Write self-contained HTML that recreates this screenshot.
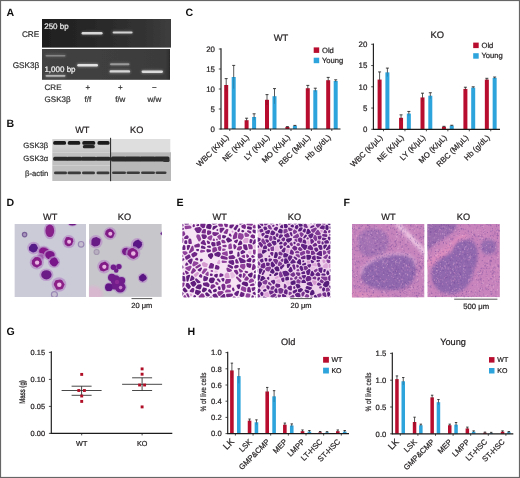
<!DOCTYPE html>
<html><head><meta charset="utf-8"><style>
html,body{margin:0;padding:0;background:#fff;}
svg{display:block;will-change:transform;}
text{font-family:"Liberation Sans",sans-serif;text-rendering:geometricPrecision;}
</style></head><body>
<svg width="520" height="478" viewBox="0 0 520 478">
<defs><filter id="gblur" x="0" y="0" width="100%" height="100%"><feGaussianBlur stdDeviation="0.35"/></filter></defs>
<g filter="url(#gblur)">
<rect width="520" height="478" fill="#fff"/>
<text x="6.5" y="15.6" font-size="10.6" text-anchor="start" font-weight="bold" fill="#111" stroke="#111" stroke-width="0" >A</text>
<text x="6.5" y="127" font-size="10.6" text-anchor="start" font-weight="bold" fill="#111" stroke="#111" stroke-width="0" >B</text>
<text x="185.5" y="16" font-size="10.6" text-anchor="start" font-weight="bold" fill="#111" stroke="#111" stroke-width="0" >C</text>
<text x="6.5" y="206" font-size="10.6" text-anchor="start" font-weight="bold" fill="#111" stroke="#111" stroke-width="0" >D</text>
<text x="176.5" y="205.5" font-size="10.6" text-anchor="start" font-weight="bold" fill="#111" stroke="#111" stroke-width="0" >E</text>
<text x="343.5" y="205.5" font-size="10.6" text-anchor="start" font-weight="bold" fill="#111" stroke="#111" stroke-width="0" >F</text>
<text x="6.5" y="334.8" font-size="10.6" text-anchor="start" font-weight="bold" fill="#111" stroke="#111" stroke-width="0" >G</text>
<text x="187.5" y="334.8" font-size="10.6" text-anchor="start" font-weight="bold" fill="#111" stroke="#111" stroke-width="0" >H</text>
<defs><filter id="b1" x="-20%" y="-100%" width="140%" height="300%"><feGaussianBlur stdDeviation="0.6"/></filter><filter id="b2" x="-20%" y="-100%" width="140%" height="300%"><feGaussianBlur stdDeviation="0.9"/></filter><filter id="b3" x="-50%" y="-50%" width="200%" height="200%"><feGaussianBlur stdDeviation="0.65"/></filter><linearGradient id="gel1" x1="0" y1="0" x2="1" y2="0"><stop offset="0" stop-color="#1e1e1e"/><stop offset="0.4" stop-color="#282828"/><stop offset="0.8" stop-color="#333"/><stop offset="1" stop-color="#3e3e3e"/></linearGradient><linearGradient id="gel2" x1="0" y1="0" x2="1" y2="0"><stop offset="0" stop-color="#424242"/><stop offset="0.6" stop-color="#3e3e3e"/><stop offset="0.97" stop-color="#3a3a3a"/><stop offset="1" stop-color="#2a2a2a"/></linearGradient></defs>
<rect x="42" y="19" width="129" height="28.6" fill="url(#gel1)" />
<rect x="42" y="49.0" width="128" height="30.8" fill="url(#gel2)" />
<rect x="81.1" y="31.2" width="22" height="4.0" rx="1.5" fill="#d8d8d8" opacity="0.25" filter="url(#b2)"/>
<rect x="81.6" y="32.0" width="21" height="2.4" rx="1.2" fill="#d8d8d8" opacity="1" filter="url(#b1)"/>
<rect x="112.1" y="30.599999999999998" width="21" height="3.7" rx="1.5" fill="#d2d2d2" opacity="0.25" filter="url(#b2)"/>
<rect x="112.6" y="31.4" width="20" height="2.1" rx="1.2" fill="#d2d2d2" opacity="1" filter="url(#b1)"/>
<rect x="45.0" y="54.1" width="21" height="3.1" rx="1.5" fill="#858585" opacity="0.35" filter="url(#b2)"/>
<rect x="45.5" y="54.9" width="20" height="1.5" rx="1.2" fill="#858585" opacity="1" filter="url(#b1)"/>
<rect x="76.8" y="63.3" width="21.7" height="4.0" rx="1.5" fill="#e2e2e2" opacity="0.35" filter="url(#b2)"/>
<rect x="77.3" y="64.1" width="20.7" height="2.4" rx="1.2" fill="#e2e2e2" opacity="1" filter="url(#b1)"/>
<rect x="109.5" y="62.5" width="20.5" height="3.5" rx="1.5" fill="#9a9a9a" opacity="0.35" filter="url(#b2)"/>
<rect x="110" y="63.3" width="19.5" height="1.9" rx="1.2" fill="#9a9a9a" opacity="1" filter="url(#b1)"/>
<rect x="109.1" y="69.4" width="21.5" height="4.0" rx="1.5" fill="#d6d6d6" opacity="0.35" filter="url(#b2)"/>
<rect x="109.6" y="70.2" width="20.5" height="2.4" rx="1.2" fill="#d6d6d6" opacity="1" filter="url(#b1)"/>
<rect x="141.1" y="69.8" width="22.4" height="3.9" rx="1.5" fill="#dadada" opacity="0.35" filter="url(#b2)"/>
<rect x="141.6" y="70.6" width="21.4" height="2.3" rx="1.2" fill="#dadada" opacity="1" filter="url(#b1)"/>
<rect x="45.0" y="74.10000000000001" width="21" height="3.4000000000000004" rx="1.5" fill="#b4b4b4" opacity="0.35" filter="url(#b2)"/>
<rect x="45.5" y="74.9" width="20" height="1.8" rx="1.2" fill="#b4b4b4" opacity="1" filter="url(#b1)"/>
<text x="44.2" y="28.9" font-size="8" text-anchor="start" font-weight="normal" fill="#ececec" stroke="#ececec" stroke-width="0.22" >250 bp</text>
<text x="44.4" y="72.3" font-size="8" text-anchor="start" font-weight="normal" fill="#f4f4f4" stroke="#f4f4f4" stroke-width="0.22" >1,000 bp</text>
<text x="39.2" y="37" font-size="8.2" text-anchor="end" font-weight="normal" fill="#333" stroke="#333" stroke-width="0.22" >CRE</text>
<text x="39.2" y="68.4" font-size="8.2" text-anchor="end" font-weight="normal" fill="#333" stroke="#333" stroke-width="0.22" >GSK3β</text>
<text x="44.6" y="90" font-size="8" text-anchor="start" font-weight="normal" fill="#333" stroke="#333" stroke-width="0.22" >CRE</text>
<text x="44.6" y="101.5" font-size="8" text-anchor="start" font-weight="normal" fill="#333" stroke="#333" stroke-width="0.22" >GSK3β</text>
<text x="87.9" y="90" font-size="8" text-anchor="middle" font-weight="normal" fill="#333" stroke="#333" stroke-width="0.22" >+</text>
<text x="87.9" y="101.5" font-size="8" text-anchor="middle" font-weight="normal" fill="#333" stroke="#333" stroke-width="0.22" >f/f</text>
<text x="120.3" y="90" font-size="8" text-anchor="middle" font-weight="normal" fill="#333" stroke="#333" stroke-width="0.22" >+</text>
<text x="120.3" y="101.5" font-size="8" text-anchor="middle" font-weight="normal" fill="#333" stroke="#333" stroke-width="0.22" >f/w</text>
<text x="154.3" y="90" font-size="8" text-anchor="middle" font-weight="normal" fill="#333" stroke="#333" stroke-width="0.22" >−</text>
<text x="154.3" y="101.5" font-size="8" text-anchor="middle" font-weight="normal" fill="#333" stroke="#333" stroke-width="0.22" >w/w</text>
<text x="82.3" y="133.2" font-size="9.2" text-anchor="middle" font-weight="normal" fill="#231f20" stroke="#231f20" stroke-width="0.22" >WT</text>
<text x="136.7" y="133.4" font-size="9.2" text-anchor="middle" font-weight="normal" fill="#231f20" stroke="#231f20" stroke-width="0.22" >KO</text>
<text x="48.3" y="147.5" font-size="7.7" text-anchor="end" font-weight="normal" fill="#333" stroke="#333" stroke-width="0.22" >GSK3β</text>
<text x="48.3" y="161.2" font-size="7.7" text-anchor="end" font-weight="normal" fill="#333" stroke="#333" stroke-width="0.22" >GSK3α</text>
<text x="48.3" y="176" font-size="7.7" text-anchor="end" font-weight="normal" fill="#333" stroke="#333" stroke-width="0.22" >β-actin</text>
<linearGradient id="bl1" x1="0" y1="0" x2="0" y2="1"><stop offset="0" stop-color="#d4d4d4"/><stop offset="0.6" stop-color="#d0d0d0"/><stop offset="1" stop-color="#c4c4c4"/></linearGradient>
<rect x="52.3" y="139" width="58.3" height="13.5" fill="url(#bl1)" />
<rect x="52.3" y="152.5" width="58.3" height="13" fill="#c0c0c0" />
<rect x="52.3" y="165.5" width="58.3" height="15.5" fill="#c0c0c0" />
<rect x="110.6" y="139" width="59.7" height="13.2" fill="#dedede" />
<rect x="110.6" y="152.2" width="60.4" height="28.8" fill="#b8b8b8" />
<rect x="53.2" y="141.1" width="12.799999999999997" height="3.6" rx="1.5" fill="#1c1c1c" opacity="1" filter="url(#b3)"/>
<rect x="67.8" y="141.1" width="12.400000000000006" height="3.6" rx="1.5" fill="#1c1c1c" opacity="1" filter="url(#b3)"/>
<rect x="82.3" y="141.1" width="12.900000000000006" height="3.6" rx="1.5" fill="#1c1c1c" opacity="1" filter="url(#b3)"/>
<rect x="97.5" y="141.1" width="12.0" height="3.6" rx="1.5" fill="#1c1c1c" opacity="1" filter="url(#b3)"/>
<rect x="82.8" y="145.0" width="12" height="3.2" rx="1.5" fill="#262626" opacity="1" filter="url(#b3)"/>
<rect x="53.2" y="156.7" width="14.799999999999997" height="4.0" rx="1.5" fill="#2c2c2c" opacity="1" filter="url(#b3)"/>
<rect x="66.5" y="156.7" width="15.5" height="4.0" rx="1.5" fill="#2c2c2c" opacity="1" filter="url(#b3)"/>
<rect x="81" y="156.7" width="15.5" height="4.0" rx="1.5" fill="#2c2c2c" opacity="1" filter="url(#b3)"/>
<rect x="95.5" y="156.7" width="15.0" height="4.0" rx="1.5" fill="#2c2c2c" opacity="1" filter="url(#b3)"/>
<rect x="111" y="156.6" width="15" height="4.8" rx="1.5" fill="#2c2c2c" opacity="1" filter="url(#b3)"/>
<rect x="124.5" y="156.6" width="16.5" height="4.8" rx="1.5" fill="#2c2c2c" opacity="1" filter="url(#b3)"/>
<rect x="139.5" y="156.6" width="16.0" height="4.8" rx="1.5" fill="#2c2c2c" opacity="1" filter="url(#b3)"/>
<rect x="154" y="156.6" width="15.5" height="4.8" rx="1.5" fill="#2c2c2c" opacity="1" filter="url(#b3)"/>
<rect x="163" y="159.5" width="6.5" height="2.5" rx="1.5" fill="#333" opacity="1" filter="url(#b3)"/>
<rect x="54" y="171.6" width="13" height="2.7" rx="1.5" fill="#3a3a3a" opacity="1" filter="url(#b3)"/>
<rect x="67.5" y="171.6" width="13.5" height="2.7" rx="1.5" fill="#3a3a3a" opacity="1" filter="url(#b3)"/>
<rect x="82" y="171.6" width="13" height="2.7" rx="1.5" fill="#3a3a3a" opacity="1" filter="url(#b3)"/>
<rect x="96.5" y="171.6" width="13.0" height="2.7" rx="1.5" fill="#3a3a3a" opacity="1" filter="url(#b3)"/>
<rect x="112" y="171.4" width="14" height="2.6" rx="1.5" fill="#3a3a3a" opacity="1" filter="url(#b3)"/>
<rect x="126.5" y="171.4" width="13.5" height="2.6" rx="1.5" fill="#3a3a3a" opacity="1" filter="url(#b3)"/>
<rect x="141" y="171.4" width="14" height="2.6" rx="1.5" fill="#3a3a3a" opacity="1" filter="url(#b3)"/>
<rect x="155.5" y="171.4" width="11.0" height="2.6" rx="1.5" fill="#3a3a3a" opacity="1" filter="url(#b3)"/>
<line x1="110.6" y1="137.8" x2="110.6" y2="181.2" stroke="#222" stroke-width="1.0" />
<line x1="221" y1="48.2" x2="221" y2="129.5" stroke="#1a1a1a" stroke-width="1.15" />
<line x1="218.8" y1="129.0" x2="221" y2="129.0" stroke="#222" stroke-width="0.8" />
<text x="215.0" y="131.7" font-size="7.9" text-anchor="end" font-weight="normal" fill="#231f20" stroke="#231f20" stroke-width="0.22" >0</text>
<line x1="218.8" y1="109.0" x2="221" y2="109.0" stroke="#222" stroke-width="0.8" />
<text x="215.0" y="111.7" font-size="7.9" text-anchor="end" font-weight="normal" fill="#231f20" stroke="#231f20" stroke-width="0.22" >5</text>
<line x1="218.8" y1="89.0" x2="221" y2="89.0" stroke="#222" stroke-width="0.8" />
<text x="215.0" y="91.7" font-size="7.9" text-anchor="end" font-weight="normal" fill="#231f20" stroke="#231f20" stroke-width="0.22" >10</text>
<line x1="218.8" y1="69.0" x2="221" y2="69.0" stroke="#222" stroke-width="0.8" />
<text x="215.0" y="71.7" font-size="7.9" text-anchor="end" font-weight="normal" fill="#231f20" stroke="#231f20" stroke-width="0.22" >15</text>
<line x1="218.8" y1="49.0" x2="221" y2="49.0" stroke="#222" stroke-width="0.8" />
<text x="215.0" y="51.7" font-size="7.9" text-anchor="end" font-weight="normal" fill="#231f20" stroke="#231f20" stroke-width="0.22" >20</text>
<rect x="224.20000000000002" y="85.0" width="4" height="44.0" fill="#b8102e" />
<line x1="226.20000000000002" y1="85.0" x2="226.20000000000002" y2="91.4" stroke="#222" stroke-width="0.9" opacity="0.25"/>
<line x1="226.20000000000002" y1="78.6" x2="226.20000000000002" y2="85.3" stroke="#222" stroke-width="0.75" />
<line x1="224.70000000000002" y1="78.6" x2="227.70000000000002" y2="78.6" stroke="#222" stroke-width="0.85" />
<rect x="231.70000000000002" y="77.0" width="4" height="52.0" fill="#2ea4dc" />
<line x1="233.70000000000002" y1="77.0" x2="233.70000000000002" y2="88.6" stroke="#222" stroke-width="0.9" opacity="0.25"/>
<line x1="233.70000000000002" y1="65.4" x2="233.70000000000002" y2="77.3" stroke="#222" stroke-width="0.75" />
<line x1="232.20000000000002" y1="65.4" x2="235.20000000000002" y2="65.4" stroke="#222" stroke-width="0.85" />
<line x1="229.8" y1="129" x2="229.8" y2="131" stroke="#222" stroke-width="0.8" />
<rect x="244.60000000000002" y="120.2" width="4" height="8.8" fill="#b8102e" />
<line x1="246.60000000000002" y1="120.2" x2="246.60000000000002" y2="122.2" stroke="#222" stroke-width="0.9" opacity="0.25"/>
<line x1="246.60000000000002" y1="118.2" x2="246.60000000000002" y2="120.5" stroke="#222" stroke-width="0.75" />
<line x1="245.10000000000002" y1="118.2" x2="248.10000000000002" y2="118.2" stroke="#222" stroke-width="0.85" />
<rect x="252.10000000000002" y="117.0" width="4" height="12.0" fill="#2ea4dc" />
<line x1="254.10000000000002" y1="117.0" x2="254.10000000000002" y2="120.2" stroke="#222" stroke-width="0.9" opacity="0.25"/>
<line x1="254.10000000000002" y1="113.8" x2="254.10000000000002" y2="117.3" stroke="#222" stroke-width="0.75" />
<line x1="252.60000000000002" y1="113.8" x2="255.60000000000002" y2="113.8" stroke="#222" stroke-width="0.85" />
<line x1="250.20000000000002" y1="129" x2="250.20000000000002" y2="131" stroke="#222" stroke-width="0.8" />
<rect x="265.0" y="99.8" width="4" height="29.2" fill="#b8102e" />
<line x1="267.0" y1="99.8" x2="267.0" y2="105.0" stroke="#222" stroke-width="0.9" opacity="0.25"/>
<line x1="267.0" y1="94.6" x2="267.0" y2="100.1" stroke="#222" stroke-width="0.75" />
<line x1="265.5" y1="94.6" x2="268.5" y2="94.6" stroke="#222" stroke-width="0.85" />
<rect x="272.5" y="96.2" width="4" height="32.8" fill="#2ea4dc" />
<line x1="274.5" y1="96.2" x2="274.5" y2="103.80000000000001" stroke="#222" stroke-width="0.9" opacity="0.25"/>
<line x1="274.5" y1="88.6" x2="274.5" y2="96.5" stroke="#222" stroke-width="0.75" />
<line x1="273.0" y1="88.6" x2="276.0" y2="88.6" stroke="#222" stroke-width="0.85" />
<line x1="270.6" y1="129" x2="270.6" y2="131" stroke="#222" stroke-width="0.8" />
<rect x="285.4" y="127.0" width="4" height="2.0" fill="#b8102e" />
<line x1="287.4" y1="127.0" x2="287.4" y2="127.4" stroke="#222" stroke-width="0.9" opacity="0.25"/>
<line x1="287.4" y1="126.6" x2="287.4" y2="127.3" stroke="#222" stroke-width="0.75" />
<line x1="285.9" y1="126.6" x2="288.9" y2="126.6" stroke="#222" stroke-width="0.85" />
<rect x="292.9" y="125.8" width="4" height="3.2" fill="#2ea4dc" />
<line x1="294.9" y1="125.8" x2="294.9" y2="126.2" stroke="#222" stroke-width="0.9" opacity="0.25"/>
<line x1="294.9" y1="125.4" x2="294.9" y2="126.1" stroke="#222" stroke-width="0.75" />
<line x1="293.4" y1="125.4" x2="296.4" y2="125.4" stroke="#222" stroke-width="0.85" />
<line x1="291.0" y1="129" x2="291.0" y2="131" stroke="#222" stroke-width="0.8" />
<rect x="305.79999999999995" y="88.2" width="4" height="40.8" fill="#b8102e" />
<line x1="307.79999999999995" y1="88.2" x2="307.79999999999995" y2="91.0" stroke="#222" stroke-width="0.9" opacity="0.25"/>
<line x1="307.79999999999995" y1="85.4" x2="307.79999999999995" y2="88.5" stroke="#222" stroke-width="0.75" />
<line x1="306.29999999999995" y1="85.4" x2="309.29999999999995" y2="85.4" stroke="#222" stroke-width="0.85" />
<rect x="313.29999999999995" y="90.2" width="4" height="38.8" fill="#2ea4dc" />
<line x1="315.29999999999995" y1="90.2" x2="315.29999999999995" y2="92.2" stroke="#222" stroke-width="0.9" opacity="0.25"/>
<line x1="315.29999999999995" y1="88.2" x2="315.29999999999995" y2="90.5" stroke="#222" stroke-width="0.75" />
<line x1="313.79999999999995" y1="88.2" x2="316.79999999999995" y2="88.2" stroke="#222" stroke-width="0.85" />
<line x1="311.4" y1="129" x2="311.4" y2="131" stroke="#222" stroke-width="0.8" />
<rect x="326.2" y="80.2" width="4" height="48.8" fill="#b8102e" />
<line x1="328.2" y1="80.2" x2="328.2" y2="83.0" stroke="#222" stroke-width="0.9" opacity="0.25"/>
<line x1="328.2" y1="77.4" x2="328.2" y2="80.5" stroke="#222" stroke-width="0.75" />
<line x1="326.7" y1="77.4" x2="329.7" y2="77.4" stroke="#222" stroke-width="0.85" />
<rect x="333.7" y="81.0" width="4" height="48.0" fill="#2ea4dc" />
<line x1="335.7" y1="81.0" x2="335.7" y2="82.2" stroke="#222" stroke-width="0.9" opacity="0.25"/>
<line x1="335.7" y1="79.8" x2="335.7" y2="81.3" stroke="#222" stroke-width="0.75" />
<line x1="334.2" y1="79.8" x2="337.2" y2="79.8" stroke="#222" stroke-width="0.85" />
<line x1="331.8" y1="129" x2="331.8" y2="131" stroke="#222" stroke-width="0.8" />
<line x1="220.5" y1="129" x2="340.5" y2="129" stroke="#1a1a1a" stroke-width="1.15" />
<text x="0" y="0" font-size="7.8" text-anchor="end" fill="#231f20" stroke="#231f20" stroke-width="0.22" transform="translate(229.3,137.8) rotate(-45)">WBC (K/μL)</text>
<text x="0" y="0" font-size="7.8" text-anchor="end" fill="#231f20" stroke="#231f20" stroke-width="0.22" transform="translate(249.70000000000002,137.8) rotate(-45)">NE (K/μL)</text>
<text x="0" y="0" font-size="7.8" text-anchor="end" fill="#231f20" stroke="#231f20" stroke-width="0.22" transform="translate(270.1,137.8) rotate(-45)">LY (K/μL)</text>
<text x="0" y="0" font-size="7.8" text-anchor="end" fill="#231f20" stroke="#231f20" stroke-width="0.22" transform="translate(290.5,137.8) rotate(-45)">MO (K/μL)</text>
<text x="0" y="0" font-size="7.8" text-anchor="end" fill="#231f20" stroke="#231f20" stroke-width="0.22" transform="translate(310.9,137.8) rotate(-45)">RBC (M/μL)</text>
<text x="0" y="0" font-size="7.8" text-anchor="end" fill="#231f20" stroke="#231f20" stroke-width="0.22" transform="translate(331.3,137.8) rotate(-45)">Hb (g/dL)</text>
<text x="281" y="41.2" font-size="9.4" text-anchor="middle" font-weight="normal" fill="#231f20" stroke="#231f20" stroke-width="0.22" >WT</text>
<rect x="313.7" y="47.4" width="5.5" height="5.5" fill="#b8102e" />
<text x="322.0" y="52.5" font-size="7.6" text-anchor="start" font-weight="normal" fill="#231f20" stroke="#231f20" stroke-width="0.22" >Old</text>
<rect x="313.7" y="57.7" width="5.5" height="5.5" fill="#2ea4dc" />
<text x="322.0" y="62.800000000000004" font-size="7.6" text-anchor="start" font-weight="normal" fill="#231f20" stroke="#231f20" stroke-width="0.22" >Young</text>
<line x1="373.4" y1="43.500000000000014" x2="373.4" y2="129.8" stroke="#1a1a1a" stroke-width="1.15" />
<line x1="371.2" y1="129.3" x2="373.4" y2="129.3" stroke="#222" stroke-width="0.8" />
<text x="367.4" y="132.0" font-size="7.9" text-anchor="end" font-weight="normal" fill="#231f20" stroke="#231f20" stroke-width="0.22" >0</text>
<line x1="371.2" y1="108.05000000000001" x2="373.4" y2="108.05000000000001" stroke="#222" stroke-width="0.8" />
<text x="367.4" y="110.75000000000001" font-size="7.9" text-anchor="end" font-weight="normal" fill="#231f20" stroke="#231f20" stroke-width="0.22" >5</text>
<line x1="371.2" y1="86.80000000000001" x2="373.4" y2="86.80000000000001" stroke="#222" stroke-width="0.8" />
<text x="367.4" y="89.50000000000001" font-size="7.9" text-anchor="end" font-weight="normal" fill="#231f20" stroke="#231f20" stroke-width="0.22" >10</text>
<line x1="371.2" y1="65.55000000000001" x2="373.4" y2="65.55000000000001" stroke="#222" stroke-width="0.8" />
<text x="367.4" y="68.25000000000001" font-size="7.9" text-anchor="end" font-weight="normal" fill="#231f20" stroke="#231f20" stroke-width="0.22" >15</text>
<line x1="371.2" y1="44.30000000000001" x2="373.4" y2="44.30000000000001" stroke="#222" stroke-width="0.8" />
<text x="367.4" y="47.000000000000014" font-size="7.9" text-anchor="end" font-weight="normal" fill="#231f20" stroke="#231f20" stroke-width="0.22" >20</text>
<rect x="377.6" y="79.57500000000002" width="4" height="49.724999999999994" fill="#b8102e" />
<line x1="379.6" y1="79.57500000000002" x2="379.6" y2="87.22500000000002" stroke="#222" stroke-width="0.9" opacity="0.25"/>
<line x1="379.6" y1="71.92500000000001" x2="379.6" y2="79.87500000000001" stroke="#222" stroke-width="0.75" />
<line x1="378.1" y1="71.92500000000001" x2="381.1" y2="71.92500000000001" stroke="#222" stroke-width="0.85" />
<rect x="385.4" y="72.35000000000001" width="4" height="56.95" fill="#2ea4dc" />
<line x1="387.4" y1="72.35000000000001" x2="387.4" y2="76.60000000000001" stroke="#222" stroke-width="0.9" opacity="0.25"/>
<line x1="387.4" y1="68.10000000000001" x2="387.4" y2="72.65" stroke="#222" stroke-width="0.75" />
<line x1="385.9" y1="68.10000000000001" x2="388.9" y2="68.10000000000001" stroke="#222" stroke-width="0.85" />
<line x1="383.5" y1="129.3" x2="383.5" y2="131.3" stroke="#222" stroke-width="0.8" />
<rect x="399.05" y="117.82500000000002" width="4" height="11.475000000000001" fill="#b8102e" />
<line x1="401.05" y1="117.82500000000002" x2="401.05" y2="120.80000000000001" stroke="#222" stroke-width="0.9" opacity="0.25"/>
<line x1="401.05" y1="114.85000000000001" x2="401.05" y2="118.12500000000001" stroke="#222" stroke-width="0.75" />
<line x1="399.55" y1="114.85000000000001" x2="402.55" y2="114.85000000000001" stroke="#222" stroke-width="0.85" />
<rect x="406.84999999999997" y="113.57500000000002" width="4" height="15.725000000000001" fill="#2ea4dc" />
<line x1="408.84999999999997" y1="113.57500000000002" x2="408.84999999999997" y2="115.70000000000002" stroke="#222" stroke-width="0.9" opacity="0.25"/>
<line x1="408.84999999999997" y1="111.45000000000002" x2="408.84999999999997" y2="113.87500000000001" stroke="#222" stroke-width="0.75" />
<line x1="407.34999999999997" y1="111.45000000000002" x2="410.34999999999997" y2="111.45000000000002" stroke="#222" stroke-width="0.85" />
<line x1="404.95" y1="129.3" x2="404.95" y2="131.3" stroke="#222" stroke-width="0.8" />
<rect x="420.5" y="97.42500000000001" width="4" height="31.875" fill="#b8102e" />
<line x1="422.5" y1="97.42500000000001" x2="422.5" y2="101.67500000000001" stroke="#222" stroke-width="0.9" opacity="0.25"/>
<line x1="422.5" y1="93.17500000000001" x2="422.5" y2="97.72500000000001" stroke="#222" stroke-width="0.75" />
<line x1="421.0" y1="93.17500000000001" x2="424.0" y2="93.17500000000001" stroke="#222" stroke-width="0.85" />
<rect x="428.29999999999995" y="95.72500000000001" width="4" height="33.575" fill="#2ea4dc" />
<line x1="430.29999999999995" y1="95.72500000000001" x2="430.29999999999995" y2="98.7" stroke="#222" stroke-width="0.9" opacity="0.25"/>
<line x1="430.29999999999995" y1="92.75000000000001" x2="430.29999999999995" y2="96.025" stroke="#222" stroke-width="0.75" />
<line x1="428.79999999999995" y1="92.75000000000001" x2="431.79999999999995" y2="92.75000000000001" stroke="#222" stroke-width="0.85" />
<line x1="426.4" y1="129.3" x2="426.4" y2="131.3" stroke="#222" stroke-width="0.8" />
<rect x="441.95000000000005" y="126.75000000000001" width="4" height="2.55" fill="#b8102e" />
<line x1="443.95000000000005" y1="126.75000000000001" x2="443.95000000000005" y2="127.17500000000001" stroke="#222" stroke-width="0.9" opacity="0.25"/>
<line x1="443.95000000000005" y1="126.32500000000002" x2="443.95000000000005" y2="127.05000000000001" stroke="#222" stroke-width="0.75" />
<line x1="442.45000000000005" y1="126.32500000000002" x2="445.45000000000005" y2="126.32500000000002" stroke="#222" stroke-width="0.85" />
<rect x="449.75" y="125.68750000000001" width="4" height="3.6125" fill="#2ea4dc" />
<line x1="451.75" y1="125.68750000000001" x2="451.75" y2="126.11250000000001" stroke="#222" stroke-width="0.9" opacity="0.25"/>
<line x1="451.75" y1="125.26250000000002" x2="451.75" y2="125.98750000000001" stroke="#222" stroke-width="0.75" />
<line x1="450.25" y1="125.26250000000002" x2="453.25" y2="125.26250000000002" stroke="#222" stroke-width="0.85" />
<line x1="447.85" y1="129.3" x2="447.85" y2="131.3" stroke="#222" stroke-width="0.8" />
<rect x="463.40000000000003" y="88.92500000000001" width="4" height="40.375" fill="#b8102e" />
<line x1="465.40000000000003" y1="88.92500000000001" x2="465.40000000000003" y2="90.62500000000001" stroke="#222" stroke-width="0.9" opacity="0.25"/>
<line x1="465.40000000000003" y1="87.22500000000001" x2="465.40000000000003" y2="89.22500000000001" stroke="#222" stroke-width="0.75" />
<line x1="463.90000000000003" y1="87.22500000000001" x2="466.90000000000003" y2="87.22500000000001" stroke="#222" stroke-width="0.85" />
<rect x="471.2" y="87.65" width="4" height="41.650000000000006" fill="#2ea4dc" />
<line x1="473.2" y1="87.65" x2="473.2" y2="88.5" stroke="#222" stroke-width="0.9" opacity="0.25"/>
<line x1="473.2" y1="86.80000000000001" x2="473.2" y2="87.95" stroke="#222" stroke-width="0.75" />
<line x1="471.7" y1="86.80000000000001" x2="474.7" y2="86.80000000000001" stroke="#222" stroke-width="0.85" />
<line x1="469.3" y1="129.3" x2="469.3" y2="131.3" stroke="#222" stroke-width="0.8" />
<rect x="484.85" y="79.57500000000002" width="4" height="49.724999999999994" fill="#b8102e" />
<line x1="486.85" y1="79.57500000000002" x2="486.85" y2="80.85000000000002" stroke="#222" stroke-width="0.9" opacity="0.25"/>
<line x1="486.85" y1="78.30000000000001" x2="486.85" y2="79.87500000000001" stroke="#222" stroke-width="0.75" />
<line x1="485.35" y1="78.30000000000001" x2="488.35" y2="78.30000000000001" stroke="#222" stroke-width="0.85" />
<rect x="492.65" y="77.87500000000001" width="4" height="51.425" fill="#2ea4dc" />
<line x1="494.65" y1="77.87500000000001" x2="494.65" y2="78.72500000000002" stroke="#222" stroke-width="0.9" opacity="0.25"/>
<line x1="494.65" y1="77.025" x2="494.65" y2="78.17500000000001" stroke="#222" stroke-width="0.75" />
<line x1="493.15" y1="77.025" x2="496.15" y2="77.025" stroke="#222" stroke-width="0.85" />
<line x1="490.75" y1="129.3" x2="490.75" y2="131.3" stroke="#222" stroke-width="0.8" />
<line x1="372.9" y1="129.3" x2="500" y2="129.3" stroke="#1a1a1a" stroke-width="1.15" />
<text x="0" y="0" font-size="7.8" text-anchor="end" fill="#231f20" stroke="#231f20" stroke-width="0.22" transform="translate(383.0,138.10000000000002) rotate(-45)">WBC (K/μL)</text>
<text x="0" y="0" font-size="7.8" text-anchor="end" fill="#231f20" stroke="#231f20" stroke-width="0.22" transform="translate(404.45,138.10000000000002) rotate(-45)">NE (K/μL)</text>
<text x="0" y="0" font-size="7.8" text-anchor="end" fill="#231f20" stroke="#231f20" stroke-width="0.22" transform="translate(425.9,138.10000000000002) rotate(-45)">LY (K/μL)</text>
<text x="0" y="0" font-size="7.8" text-anchor="end" fill="#231f20" stroke="#231f20" stroke-width="0.22" transform="translate(447.35,138.10000000000002) rotate(-45)">MO (K/μL)</text>
<text x="0" y="0" font-size="7.8" text-anchor="end" fill="#231f20" stroke="#231f20" stroke-width="0.22" transform="translate(468.8,138.10000000000002) rotate(-45)">RBC (M/μL)</text>
<text x="0" y="0" font-size="7.8" text-anchor="end" fill="#231f20" stroke="#231f20" stroke-width="0.22" transform="translate(490.25,138.10000000000002) rotate(-45)">Hb (g/dL)</text>
<text x="437.2" y="37.6" font-size="9.4" text-anchor="middle" font-weight="normal" fill="#231f20" stroke="#231f20" stroke-width="0.22" >KO</text>
<rect x="473.2" y="42.6" width="5.5" height="5.5" fill="#b8102e" />
<text x="481.5" y="47.7" font-size="7.6" text-anchor="start" font-weight="normal" fill="#231f20" stroke="#231f20" stroke-width="0.22" >Old</text>
<rect x="473.2" y="53.2" width="5.5" height="5.5" fill="#2ea4dc" />
<text x="481.5" y="58.300000000000004" font-size="7.6" text-anchor="start" font-weight="normal" fill="#231f20" stroke="#231f20" stroke-width="0.22" >Young</text>
<text x="50.2" y="219.5" font-size="9.2" text-anchor="middle" font-weight="normal" fill="#231f20" stroke="#231f20" stroke-width="0.22" >WT</text>
<text x="124.5" y="219.5" font-size="9.2" text-anchor="middle" font-weight="normal" fill="#231f20" stroke="#231f20" stroke-width="0.22" >KO</text>
<text x="219.7" y="219.5" font-size="9.2" text-anchor="middle" font-weight="normal" fill="#231f20" stroke="#231f20" stroke-width="0.22" >WT</text>
<text x="294.4" y="219.5" font-size="9.2" text-anchor="middle" font-weight="normal" fill="#231f20" stroke="#231f20" stroke-width="0.22" >KO</text>
<text x="388.4" y="219.5" font-size="9.2" text-anchor="middle" font-weight="normal" fill="#231f20" stroke="#231f20" stroke-width="0.22" >WT</text>
<text x="463.4" y="219.5" font-size="9.2" text-anchor="middle" font-weight="normal" fill="#231f20" stroke="#231f20" stroke-width="0.22" >KO</text>
<line x1="131.5" y1="298.6" x2="152.2" y2="298.6" stroke="#444" stroke-width="0.9" />
<text x="141.8" y="307.6" font-size="7.5" text-anchor="middle" font-weight="normal" fill="#231f20" stroke="#231f20" stroke-width="0.22" >20 μm</text>
<line x1="290.3" y1="298.6" x2="312" y2="298.6" stroke="#444" stroke-width="0.9" />
<text x="301.1" y="307.6" font-size="7.5" text-anchor="middle" font-weight="normal" fill="#231f20" stroke="#231f20" stroke-width="0.22" >20 μm</text>
<line x1="454.2" y1="299.2" x2="497.4" y2="299.2" stroke="#444" stroke-width="0.9" />
<text x="476.2" y="308.6" font-size="7.7" text-anchor="middle" font-weight="normal" fill="#231f20" stroke="#231f20" stroke-width="0.22" >500 μm</text>
<defs><clipPath id="cdw"><rect x="14.4" y="223.9" width="71.6" height="73.2"/></clipPath><clipPath id="cdk"><rect x="88.9" y="223.9" width="72.9" height="73"/></clipPath><clipPath id="cew"><rect x="182.4" y="223.8" width="73.3" height="73.6"/></clipPath><clipPath id="cek"><rect x="257.7" y="223.8" width="72.7" height="73.6"/></clipPath><clipPath id="cfw"><rect x="351.9" y="223.9" width="72.6" height="73.6"/></clipPath><clipPath id="cfk"><rect x="427.3" y="223.9" width="72.6" height="73.4"/></clipPath><filter id="soft" x="-50%" y="-50%" width="200%" height="200%"><feGaussianBlur stdDeviation="0.55"/></filter><filter id="softE" x="0" y="0" width="100%" height="100%"><feGaussianBlur stdDeviation="0.45"/></filter><filter id="soft2" x="-50%" y="-50%" width="200%" height="200%"><feGaussianBlur stdDeviation="1.6"/></filter><filter id="soft3" x="-50%" y="-50%" width="200%" height="200%"><feGaussianBlur stdDeviation="3"/></filter></defs>
<g clip-path="url(#cdw)">
<rect x="14.4" y="223.9" width="71.6" height="73.2" fill="#cbcbd8"/>
<circle cx="24.6" cy="234.6" r="2.2" fill="#a896bc" stroke="#7a6098" stroke-width="1.2" filter="url(#soft)"/>
<circle cx="81.1" cy="244.3" r="2.8" fill="#c4bccf" stroke="#9a88b4" stroke-width="1.2" filter="url(#soft)"/>
<circle cx="54.4" cy="294.6" r="3.0" fill="#c4bccf" stroke="#9a88b4" stroke-width="1.2" filter="url(#soft)"/>
<ellipse cx="49.8" cy="230.8" rx="5.98" ry="8.57" fill="#b890c8" opacity="0.75" filter="url(#soft)" transform="rotate(0 49.8 230.8)"/>
<ellipse cx="49.8" cy="230.8" rx="4.4" ry="6.3" fill="#86208a" filter="url(#soft)" transform="rotate(0 49.8 230.8)"/>
<ellipse cx="72.4" cy="223.0" rx="5.17" ry="3.40" fill="#b890c8" opacity="0.75" filter="url(#soft)" transform="rotate(0 72.4 223.0)"/>
<ellipse cx="72.4" cy="223.0" rx="3.8" ry="2.5" fill="#6a1a82" filter="url(#soft)" transform="rotate(0 72.4 223.0)"/>
<ellipse cx="68.8" cy="241.6" rx="6.53" ry="6.53" fill="#b890c8" opacity="0.75" filter="url(#soft)" transform="rotate(0 68.8 241.6)"/>
<path d="M73.3 241.2 L72.0 244.7 L69.5 246.2 L67.4 246.2 L64.8 244.2 L64.4 241.0 L66.1 237.3 L68.7 237.0 L72.9 238.6Z" fill="#861c86" filter="url(#soft)" transform="translate(0 0) scale(1 1)" />
<ellipse cx="69.1" cy="241.79999999999998" rx="2.02" ry="2.02" fill="#e6b0e0" filter="url(#soft)"/>
<ellipse cx="33.6" cy="248.1" rx="6.39" ry="6.39" fill="#b890c8" opacity="0.75" filter="url(#soft)" transform="rotate(0 33.6 248.1)"/>
<path d="M38.2 248.3 L36.2 251.6 L33.6 252.6 L32.1 252.3 L29.1 250.2 L28.9 247.2 L31.6 244.0 L34.5 243.8 L36.3 244.5Z" fill="#561a88" filter="url(#soft)" transform="translate(0 0) scale(1 1)" />
<ellipse cx="44.2" cy="251.8" rx="7.34" ry="5.85" fill="#b890c8" opacity="0.75" filter="url(#soft)" transform="rotate(20 44.2 251.8)"/>
<ellipse cx="44.2" cy="251.8" rx="5.4" ry="4.3" fill="#86188a" filter="url(#soft)" transform="rotate(20 44.2 251.8)"/>
<ellipse cx="50.0" cy="255.0" rx="6.39" ry="5.58" fill="#b890c8" opacity="0.75" filter="url(#soft)" transform="rotate(0 50.0 255.0)"/>
<ellipse cx="50.0" cy="255.0" rx="4.7" ry="4.1" fill="#7a1888" filter="url(#soft)" transform="rotate(0 50.0 255.0)"/>
<ellipse cx="40.6" cy="257.2" rx="4.08" ry="4.08" fill="#b890c8" opacity="0.75" filter="url(#soft)" transform="rotate(0 40.6 257.2)"/>
<path d="M43.6 257.5 L43.1 258.9 L41.2 260.0 L38.7 259.6 L37.9 258.6 L37.6 256.1 L39.4 254.5 L41.7 254.6 L42.9 255.1Z" fill="#a060b0" filter="url(#soft)" transform="translate(0 0) scale(1 1)" />
<ellipse cx="36.8" cy="262.4" rx="7.07" ry="7.07" fill="#b890c8" opacity="0.75" filter="url(#soft)" transform="rotate(0 36.8 262.4)"/>
<path d="M41.9 261.5 L41.6 264.8 L37.0 267.7 L33.5 266.2 L31.7 263.7 L32.0 260.4 L34.9 257.2 L37.7 257.1 L40.1 258.1Z" fill="#881c88" filter="url(#soft)" transform="translate(0 0) scale(1 1)" />
<ellipse cx="37.099999999999994" cy="262.59999999999997" rx="2.18" ry="2.18" fill="#e8b4e2" filter="url(#soft)"/>
<ellipse cx="54.0" cy="262.0" rx="6.12" ry="6.12" fill="#b890c8" opacity="0.75" filter="url(#soft)" transform="rotate(0 54.0 262.0)"/>
<path d="M58.8 262.4 L56.8 265.3 L55.1 266.5 L52.7 266.3 L50.3 264.1 L49.3 261.4 L51.2 258.7 L54.6 257.3 L56.7 258.5Z" fill="#78188a" filter="url(#soft)" transform="translate(0 0) scale(1 1)" />
<ellipse cx="46.4" cy="274.8" rx="7.07" ry="6.26" fill="#b890c8" opacity="0.75" filter="url(#soft)" transform="rotate(0 46.4 274.8)"/>
<ellipse cx="46.4" cy="274.8" rx="5.2" ry="4.6" fill="#6c1a86" filter="url(#soft)" transform="rotate(0 46.4 274.8)"/>
<ellipse cx="59.0" cy="284.5" rx="7.34" ry="7.34" fill="#b890c8" opacity="0.75" filter="url(#soft)" transform="rotate(0 59.0 284.5)"/>
<path d="M64.7 284.6 L62.7 288.8 L60.5 289.6 L56.5 289.7 L53.9 285.1 L53.9 283.5 L55.7 280.2 L60.1 279.4 L62.1 280.2Z" fill="#8c2088" filter="url(#soft)" transform="translate(0 0) scale(1 1)" />
<ellipse cx="59.3" cy="284.7" rx="2.27" ry="2.27" fill="#eabce6" filter="url(#soft)"/>
</g>
<g clip-path="url(#cdk)">
<rect x="88.9" y="223.9" width="72.9" height="73" fill="#c7c7cb"/>
<ellipse cx="93" cy="294" rx="10" ry="8" fill="#dcb4d0" opacity="0.8" filter="url(#soft2)"/>
<circle cx="96.6" cy="252" r="2.5" fill="#b8b0c0" stroke="#a498b0" stroke-width="1.2" filter="url(#soft)"/>
<ellipse cx="110" cy="233.5" rx="6.53" ry="6.53" fill="#b890c8" opacity="0.75" filter="url(#soft)" transform="rotate(0 110 233.5)"/>
<path d="M114.8 233.2 L113.0 237.4 L110.8 238.3 L107.4 237.1 L105.0 234.2 L105.7 230.9 L107.4 229.5 L109.9 228.6 L112.7 230.0Z" fill="#801c86" filter="url(#soft)" transform="translate(0 0) scale(1 1)" />
<ellipse cx="110.3" cy="233.7" rx="2.02" ry="2.02" fill="#e6b0e0" filter="url(#soft)"/>
<ellipse cx="95.8" cy="241.8" rx="6.80" ry="6.80" fill="#b890c8" opacity="0.75" filter="url(#soft)" transform="rotate(0 95.8 241.8)"/>
<path d="M100.5 241.1 L99.6 244.5 L97.7 246.1 L94.2 246.4 L91.4 244.7 L91.5 239.9 L92.9 237.9 L96.3 237.1 L100.5 239.1Z" fill="#6a1a86" filter="url(#soft)" transform="translate(0 0) scale(1 1)" />
<ellipse cx="137.3" cy="244.6" rx="6.53" ry="6.53" fill="#b890c8" opacity="0.75" filter="url(#soft)" transform="rotate(0 137.3 244.6)"/>
<path d="M142.1 244.5 L141.3 246.7 L138.5 249.1 L134.4 248.1 L133.0 247.5 L133.1 243.0 L135.2 240.7 L138.3 239.5 L141.6 242.2Z" fill="#5a1684" filter="url(#soft)" transform="translate(0 0) scale(1 1)" />
<ellipse cx="126.6" cy="251.4" rx="6.12" ry="5.03" fill="#b890c8" opacity="0.75" filter="url(#soft)" transform="rotate(0 126.6 251.4)"/>
<ellipse cx="126.6" cy="251.4" rx="4.5" ry="3.7" fill="#761a88" filter="url(#soft)" transform="rotate(0 126.6 251.4)"/>
<ellipse cx="133" cy="253.4" rx="7.34" ry="7.34" fill="#b890c8" opacity="0.75" filter="url(#soft)" transform="rotate(0 133 253.4)"/>
<path d="M138.2 252.8 L137.9 256.3 L133.9 259.0 L130.8 258.1 L127.3 254.5 L128.1 250.6 L131.0 248.2 L133.2 248.0 L136.6 249.9Z" fill="#841c88" filter="url(#soft)" transform="translate(0 0) scale(1 1)" />
<ellipse cx="133.3" cy="253.6" rx="2.27" ry="2.27" fill="#e8b4e2" filter="url(#soft)"/>
<ellipse cx="104" cy="266.6" rx="6.80" ry="6.80" fill="#b890c8" opacity="0.75" filter="url(#soft)" transform="rotate(0 104 266.6)"/>
<path d="M108.7 265.5 L108.3 269.4 L103.7 271.6 L100.4 270.6 L99.1 267.2 L99.3 265.6 L101.0 262.9 L105.2 261.4 L108.3 264.1Z" fill="#841c88" filter="url(#soft)" transform="translate(0 0) scale(1 1)" />
<ellipse cx="104.3" cy="266.8" rx="2.10" ry="2.10" fill="#e8b4e2" filter="url(#soft)"/>
<g filter="url(#soft)">
<circle cx="113.4" cy="267.2" r="3.46" fill="#b49cc8" opacity="0.75"/>
<circle cx="118.9" cy="266.6" r="3.46" fill="#b49cc8" opacity="0.75"/>
<circle cx="116.2" cy="270.5" r="2.82" fill="#b49cc8" opacity="0.75"/>
<circle cx="111.8" cy="277.6" r="4.86" fill="#b49cc8" opacity="0.75"/>
<circle cx="115.6" cy="280.2" r="6.40" fill="#b49cc8" opacity="0.75"/>
<circle cx="121.6" cy="280.5" r="4.61" fill="#b49cc8" opacity="0.75"/>
<circle cx="108.9" cy="287.2" r="4.99" fill="#b49cc8" opacity="0.75"/>
<circle cx="120.2" cy="287.2" r="6.91" fill="#b49cc8" opacity="0.75"/>
<circle cx="114.5" cy="286" r="4.61" fill="#b49cc8" opacity="0.75"/>
<circle cx="113.4" cy="267.2" r="2.7" fill="#701c8a"/>
<circle cx="118.9" cy="266.6" r="2.7" fill="#701c8a"/>
<circle cx="116.2" cy="270.5" r="2.2" fill="#701c8a"/>
<circle cx="111.8" cy="277.6" r="3.8" fill="#701c8a"/>
<circle cx="115.6" cy="280.2" r="5.0" fill="#701c8a"/>
<circle cx="121.6" cy="280.5" r="3.6" fill="#701c8a"/>
<circle cx="108.9" cy="287.2" r="3.9" fill="#701c8a"/>
<circle cx="120.2" cy="287.2" r="5.4" fill="#701c8a"/>
<circle cx="114.5" cy="286" r="3.6" fill="#701c8a"/>
<circle cx="109" cy="287.4" r="3.4" fill="#5e1684"/>
<circle cx="120.6" cy="287.6" r="1.8" fill="#c880cc"/>
<circle cx="117" cy="282" r="2.2" fill="#8a2a96"/>
</g>
<ellipse cx="142.8" cy="277.8" rx="5.17" ry="5.17" fill="#b890c8" opacity="0.75" filter="url(#soft)" transform="rotate(0 142.8 277.8)"/>
<path d="M146.8 278.1 L146.2 279.6 L142.7 281.8 L140.5 280.8 L139.3 279.7 L139.0 276.8 L141.7 274.2 L143.3 273.8 L145.8 275.8Z" fill="#5a1682" filter="url(#soft)" transform="translate(0 0) scale(1 1)" />
<ellipse cx="162.3" cy="233.5" rx="2.18" ry="2.18" fill="#b890c8" opacity="0.75" filter="url(#soft)" transform="rotate(0 162.3 233.5)"/>
<path d="M163.8 233.2 L163.3 234.8 L162.9 235.1 L161.2 234.7 L160.8 234.2 L160.8 233.3 L161.8 231.9 L162.6 231.8 L163.6 232.4Z" fill="#5a1682" filter="url(#soft)" transform="translate(0 0) scale(1 1)" />
</g>
<g clip-path="url(#cew)"><g filter="url(#softE)">
<rect x="182.4" y="223.8" width="73.3" height="73.6" fill="#f6e4f4"/>
<path d="M193.5 227.3 L194.2 227.1 L194.5 226.9 L194.8 226.2 L194.8 224.9 L194.5 224.2 L193.7 224.0 L193.1 224.5 L192.6 225.6 L192.6 226.4 L192.8 226.8ZM200.5 223.1 L200.2 225.7 L200.5 226.5 L202.3 228.1 L203.2 228.3 L204.3 228.0 L204.9 227.3 L205.6 224.3 L205.4 223.5 L205.1 223.1 L204.6 222.8 L200.6 222.8 L200.6 222.8 L200.5 222.9ZM199.1 226.9 L196.1 227.5 L195.7 227.6 L194.7 228.4 L194.4 229.0 L194.5 229.6 L196.5 232.6 L197.2 233.1 L199.3 233.1 L200.1 232.6 L201.7 229.7 L201.8 229.1 L201.5 228.6 L199.8 227.1ZM218.0 229.3 L217.4 229.0 L216.8 229.2 L216.6 229.4 L216.3 230.0 L216.5 230.6 L217.1 231.0 L217.3 231.0 L218.0 230.7 L218.3 230.1 L218.3 229.9ZM220.9 232.9 L221.7 232.5 L224.3 229.2 L224.5 228.6 L224.2 228.0 L223.6 227.8 L220.5 227.8 L219.9 228.1 L219.6 228.7 L219.7 231.6 L219.9 232.1 L220.2 232.5ZM187.8 235.5 L187.0 235.3 L186.1 235.5 L184.4 237.1 L184.1 238.0 L184.2 238.4 L184.5 238.9 L185.1 239.1 L187.2 239.1 L187.9 238.8 L188.6 237.9 L188.7 237.0 L188.3 236.0ZM256.3 235.1 L256.3 238.0 L256.6 238.7 L256.7 238.7 L256.7 234.3 L256.7 234.4ZM205.6 245.2 L206.1 244.8 L206.1 244.1 L204.8 240.7 L204.5 240.2 L204.0 240.1 L203.1 240.1 L202.5 240.4 L200.8 242.4 L200.6 242.9 L200.7 243.4 L200.8 243.6 L201.3 244.0 L205.0 245.3ZM207.4 240.6 L206.8 241.1 L206.8 241.8 L207.4 243.5 L207.8 243.9 L208.4 244.0 L209.3 243.9 L210.0 243.2 L210.1 242.7 L210.1 242.2 L209.7 241.7 L208.1 240.7ZM216.4 242.0 L216.3 242.6 L216.5 245.2 L216.9 245.9 L217.7 246.0 L220.4 244.9 L220.9 244.5 L220.9 244.4 L220.9 243.7 L220.2 241.5 L219.7 241.0 L219.0 240.9 L216.9 241.7ZM234.1 244.1 L233.4 244.4 L233.2 245.1 L233.7 248.5 L234.0 249.1 L234.7 249.3 L234.8 249.2 L235.5 248.8 L236.5 246.8 L236.6 246.3 L236.3 245.8 L236.3 245.8 L236.2 245.7 L234.7 244.3ZM186.3 259.8 L187.0 259.7 L190.3 257.7 L190.7 257.2 L190.6 256.5 L189.7 254.8 L189.1 254.3 L188.4 254.4 L185.3 256.4 L185.0 256.8 L185.0 256.8 L185.0 257.6 L185.7 259.3ZM196.8 255.4 L197.4 254.1 L197.5 253.4 L197.0 252.9 L195.0 252.0 L194.1 252.1 L191.6 253.8 L191.3 254.3 L191.3 254.9 L192.3 256.8 L192.5 257.0 L192.7 257.2 L193.2 257.4 L193.7 257.3 L196.4 255.8ZM235.4 257.6 L235.2 256.9 L233.7 255.2 L232.8 254.9 L229.4 255.7 L228.8 256.3 L228.6 256.7 L228.5 257.2 L228.8 258.5 L229.1 259.1 L229.7 259.3 L233.7 259.0 L234.2 258.8 L235.0 258.2ZM251.1 256.4 L251.4 257.1 L252.0 257.6 L252.8 257.9 L254.0 257.6 L254.6 257.2 L254.7 256.5 L254.3 256.0 L253.1 255.2 L252.5 255.0 L252.0 255.2 L251.4 255.7ZM181.5 261.7 L184.0 260.3 L184.4 259.8 L184.3 259.2 L184.2 258.8 L183.7 258.3 L183.1 258.3 L181.4 258.8 L181.4 261.7ZM195.0 258.9 L195.0 259.6 L195.6 260.1 L197.1 260.6 L197.7 260.6 L198.1 260.2 L198.3 259.6 L198.2 258.9 L198.0 258.4 L197.6 258.0 L197.1 257.7 L196.5 257.8 L195.4 258.4ZM200.4 261.6 L200.9 261.8 L201.5 261.6 L202.5 260.8 L202.8 260.2 L202.8 259.8 L202.6 259.1 L201.9 258.8 L200.7 258.8 L200.1 259.2 L199.9 259.9 L200.1 261.1ZM236.8 258.8 L236.1 259.0 L235.5 259.4 L235.1 260.3 L235.5 262.7 L235.8 263.2 L236.4 263.5 L237.8 263.5 L238.4 263.4 L238.7 262.9 L238.7 262.3 L237.4 259.4ZM252.4 262.5 L253.2 262.8 L253.6 262.7 L254.2 262.4 L255.3 261.1 L255.5 260.4 L255.4 259.6 L255.0 259.0 L254.3 258.9 L253.3 259.1 L252.6 259.8 L252.2 261.7ZM181.8 268.4 L182.3 268.6 L182.9 268.4 L183.1 268.3 L183.3 267.9 L183.5 267.5 L183.5 266.8 L183.4 266.6 L183.3 266.4 L181.4 263.9 L181.4 268.2ZM185.1 265.2 L185.6 265.7 L186.3 265.7 L187.8 265.2 L188.4 264.6 L188.2 263.7 L187.3 262.7 L186.8 262.4 L186.2 262.5 L185.8 263.0 L185.2 264.5ZM208.7 268.0 L209.4 268.4 L212.5 268.6 L213.1 268.4 L213.4 267.9 L214.1 264.9 L214.0 264.3 L213.6 263.9 L211.7 263.0 L210.7 263.1 L210.1 263.6 L209.8 264.0 L208.6 267.2ZM200.5 274.1 L199.9 274.5 L199.0 275.6 L198.8 276.3 L199.3 276.9 L200.8 277.8 L201.7 277.8 L202.2 277.1 L202.3 275.8 L202.0 275.0 L201.2 274.3ZM219.4 276.5 L219.9 276.9 L220.5 276.9 L222.8 276.2 L223.4 275.5 L223.5 275.0 L223.4 274.4 L222.9 274.0 L220.8 273.3 L220.0 273.4 L219.6 274.0 L219.3 275.9ZM189.6 291.0 L189.8 291.6 L190.3 291.9 L192.6 292.6 L193.3 292.5 L193.8 292.0 L194.4 289.4 L194.2 288.7 L194.0 288.4 L193.5 288.0 L192.9 287.9 L192.0 288.1 L189.9 290.4ZM233.5 287.6 L232.8 287.6 L232.3 288.1 L232.0 288.6 L232.0 289.4 L232.6 290.8 L233.0 291.2 L233.5 291.3 L234.1 291.0 L234.4 290.7 L234.6 289.8 L233.9 288.1ZM250.8 292.2 L251.1 291.4 L250.3 287.9 L249.8 287.2 L249.3 287.0 L248.5 287.1 L247.8 287.5 L247.4 288.2 L247.1 291.1 L247.2 291.8 L247.8 292.1 L250.0 292.5ZM252.5 291.1 L253.3 291.0 L254.0 290.6 L254.3 290.4 L255.5 288.5 L255.6 287.8 L255.3 287.3 L254.6 287.1 L252.3 287.4 L251.7 287.8 L251.6 288.5 L252.0 290.4ZM226.2 294.2 L226.0 294.9 L226.4 296.7 L226.8 297.3 L227.5 297.4 L231.8 296.4 L232.2 296.2 L232.7 295.8 L233.0 295.3 L233.0 294.8 L232.8 294.2 L232.4 293.7 L231.9 293.6 L226.9 293.8ZM240.3 298.1 L238.6 297.5 L238.1 297.5 L237.8 297.5 L237.3 297.8 L237.1 298.3 L237.1 298.4 L240.6 298.4Z" fill="#702686"/>
<path d="M247.4 225.3 L251.4 225.8 L252.3 225.5 L252.8 224.8 L253.0 224.3 L252.8 223.7 L252.1 222.8 L247.3 222.8 L246.7 223.4 L246.4 223.9 L246.5 224.5 L246.8 224.9ZM219.7 226.8 L222.1 226.7 L222.8 226.4 L223.0 225.6 L222.2 223.2 L221.9 222.8 L220.0 222.8 L218.8 223.3 L218.3 223.9 L218.2 224.2 L218.2 224.9 L218.9 226.3ZM253.1 227.9 L253.6 228.2 L254.9 228.5 L255.7 228.2 L256.0 227.4 L255.6 225.4 L255.3 224.9 L255.2 224.9 L254.5 224.7 L254.4 224.7 L253.8 225.0 L252.9 226.1 L252.7 226.9 L252.8 227.5ZM226.9 234.0 L227.4 233.5 L228.4 230.1 L228.3 229.3 L227.5 228.9 L226.7 229.0 L226.1 229.3 L223.8 232.2 L223.6 232.7 L223.7 233.3 L224.2 233.6 L226.3 234.1ZM181.9 236.2 L182.7 236.4 L183.5 236.1 L185.1 234.7 L185.3 233.7 L184.5 231.7 L184.1 231.2 L183.4 231.2 L182.3 231.6 L181.7 232.3 L181.4 233.9 L181.4 235.9ZM232.9 238.9 L233.4 239.3 L234.0 239.3 L236.3 238.4 L236.9 237.7 L237.5 233.6 L237.2 232.8 L236.3 232.1 L235.6 231.8 L234.9 232.3 L233.2 235.4 L233.1 235.8 L232.8 238.4ZM214.1 238.5 L213.4 238.6 L212.9 239.1 L212.7 239.9 L212.8 240.6 L213.5 241.0 L214.0 241.1 L214.6 240.9 L214.9 240.4 L214.9 239.8 L214.6 239.0ZM221.6 240.1 L221.5 240.3 L221.3 241.1 L221.9 242.7 L222.2 243.1 L222.7 243.3 L224.8 243.2 L225.4 243.0 L225.7 242.5 L225.6 241.9 L224.7 240.4 L224.0 239.9 L222.3 239.8ZM222.4 245.3 L222.3 246.1 L222.4 246.3 L223.1 246.9 L225.6 247.3 L226.3 247.1 L226.7 246.5 L226.7 245.7 L226.4 245.1 L225.8 244.8 L223.1 244.9ZM237.8 247.1 L236.9 248.8 L236.8 249.5 L237.2 250.0 L237.3 250.0 L237.6 250.2 L239.2 250.5 L239.9 250.4 L241.8 249.1 L242.1 248.2 L241.9 246.8 L241.5 246.2 L240.8 246.1 L238.4 246.6ZM248.5 243.9 L248.1 244.3 L248.0 244.9 L248.9 248.7 L249.3 249.2 L249.8 249.3 L251.8 249.2 L252.4 249.0 L252.5 248.9 L252.8 248.1 L252.5 246.0 L252.3 245.5 L251.6 244.7 L251.2 244.5 L249.1 243.9ZM189.6 253.2 L190.3 253.1 L193.6 250.8 L193.9 250.0 L193.8 248.5 L193.8 248.4 L193.3 246.3 L192.8 245.8 L192.1 245.7 L191.6 246.2 L188.9 251.9 L188.9 252.7 L189.0 252.8ZM216.2 247.2 L215.5 247.1 L213.3 247.6 L212.6 248.1 L212.3 248.9 L212.3 249.3 L212.3 251.4 L212.6 252.2 L213.0 252.5 L214.0 252.5 L216.8 251.1 L217.2 250.7 L217.3 250.1 L216.6 247.7ZM221.3 247.3 L221.0 246.6 L220.6 246.2 L219.9 246.1 L218.2 246.8 L217.7 247.2 L217.7 247.9 L218.4 250.3 L218.9 250.8 L219.6 251.1 L220.4 251.1 L220.9 250.5 L221.4 247.8ZM255.0 254.7 L255.6 254.1 L256.6 250.9 L256.5 250.2 L255.9 249.8 L254.0 249.4 L253.3 249.6 L253.2 249.7 L252.9 250.4 L253.0 253.3 L253.4 254.1 L254.2 254.6ZM241.4 255.9 L241.4 256.6 L241.8 257.1 L243.8 258.1 L244.4 258.2 L244.9 257.8 L245.1 257.2 L245.0 255.5 L244.5 254.8 L243.7 254.7 L241.9 255.4ZM200.2 264.2 L199.4 264.3 L195.7 266.5 L195.3 267.2 L195.6 268.0 L195.9 268.3 L196.5 268.5 L197.0 268.4 L200.6 266.2 L200.9 265.7 L200.9 265.1 L200.7 264.7ZM190.8 272.8 L191.1 273.3 L191.4 273.6 L191.7 273.8 L191.9 273.8 L192.7 273.7 L195.6 271.3 L196.0 270.8 L195.9 270.2 L195.8 270.0 L195.6 269.7 L194.1 268.3 L193.3 268.0 L192.6 268.5 L190.9 272.3ZM227.2 267.6 L226.6 268.1 L226.5 268.3 L226.4 268.9 L226.9 271.1 L227.5 271.7 L228.9 272.1 L229.6 272.1 L231.5 271.2 L231.9 270.8 L231.9 270.1 L231.5 269.6 L227.9 267.7ZM239.3 268.6 L238.7 269.1 L238.7 269.8 L239.6 271.9 L240.0 272.4 L240.6 272.5 L242.2 272.2 L242.8 271.8 L242.9 271.2 L242.6 270.6 L240.0 268.7ZM242.9 277.7 L243.6 278.0 L244.3 277.5 L245.7 275.3 L245.8 274.7 L245.5 274.1 L244.4 273.3 L243.8 273.1 L243.2 273.3 L243.0 273.9 L242.6 277.0ZM226.0 279.3 L225.7 279.8 L224.9 282.6 L225.2 283.5 L225.5 283.8 L226.4 284.0 L229.7 283.1 L230.3 282.4 L231.0 280.0 L230.7 279.1 L230.7 279.1 L230.0 278.9 L226.5 279.1ZM236.9 276.4 L236.2 276.8 L236.1 277.0 L235.9 277.6 L236.1 278.1 L239.5 282.0 L240.3 282.3 L241.0 281.9 L241.4 281.2 L241.5 280.7 L241.2 280.1 L237.6 276.7ZM246.6 276.2 L245.9 276.6 L244.3 279.1 L244.2 279.7 L244.5 280.2 L245.0 280.5 L247.0 280.7 L247.9 280.3 L248.8 279.0 L249.0 278.5 L248.7 277.9 L247.3 276.4ZM181.6 288.2 L184.0 285.9 L184.2 285.5 L184.7 283.8 L184.6 283.1 L184.0 282.6 L183.1 282.5 L182.4 282.7 L181.5 283.3 L181.4 283.5 L181.4 288.2ZM216.9 285.0 L217.5 285.0 L218.1 284.7 L218.5 284.4 L218.6 283.8 L218.4 283.3 L217.0 281.9 L216.2 281.7 L215.5 282.2 L215.3 282.7 L215.2 283.3 L215.5 283.7 L216.5 284.8ZM198.8 297.7 L199.4 298.0 L202.1 298.4 L203.2 298.4 L203.7 298.2 L204.6 297.2 L204.9 296.6 L204.7 296.1 L203.6 294.1 L203.2 293.7 L202.4 293.4 L201.9 293.3 L201.4 293.6 L198.9 296.1 L198.6 296.7 L198.6 297.1ZM218.1 291.6 L217.4 292.5 L217.2 293.0 L217.3 293.5 L218.6 295.7 L219.2 296.1 L219.9 295.9 L223.4 293.0 L223.7 292.5 L223.6 291.9 L223.1 291.5 L222.1 291.1 L221.8 291.1 L218.7 291.3ZM231.2 298.3 L230.8 297.9 L230.2 297.8 L227.6 298.4 L231.3 298.4ZM235.9 297.9 L235.8 297.4 L235.4 297.0 L234.4 296.4 L233.9 296.3 L233.4 296.5 L233.0 296.9 L232.7 297.4 L232.4 298.4 L235.8 298.4Z" fill="#843692"/>
<path d="M184.3 223.5 L184.5 224.0 L184.9 224.5 L185.4 224.7 L188.2 224.5 L188.9 224.2 L189.0 223.4 L188.9 222.8 L184.4 222.8ZM235.6 230.3 L236.2 229.9 L238.3 226.2 L238.4 225.5 L237.8 224.9 L237.2 224.8 L236.3 225.1 L233.8 228.3 L233.6 229.0 L234.0 229.6 L235.0 230.2ZM252.5 230.9 L252.7 232.1 L253.3 232.8 L255.3 233.5 L256.1 233.3 L256.7 232.9 L256.7 230.2 L256.3 230.0 L253.7 229.5 L253.1 229.6 L252.7 230.1 L252.5 230.4ZM186.3 244.1 L186.6 244.0 L187.1 243.6 L187.3 243.1 L187.2 241.2 L186.9 240.6 L186.3 240.3 L185.4 240.3 L184.8 240.5 L184.4 241.0 L184.2 242.7 L184.3 243.3 L184.8 243.7 L185.8 244.0ZM201.1 248.3 L201.7 248.6 L204.4 249.1 L205.0 249.0 L205.4 248.6 L205.5 248.3 L205.5 247.9 L205.5 247.2 L204.8 246.5 L202.2 245.6 L201.4 245.7 L201.0 246.4 L200.9 247.7ZM196.1 249.4 L196.0 250.1 L196.5 250.7 L197.6 251.2 L198.3 251.3 L198.8 250.8 L199.0 250.2 L199.1 249.5 L198.7 249.1 L198.1 248.9 L196.8 249.0ZM245.1 252.7 L245.2 252.4 L245.3 251.8 L245.0 251.3 L243.5 250.2 L242.9 250.0 L242.4 250.1 L240.8 251.3 L240.5 252.1 L240.7 253.5 L241.1 254.1 L241.9 254.2 L244.6 253.1ZM219.1 257.0 L219.6 256.6 L220.7 254.7 L220.8 254.2 L220.7 253.2 L220.2 252.5 L218.5 251.7 L217.7 251.8 L214.7 253.3 L214.2 253.7 L214.2 254.3 L214.5 255.3 L215.1 255.9 L218.5 257.0ZM237.3 256.5 L237.8 256.8 L238.4 256.8 L239.1 256.4 L239.5 256.0 L239.6 255.5 L239.7 255.0 L239.3 252.5 L239.0 251.9 L238.4 251.7 L237.8 251.9 L237.5 252.5 L237.1 255.9ZM228.9 260.6 L228.6 261.2 L228.5 262.3 L228.6 262.8 L229.0 263.2 L232.5 265.0 L233.0 265.1 L233.5 264.8 L234.1 264.3 L234.3 263.5 L233.9 260.9 L233.5 260.3 L232.9 260.1 L229.5 260.4ZM245.1 259.9 L240.2 257.4 L239.4 257.4 L238.9 257.7 L238.4 258.2 L238.5 258.8 L240.2 262.8 L240.6 263.2 L241.2 263.3 L244.9 262.7 L245.5 262.4 L245.5 262.3 L245.7 261.7 L245.6 260.6ZM256.6 257.7 L256.5 258.3 L256.7 259.8 L256.7 257.6ZM212.7 274.2 L212.2 273.8 L211.1 273.4 L210.5 273.4 L210.1 273.7 L209.9 274.3 L210.0 275.2 L210.3 275.9 L210.9 276.1 L211.9 276.0 L212.4 275.8 L212.7 275.2 L212.8 274.8ZM241.6 273.9 L240.8 273.7 L240.0 273.8 L239.5 274.1 L238.7 274.9 L238.5 275.5 L238.8 276.2 L240.1 277.5 L240.7 277.7 L241.3 277.5 L241.6 276.9 L241.9 274.7ZM254.2 274.5 L253.8 275.0 L253.3 277.2 L253.5 278.0 L253.9 278.4 L254.4 278.7 L255.1 278.5 L256.7 277.3 L256.7 274.7 L256.5 274.5 L254.8 274.3ZM182.6 281.1 L183.1 281.4 L184.4 281.6 L185.2 281.4 L185.5 280.7 L185.1 277.1 L184.9 276.6 L184.5 276.3 L182.2 275.7 L181.5 275.8 L181.4 275.9 L181.4 279.9ZM189.9 280.7 L190.5 281.1 L191.1 281.1 L193.8 279.7 L194.2 279.2 L194.5 278.4 L194.3 277.5 L192.6 275.7 L192.1 275.4 L191.5 275.5 L191.1 276.0 L189.9 280.0ZM195.9 278.3 L195.3 278.9 L195.1 279.4 L195.2 280.2 L197.1 282.9 L198.0 283.3 L199.8 283.0 L200.4 282.7 L200.6 282.0 L200.2 281.5 L196.7 278.5ZM203.6 281.0 L204.3 281.2 L206.7 280.8 L207.4 280.2 L208.1 278.2 L208.1 277.6 L207.6 277.1 L204.7 276.0 L203.9 276.0 L203.5 276.7 L203.2 279.2 L203.2 279.4 L203.2 280.3ZM216.9 279.1 L216.8 279.7 L217.1 280.2 L219.2 282.1 L219.8 282.4 L220.4 282.2 L220.7 281.6 L220.5 281.0 L219.2 278.9 L218.6 278.5 L218.5 278.4 L217.9 278.5 L217.4 278.7ZM221.2 278.8 L221.3 279.6 L222.4 281.3 L222.9 281.7 L223.6 281.6 L224.0 281.1 L224.5 279.3 L224.3 278.6 L224.1 278.2 L223.6 277.9 L223.1 277.9 L221.8 278.3ZM186.5 283.1 L186.2 283.6 L185.6 285.5 L185.8 286.3 L188.0 288.8 L188.6 289.1 L189.3 288.9 L190.7 287.3 L191.0 286.8 L190.8 286.2 L188.9 283.4 L188.2 283.0 L187.1 282.9ZM217.8 286.9 L217.8 287.6 L218.4 289.4 L218.8 289.8 L219.3 290.0 L219.9 289.9 L220.6 289.6 L220.7 288.8 L220.3 286.8 L219.8 286.2 L219.1 286.2 L218.3 286.5ZM193.3 296.9 L193.7 297.4 L194.4 297.5 L195.4 297.3 L196.0 296.9 L196.1 296.2 L195.7 295.6 L195.0 295.2 L194.3 295.0 L193.7 295.5 L193.4 296.2ZM237.9 295.4 L239.1 291.9 L238.9 291.1 L238.1 290.7 L238.0 290.7 L237.9 290.8 L236.5 291.2 L236.1 291.4 L234.4 293.1 L234.2 294.1 L234.4 294.6 L234.8 295.1 L236.4 296.0 L237.0 296.1 L237.2 296.0ZM191.9 298.1 L191.2 297.9 L190.8 297.9 L190.3 298.1 L189.9 298.4 L192.2 298.4Z" fill="#662282"/>
<path d="M190.7 224.2 L191.4 224.3 L191.9 223.8 L192.4 222.8 L190.0 222.8 L190.2 223.6ZM253.9 245.4 L253.5 246.3 L253.8 247.8 L254.0 248.3 L254.5 248.5 L256.7 248.9 L256.7 243.6ZM247.7 251.9 L248.1 252.7 L249.8 254.2 L250.4 254.4 L250.9 254.2 L251.2 254.0 L251.6 253.2 L251.5 251.6 L251.2 251.0 L250.6 250.7 L249.1 250.8 L248.7 250.9 L248.2 251.2ZM214.7 272.6 L215.4 272.8 L217.0 272.5 L217.6 272.2 L217.8 271.6 L217.5 271.1 L217.0 270.7 L215.5 270.5 L214.8 270.7 L214.4 271.3 L214.4 271.9ZM230.1 273.2 L230.1 273.8 L231.0 277.8 L231.3 278.3 L231.4 278.4 L231.9 278.6 L232.4 278.4 L234.3 277.3 L234.5 277.0 L235.2 276.2 L235.3 275.7 L235.2 275.2 L233.2 272.4 L232.7 272.1 L232.1 272.1 L230.6 272.8Z" fill="#e6bce2"/>
<path d="M197.7 222.9 L197.7 222.8 L195.9 222.8 L196.2 223.3 L196.9 223.4 L197.2 223.3ZM239.3 224.3 L239.8 224.7 L240.4 224.7 L243.1 223.5 L243.6 223.0 L243.6 222.8 L239.4 222.8 L239.2 223.7ZM254.0 223.2 L254.6 223.2 L255.0 222.8 L255.0 222.8 L253.4 222.8 L253.5 222.9ZM206.7 224.9 L206.1 227.3 L206.1 227.8 L206.5 228.3 L206.7 228.4 L207.0 228.5 L209.9 229.2 L210.6 229.1 L211.0 228.5 L211.7 226.1 L211.6 225.3 L210.5 224.0 L209.7 223.7 L207.4 224.2ZM212.4 229.5 L213.0 230.0 L213.7 229.8 L217.2 227.0 L217.5 226.5 L217.5 225.9 L217.4 225.9 L217.0 225.4 L216.5 225.4 L213.7 225.9 L213.0 226.5 L212.3 228.8ZM247.4 226.5 L247.1 227.1 L247.0 228.1 L247.1 228.7 L247.7 229.1 L250.6 229.8 L251.2 229.7 L251.7 229.2 L251.9 228.7 L251.9 228.2 L251.8 227.4 L251.5 226.9 L251.0 226.7 L248.1 226.3ZM237.3 231.1 L237.6 231.6 L237.8 231.8 L238.7 232.0 L238.8 232.0 L239.5 231.4 L240.1 229.4 L240.1 228.8 L239.7 228.3 L239.0 228.3 L238.5 228.7 L237.4 230.5ZM244.3 230.9 L243.7 230.3 L242.7 229.9 L242.0 229.9 L241.5 230.5 L241.3 231.0 L241.4 231.7 L242.0 232.1 L242.8 232.4 L243.7 232.1 L244.1 231.7ZM222.4 235.2 L222.1 235.9 L222.2 237.5 L222.4 238.1 L223.0 238.3 L224.2 238.4 L225.0 238.1 L226.0 237.0 L226.2 236.5 L226.0 235.9 L225.5 235.6 L223.2 235.0ZM228.0 242.7 L228.6 242.6 L231.5 241.3 L232.0 240.7 L232.0 240.7 L231.9 239.9 L231.8 239.8 L231.6 239.5 L228.7 237.4 L228.1 237.2 L227.5 237.5 L226.3 238.8 L226.0 239.3 L226.1 239.9 L227.5 242.3ZM237.9 244.7 L238.3 245.2 L238.9 245.3 L241.5 244.7 L242.1 244.2 L242.3 243.8 L242.3 243.1 L241.7 241.3 L241.1 240.7 L240.6 240.5 L240.0 240.5 L239.5 241.0 L237.9 244.0ZM207.0 246.7 L207.2 247.3 L207.8 247.6 L210.0 247.9 L210.7 247.7 L211.0 247.2 L210.9 246.5 L210.5 245.9 L209.6 245.5 L207.8 245.8 L207.3 246.0 L207.3 246.1ZM211.0 259.1 L211.7 258.7 L213.2 256.3 L213.3 255.6 L212.9 254.1 L212.5 253.6 L212.0 253.3 L211.2 253.1 L208.6 254.1 L208.0 254.7 L207.9 255.4 L208.0 256.2 L210.2 258.7ZM246.8 261.6 L247.3 261.8 L250.0 262.2 L250.6 262.1 L251.0 261.5 L251.5 259.3 L251.2 258.4 L250.6 257.9 L250.0 257.7 L249.5 257.8 L246.9 259.8 L246.5 260.6 L246.5 261.0ZM253.9 271.8 L253.9 272.4 L254.0 272.4 L254.7 273.0 L256.4 273.2 L256.7 273.1 L256.7 269.7 L256.6 269.7 L256.0 269.9 L254.2 271.2ZM186.5 276.0 L186.4 276.1 L186.1 276.8 L186.5 280.8 L186.8 281.4 L187.4 281.7 L187.5 281.7 L188.1 281.5 L188.4 281.0 L190.1 275.8 L190.0 275.1 L189.5 274.7 L188.8 274.7 L186.7 275.8ZM214.5 274.5 L214.2 274.9 L214.1 275.8 L214.5 276.7 L215.7 277.6 L216.6 277.7 L217.1 277.5 L217.6 276.8 L217.9 274.8 L217.7 274.1 L216.9 273.8 L215.0 274.2ZM247.8 274.7 L248.0 275.5 L249.7 277.2 L250.6 277.5 L251.5 277.3 L252.2 276.6 L252.8 274.0 L252.7 273.4 L252.5 272.9 L252.0 272.5 L251.3 272.5 L248.3 274.1ZM209.6 278.3 L208.8 280.6 L209.0 281.5 L210.5 283.1 L211.4 283.3 L213.1 282.9 L213.7 282.4 L214.9 279.7 L215.0 279.1 L214.7 278.6 L213.3 277.6 L212.7 277.4 L210.4 277.7ZM190.3 282.9 L190.4 283.6 L192.2 286.2 L192.7 286.6 L193.6 286.8 L194.5 286.5 L196.2 284.4 L196.4 283.9 L196.3 283.3 L194.8 281.1 L194.2 280.7 L193.6 280.8 L190.8 282.3ZM195.5 287.5 L195.7 288.0 L196.2 288.4 L199.8 289.4 L200.4 289.3 L200.9 288.8 L201.7 286.5 L201.8 286.0 L201.5 284.9 L201.1 284.3 L200.5 284.2 L197.9 284.6 L197.4 284.9 L195.7 286.9ZM240.1 284.4 L239.5 284.3 L237.7 284.6 L237.4 284.7 L236.9 285.1 L236.5 285.6 L236.6 286.2 L237.9 288.7 L238.7 289.2 L239.0 289.1 L239.5 288.9 L239.7 288.5 L240.6 285.6 L240.5 285.1 L240.5 284.9ZM242.6 282.0 L241.8 283.3 L241.7 284.1 L241.8 284.3 L242.3 284.8 L246.4 286.4 L247.3 286.3 L247.7 286.0 L248.1 285.3 L248.2 284.3 L248.1 283.8 L247.5 282.4 L246.7 281.9 L243.5 281.6ZM255.4 281.5 L255.3 282.3 L256.4 285.8 L256.7 286.2 L256.7 286.3 L256.7 281.0 L256.1 281.1ZM182.4 289.6 L182.6 290.3 L184.5 292.3 L184.9 292.6 L185.5 292.6 L187.1 291.8 L187.6 291.2 L187.4 290.4 L185.3 287.9 L184.6 287.6 L184.0 287.8 L182.7 289.0ZM201.0 291.7 L200.9 291.4 L200.3 290.8 L196.5 289.7 L195.8 289.8 L195.4 290.4 L194.9 292.7 L194.9 293.3 L195.2 293.7 L197.3 295.1 L197.9 295.2 L198.4 295.0 L200.8 292.6ZM207.0 288.8 L206.4 288.3 L203.9 287.5 L203.2 287.5 L202.8 288.0 L201.9 290.2 L201.9 290.9 L202.1 291.4 L202.6 291.9 L203.3 292.2 L204.2 292.2 L206.2 290.7 L206.4 290.4 L206.9 289.6ZM209.3 289.1 L208.6 289.5 L208.1 290.3 L208.0 290.9 L208.3 291.4 L210.5 293.3 L211.3 293.5 L211.9 293.1 L211.9 292.3 L211.1 290.4 L210.9 290.1 L210.0 289.3ZM216.9 290.2 L216.6 289.2 L216.0 288.7 L215.3 288.7 L213.4 289.8 L213.0 290.3 L213.0 291.0 L213.3 291.8 L213.7 292.2 L214.3 292.3 L215.6 292.1 L216.2 291.8 L216.8 291.1ZM210.0 295.2 L209.6 294.4 L207.4 292.4 L206.9 292.2 L206.3 292.4 L205.5 293.0 L205.1 293.6 L205.2 294.2 L206.1 295.8 L206.7 296.2 L207.8 296.5 L208.4 296.4 L209.5 295.8ZM207.9 298.3 L207.2 297.6 L206.6 297.4 L205.7 297.7 L205.1 298.4 L207.9 298.4ZM242.6 298.4 L245.1 298.4 L244.7 298.1 L243.9 297.9 L242.9 298.2Z" fill="#5e1e7a"/>
<path d="M217.2 223.6 L217.2 222.8 L211.4 222.8 L211.4 223.1 L212.6 224.5 L213.4 224.8 L216.6 224.1ZM237.0 223.3 L237.8 223.2 L238.1 222.8 L236.6 222.8ZM183.4 229.8 L183.8 229.4 L183.9 228.8 L183.9 228.4 L183.5 227.9 L182.9 227.7 L181.4 227.8 L181.4 230.6ZM199.1 224.4 L198.7 224.1 L198.1 224.0 L196.9 224.4 L196.4 224.7 L196.2 225.2 L196.2 225.3 L196.6 226.0 L197.3 226.2 L198.5 226.0 L199.0 225.7 L199.2 225.2 L199.2 225.0ZM230.2 228.3 L231.4 228.4 L232.2 228.0 L233.8 225.9 L234.0 225.2 L233.7 224.6 L233.0 224.4 L230.3 224.7 L229.8 225.0 L229.5 225.5 L229.3 227.2 L229.6 228.0 L229.7 228.0ZM201.7 234.4 L201.4 234.9 L201.4 235.5 L202.5 238.4 L202.9 238.8 L203.4 239.0 L204.8 238.9 L205.1 238.8 L205.8 238.5 L206.2 238.1 L206.9 236.8 L206.8 235.8 L206.1 234.9 L205.5 234.6 L202.3 234.3ZM234.2 240.8 L234.0 241.4 L234.3 241.9 L235.6 243.1 L236.4 243.3 L237.0 242.8 L238.0 240.8 L238.1 240.1 L237.6 239.6 L237.5 239.6 L236.9 239.6 L234.6 240.4ZM251.3 243.2 L251.8 242.7 L252.6 240.6 L252.6 239.9 L252.1 239.4 L250.8 239.0 L250.1 239.1 L249.6 239.7 L249.4 242.1 L249.5 242.7 L250.0 243.1 L250.7 243.3ZM252.5 244.1 L253.0 244.6 L253.8 244.4 L256.7 242.6 L256.7 239.9 L256.2 239.4 L255.3 239.3 L254.3 239.6 L253.8 240.1 L252.5 243.3ZM183.6 245.1 L183.1 245.5 L181.5 248.2 L181.5 249.1 L181.7 249.4 L182.5 249.9 L184.6 249.9 L185.3 249.6 L185.5 248.9 L185.3 246.0 L184.7 245.3 L184.2 245.1ZM187.4 249.9 L188.2 250.0 L188.8 249.5 L190.2 246.3 L190.2 245.5 L189.5 245.1 L188.2 245.0 L187.9 245.0 L187.5 245.2 L187.0 245.5 L186.8 246.1 L187.1 249.2ZM211.8 242.1 L211.4 242.7 L211.1 244.0 L211.3 244.7 L212.3 246.2 L212.7 246.5 L213.2 246.6 L214.9 246.2 L215.4 245.9 L215.6 245.3 L215.4 243.0 L215.1 242.5 L214.6 242.2 L212.4 242.0ZM243.5 244.4 L243.1 244.8 L243.1 244.9 L243.0 245.4 L243.5 248.3 L243.8 248.9 L245.7 250.3 L246.6 250.3 L247.3 249.9 L247.7 249.5 L247.8 248.9 L246.8 245.1 L246.5 244.6 L246.0 244.4 L244.0 244.2ZM206.5 249.4 L206.3 250.2 L206.6 251.5 L206.9 252.0 L207.3 252.4 L208.2 252.6 L210.4 251.8 L210.8 251.5 L211.0 251.0 L211.0 250.4 L210.8 249.8 L210.2 249.5 L207.3 249.1ZM232.6 253.4 L232.8 252.9 L233.0 251.5 L232.7 250.8 L232.0 250.6 L229.8 250.8 L229.2 251.1 L229.0 251.8 L229.1 253.4 L229.5 254.0 L230.3 254.2 L232.2 253.7ZM190.5 264.3 L191.1 264.2 L191.5 263.7 L192.6 260.4 L192.7 260.0 L192.6 259.3 L192.3 258.8 L192.1 258.6 L191.6 258.4 L191.0 258.5 L188.2 260.3 L187.7 260.9 L187.9 261.6 L190.0 264.0ZM214.9 268.9 L215.5 269.3 L217.9 269.7 L218.5 269.6 L218.9 269.2 L219.5 268.0 L219.5 267.3 L219.2 266.3 L218.6 265.8 L216.6 265.0 L215.8 265.1 L215.4 265.6 L214.8 268.2ZM228.3 264.4 L227.7 264.9 L227.6 265.7 L227.6 266.2 L228.0 266.7 L231.8 268.7 L232.4 268.7 L233.0 268.3 L233.1 267.7 L232.9 266.7 L232.4 266.1 L229.0 264.4ZM238.5 265.4 L237.9 265.1 L235.8 265.0 L235.1 265.2 L234.4 265.9 L234.1 266.7 L234.3 267.7 L234.7 268.2 L235.3 268.4 L236.9 268.3 L237.4 268.0 L238.4 267.2 L238.7 266.6 L238.7 266.1ZM246.6 263.2 L246.3 264.0 L246.6 266.1 L247.1 266.9 L249.7 267.9 L250.5 267.8 L250.9 267.2 L251.4 264.6 L251.3 263.9 L250.7 263.5 L247.3 263.0ZM197.7 269.6 L197.7 270.2 L198.1 270.7 L199.4 271.5 L200.0 271.6 L200.6 271.2 L202.0 268.7 L202.1 268.0 L201.6 267.4 L200.8 267.5 L198.1 269.2ZM203.0 283.1 L202.9 283.8 L203.2 285.2 L203.8 285.8 L207.9 287.1 L208.6 287.1 L209.1 286.6 L209.6 285.0 L209.3 284.1 L207.8 282.5 L207.0 282.2 L203.6 282.8ZM255.7 290.9 L255.9 291.4 L256.7 292.4 L256.7 289.0 L255.8 290.3ZM181.7 296.5 L182.2 296.1 L183.5 294.1 L183.7 293.6 L183.4 293.0 L182.4 291.9 L181.7 291.6 L181.4 291.7 L181.4 296.5ZM212.4 295.5 L212.6 296.1 L214.4 298.4 L217.8 298.4 L218.0 298.3 L218.3 297.7 L218.2 297.1 L216.4 294.1 L215.6 293.6 L213.8 293.9 L213.2 294.2 L212.6 295.0ZM220.1 297.2 L220.4 297.9 L221.0 298.2 L224.5 298.4 L225.3 298.0 L225.5 297.3 L225.0 294.6 L224.7 294.1 L224.1 293.9 L223.5 294.1 L220.5 296.6ZM242.0 297.0 L243.5 296.6 L244.1 296.0 L244.6 294.1 L244.6 293.4 L244.2 293.0 L241.8 291.9 L241.0 291.8 L240.5 292.4 L239.6 295.4 L239.6 296.1 L240.1 296.5 L241.4 297.0ZM252.2 295.3 L251.6 295.9 L251.2 297.6 L251.2 298.2 L251.4 298.4 L253.4 298.4 L253.4 298.4 L253.9 296.7 L253.9 296.2 L253.5 295.7 L253.0 295.4ZM252.7 292.8 L252.6 293.4 L253.0 293.9 L254.7 295.1 L255.4 295.2 L255.8 295.1 L256.3 294.8 L256.5 294.2 L256.3 293.6 L255.0 292.1 L254.4 291.8 L253.8 291.9 L253.0 292.4ZM181.5 297.7 L181.4 297.7 L181.4 298.4 L182.8 298.4 L182.4 298.0ZM255.9 296.1 L255.3 296.7 L254.8 298.4 L256.7 298.4 L256.7 295.9Z" fill="#6a2282"/>
<path d="M230.5 222.9 L231.1 223.1 L233.7 222.8 L230.4 222.8ZM185.2 229.1 L185.9 229.2 L190.9 228.4 L191.5 227.9 L191.5 227.1 L191.2 226.5 L190.9 226.2 L190.3 225.7 L189.7 225.6 L185.5 225.8 L184.9 226.0 L184.6 226.6 L184.6 227.0 L184.6 227.2 L184.8 228.5ZM197.0 234.6 L196.6 235.0 L196.3 236.2 L196.3 236.9 L198.4 241.0 L198.8 241.4 L199.4 241.5 L199.9 241.2 L201.1 239.7 L201.2 238.8 L199.7 235.0 L198.9 234.4 L197.5 234.4ZM211.0 240.6 L211.5 240.0 L212.5 236.6 L212.4 235.8 L212.1 235.5 L211.6 235.2 L211.0 235.2 L208.3 236.5 L207.9 236.9 L207.4 237.8 L207.4 238.5 L207.8 239.0 L210.2 240.5ZM219.8 239.9 L220.5 239.6 L220.9 239.1 L221.0 238.5 L220.9 235.2 L220.6 234.6 L220.1 234.4 L219.5 234.5 L217.5 235.9 L217.1 236.5 L217.3 237.2 L219.1 239.6ZM237.9 238.1 L238.3 238.5 L239.8 239.2 L239.8 239.2 L241.2 239.7 L241.7 239.8 L242.2 239.5 L243.7 237.6 L243.8 236.9 L243.4 234.4 L242.7 233.7 L240.1 233.0 L239.7 233.0 L238.9 233.2 L238.5 233.5 L238.3 233.9 L237.8 237.6ZM245.6 232.4 L245.1 232.7 L244.5 233.3 L244.3 234.1 L244.7 236.1 L245.0 236.6 L245.6 236.9 L248.1 236.8 L248.9 236.3 L249.3 235.4 L249.3 234.8 L248.9 234.3 L246.2 232.5ZM181.9 243.0 L182.6 243.0 L183.1 242.3 L183.5 239.7 L183.5 239.4 L183.2 238.3 L182.5 237.6 L181.4 237.4 L181.4 242.8ZM217.0 238.6 L216.4 238.7 L216.0 239.2 L216.0 239.8 L216.1 240.1 L216.6 240.6 L217.3 240.7 L217.4 240.6 L217.9 240.0 L217.8 239.2 L217.6 238.9ZM228.7 249.0 L229.3 249.2 L231.3 249.0 L231.9 248.6 L232.1 247.9 L231.6 244.3 L231.2 243.6 L230.4 243.6 L228.9 244.3 L228.4 245.0 L228.3 248.2 L228.4 248.5 L228.4 248.5ZM182.4 251.6 L182.1 252.2 L182.4 252.9 L184.3 254.9 L184.9 255.2 L185.5 255.0 L187.3 253.8 L187.7 253.2 L187.5 252.4 L186.5 251.5 L185.9 251.3 L183.0 251.3ZM200.0 252.1 L200.4 252.6 L201.0 252.7 L204.4 252.0 L205.1 251.5 L205.1 250.7 L204.4 250.2 L201.5 249.7 L200.9 249.8 L200.5 250.2 L200.0 251.5ZM222.2 250.6 L222.7 251.0 L223.3 251.0 L225.1 250.4 L225.7 249.9 L225.6 249.1 L225.0 248.7 L223.4 248.4 L222.7 248.5 L222.3 249.1 L222.1 250.0ZM181.4 253.7 L181.4 257.4 L182.8 257.0 L183.2 256.6 L183.4 256.0 L183.2 255.5 L181.6 253.8ZM227.2 251.3 L226.4 251.2 L222.4 252.6 L222.0 253.0 L221.8 253.5 L221.8 253.6 L222.4 254.4 L226.7 255.9 L227.3 255.9 L227.8 255.5 L227.9 254.9 L227.6 252.0ZM222.0 262.7 L222.7 263.0 L226.1 262.7 L226.7 262.5 L227.0 261.9 L226.8 261.3 L226.2 260.9 L222.7 260.4 L222.0 260.6 L221.7 261.3 L221.7 262.1ZM193.8 261.2 L193.3 261.7 L192.3 264.7 L192.4 265.5 L192.7 265.9 L193.2 266.3 L193.5 266.4 L194.3 266.3 L198.1 264.0 L198.5 263.4 L198.4 262.8 L197.9 262.3 L194.5 261.2ZM240.4 264.5 L240.2 265.0 L239.9 266.6 L240.3 267.5 L243.1 269.5 L243.8 269.6 L244.4 269.2 L245.4 267.3 L245.5 266.7 L245.2 264.5 L244.9 263.9 L244.2 263.7 L240.9 264.3ZM185.3 267.7 L185.3 268.3 L185.6 268.9 L188.7 270.9 L189.4 271.0 L190.0 270.5 L191.6 267.2 L191.5 266.3 L191.5 266.2 L190.8 265.8 L190.4 265.7 L190.0 265.8 L185.8 267.3ZM203.3 274.1 L203.9 273.8 L207.1 270.1 L207.3 269.4 L207.0 268.8 L206.4 268.6 L204.4 268.5 L203.6 269.0 L201.8 272.2 L201.6 272.8 L202.0 273.3 L202.7 273.9ZM210.8 270.2 L210.5 270.8 L210.6 271.4 L211.1 271.8 L211.9 272.1 L212.7 272.0 L213.1 271.3 L213.2 271.1 L212.9 270.4 L212.3 270.1 L211.4 270.1ZM208.3 271.8 L207.6 271.6 L207.0 271.9 L205.4 273.8 L205.2 274.6 L205.8 275.2 L207.5 275.9 L208.1 275.9 L208.6 275.6 L208.7 275.0 L208.6 272.5ZM250.0 279.2 L248.7 280.8 L248.6 281.8 L249.0 282.4 L249.4 282.9 L250.1 282.9 L253.6 281.7 L254.1 281.2 L254.1 280.4 L253.9 280.1 L253.8 279.9 L252.8 278.8 L251.9 278.5 L250.5 278.8ZM230.3 287.9 L230.7 287.5 L231.3 286.3 L231.2 285.4 L230.6 284.7 L230.2 284.4 L229.7 284.4 L227.3 285.0 L226.8 285.4 L226.7 285.9 L226.7 287.0 L227.0 287.6 L227.5 287.8 L229.8 288.1ZM225.5 292.4 L226.0 292.5 L230.1 292.3 L230.8 291.9 L230.9 291.1 L230.6 290.2 L229.8 289.7 L226.9 289.4 L226.1 289.8 L225.2 291.1 L225.1 291.9 L225.1 291.9ZM240.8 289.8 L241.2 290.2 L244.7 291.9 L245.6 291.9 L246.0 291.2 L246.3 288.5 L246.2 287.9 L245.8 287.6 L242.6 286.3 L241.9 286.4 L241.4 286.9 L240.8 289.2ZM245.7 297.2 L247.0 298.2 L247.7 298.4 L249.0 298.1 L249.7 297.5 L250.4 294.8 L250.3 294.1 L249.7 293.7 L247.2 293.2 L246.5 293.4 L246.1 293.9 L245.5 296.2ZM185.1 295.1 L184.5 295.1 L184.0 295.4 L183.5 296.3 L183.3 296.8 L183.5 297.3 L184.4 298.4 L187.1 298.4 L185.6 295.5Z" fill="#90429c"/>
<path d="M256.1 223.9 L256.7 224.4 L256.7 222.8 L256.3 222.8 L256.2 223.1ZM232.1 230.6 L231.6 231.1 L231.7 231.9 L231.9 232.3 L232.4 232.7 L233.0 232.7 L233.4 232.3 L233.5 232.1 L233.6 231.4 L233.2 230.9 L232.9 230.7ZM201.8 263.6 L201.8 264.1 L202.4 265.4 L202.5 265.7 L203.5 266.8 L204.2 267.1 L206.3 267.1 L206.9 267.0 L207.2 266.5 L207.9 264.5 L207.9 263.9 L207.4 263.4 L204.1 262.0 L203.2 262.2 L202.1 263.1ZM195.6 277.0 L196.2 276.8 L196.9 276.2 L197.1 276.1 L198.8 273.9 L199.0 273.2 L198.6 272.6 L197.8 272.1 L197.2 272.0 L196.7 272.2 L194.1 274.3 L193.8 275.0 L194.0 275.6 L195.0 276.7ZM224.9 274.3 L224.6 276.2 L224.7 276.9 L225.5 277.9 L226.3 278.3 L228.9 278.1 L229.6 277.7 L229.7 277.0 L229.0 273.6 L228.4 273.0 L227.2 272.6 L226.3 272.8 L225.2 273.7Z" fill="#d49ad0"/>
<path d="M182.7 226.5 L183.3 226.3 L183.6 225.7 L183.6 225.6 L183.5 225.3 L183.2 224.3 L182.9 223.8 L182.4 223.7 L181.4 223.6 L181.4 226.6ZM225.1 222.8 L224.4 222.8 L223.9 223.2 L223.9 223.9 L224.6 226.3 L225.1 226.8 L225.8 227.2 L226.3 227.3 L226.9 227.2 L227.5 227.0 L227.7 226.4 L227.9 224.8 L227.8 224.2 L227.4 223.9 L225.1 222.8ZM245.3 228.8 L245.7 228.2 L246.0 226.1 L245.8 225.5 L245.3 224.7 L244.9 224.3 L244.8 224.3 L244.2 224.3 L241.8 225.3 L241.3 225.8 L241.3 226.5 L241.7 227.5 L242.2 228.1 L244.5 228.9ZM204.7 228.9 L203.3 229.3 L202.7 229.7 L201.5 232.0 L201.5 232.8 L202.2 233.3 L204.8 233.6 L205.5 233.4 L205.8 232.7 L206.0 229.9 L205.6 229.1 L205.4 229.0ZM211.2 231.4 L211.0 231.1 L210.4 230.7 L208.2 230.3 L207.5 230.4 L207.1 231.1 L206.9 233.6 L207.1 234.2 L207.5 234.8 L208.0 235.1 L208.6 235.0 L210.7 234.1 L211.2 233.3 L211.3 232.0ZM247.5 230.4 L247.0 230.8 L247.0 231.5 L247.4 232.0 L249.7 233.5 L250.7 233.5 L251.1 233.3 L251.4 232.4 L251.3 231.7 L250.6 230.9 L248.1 230.3ZM212.8 232.1 L212.4 232.7 L212.3 233.8 L212.5 234.5 L213.3 235.4 L213.7 235.7 L214.1 235.9 L214.4 235.9 L215.7 235.9 L216.2 235.7 L218.6 234.0 L219.0 233.4 L218.8 232.7 L218.2 232.4 L213.4 231.9ZM228.8 235.3 L229.1 235.8 L230.3 236.6 L230.9 236.8 L231.4 236.5 L231.7 236.0 L231.7 235.9 L231.6 235.4 L230.7 233.8 L230.2 233.4 L229.5 233.5 L229.1 234.0 L228.8 234.8ZM250.4 237.1 L250.9 237.6 L253.3 238.4 L253.9 238.4 L254.4 238.2 L254.9 237.9 L255.0 237.4 L255.0 235.7 L254.8 235.2 L254.4 234.9 L252.7 234.3 L252.0 234.4 L251.2 235.0 L250.8 235.4 L250.4 236.4ZM191.7 243.7 L191.9 242.9 L191.3 239.6 L190.9 239.0 L190.3 238.6 L189.7 238.5 L189.1 238.8 L188.5 239.5 L188.3 240.2 L188.4 243.1 L188.6 243.6 L189.2 243.9 L191.0 244.0ZM194.9 247.4 L195.5 247.6 L199.0 247.3 L199.5 247.0 L199.8 246.5 L199.9 244.9 L199.8 244.4 L199.5 243.9 L198.8 243.4 L198.6 243.4 L198.2 243.5 L194.8 244.7 L194.3 245.1 L194.2 245.7 L194.6 246.9ZM227.5 259.5 L227.7 258.7 L227.6 257.8 L227.0 257.1 L222.3 255.5 L221.7 255.5 L221.2 255.9 L220.5 257.1 L220.4 257.6 L220.6 258.1 L221.0 258.6 L221.5 258.9 L226.7 259.7ZM246.6 257.6 L247.2 257.9 L247.8 257.7 L248.9 256.8 L249.2 256.2 L248.9 255.4 L247.7 254.4 L247.0 254.1 L246.4 254.5 L246.2 255.1 L246.3 257.1ZM252.7 270.3 L253.5 270.1 L256.0 268.2 L256.3 267.7 L256.4 267.4 L256.2 266.6 L254.4 264.3 L253.6 264.0 L253.4 264.0 L252.9 264.2 L252.6 264.7 L251.8 268.8 L251.9 269.4 L252.1 269.8ZM185.5 270.6 L185.0 271.1 L185.0 271.9 L186.0 273.9 L186.6 274.4 L187.3 274.3 L188.4 273.7 L188.8 273.3 L188.8 272.7 L188.5 272.2 L186.3 270.7ZM233.9 270.5 L233.9 270.5 L234.0 271.4 L236.1 274.3 L236.8 274.7 L237.5 274.4 L238.2 273.7 L238.5 273.2 L238.4 272.7 L237.4 270.3 L237.0 269.9 L236.5 269.8 L234.7 269.9ZM244.8 270.9 L244.5 271.6 L244.8 272.3 L245.9 273.2 L246.9 273.3 L247.7 272.9 L248.2 272.3 L248.1 271.6 L247.5 271.2 L245.6 270.7ZM183.6 272.3 L182.8 272.5 L182.5 273.1 L182.4 273.9 L182.6 274.5 L183.1 274.8 L183.6 275.0 L184.3 274.9 L184.7 274.4 L184.6 273.7 L184.2 272.8ZM215.6 286.5 L215.3 285.7 L214.2 284.5 L213.3 284.3 L211.6 284.6 L210.9 285.3 L210.3 287.2 L210.6 288.1 L211.2 288.7 L211.7 288.9 L212.2 288.8 L215.1 287.1ZM221.4 284.9 L221.3 285.4 L222.3 289.8 L222.9 290.4 L223.3 290.6 L223.8 290.6 L224.3 290.2 L225.3 288.6 L225.5 288.1 L225.3 285.2 L225.0 284.6 L224.3 284.0 L223.8 283.8 L223.0 283.8 L222.5 283.9 L221.7 284.4ZM250.0 284.8 L249.9 285.5 L250.4 286.0 L250.6 286.1 L251.1 286.1 L253.9 285.7 L254.5 285.3 L254.6 284.6 L254.4 283.9 L253.9 283.4 L253.2 283.3 L250.5 284.3ZM186.3 293.8 L186.3 294.5 L187.9 297.6 L188.5 298.1 L189.3 297.8 L189.3 297.8 L189.6 297.3 L189.6 296.8 L188.2 293.6 L187.7 293.2 L187.0 293.2 L186.7 293.3ZM211.3 296.6 L210.7 296.6 L209.4 297.3 L209.0 297.7 L208.9 298.2 L209.0 298.4 L212.9 298.4 L211.8 296.9Z" fill="#782a8a"/>
<path d="M244.4 238.4 L243.0 240.2 L242.8 241.1 L243.3 242.3 L244.1 242.9 L246.9 243.1 L247.2 243.0 L247.6 242.9 L248.2 242.2 L248.6 239.1 L248.3 238.3 L247.7 238.0 L245.1 238.1ZM216.9 263.2 L217.4 263.8 L218.7 264.3 L219.3 264.3 L219.7 264.0 L220.0 263.8 L220.2 263.1 L220.1 260.7 L219.8 260.0 L219.1 259.8 L218.5 260.2 L217.0 262.4ZM256.2 262.1 L255.7 262.8 L255.5 263.4 L255.7 263.9 L256.7 265.2 L256.7 262.0ZM190.3 293.6 L189.8 294.1 L189.8 294.8 L190.3 295.8 L190.7 296.3 L191.4 296.3 L191.9 295.8 L192.3 295.1 L192.3 294.3 L191.7 293.8 L190.9 293.6Z" fill="#dca6d8"/>
</g></g>
<g clip-path="url(#cek)"><g filter="url(#softE)">
<rect x="257.7" y="223.8" width="72.7" height="73.6" fill="#eed2ec"/>
<path d="M257.1 222.8 L257.3 222.8 L256.9 222.8ZM302.4 223.5 L303.0 223.6 L303.5 223.5 L304.3 222.8 L301.3 222.8ZM327.6 223.9 L328.0 224.5 L328.7 225.0 L329.1 225.1 L331.4 225.3 L331.4 222.8 L328.0 222.8 L327.7 223.2ZM257.9 224.3 L257.3 224.6 L257.1 225.2 L257.2 227.6 L257.7 228.4 L258.4 228.7 L259.1 228.6 L260.7 228.0 L261.2 227.6 L261.3 227.0 L261.0 226.4 L258.5 224.5ZM290.5 225.8 L290.6 226.5 L291.1 227.0 L292.6 227.5 L293.3 227.4 L293.8 226.8 L294.0 226.1 L293.7 225.3 L293.3 224.8 L292.8 224.5 L292.2 224.6 L290.9 225.3ZM302.3 224.2 L300.1 222.8 L298.6 222.8 L298.5 222.9 L298.2 223.3 L298.2 224.1 L299.2 226.3 L299.6 226.7 L300.1 226.8 L302.0 226.5 L302.5 226.2 L302.7 225.6 L302.7 224.9ZM328.1 225.4 L327.1 224.8 L326.6 224.7 L326.1 224.9 L325.8 225.1 L325.5 225.7 L325.3 228.6 L325.7 229.4 L326.6 230.0 L327.1 230.2 L327.7 230.0 L328.3 229.5 L328.6 228.8 L328.5 226.2ZM277.9 231.9 L278.3 232.4 L279.5 233.1 L279.8 233.2 L281.5 233.5 L282.2 233.3 L282.5 232.6 L282.7 230.4 L282.5 229.8 L282.1 229.5 L280.3 228.8 L279.7 228.7 L279.2 229.2 L278.0 231.2ZM288.3 242.8 L288.9 242.6 L291.5 240.6 L291.8 240.1 L292.0 239.2 L292.0 239.1 L292.0 238.9 L291.8 238.4 L291.4 238.1 L291.0 238.0 L290.6 237.9 L286.9 238.6 L286.5 238.8 L286.2 239.3 L286.0 240.2 L286.2 241.1 L287.7 242.5ZM278.9 243.5 L279.2 244.2 L279.9 244.4 L281.6 244.3 L282.1 244.2 L282.4 243.7 L282.6 243.3 L282.6 242.7 L282.3 242.3 L281.6 241.7 L281.0 241.5 L280.4 241.8 L279.2 242.9ZM323.8 248.8 L324.5 248.9 L325.1 248.6 L326.9 246.0 L327.1 245.4 L326.8 244.8 L326.2 244.6 L324.9 244.6 L324.4 244.8 L323.6 245.3 L323.2 246.2 L323.5 248.2ZM262.6 249.8 L262.2 250.4 L261.9 252.5 L262.1 253.2 L262.4 253.5 L262.9 253.8 L263.6 253.7 L266.4 251.8 L266.8 251.2 L266.6 250.5 L266.1 250.2 L263.3 249.6ZM274.0 257.7 L274.7 258.1 L276.0 258.2 L276.8 257.7 L277.8 255.6 L277.9 255.1 L277.5 253.0 L277.3 252.6 L276.8 252.3 L275.8 252.1 L275.1 252.3 L274.8 252.8 L273.8 257.0ZM306.9 259.4 L307.5 259.7 L309.2 259.7 L309.9 259.5 L310.5 259.0 L310.7 258.6 L311.4 256.6 L311.4 255.9 L311.0 255.5 L310.5 255.2 L310.2 255.1 L307.4 254.7 L306.6 254.9 L306.3 255.7 L306.6 258.8ZM299.4 258.9 L298.7 259.3 L297.0 261.7 L296.8 262.0 L296.8 262.2 L296.8 262.8 L297.2 263.2 L299.7 264.8 L300.4 264.9 L300.4 264.9 L301.1 264.3 L301.2 263.7 L301.2 263.4 L301.0 260.4 L300.8 259.8 L300.1 259.2ZM290.5 264.4 L290.2 263.9 L289.9 263.7 L289.0 263.5 L287.3 264.1 L286.9 264.5 L286.7 265.1 L287.0 267.3 L287.4 267.9 L288.1 268.1 L288.7 267.7 L290.3 265.1ZM259.3 273.7 L259.6 273.9 L260.4 274.0 L260.9 273.6 L262.7 270.0 L262.7 269.2 L262.1 268.7 L260.4 268.2 L259.6 268.4 L259.3 268.6 L258.9 269.3 L258.9 273.0ZM270.0 272.3 L270.5 272.8 L272.6 273.7 L273.1 273.8 L273.6 273.5 L274.5 272.4 L274.7 271.9 L274.6 271.4 L273.2 269.1 L272.8 268.7 L272.2 268.7 L271.7 269.0 L270.1 271.5ZM276.7 266.2 L276.2 266.4 L274.6 267.6 L274.3 268.1 L274.4 268.7 L275.6 270.8 L276.4 271.3 L278.5 271.2 L278.9 271.1 L279.1 270.9 L279.5 270.5 L279.5 269.9 L278.9 267.6 L278.5 267.1 L277.2 266.3ZM330.3 269.1 L329.8 269.6 L329.7 270.3 L330.2 271.6 L330.6 272.1 L331.3 272.1 L331.4 272.1 L331.4 268.8ZM271.4 275.5 L271.4 274.8 L270.9 274.3 L270.6 274.1 L269.9 274.1 L269.4 274.6 L269.4 274.8 L269.3 275.4 L269.7 275.9 L269.8 275.9 L270.5 276.1 L270.8 276.0ZM274.4 275.9 L275.2 275.9 L277.7 274.8 L278.2 274.0 L278.3 273.4 L278.0 272.7 L277.3 272.4 L276.1 272.4 L275.4 272.8 L274.1 274.4 L273.9 275.1 L273.9 275.2ZM328.1 270.6 L327.4 270.6 L326.9 271.0 L326.2 272.7 L326.2 273.5 L327.0 274.8 L327.7 275.3 L328.4 275.0 L329.1 274.3 L329.3 273.8 L329.3 273.6 L329.3 273.1 L328.6 271.1ZM265.5 278.4 L265.2 277.7 L263.7 276.2 L263.0 276.0 L262.2 276.0 L261.6 276.2 L261.3 276.6 L260.2 279.8 L260.3 280.4 L260.7 280.9 L261.0 281.0 L261.8 281.0 L265.0 279.1ZM285.7 280.4 L286.4 280.6 L288.2 280.3 L288.8 280.0 L289.0 279.3 L288.9 277.4 L288.5 276.7 L287.7 276.6 L285.9 277.1 L285.4 277.4 L285.3 278.0 L285.3 279.7ZM290.6 281.8 L290.5 282.4 L290.6 283.9 L290.8 284.4 L291.3 284.7 L292.4 285.0 L292.8 285.0 L294.4 284.6 L294.9 284.4 L295.5 283.7 L295.7 283.0 L295.5 281.3 L295.1 280.6 L294.7 280.4 L293.9 280.3 L291.1 281.4ZM323.1 284.4 L323.0 284.9 L323.1 285.5 L323.3 285.7 L323.5 286.0 L325.2 287.2 L326.1 287.3 L327.8 286.6 L328.3 286.2 L329.1 284.3 L329.2 284.1 L329.3 283.4 L329.3 283.2 L329.2 281.9 L328.8 281.2 L328.3 280.9 L327.5 280.7 L325.2 281.4 L324.7 281.8 L323.2 284.1ZM295.5 285.0 L295.6 285.5 L296.8 288.1 L297.3 288.5 L298.0 288.5 L300.0 287.6 L300.5 287.1 L300.5 286.5 L299.8 284.8 L299.1 284.3 L296.8 283.9 L296.0 284.2 L295.7 284.5ZM263.0 290.1 L263.0 290.7 L263.3 291.2 L263.7 291.5 L264.5 291.7 L266.0 291.3 L266.4 290.9 L266.6 290.3 L266.4 289.8 L265.9 289.3 L265.4 289.0 L264.9 289.1 L263.5 289.7ZM300.8 292.2 L302.8 290.3 L303.0 289.6 L302.6 288.9 L301.6 288.2 L300.7 288.1 L298.3 289.2 L297.9 289.5 L297.8 290.0 L297.8 291.1 L298.0 291.6 L298.4 291.9 L299.9 292.4ZM305.0 289.6 L304.5 290.2 L304.7 290.9 L305.9 292.5 L306.4 292.8 L308.0 293.2 L308.7 293.1 L309.1 292.6 L309.4 291.7 L309.3 291.0 L308.8 290.6 L305.7 289.5ZM312.7 289.7 L312.0 289.9 L311.0 290.8 L310.7 291.2 L309.9 293.6 L309.9 294.2 L310.2 294.8 L310.5 295.2 L311.1 295.4 L312.5 295.2 L312.9 295.1 L314.3 294.0 L314.6 293.6 L314.6 293.1 L314.2 291.2 L314.0 290.9 L313.3 290.0ZM315.6 294.8 L314.9 294.9 L314.1 295.5 L313.8 296.1 L313.9 296.7 L314.8 298.4 L314.8 298.4 L317.4 298.4 L317.6 298.1 L317.5 297.5 L316.2 295.2ZM277.1 297.4 L276.8 296.8 L276.2 296.6 L275.6 296.8 L274.2 298.1 L274.1 298.4 L277.2 298.4ZM296.3 298.2 L296.2 298.4 L298.4 298.4 L298.0 298.2 L297.0 298.0ZM302.6 298.0 L302.1 297.6 L301.7 297.4 L300.9 297.5 L300.0 298.0 L299.7 298.4 L302.6 298.4Z" fill="#541c7a"/>
<path d="M263.8 223.0 L264.2 224.7 L264.5 225.2 L265.1 225.4 L266.1 225.3 L266.6 225.1 L268.3 223.8 L268.6 223.2 L268.6 222.8 L263.8 222.8ZM269.7 223.0 L269.7 223.2 L270.1 224.0 L270.5 224.3 L271.4 224.4 L273.7 223.4 L274.2 222.8 L274.2 222.8 L269.8 222.8ZM262.2 222.8 L262.1 222.8 L259.4 222.8 L259.1 223.3 L259.4 224.1 L261.8 226.0 L262.5 226.2 L263.1 225.8 L263.3 225.1 L262.9 223.5ZM272.9 227.0 L273.7 226.8 L274.2 226.3 L274.5 225.8 L274.4 225.2 L273.8 224.8 L273.2 224.8 L272.6 225.1 L272.2 225.6 L272.2 226.3 L272.3 226.5ZM262.2 228.7 L261.6 228.7 L260.0 229.4 L259.5 229.8 L259.4 230.3 L259.6 231.5 L259.9 232.1 L260.1 232.3 L260.9 232.4 L262.9 231.8 L263.5 231.3 L263.4 230.5 L262.7 229.2ZM323.5 233.0 L324.2 233.3 L326.1 233.4 L326.8 233.1 L327.1 232.4 L326.9 231.4 L326.5 230.9 L325.4 230.0 L324.5 229.9 L324.4 229.9 L324.0 230.5 L323.4 232.2ZM276.9 237.1 L277.5 237.0 L278.0 236.5 L278.6 234.7 L278.5 234.1 L278.2 233.6 L277.6 233.3 L276.9 233.2 L276.3 233.6 L275.7 234.8 L275.7 235.7 L276.3 236.7ZM283.9 235.1 L284.2 235.9 L285.8 237.5 L286.6 237.7 L289.0 237.3 L289.7 236.8 L289.7 236.0 L288.5 233.6 L288.0 233.1 L287.4 233.1 L284.5 234.4ZM322.1 234.7 L322.1 235.3 L322.3 236.0 L323.0 236.6 L326.1 237.1 L326.7 237.0 L327.1 236.5 L327.3 235.9 L327.3 235.6 L327.3 235.1 L327.1 234.5 L326.5 234.2 L323.0 234.1 L322.5 234.2 L322.5 234.2ZM281.7 240.4 L282.8 241.3 L283.3 241.5 L283.9 241.3 L284.6 240.7 L284.9 240.2 L285.2 239.0 L284.9 238.1 L284.2 237.4 L283.6 237.2 L283.0 237.4 L281.6 238.7 L281.3 239.7 L281.5 240.0ZM301.1 242.9 L301.6 242.3 L302.4 239.6 L302.3 238.8 L302.0 238.4 L301.6 238.0 L300.4 237.5 L299.5 237.5 L298.1 238.6 L297.7 239.1 L297.7 239.6 L298.4 241.5 L298.8 242.0 L300.4 242.8ZM306.4 238.7 L306.7 239.3 L307.4 239.5 L308.1 239.4 L308.6 239.1 L308.9 238.6 L308.7 238.0 L308.5 237.6 L307.8 237.3 L307.1 237.5 L306.6 238.0ZM310.3 239.6 L310.2 240.2 L310.6 243.2 L310.9 243.7 L311.4 243.9 L312.0 243.8 L313.9 242.3 L314.2 241.7 L314.1 241.0 L312.8 239.2 L312.3 238.9 L311.7 238.9 L310.8 239.2ZM317.7 236.2 L317.6 236.9 L318.1 238.7 L318.4 239.2 L318.9 239.4 L320.1 239.4 L320.6 239.3 L321.0 238.8 L321.6 237.2 L321.6 236.6 L321.4 236.0 L321.0 235.5 L320.4 235.4 L318.3 235.8ZM258.3 243.1 L258.5 243.9 L260.7 247.1 L261.2 247.4 L261.8 247.4 L262.2 247.0 L263.0 245.6 L263.1 245.1 L262.9 244.6 L261.0 242.3 L260.5 242.0 L259.9 242.1 L258.8 242.5ZM267.0 244.5 L267.1 245.2 L267.9 246.4 L268.5 246.8 L269.3 246.9 L269.9 246.9 L271.5 246.1 L272.0 245.5 L271.9 244.7 L270.5 242.8 L269.9 242.5 L269.2 242.6 L267.4 243.9ZM283.4 245.0 L284.0 245.9 L284.7 246.3 L285.5 246.0 L287.0 244.2 L287.2 243.5 L286.9 243.0 L286.0 242.0 L285.4 241.8 L284.8 242.0 L283.9 242.7 L283.6 243.1 L283.3 244.2ZM315.4 242.7 L314.7 242.9 L312.9 244.4 L312.5 245.0 L312.7 245.6 L313.3 246.4 L314.2 246.7 L316.6 246.0 L317.2 245.4 L317.3 245.4 L317.1 244.6 L316.0 243.1ZM267.6 250.2 L267.9 250.7 L268.3 251.1 L268.5 251.3 L269.2 251.3 L269.7 250.9 L269.8 250.2 L269.5 249.1 L269.0 248.6 L268.3 248.6 L267.8 249.1 L267.6 249.6ZM292.1 248.0 L292.3 248.6 L294.2 250.5 L294.7 250.8 L295.3 250.6 L296.6 249.9 L297.0 249.3 L297.4 248.0 L297.3 247.4 L296.9 246.9 L295.0 245.8 L294.5 245.7 L294.2 245.7 L293.6 246.0 L292.3 247.4ZM310.8 250.2 L312.5 249.9 L313.0 249.6 L313.2 249.0 L313.1 247.9 L312.9 247.4 L311.4 245.4 L310.8 245.1 L310.6 245.1 L310.2 245.1 L308.7 245.7 L308.2 246.2 L307.5 248.1 L307.5 248.8 L308.0 249.3 L310.4 250.1ZM270.0 252.9 L270.1 253.7 L271.4 255.6 L272.0 256.0 L272.6 255.9 L273.0 255.3 L273.5 253.1 L273.3 252.4 L272.6 252.0 L271.2 252.1 L270.8 252.2 L270.4 252.4ZM289.8 253.9 L290.3 254.3 L292.5 254.8 L293.1 254.7 L293.5 254.2 L293.8 253.7 L293.8 253.4 L293.9 252.2 L293.6 251.5 L292.0 249.8 L291.4 249.6 L290.8 249.7 L290.4 250.2 L289.7 253.2ZM305.0 255.5 L304.1 255.5 L301.2 257.0 L300.8 257.4 L300.8 257.5 L300.7 258.1 L301.0 258.6 L301.4 259.0 L302.1 259.2 L304.8 259.0 L305.4 258.7 L305.6 258.0 L305.5 256.2ZM260.6 267.3 L261.1 267.7 L263.6 268.4 L264.6 268.1 L265.3 267.2 L265.5 266.5 L265.0 263.5 L264.5 262.8 L263.7 262.8 L261.6 264.0 L261.1 264.5 L260.5 266.6ZM292.3 265.0 L292.2 265.7 L293.5 269.2 L293.9 269.7 L294.5 269.8 L295.0 269.5 L295.2 269.3 L295.5 268.5 L294.9 265.0 L294.6 264.4 L293.9 264.3 L292.9 264.5ZM306.9 276.3 L305.6 278.7 L305.6 279.6 L306.4 280.9 L306.8 281.3 L307.4 281.4 L310.5 280.5 L311.1 280.0 L311.2 279.5 L311.3 279.3 L311.3 277.8 L310.9 277.0 L309.6 276.1 L309.2 276.0 L307.8 275.9ZM329.9 280.9 L331.2 280.5 L331.4 280.4 L331.4 275.3 L330.5 275.0 L330.0 274.9 L329.5 275.2 L328.3 276.6 L328.1 277.3 L328.3 279.7 L328.6 280.3 L329.2 280.7ZM256.8 282.0 L256.7 281.9 L256.7 282.3ZM276.2 283.5 L275.7 283.9 L275.2 285.0 L275.2 285.8 L275.6 286.7 L276.1 287.2 L277.2 287.7 L277.9 287.7 L279.7 287.1 L280.1 286.7 L280.3 286.1 L280.1 284.8 L279.9 284.3 L279.4 284.1 L276.7 283.4ZM268.9 291.3 L268.9 291.8 L269.6 294.1 L270.1 294.6 L270.9 294.6 L273.4 293.1 L273.7 292.6 L273.8 292.0 L273.5 291.3 L273.2 290.8 L272.7 290.7 L270.0 290.5 L269.3 290.7 L269.2 290.9Z" fill="#6c2888"/>
<path d="M310.8 224.0 L311.5 224.0 L311.9 223.5 L311.9 222.8 L311.9 222.8 L309.9 222.8 L310.0 223.0 L310.3 223.6ZM313.5 223.7 L314.0 224.2 L314.3 224.3 L314.9 224.3 L315.4 223.9 L316.0 222.8 L313.1 222.8ZM310.2 227.3 L310.3 227.9 L310.8 228.2 L311.5 228.1 L314.0 226.9 L314.4 226.4 L314.4 225.7 L313.8 225.3 L313.7 225.2 L313.0 225.2 L311.1 226.0 L310.8 226.2 L310.4 226.7ZM319.6 227.8 L319.8 228.4 L320.3 228.8 L323.4 229.5 L324.0 229.4 L324.2 229.3 L324.7 228.5 L324.8 226.3 L324.6 225.7 L323.9 225.4 L322.4 225.3 L321.7 225.6 L319.9 227.2ZM273.6 229.1 L274.0 229.7 L275.7 230.8 L276.4 231.0 L276.9 230.5 L278.0 228.6 L278.1 227.8 L277.6 227.3 L276.4 226.8 L275.5 227.0 L273.9 228.3ZM262.1 236.3 L262.8 236.4 L263.3 236.0 L264.6 234.4 L264.7 233.4 L264.6 233.2 L264.1 232.8 L263.5 232.8 L261.9 233.2 L261.4 233.7 L261.3 234.4 L261.7 235.8ZM260.7 238.6 L260.2 238.2 L257.0 237.1 L256.7 237.1 L256.7 241.7 L257.1 241.9 L257.9 242.0 L259.8 241.1 L260.3 240.6 L260.8 239.3ZM265.7 239.3 L265.3 239.9 L265.4 240.5 L266.5 242.4 L267.0 242.8 L267.8 242.7 L268.7 242.0 L269.0 241.5 L269.0 240.9 L268.5 239.9 L267.8 239.4 L266.3 239.2ZM321.9 239.7 L322.5 240.1 L323.3 240.4 L323.9 240.3 L325.9 239.6 L326.5 239.1 L326.4 238.3 L325.8 237.9 L323.2 237.5 L322.6 237.6 L322.2 238.0 L321.9 238.9ZM302.5 242.7 L303.0 243.1 L305.2 243.8 L305.8 243.8 L306.3 243.4 L306.4 242.8 L306.0 240.7 L305.6 240.2 L305.0 239.7 L304.5 239.6 L303.8 239.5 L303.3 239.7 L302.9 240.2 L302.4 242.0ZM323.1 241.4 L322.5 241.2 L321.9 241.5 L321.6 242.0 L321.5 243.6 L321.9 244.4 L322.0 244.4 L322.5 244.6 L323.0 244.5 L323.4 244.2 L323.7 243.8 L323.8 243.3 L323.4 241.9ZM256.7 246.7 L256.7 247.2 L257.0 247.7 L257.6 247.8 L258.4 247.8 L259.0 247.5 L259.3 247.0 L259.1 246.4 L258.6 245.6 L258.0 245.3 L257.4 245.3 L257.0 245.8 L256.7 246.6ZM314.4 250.1 L315.5 251.5 L316.1 251.9 L316.8 251.7 L318.1 250.7 L318.4 250.2 L318.3 249.6 L317.5 247.9 L317.1 247.4 L316.5 247.4 L314.9 247.8 L314.4 248.1 L314.2 248.7 L314.2 249.6ZM325.9 249.7 L326.4 250.3 L327.1 250.3 L331.3 248.6 L331.4 248.5 L331.4 246.5 L330.9 245.5 L330.6 245.2 L330.1 244.8 L329.4 244.7 L328.8 245.0 L326.0 248.9ZM284.4 247.4 L283.8 247.7 L281.6 250.2 L281.4 250.9 L281.7 251.5 L282.9 252.5 L283.8 252.6 L284.4 252.4 L285.0 251.8 L285.7 248.9 L285.5 248.0 L285.1 247.7ZM287.7 258.5 L288.9 260.5 L289.3 260.9 L289.9 260.9 L290.4 260.5 L292.1 257.9 L292.3 257.5 L292.4 256.7 L292.3 256.1 L291.7 255.7 L289.8 255.3 L289.3 255.3 L288.9 255.7 L287.7 257.5ZM315.2 255.5 L314.4 255.4 L312.9 255.9 L312.3 256.5 L311.8 258.1 L311.8 258.7 L312.2 259.2 L314.5 260.3 L315.3 260.3 L315.8 259.7 L315.8 259.5 L315.8 259.2 L315.6 256.2ZM304.3 261.6 L304.4 261.0 L304.0 260.5 L303.4 260.3 L303.0 260.3 L302.4 260.7 L302.2 261.3 L302.2 261.5 L302.6 262.2 L303.5 262.2 L303.8 262.0ZM316.4 261.5 L316.9 261.9 L317.5 262.0 L319.4 261.5 L319.9 261.2 L320.1 260.6 L319.8 260.0 L319.2 259.8 L317.4 259.8 L316.8 260.0 L316.5 260.5 L316.4 260.9ZM269.6 263.1 L269.1 262.8 L268.0 262.5 L267.6 262.5 L266.6 262.6 L266.1 263.0 L265.9 263.6 L266.2 265.4 L266.5 266.0 L267.2 266.2 L269.0 265.8 L269.5 265.5 L269.7 264.9 L269.8 263.6ZM296.9 264.6 L296.4 265.0 L296.2 265.6 L296.4 267.1 L296.9 267.7 L297.7 267.7 L298.2 267.5 L298.6 267.1 L298.9 266.5 L298.9 265.9 L298.5 265.3 L297.6 264.7ZM307.4 264.7 L307.2 265.3 L307.4 265.9 L308.7 267.5 L309.5 267.8 L310.2 267.4 L311.0 266.0 L311.2 265.6 L311.2 264.9 L310.9 264.2 L310.1 264.0 L307.9 264.4ZM261.7 274.4 L262.0 274.9 L262.6 275.1 L262.7 275.1 L263.5 274.6 L265.1 271.6 L265.0 270.7 L264.9 270.5 L264.4 270.1 L263.8 270.1 L263.3 270.6 L261.8 273.8ZM317.5 276.2 L319.4 276.0 L319.9 275.8 L320.2 275.2 L320.3 274.6 L320.1 273.8 L318.7 272.4 L318.1 272.1 L317.4 272.3 L315.8 273.7 L315.4 274.3 L315.4 274.6 L315.5 275.2 L315.9 275.6 L317.0 276.1ZM266.8 278.3 L267.1 278.9 L267.8 279.6 L268.4 279.9 L269.1 279.6 L269.3 279.0 L269.3 277.7 L269.0 277.0 L268.9 277.0 L268.4 276.8 L267.8 277.0 L267.1 277.6ZM284.1 277.7 L283.6 277.4 L283.0 277.5 L281.5 278.2 L281.0 278.7 L281.0 279.3 L281.8 281.3 L282.1 281.8 L282.7 281.9 L283.3 281.9 L283.5 281.9 L283.7 281.8 L284.2 281.5 L284.4 280.9 L284.3 278.3ZM317.5 280.5 L318.2 280.8 L318.9 280.4 L320.0 278.7 L320.2 277.9 L320.1 277.8 L319.8 277.3 L319.2 277.2 L318.4 277.2 L317.8 277.5 L317.5 278.0 L317.2 279.7ZM312.3 286.2 L312.7 285.7 L312.7 285.0 L311.3 282.1 L310.8 281.7 L310.2 281.7 L307.4 282.4 L306.8 283.0 L306.7 283.3 L306.7 283.7 L306.8 284.3 L307.4 285.0 L311.6 286.3ZM267.2 285.2 L266.6 285.5 L266.4 286.1 L266.4 287.3 L266.6 288.0 L267.7 289.2 L268.2 289.5 L268.8 289.4 L269.2 288.9 L269.7 287.3 L269.7 286.7 L269.3 286.3 L267.8 285.3ZM287.9 286.9 L287.4 287.7 L287.3 288.2 L287.6 288.8 L288.5 289.5 L288.7 289.7 L290.6 290.5 L291.2 290.6 L291.7 290.3 L291.9 289.7 L291.9 286.7 L291.8 286.1 L291.3 285.8 L290.7 285.6 L290.1 285.7 L288.3 286.5ZM294.3 286.1 L293.6 286.3 L293.2 287.0 L293.2 288.0 L293.4 288.6 L293.9 288.9 L294.6 288.9 L295.0 288.6 L295.4 288.1 L295.4 287.4 L295.0 286.6ZM257.1 292.9 L258.6 292.9 L259.4 292.6 L260.6 290.9 L260.8 290.3 L260.6 289.8 L259.8 288.8 L259.1 288.4 L258.4 288.8 L256.7 291.1 L256.7 292.7ZM287.4 290.1 L286.6 289.4 L285.6 289.3 L285.0 289.5 L284.5 290.1 L283.8 292.3 L283.8 292.9 L284.2 293.4 L286.2 294.4 L286.7 294.5 L287.2 294.2 L287.5 293.7 L287.7 290.8ZM282.4 297.1 L283.0 297.3 L285.6 297.0 L286.3 296.7 L286.4 295.9 L285.9 295.3 L283.4 294.1 L282.5 294.1 L282.3 294.3 L281.9 295.1 L282.1 296.5ZM300.5 296.5 L300.6 295.9 L300.2 294.0 L299.6 293.3 L297.9 292.7 L297.1 292.7 L295.4 293.7 L295.0 294.3 L295.0 295.0 L296.0 296.7 L296.7 297.1 L298.7 297.4 L299.3 297.3 L300.1 296.9Z" fill="#642284"/>
<path d="M278.8 223.3 L279.1 223.9 L279.8 224.4 L280.6 224.1 L281.3 223.3 L281.4 222.8 L278.7 222.8ZM288.7 225.0 L289.4 224.9 L291.7 223.6 L292.2 223.0 L292.1 222.8 L288.2 222.8 L287.9 223.4 L287.9 224.1 L288.1 224.5ZM277.2 223.5 L276.6 223.5 L276.1 223.9 L276.0 224.5 L276.1 225.0 L276.7 225.6 L276.9 225.7 L277.6 225.7 L278.0 225.1 L278.0 224.4 L277.7 223.9ZM307.1 228.0 L307.2 228.0 L307.8 227.5 L307.8 226.7 L306.3 223.7 L305.7 223.2 L305.0 223.3 L303.9 224.2 L303.5 224.9 L303.6 226.3 L303.7 226.7 L303.9 227.0 L304.4 227.4 L306.6 228.0ZM317.9 227.7 L318.5 227.5 L320.8 225.3 L321.1 224.8 L321.0 224.3 L320.3 222.8 L317.1 222.8 L316.0 224.6 L315.9 225.5 L316.3 226.3 L316.4 226.4 L317.2 227.4ZM288.6 227.5 L288.2 227.8 L288.1 227.9 L288.0 228.7 L288.6 230.6 L289.0 231.1 L289.6 231.2 L291.6 230.8 L292.1 230.4 L292.5 229.8 L292.6 229.0 L292.0 228.4 L289.2 227.5ZM328.4 232.8 L329.2 232.9 L330.2 232.6 L330.6 232.4 L331.2 231.8 L331.4 231.2 L331.4 231.2 L331.2 230.6 L330.6 230.3 L329.5 230.1 L328.8 230.3 L328.3 230.8 L327.9 231.7 L328.0 232.2ZM329.2 234.5 L329.2 235.2 L329.8 235.7 L330.1 235.8 L330.8 235.6 L331.2 235.0 L331.0 234.4 L330.9 234.2 L330.5 233.9 L330.0 233.9 L329.8 234.0ZM291.6 242.2 L290.8 242.4 L289.9 243.1 L289.5 243.7 L289.7 244.3 L290.9 245.9 L291.5 246.3 L292.2 246.0 L292.7 245.6 L292.9 244.7 L292.2 242.8ZM302.5 249.9 L302.3 249.1 L300.6 247.2 L300.2 246.9 L299.6 246.9 L298.9 247.3 L298.4 247.9 L298.0 249.1 L298.0 249.6 L298.4 250.1 L299.8 251.0 L300.6 251.1 L302.0 250.6ZM279.7 251.6 L278.9 252.0 L278.5 252.4 L278.4 253.0 L278.7 254.4 L279.0 254.9 L279.5 255.1 L281.5 255.5 L282.2 255.3 L282.6 254.7 L282.7 253.9 L282.4 253.1 L280.7 251.7ZM311.1 251.1 L310.9 251.7 L310.9 254.0 L311.4 254.9 L311.8 255.1 L312.5 255.1 L314.9 254.3 L315.4 253.7 L315.3 252.9 L313.8 250.9 L312.9 250.6 L311.7 250.8ZM331.4 253.3 L331.4 253.3 L331.4 253.1ZM259.6 258.6 L262.3 257.3 L262.7 256.9 L262.9 256.4 L262.8 256.0 L262.8 255.8 L262.6 255.0 L262.4 254.6 L261.6 253.7 L260.9 253.3 L257.7 253.5 L257.1 253.8 L256.9 254.4 L256.9 256.6 L257.2 257.3 L258.6 258.5ZM268.4 256.9 L269.2 257.3 L269.4 257.3 L270.0 257.1 L270.3 256.5 L270.1 255.9 L270.0 255.7 L269.5 255.3 L268.9 255.4 L268.4 255.8 L268.4 256.0ZM276.2 264.4 L276.8 264.3 L277.2 263.8 L278.1 261.0 L278.1 260.4 L277.8 260.0 L276.9 259.3 L276.4 259.1 L274.1 259.0 L273.6 259.1 L273.2 259.6 L273.1 260.0 L273.2 260.8 L275.6 264.0ZM280.5 260.2 L280.8 261.0 L281.8 261.7 L282.4 261.9 L283.0 261.6 L283.3 261.1 L283.4 259.5 L283.2 258.9 L282.6 258.6 L282.0 258.7 L280.9 259.5ZM257.6 268.1 L258.3 267.9 L258.6 267.3 L258.4 266.6 L256.7 264.3 L256.7 268.0ZM317.4 263.2 L317.2 263.9 L317.8 266.3 L318.2 266.8 L318.9 267.0 L320.0 266.8 L320.7 266.3 L320.7 265.6 L319.8 263.2 L319.4 262.7 L318.8 262.6 L317.9 262.8ZM256.9 272.5 L257.7 272.3 L258.0 271.6 L258.0 270.0 L257.8 269.4 L257.2 269.1 L256.7 269.0 L256.7 272.5ZM305.8 270.2 L307.6 268.9 L308.0 268.3 L307.9 267.6 L306.6 266.1 L305.7 265.8 L304.2 266.2 L303.7 266.6 L303.6 267.3 L304.3 269.7 L304.8 270.2 L304.9 270.2ZM290.3 275.1 L290.6 275.6 L292.5 276.8 L293.1 276.9 L293.6 276.7 L295.1 275.5 L295.4 275.0 L295.3 274.4 L294.3 272.6 L293.8 272.2 L293.1 272.3 L290.7 273.7 L290.4 274.2 L290.3 274.6ZM296.8 275.1 L297.8 275.9 L298.8 276.0 L299.8 275.5 L300.3 274.7 L300.3 273.3 L300.0 272.7 L299.4 272.4 L296.7 272.2 L296.1 272.4 L295.8 272.9 L295.9 273.5 L296.6 274.8ZM294.9 279.4 L295.1 279.6 L295.7 279.7 L296.3 279.4 L297.2 278.3 L297.4 277.9 L297.5 277.4 L297.2 276.5 L297.0 276.3 L296.4 276.1 L295.9 276.3 L294.5 277.4 L294.1 278.0 L294.3 278.6 L294.6 279.2ZM315.8 279.4 L316.1 278.8 L316.3 277.8 L316.2 277.2 L315.8 276.8 L315.1 276.5 L314.3 276.5 L312.9 277.2 L312.4 278.0 L312.4 278.2 L312.6 278.8 L313.1 279.1 L315.1 279.5ZM269.2 281.9 L268.6 282.0 L268.3 282.5 L268.0 283.3 L268.1 283.9 L268.4 284.3 L270.4 285.5 L271.0 285.6 L271.5 285.3 L271.7 284.7 L271.5 284.2 L269.8 282.2ZM284.9 283.8 L284.2 284.0 L283.9 284.7 L283.8 287.6 L284.0 288.1 L284.5 288.5 L285.1 288.4 L285.6 288.1 L286.1 287.8 L286.7 286.7 L286.6 285.7 L285.5 284.2ZM319.5 281.6 L320.0 282.2 L321.9 283.3 L322.6 283.3 L323.1 283.0 L323.7 282.0 L323.9 281.4 L323.5 280.8 L321.8 279.5 L321.1 279.3 L320.5 279.7 L319.7 280.9ZM271.0 287.1 L270.5 288.6 L270.6 289.4 L271.3 289.8 L272.8 289.8 L273.6 289.4 L274.6 287.8 L274.6 286.9 L274.3 286.4 L273.9 285.9 L273.2 285.9 L271.5 286.6ZM322.0 286.8 L321.6 286.3 L320.9 286.2 L319.8 286.4 L319.3 286.8 L319.2 287.5 L319.3 287.9 L319.6 288.4 L320.1 288.6 L320.7 288.6 L321.5 288.2 L321.9 287.5ZM280.5 287.9 L278.8 288.5 L278.3 288.9 L278.2 289.4 L278.7 292.8 L278.9 293.2 L279.4 293.5 L281.0 293.8 L281.6 293.6 L282.3 293.2 L282.6 292.7 L283.5 290.1 L283.5 289.6 L283.1 289.1 L283.0 289.0 L283.0 289.0 L281.2 287.9ZM270.4 296.1 L270.5 296.8 L270.9 297.2 L272.5 297.9 L273.5 297.7 L276.1 295.4 L276.4 294.8 L276.2 294.2 L275.8 293.9 L274.9 293.5 L274.1 293.6 L270.8 295.6ZM278.2 294.5 L277.8 294.9 L277.8 294.9 L277.7 295.4 L277.9 297.0 L278.2 297.6 L278.7 297.8 L279.3 297.7 L280.7 296.8 L281.1 296.0 L281.0 295.5 L280.8 295.0 L280.3 294.7 L278.8 294.4ZM289.6 298.4 L292.3 298.4 L294.1 297.7 L294.5 297.1 L294.5 296.4 L293.8 295.2 L293.2 294.7 L292.5 294.9 L289.9 296.8 L289.5 297.6 L289.5 298.2ZM302.9 296.6 L303.4 296.2 L304.8 293.6 L304.9 293.1 L304.7 292.6 L304.1 291.8 L303.4 291.4 L302.7 291.7 L301.5 292.9 L301.3 293.7 L301.7 295.9 L302.2 296.6 L302.2 296.6ZM322.3 293.9 L322.5 295.1 L322.9 295.7 L325.1 296.9 L325.8 297.0 L326.3 296.6 L326.5 295.9 L325.9 292.9 L325.5 292.4 L325.5 292.4 L324.7 292.2 L323.0 292.8 L322.7 293.0 L322.6 293.1ZM329.6 297.5 L329.8 298.0 L330.3 298.3 L330.6 298.4 L331.4 298.4 L331.4 294.8 L331.3 294.9 L329.8 296.9ZM312.9 297.1 L312.0 296.6 L310.9 296.8 L310.2 297.2 L309.5 298.4 L313.5 298.4Z" fill="#74308c"/>
<path d="M286.2 222.9 L286.8 222.8 L286.8 222.8 L284.1 222.8ZM308.9 240.7 L308.2 240.5 L307.9 240.6 L307.3 240.9 L307.2 241.6 L307.6 243.9 L308.1 244.5 L308.8 244.6 L309.0 244.5 L309.4 244.2 L309.5 243.6 L309.2 241.3ZM257.0 252.9 L260.5 252.7 L261.0 252.4 L261.3 251.9 L261.7 249.6 L261.4 248.8 L260.7 248.5 L256.7 248.8 L256.7 252.8ZM286.7 248.9 L286.3 249.4 L285.7 251.6 L285.8 252.2 L286.3 252.6 L287.5 253.2 L288.3 253.2 L288.8 252.6 L289.4 250.1 L289.3 249.3 L288.7 248.9 L287.3 248.8ZM315.8 262.9 L315.1 262.9 L312.4 264.0 L311.8 264.8 L311.8 264.9 L312.0 265.5 L312.5 265.8 L315.7 266.5 L316.3 266.5 L316.7 266.0 L316.8 265.4 L316.3 263.5ZM323.4 265.3 L322.9 266.3 L322.8 266.9 L323.1 267.4 L323.2 267.5 L323.6 267.7 L326.7 268.4 L327.4 268.3 L327.8 267.6 L327.8 264.4 L327.5 263.8 L326.9 263.3 L326.3 263.0 L325.7 263.2 L323.6 264.9ZM275.3 279.0 L276.0 279.0 L278.2 278.2 L278.6 277.8 L278.7 277.1 L278.5 276.6 L278.0 276.0 L277.3 276.0 L275.3 276.9 L274.8 277.4 L274.7 277.9 L274.8 278.4ZM276.5 282.0 L277.0 282.3 L279.6 282.9 L280.2 282.8 L280.6 282.3 L280.6 281.7 L279.9 279.8 L279.5 279.3 L278.8 279.3 L276.8 280.0 L276.3 280.4 L276.2 281.0 L276.3 281.5ZM261.0 288.2 L261.5 288.8 L262.3 288.8 L264.5 287.8 L265.0 287.0 L265.1 286.3 L264.9 285.8 L264.4 285.4 L263.6 285.2 L263.1 285.2 L262.7 285.5 L261.2 287.4ZM264.5 293.0 L264.3 293.5 L264.3 295.1 L264.4 295.6 L264.8 295.9 L268.0 297.2 L268.7 297.1 L269.2 296.5 L269.3 296.0 L269.2 295.6 L268.3 292.6 L267.9 292.1 L267.2 292.0 L265.0 292.7Z" fill="#dca6d8"/>
<path d="M293.4 223.0 L293.6 223.4 L294.3 224.3 L294.9 224.6 L295.5 224.4 L297.1 223.4 L297.4 223.1 L297.6 222.8 L293.3 222.8ZM287.8 226.0 L287.2 224.6 L286.5 224.1 L284.8 224.0 L284.0 224.2 L283.8 225.0 L284.1 227.4 L284.5 228.1 L285.2 228.2 L286.8 227.9 L287.3 227.5 L287.8 226.9ZM329.8 226.6 L329.5 227.3 L329.5 228.1 L329.8 228.6 L330.3 228.9 L331.4 229.1 L331.4 229.1 L331.4 226.5 L330.5 226.4ZM298.7 231.6 L299.3 231.6 L300.9 231.2 L301.4 230.8 L302.6 228.7 L302.7 228.0 L302.4 227.5 L301.7 227.3 L300.0 227.6 L299.3 228.0 L298.1 229.9 L298.1 230.9 L298.3 231.2ZM307.0 229.4 L306.2 232.8 L306.2 233.4 L306.6 233.9 L307.4 234.3 L308.3 234.3 L310.5 233.1 L310.9 232.5 L310.8 231.8 L309.7 229.9 L309.5 229.7 L308.8 228.9 L307.9 228.7 L307.7 228.8ZM303.2 237.8 L303.4 238.3 L304.0 238.6 L304.2 238.6 L304.9 238.3 L306.8 236.3 L307.0 235.5 L306.5 234.9 L306.1 234.7 L305.5 234.6 L304.9 234.9 L303.3 237.2ZM277.3 239.6 L277.0 240.2 L276.9 240.9 L277.1 241.9 L277.4 242.4 L278.0 242.5 L278.6 242.3 L280.1 240.9 L280.4 240.5 L280.3 239.9 L280.3 239.9 L279.5 239.3 L278.1 239.2ZM294.1 241.7 L293.5 242.1 L293.4 242.8 L293.7 243.7 L294.1 244.2 L294.7 244.3 L295.2 244.0 L295.5 243.6 L295.7 242.9 L295.4 242.3 L294.8 241.8ZM329.9 242.2 L330.0 243.0 L330.3 243.7 L330.6 243.9 L331.1 244.1 L331.4 244.0 L331.4 240.7 L330.3 241.4ZM283.2 256.3 L283.3 256.7 L283.7 257.2 L283.9 257.4 L284.4 257.5 L286.2 257.6 L287.0 257.2 L288.3 255.3 L288.4 254.6 L287.9 254.0 L285.5 253.0 L284.8 253.0 L284.0 253.3 L283.4 254.0 L283.2 255.9ZM256.9 261.1 L257.9 260.3 L258.2 259.7 L257.9 258.9 L256.9 258.1 L256.7 258.0 L256.7 261.2ZM264.6 258.2 L264.4 259.1 L265.0 261.0 L265.4 261.5 L266.0 261.6 L266.5 261.5 L267.0 261.2 L267.3 260.6 L267.3 258.9 L267.0 258.3 L266.4 258.0 L265.3 257.9ZM288.9 262.6 L288.8 261.8 L287.0 258.7 L286.3 258.3 L285.2 258.2 L284.6 258.4 L284.2 259.0 L284.0 262.8 L284.1 263.3 L284.5 263.7 L284.9 263.8 L285.3 263.9 L286.1 263.8 L286.3 263.8 L288.3 263.1ZM275.2 265.4 L275.1 264.7 L273.0 262.0 L272.4 261.6 L271.7 261.8 L271.0 262.5 L270.7 263.1 L270.7 265.5 L270.9 266.2 L271.9 267.1 L272.5 267.4 L272.6 267.4 L273.3 267.2 L274.9 266.0ZM302.1 264.2 L302.1 264.9 L302.5 265.4 L302.6 265.4 L303.3 265.5 L305.5 264.9 L306.0 264.5 L306.2 263.9 L306.1 263.5 L305.7 262.8 L304.9 262.8 L302.6 263.8ZM288.2 270.5 L288.4 271.1 L289.6 272.3 L290.1 272.5 L290.7 272.4 L292.3 271.4 L292.7 270.9 L292.7 270.3 L291.6 267.4 L291.2 266.9 L290.6 266.8 L290.0 267.2 L288.3 270.0ZM325.8 269.6 L325.2 269.1 L324.7 269.0 L324.0 269.1 L323.6 269.6 L323.2 271.3 L323.4 272.0 L324.1 272.4 L324.2 272.4 L325.1 271.9 L325.8 270.4ZM310.2 275.3 L310.5 275.8 L311.4 276.3 L312.3 276.4 L313.9 275.6 L314.4 274.9 L314.5 274.1 L314.4 273.4 L312.8 271.2 L312.2 270.8 L311.6 270.9 L311.2 271.4 L310.2 274.8ZM321.3 274.5 L321.2 274.6 L321.4 275.3 L322.1 275.6 L324.7 275.8 L325.3 275.6 L325.7 275.1 L325.6 274.5 L325.3 273.9 L324.5 273.5 L322.6 273.4 L322.0 273.6 L321.6 273.9ZM260.6 275.7 L260.2 275.2 L259.2 274.6 L258.6 274.4 L258.1 274.6 L257.4 275.2 L257.1 275.8 L256.7 277.8 L256.7 280.3 L256.7 280.4 L257.1 280.6 L257.8 280.8 L258.7 280.6 L259.3 280.0 L260.6 276.3ZM259.7 287.5 L260.1 287.2 L262.0 284.6 L262.1 283.7 L261.3 282.2 L260.9 281.8 L259.7 281.3 L259.1 281.2 L258.2 281.4 L257.5 282.1 L256.9 285.0 L257.2 285.8 L258.6 287.2 L259.0 287.5 L259.2 287.5ZM301.4 282.8 L302.1 283.1 L305.1 283.1 L305.7 282.9 L306.0 282.5 L306.0 282.5 L305.9 281.8 L304.9 279.9 L304.2 279.5 L303.8 279.4 L303.3 279.6 L301.9 280.6 L301.5 281.1 L301.3 282.0ZM312.0 288.2 L311.8 287.6 L311.3 287.2 L307.2 286.0 L306.6 286.0 L306.2 286.4 L305.6 287.5 L305.5 288.2 L306.1 288.8 L309.6 289.9 L310.5 289.8 L311.6 288.8ZM323.3 287.2 L322.8 287.6 L322.1 288.7 L322.0 289.5 L322.5 290.9 L322.9 291.4 L323.6 291.4 L324.3 291.2 L324.9 290.4 L325.1 288.6 L324.7 287.8 L324.1 287.4ZM329.2 287.1 L330.6 288.9 L331.3 289.2 L331.4 289.2 L331.4 286.6 L330.5 285.8 L329.7 285.6 L329.1 286.1 L329.1 286.2ZM275.2 292.7 L276.4 293.1 L277.0 293.1 L277.5 292.7 L277.6 292.1 L277.2 289.2 L276.7 288.5 L276.3 288.3 L275.7 288.3 L275.2 288.7 L274.3 290.0 L274.2 290.8 L274.6 292.1ZM293.5 293.5 L294.3 293.4 L296.6 292.1 L297.1 291.3 L297.0 290.1 L296.8 289.6 L296.3 289.3 L295.7 289.4 L293.1 290.7 L292.7 291.3 L292.6 291.6 L292.6 292.2 L293.0 293.0ZM331.4 293.1 L331.4 290.4 L330.8 290.7 L330.6 291.0 L330.6 292.0 L331.2 292.9ZM261.6 291.8 L261.0 292.1 L260.3 293.1 L260.2 294.0 L261.0 295.6 L261.5 296.0 L262.1 296.0 L262.7 295.8 L263.1 295.5 L263.3 295.0 L263.4 293.3 L263.0 292.5 L262.3 291.9ZM327.9 296.5 L328.5 296.7 L329.1 296.4 L330.4 294.7 L330.5 294.2 L330.4 293.6 L329.6 292.5 L329.2 292.1 L328.6 292.1 L327.7 292.3 L327.1 292.7 L327.0 293.4 L327.5 296.0Z" fill="#5a1e7e"/>
<path d="M321.9 224.0 L322.7 224.5 L324.7 224.7 L325.3 224.5 L325.6 223.9 L325.5 223.2 L325.2 222.8 L321.3 222.8ZM271.9 228.9 L271.9 228.2 L270.5 225.8 L270.3 225.5 L269.7 225.0 L269.2 224.9 L268.6 225.0 L267.9 225.6 L267.6 226.1 L267.7 226.8 L268.8 228.7 L269.2 229.0 L270.4 229.6 L271.2 229.6 L271.5 229.5ZM258.2 232.3 L258.4 231.6 L258.3 230.3 L257.7 229.5 L257.0 229.3 L256.7 229.3 L256.7 233.9ZM283.6 233.1 L284.1 233.4 L284.7 233.4 L287.3 232.2 L287.8 231.8 L287.8 231.2 L287.3 229.4 L286.9 228.9 L286.3 228.8 L284.3 229.2 L283.8 229.5 L283.6 230.0 L283.5 232.5ZM294.2 229.5 L293.6 229.9 L293.0 230.9 L292.9 231.6 L293.3 233.5 L293.9 234.1 L294.7 234.0 L296.9 232.6 L297.3 232.1 L297.2 231.4 L296.9 231.0 L296.6 230.7 L294.9 229.6ZM316.9 228.6 L316.7 228.1 L316.3 227.7 L315.8 227.4 L315.3 227.4 L311.4 229.3 L310.9 229.9 L311.0 230.6 L311.9 232.1 L312.4 232.5 L313.3 232.8 L313.9 232.8 L314.3 232.5 L316.7 229.2ZM293.0 237.4 L293.3 237.9 L293.8 238.1 L296.7 238.4 L297.3 238.2 L298.8 237.1 L299.2 236.6 L299.2 236.1 L298.5 234.2 L298.0 233.6 L297.2 233.7 L293.8 235.9 L293.5 236.2 L293.1 236.8ZM301.0 232.2 L300.1 232.5 L299.5 233.0 L299.5 233.6 L300.3 236.1 L300.7 236.6 L301.2 236.9 L301.8 236.9 L302.3 236.6 L303.7 234.7 L303.8 234.0 L303.4 233.4 L301.8 232.3ZM314.8 233.6 L315.2 234.1 L316.6 235.0 L317.2 235.2 L320.1 234.7 L320.6 234.4 L320.9 233.9 L320.7 233.3 L318.5 230.0 L317.8 229.7 L317.1 230.0 L315.0 232.9ZM270.2 241.1 L270.9 241.0 L272.1 240.2 L272.5 239.4 L272.4 236.9 L272.2 236.4 L271.8 236.1 L270.7 235.8 L270.0 235.8 L269.6 236.4 L269.0 238.7 L269.0 239.3 L269.6 240.6ZM294.6 239.3 L294.3 240.0 L294.6 240.6 L296.1 241.8 L296.8 242.0 L297.4 241.6 L297.5 240.9 L297.1 239.7 L296.3 239.1 L295.2 239.0ZM314.6 235.0 L314.0 235.5 L313.1 237.7 L313.2 238.5 L314.9 240.8 L315.5 241.2 L316.2 240.9 L317.1 240.0 L317.3 239.1 L316.6 236.2 L316.2 235.7 L315.3 235.1ZM262.4 238.4 L261.9 238.9 L261.2 240.8 L261.4 241.7 L263.5 244.3 L264.4 244.6 L265.4 244.4 L266.1 243.9 L266.0 243.1 L263.8 239.0 L263.4 238.6 L263.1 238.4ZM300.0 244.0 L299.6 243.6 L298.6 243.1 L297.8 243.1 L297.4 243.3 L297.1 243.5 L296.5 244.3 L296.4 245.0 L296.8 245.6 L297.7 246.1 L298.5 246.1 L299.4 245.7 L299.9 245.2 L300.0 244.7ZM316.9 241.9 L317.1 242.5 L318.0 243.7 L318.9 244.1 L319.8 243.9 L320.3 243.6 L320.5 243.1 L320.6 241.4 L320.4 240.7 L319.8 240.4 L318.5 240.4 L317.8 240.6 L317.1 241.3ZM273.8 246.6 L273.3 246.3 L272.7 246.4 L270.7 247.3 L270.3 247.8 L270.3 248.4 L270.9 250.4 L271.2 250.9 L271.7 251.1 L273.2 251.0 L273.9 250.7 L274.1 250.1 L274.0 247.2ZM295.0 252.2 L295.0 252.4 L295.2 253.0 L295.9 253.3 L298.5 253.3 L299.0 253.2 L299.4 252.7 L299.4 252.6 L299.4 252.1 L299.0 251.6 L297.7 250.7 L296.8 250.7 L295.4 251.5ZM304.5 250.9 L303.8 250.8 L300.8 251.9 L300.2 252.5 L299.9 253.5 L299.9 254.0 L300.4 255.3 L300.9 255.8 L301.6 255.8 L304.8 254.1 L305.2 253.7 L305.3 253.2 L304.9 251.5ZM306.4 253.5 L306.9 253.7 L308.9 254.0 L309.6 253.8 L310.0 253.2 L310.0 251.6 L309.8 251.1 L309.4 250.7 L307.4 250.0 L306.4 250.2 L306.1 250.5 L305.8 251.3 L306.1 253.0ZM323.2 250.6 L322.9 251.3 L323.0 254.1 L323.3 254.7 L323.8 255.0 L324.4 254.8 L326.2 253.6 L326.5 253.1 L326.5 252.5 L326.1 251.6 L325.8 251.2 L324.8 250.6 L324.4 250.4 L323.9 250.3ZM327.8 253.3 L328.6 254.0 L329.4 254.2 L330.1 253.7 L331.1 251.1 L331.2 250.4 L330.7 249.9 L330.0 249.9 L327.6 250.8 L327.1 251.3 L327.2 252.0 L327.6 253.0ZM278.9 259.3 L279.4 259.2 L281.1 258.0 L281.5 257.4 L281.3 256.7 L280.8 256.4 L279.4 256.1 L278.9 256.2 L278.5 256.6 L277.9 257.9 L277.8 258.5 L278.1 259.0 L278.4 259.1ZM295.7 254.5 L295.5 255.2 L295.8 255.8 L298.4 257.6 L299.1 257.8 L299.7 257.3 L299.9 257.0 L299.9 256.3 L299.4 254.8 L299.0 254.4 L298.5 254.2 L296.4 254.2ZM323.2 257.2 L323.3 257.8 L323.8 258.2 L325.4 258.9 L326.2 258.8 L326.5 258.6 L326.9 258.2 L328.0 255.6 L328.0 254.9 L327.4 254.4 L326.7 254.5 L323.6 256.7ZM327.0 262.3 L327.8 263.0 L328.7 263.2 L330.4 262.6 L330.9 262.2 L331.0 261.6 L330.9 261.0 L330.3 260.3 L327.6 259.4 L326.9 259.5 L326.9 259.5 L326.5 259.9 L326.4 260.4 L326.7 261.8ZM256.8 262.6 L257.0 263.2 L258.6 265.4 L259.2 265.7 L259.8 265.6 L260.2 265.1 L260.5 264.3 L260.4 263.6 L259.2 261.7 L258.6 261.2 L257.9 261.4 L257.2 262.0ZM277.8 265.2 L278.2 265.7 L278.8 266.1 L279.3 266.2 L279.8 266.0 L282.0 264.4 L282.3 263.7 L282.0 263.0 L280.0 261.5 L279.2 261.3 L278.6 261.9 L277.8 264.6ZM265.1 268.8 L265.2 269.4 L265.9 270.5 L266.4 270.9 L268.2 271.5 L268.8 271.5 L269.3 271.2 L271.1 268.5 L271.2 267.9 L270.9 267.3 L270.4 266.8 L269.6 266.6 L266.4 267.2 L265.9 267.6 L265.3 268.3ZM296.4 270.1 L296.6 270.9 L297.2 271.2 L298.4 271.3 L299.0 271.2 L299.4 270.6 L299.3 270.0 L299.0 269.5 L298.5 269.0 L297.8 269.1 L296.9 269.5ZM317.4 269.0 L316.8 268.7 L316.2 268.8 L314.2 270.0 L313.8 270.6 L313.9 271.3 L314.5 272.1 L315.1 272.5 L315.8 272.3 L317.3 271.1 L317.6 270.4 L317.6 269.5ZM280.1 277.5 L280.9 277.5 L282.5 276.7 L282.9 276.2 L282.9 275.6 L281.4 272.0 L280.9 271.5 L280.1 271.6 L279.7 271.9 L279.2 272.6 L279.0 274.6 L279.0 275.0 L279.6 277.0ZM290.8 277.4 L290.2 277.7 L290.0 278.3 L290.1 279.4 L290.5 280.2 L291.3 280.2 L292.4 279.8 L292.9 279.3 L292.8 278.5 L292.8 278.4 L292.5 278.2 L291.4 277.5ZM302.2 278.9 L302.0 278.2 L300.7 276.8 L300.2 276.5 L299.6 276.6 L299.1 276.8 L298.6 277.4 L298.6 277.5 L298.6 278.0 L299.0 278.5 L300.8 279.6 L301.8 279.6 L301.8 279.6ZM321.4 276.5 L321.1 277.0 L321.1 277.6 L321.2 277.9 L321.5 278.3 L324.4 280.5 L325.2 280.7 L326.9 280.2 L327.4 279.8 L327.5 279.2 L327.4 277.6 L327.1 277.0 L326.5 276.7 L322.0 276.4ZM267.3 280.7 L266.6 279.9 L266.0 279.7 L265.5 279.8 L262.7 281.4 L262.3 281.9 L262.4 282.6 L262.9 283.5 L263.4 284.0 L265.3 284.6 L266.1 284.5 L266.6 284.1 L266.9 283.6 L267.5 281.5ZM299.9 283.5 L300.3 283.0 L300.7 281.4 L300.7 280.8 L300.3 280.4 L298.6 279.2 L297.9 279.1 L297.4 279.4 L296.5 280.4 L296.3 281.1 L296.4 282.5 L296.7 283.1 L297.2 283.3 L299.3 283.6ZM257.5 288.4 L257.7 287.8 L257.4 287.2 L257.0 286.8 L256.7 286.7 L256.7 289.4ZM288.8 295.0 L289.4 295.3 L290.0 295.1 L291.6 293.9 L291.9 293.4 L291.9 292.8 L291.8 292.7 L291.4 292.3 L290.0 291.7 L289.1 291.7 L288.7 292.4 L288.6 294.3ZM329.4 290.9 L329.8 290.2 L330.0 289.7 L329.8 289.2 L328.7 287.7 L328.2 287.4 L327.6 287.4 L326.4 287.9 L325.9 288.7 L325.7 290.7 L326.1 291.5 L326.1 291.6 L326.9 291.8 L328.9 291.3ZM256.8 294.2 L256.7 294.4 L256.7 296.5 L256.8 297.5 L257.3 298.2 L257.7 298.4 L258.6 298.4 L258.8 298.2 L259.9 297.1 L260.1 296.6 L260.1 296.1 L259.3 294.5 L258.5 294.0 L257.5 293.9ZM284.9 298.3 L284.8 298.4 L288.2 298.4 L288.0 298.0 L287.4 297.8 L285.5 298.0ZM308.0 298.1 L308.4 297.7 L309.1 296.5 L309.1 295.7 L308.8 294.9 L308.2 294.4 L306.8 294.0 L306.2 294.0 L305.8 294.4 L304.7 296.2 L304.7 297.0 L305.3 297.6 L307.4 298.1ZM318.9 297.8 L319.6 297.6 L321.3 296.1 L321.6 295.3 L321.3 294.0 L320.9 293.4 L320.2 293.3 L317.7 294.0 L317.1 294.6 L317.1 295.3 L318.2 297.4ZM261.2 297.5 L260.5 297.8 L259.9 298.4 L262.1 298.4 L261.9 298.0ZM270.0 297.8 L269.1 297.9 L269.1 297.9 L268.8 298.3 L268.8 298.4 L271.6 298.4Z" fill="#803a96"/>
<path d="M321.5 232.6 L322.2 232.5 L322.6 231.9 L322.8 231.2 L322.8 230.5 L322.2 230.0 L321.3 229.8 L320.6 230.0 L320.2 230.5 L320.4 231.2 L321.0 232.2ZM307.3 263.5 L308.0 263.7 L309.5 263.4 L310.1 263.0 L310.1 262.2 L309.7 261.0 L308.9 260.5 L307.8 260.4 L307.2 260.6 L306.9 261.1 L306.8 261.5 L306.8 261.8 L306.9 262.9ZM323.0 259.5 L322.5 260.0 L322.4 260.2 L322.4 261.0 L323.0 262.6 L323.6 263.2 L324.4 263.0 L325.1 262.4 L325.5 261.6 L325.3 260.6 L324.7 259.9 L323.7 259.5ZM329.1 267.7 L329.9 267.9 L331.4 267.5 L331.4 263.5 L331.0 263.5 L329.3 264.1 L328.9 264.4 L328.7 265.0 L328.7 267.0ZM312.5 280.3 L312.1 280.8 L312.1 281.5 L313.6 284.6 L314.1 285.0 L314.7 285.0 L315.1 284.9 L315.6 284.5 L316.7 282.6 L316.7 281.7 L316.4 281.2 L315.8 280.8 L313.1 280.2ZM330.5 282.0 L330.5 282.7 L330.9 283.2 L331.4 283.5 L331.4 281.5 L331.1 281.6Z" fill="#d49ad0"/>
<path d="M279.9 227.1 L280.5 227.7 L282.0 228.3 L282.6 228.3 L283.1 228.0 L283.2 227.4 L282.9 225.4 L282.6 224.8 L282.0 224.6 L281.4 224.9 L280.1 226.3ZM298.5 226.8 L297.9 225.3 L297.3 224.8 L296.6 224.9 L295.5 225.6 L295.1 226.2 L294.8 227.6 L294.8 228.2 L295.2 228.6 L296.3 229.3 L297.0 229.4 L297.5 229.0 L298.4 227.6ZM263.3 227.7 L263.4 228.2 L264.3 229.9 L264.8 230.4 L265.5 230.3 L267.0 229.5 L267.4 229.0 L267.3 228.3 L266.6 226.9 L265.7 226.5 L264.5 226.5 L263.9 226.8 L263.5 227.2ZM265.1 231.8 L265.1 232.4 L265.5 233.3 L266.2 233.8 L268.4 234.1 L268.9 233.9 L269.3 233.5 L270.1 231.4 L270.1 230.7 L269.7 230.2 L268.9 229.9 L268.1 229.9 L265.5 231.3ZM304.9 232.7 L305.5 232.0 L306.0 229.8 L305.9 229.1 L305.4 228.7 L304.7 228.5 L304.1 228.6 L303.7 228.9 L302.7 230.6 L302.5 231.2 L302.9 231.8 L304.1 232.6ZM264.2 237.1 L264.4 237.7 L265.0 238.0 L267.3 238.3 L267.9 238.1 L268.3 237.6 L268.7 236.0 L268.5 235.3 L267.9 234.9 L266.3 234.7 L265.5 235.1 L264.4 236.6ZM270.3 234.3 L270.8 234.8 L272.4 235.3 L272.9 235.3 L274.0 234.9 L274.5 234.5 L275.2 233.2 L275.3 232.5 L275.0 231.9 L272.9 230.6 L272.0 230.6 L271.6 230.7 L271.2 231.2 L270.3 233.6ZM278.7 238.1 L279.4 238.5 L279.9 238.5 L280.5 238.3 L282.8 236.2 L283.0 235.3 L283.0 235.2 L282.2 234.5 L280.4 234.3 L279.8 234.4 L279.4 234.9 L278.6 237.3ZM289.7 232.7 L289.7 233.4 L290.8 235.8 L291.2 236.3 L291.9 236.3 L292.4 235.9 L292.4 235.8 L292.5 235.2 L292.0 232.7 L291.5 232.2 L290.9 232.0 L290.3 232.2ZM308.2 235.4 L308.3 236.1 L309.7 238.1 L310.2 238.5 L310.8 238.5 L311.9 238.1 L312.4 237.5 L313.6 234.7 L313.5 234.0 L313.0 233.5 L312.2 233.2 L311.5 233.3 L308.6 234.8ZM276.4 238.5 L275.0 236.3 L274.5 236.0 L273.9 236.0 L273.7 236.1 L273.3 236.4 L273.1 237.0 L273.3 238.9 L273.5 239.5 L274.0 239.8 L275.5 240.0 L276.4 239.5 L276.5 239.5ZM328.2 239.4 L328.7 240.1 L329.3 240.4 L329.9 240.2 L331.4 239.2 L331.4 237.2 L328.9 236.6 L328.3 236.7 L327.8 237.2 L327.8 237.5 L327.7 238.0 L328.0 239.0ZM276.5 244.1 L276.5 243.6 L276.0 241.6 L275.8 241.1 L275.3 240.9 L273.4 240.7 L272.8 240.8 L271.9 241.4 L271.5 242.0 L271.6 242.7 L273.4 245.1 L273.8 245.4 L273.9 245.5 L274.7 245.4 L276.1 244.6ZM324.8 243.5 L325.4 243.7 L328.1 243.6 L328.7 243.3 L328.9 242.7 L328.9 241.8 L328.7 241.3 L327.8 240.3 L327.4 240.0 L326.9 240.1 L324.8 240.8 L324.3 241.2 L324.2 241.9 L324.5 243.0ZM262.8 248.3 L263.5 248.9 L265.8 249.3 L266.4 249.2 L266.8 248.7 L267.2 247.6 L267.1 246.8 L266.3 245.6 L265.9 245.3 L265.4 245.2 L264.4 245.4 L263.8 245.8 L262.9 247.5ZM280.4 248.9 L281.0 249.0 L281.5 248.7 L282.8 247.3 L283.0 246.8 L282.8 246.2 L282.6 245.8 L281.8 245.5 L280.3 245.5 L279.6 245.9 L279.5 246.7 L280.0 248.4ZM286.4 246.9 L286.7 247.5 L287.2 247.8 L289.0 248.0 L289.6 247.8 L290.0 247.2 L289.8 246.6 L288.9 245.3 L288.2 244.9 L287.5 245.3 L286.6 246.3ZM301.7 243.7 L301.2 244.3 L300.9 245.5 L301.0 246.3 L304.1 249.8 L304.5 250.1 L304.5 250.1 L305.4 249.9 L306.3 249.1 L306.5 248.8 L307.4 246.3 L307.5 245.8 L307.2 245.3 L307.1 245.2 L306.8 245.0 L302.4 243.7ZM322.3 249.5 L322.5 248.8 L322.1 246.0 L321.8 245.4 L321.2 245.0 L320.5 244.9 L318.9 245.1 L318.2 245.8 L318.2 246.0 L318.2 246.7 L319.5 249.4 L319.8 249.8 L320.3 249.9 L321.7 249.8ZM316.3 253.7 L316.4 254.3 L316.9 254.7 L320.9 256.3 L321.5 256.3 L321.9 255.9 L322.1 255.4 L321.9 251.7 L321.6 251.0 L321.0 250.8 L319.9 250.9 L319.4 251.1 L316.7 253.2ZM294.3 256.5 L293.7 256.8 L293.5 257.4 L293.8 258.0 L295.6 259.8 L296.3 260.1 L297.0 259.7 L297.2 259.4 L297.4 258.7 L297.0 258.1 L294.9 256.6ZM316.9 258.8 L317.5 259.0 L320.8 259.0 L321.4 258.8 L321.7 258.2 L321.6 257.6 L321.2 257.2 L317.7 255.9 L317.1 255.9 L316.6 256.2 L316.5 256.8 L316.6 258.2ZM328.3 258.3 L328.9 258.8 L330.4 259.3 L331.1 259.3 L331.4 258.9 L331.4 257.8 L330.5 256.2 L330.0 255.8 L329.3 255.8 L328.9 256.3 L328.3 257.6ZM259.8 260.0 L259.8 260.7 L260.8 262.3 L261.3 262.7 L262.0 262.6 L263.2 262.0 L263.6 261.5 L263.6 260.9 L263.1 259.2 L262.6 258.6 L261.9 258.7 L260.2 259.5ZM268.8 258.7 L268.5 259.4 L268.5 260.7 L268.7 261.2 L269.1 261.6 L269.6 261.7 L270.5 261.5 L271.7 260.3 L272.0 259.9 L272.0 259.7 L271.9 258.9 L271.2 258.6 L269.4 258.5ZM290.2 262.7 L290.5 263.3 L290.9 263.6 L291.7 263.8 L295.0 263.1 L295.2 263.0 L295.3 263.0 L295.8 262.4 L295.8 262.3 L295.6 261.4 L293.5 259.3 L292.8 259.0 L292.1 259.4 L290.4 262.1ZM311.1 259.9 L310.6 260.4 L310.6 261.1 L311.2 262.7 L311.7 263.2 L312.4 263.2 L313.8 262.6 L314.2 262.1 L314.3 261.5 L313.8 261.0 L311.8 260.0ZM280.7 269.3 L281.3 269.4 L281.8 269.1 L284.2 266.2 L284.3 265.8 L284.4 265.4 L284.3 264.7 L283.7 264.3 L283.0 264.5 L280.2 266.6 L279.9 267.0 L279.9 267.6 L280.3 268.8ZM302.2 266.2 L301.6 265.8 L300.9 265.7 L300.6 265.7 L300.0 266.2 L299.4 267.4 L299.5 268.2 L300.7 270.5 L301.2 270.9 L301.8 270.9 L302.9 270.5 L303.4 270.0 L303.5 269.4 L302.6 266.7ZM320.9 273.1 L321.5 272.9 L321.9 272.4 L322.7 268.6 L322.5 267.7 L322.4 267.6 L321.6 267.4 L319.2 267.8 L318.6 268.1 L318.4 268.7 L318.5 270.6 L318.7 271.2 L320.4 272.8ZM289.2 274.9 L289.5 274.1 L289.3 273.3 L287.3 271.2 L286.7 270.9 L285.6 270.8 L285.3 270.8 L283.0 271.3 L282.4 271.8 L282.4 272.6 L283.9 276.0 L284.4 276.4 L284.5 276.5 L285.1 276.5 L288.6 275.5ZM301.4 272.3 L301.3 272.9 L301.3 273.4 L301.6 274.0 L302.2 274.2 L304.4 274.1 L305.1 273.7 L305.2 273.0 L304.9 271.8 L304.5 271.3 L303.7 271.2 L301.8 272.0ZM306.8 274.6 L306.9 274.7 L307.5 275.0 L308.5 275.1 L309.1 274.9 L309.5 274.4 L310.6 270.6 L310.4 269.7 L310.0 269.3 L309.5 269.0 L308.8 269.1 L306.4 270.8 L306.1 271.2 L306.0 271.7 L306.7 274.2ZM301.8 275.5 L301.6 276.1 L301.8 276.7 L303.3 278.5 L303.9 278.8 L304.1 278.8 L304.9 278.3 L306.0 276.4 L306.1 275.7 L305.8 275.2 L305.2 275.0 L302.4 275.2ZM271.0 280.8 L270.8 281.3 L271.1 281.9 L273.0 284.1 L273.8 284.4 L274.5 284.0 L275.1 282.8 L275.2 282.3 L274.9 280.5 L274.5 279.9 L273.8 279.8 L271.5 280.4ZM318.2 282.4 L318.1 282.5 L317.6 282.9 L316.9 284.1 L316.8 284.8 L317.3 285.3 L318.3 285.8 L318.8 285.8 L320.7 285.3 L321.3 284.9 L321.4 284.2 L321.0 283.7 L318.9 282.5ZM263.5 296.6 L263.3 296.7 L262.8 297.2 L262.8 297.9 L263.0 298.4 L267.5 298.4 L267.4 298.1 L267.0 297.7 L264.1 296.6ZM281.3 297.8 L280.5 297.9 L279.8 298.4 L281.8 298.4Z" fill="#602282"/>
<path d="M259.7 233.4 L259.1 233.3 L258.5 233.6 L257.4 234.7 L257.2 235.2 L257.3 235.8 L257.8 236.2 L259.4 236.8 L260.1 236.7 L260.5 236.3 L260.6 235.6 L260.0 233.9ZM275.2 250.8 L275.7 251.1 L277.4 251.4 L278.0 251.4 L278.7 251.0 L279.2 250.5 L279.2 249.9 L278.0 246.0 L277.5 245.4 L276.7 245.5 L275.3 246.3 L274.9 247.1 L275.0 250.3ZM311.7 269.8 L312.2 269.9 L312.9 269.8 L314.9 268.6 L315.3 268.1 L315.2 267.4 L314.6 267.0 L312.3 266.4 L311.7 266.5 L311.3 266.8 L310.6 267.9 L310.5 268.5 L310.7 269.0 L311.2 269.5ZM286.0 281.9 L285.8 282.5 L286.0 283.0 L287.3 284.8 L287.8 285.1 L288.4 285.1 L289.1 284.8 L289.5 284.4 L289.6 283.9 L289.5 282.1 L289.1 281.5 L288.4 281.3 L286.6 281.6ZM324.8 298.2 L324.4 297.7 L322.6 296.7 L322.1 296.6 L321.6 296.9 L319.9 298.4 L324.8 298.4Z" fill="#e6bce2"/>
</g></g>
<g clip-path="url(#cfw)">
<rect x="351.9" y="223.9" width="72.6" height="73.6" fill="#c684bc"/>
<g filter="url(#soft2)">
<path d="M359 236 C 361 229, 372 227, 381 230 C 389 233, 390 243, 387 250 C 383 256, 372 258, 364 256 C 358 252, 357 243, 359 236 Z" fill="#966cb0" opacity="0.7"/>
<path d="M361 274 C 362 264, 375 257, 392 254 C 405 252, 415 255, 416 266 C 417 281, 410 290, 392 290 C 375 290, 360 286, 361 274 Z" fill="#9068ae"/>
<path d="M361 274 C 362 264, 375 257, 392 254 C 405 252, 415 255, 416 266" fill="none" stroke="#dca8d4" stroke-width="2"/>
<path d="M393 223 L 400 223 L 426 250 L 426 257 Z" fill="#ecc4e2"/>
<path d="M351 290 L 390 297 L 351 299 Z" fill="#d88cbc"/>
</g>
<path d="M396.6 278.5a0.5 0.5 0 1 0 1.1 0a0.5 0.5 0 1 0 -1.1 0M372.4 294.7a0.5 0.5 0 1 0 0.9 0a0.5 0.5 0 1 0 -0.9 0M373.5 268.3a0.3 0.3 0 1 0 0.6 0a0.3 0.3 0 1 0 -0.6 0M386.4 247.1a0.4 0.4 0 1 0 0.9 0a0.4 0.4 0 1 0 -0.9 0M364.1 242.8a0.6 0.6 0 1 0 1.2 0a0.6 0.6 0 1 0 -1.2 0M373.6 282.7a0.5 0.5 0 1 0 1.0 0a0.5 0.5 0 1 0 -1.0 0M398.6 234.6a0.6 0.6 0 1 0 1.2 0a0.6 0.6 0 1 0 -1.2 0M422.3 257.3a0.4 0.4 0 1 0 0.9 0a0.4 0.4 0 1 0 -0.9 0M377.6 281.8a0.5 0.5 0 1 0 1.1 0a0.5 0.5 0 1 0 -1.1 0M402.6 244.6a0.4 0.4 0 1 0 0.9 0a0.4 0.4 0 1 0 -0.9 0M398.5 282.6a0.4 0.4 0 1 0 0.8 0a0.4 0.4 0 1 0 -0.8 0M419.4 259.0a0.5 0.5 0 1 0 1.0 0a0.5 0.5 0 1 0 -1.0 0M392.6 269.2a0.3 0.3 0 1 0 0.7 0a0.3 0.3 0 1 0 -0.7 0M352.7 233.2a0.4 0.4 0 1 0 0.8 0a0.4 0.4 0 1 0 -0.8 0M394.5 274.6a0.6 0.6 0 1 0 1.2 0a0.6 0.6 0 1 0 -1.2 0M411.6 228.8a0.6 0.6 0 1 0 1.1 0a0.6 0.6 0 1 0 -1.1 0M366.9 264.8a0.5 0.5 0 1 0 1.0 0a0.5 0.5 0 1 0 -1.0 0M356.7 228.1a0.5 0.5 0 1 0 0.9 0a0.5 0.5 0 1 0 -0.9 0M374.3 268.1a0.4 0.4 0 1 0 0.9 0a0.4 0.4 0 1 0 -0.9 0M401.0 240.3a0.3 0.3 0 1 0 0.7 0a0.3 0.3 0 1 0 -0.7 0M402.7 282.5a0.4 0.4 0 1 0 0.8 0a0.4 0.4 0 1 0 -0.8 0M418.4 251.1a0.6 0.6 0 1 0 1.2 0a0.6 0.6 0 1 0 -1.2 0M360.1 273.1a0.4 0.4 0 1 0 0.8 0a0.4 0.4 0 1 0 -0.8 0M369.0 297.0a0.3 0.3 0 1 0 0.6 0a0.3 0.3 0 1 0 -0.6 0M385.4 244.7a0.5 0.5 0 1 0 1.0 0a0.5 0.5 0 1 0 -1.0 0M354.9 285.2a0.4 0.4 0 1 0 0.9 0a0.4 0.4 0 1 0 -0.9 0M423.1 235.8a0.3 0.3 0 1 0 0.6 0a0.3 0.3 0 1 0 -0.6 0M401.9 282.7a0.6 0.6 0 1 0 1.2 0a0.6 0.6 0 1 0 -1.2 0M393.1 256.4a0.5 0.5 0 1 0 1.1 0a0.5 0.5 0 1 0 -1.1 0M400.7 244.9a0.3 0.3 0 1 0 0.6 0a0.3 0.3 0 1 0 -0.6 0M384.9 255.9a0.4 0.4 0 1 0 0.9 0a0.4 0.4 0 1 0 -0.9 0M351.5 233.2a0.6 0.6 0 1 0 1.1 0a0.6 0.6 0 1 0 -1.1 0M422.6 283.9a0.6 0.6 0 1 0 1.2 0a0.6 0.6 0 1 0 -1.2 0M373.8 292.3a0.4 0.4 0 1 0 0.8 0a0.4 0.4 0 1 0 -0.8 0M416.5 274.5a0.6 0.6 0 1 0 1.1 0a0.6 0.6 0 1 0 -1.1 0M364.3 272.0a0.6 0.6 0 1 0 1.1 0a0.6 0.6 0 1 0 -1.1 0M396.1 252.4a0.3 0.3 0 1 0 0.7 0a0.3 0.3 0 1 0 -0.7 0M364.8 237.9a0.5 0.5 0 1 0 1.0 0a0.5 0.5 0 1 0 -1.0 0M404.8 284.0a0.5 0.5 0 1 0 1.1 0a0.5 0.5 0 1 0 -1.1 0M378.6 257.7a0.5 0.5 0 1 0 1.0 0a0.5 0.5 0 1 0 -1.0 0M420.0 229.2a0.5 0.5 0 1 0 1.1 0a0.5 0.5 0 1 0 -1.1 0M382.9 267.6a0.6 0.6 0 1 0 1.1 0a0.6 0.6 0 1 0 -1.1 0M364.9 255.5a0.4 0.4 0 1 0 0.8 0a0.4 0.4 0 1 0 -0.8 0M404.6 233.7a0.4 0.4 0 1 0 0.9 0a0.4 0.4 0 1 0 -0.9 0M423.3 246.1a0.3 0.3 0 1 0 0.7 0a0.3 0.3 0 1 0 -0.7 0M373.2 288.6a0.4 0.4 0 1 0 0.8 0a0.4 0.4 0 1 0 -0.8 0M401.6 232.0a0.3 0.3 0 1 0 0.7 0a0.3 0.3 0 1 0 -0.7 0M383.8 241.1a0.4 0.4 0 1 0 0.7 0a0.4 0.4 0 1 0 -0.7 0M357.9 256.8a0.5 0.5 0 1 0 1.0 0a0.5 0.5 0 1 0 -1.0 0M399.4 254.9a0.6 0.6 0 1 0 1.1 0a0.6 0.6 0 1 0 -1.1 0M394.8 279.7a0.4 0.4 0 1 0 0.9 0a0.4 0.4 0 1 0 -0.9 0M386.2 262.3a0.3 0.3 0 1 0 0.6 0a0.3 0.3 0 1 0 -0.6 0M407.1 274.9a0.6 0.6 0 1 0 1.1 0a0.6 0.6 0 1 0 -1.1 0M409.0 254.5a0.5 0.5 0 1 0 1.0 0a0.5 0.5 0 1 0 -1.0 0M392.1 284.7a0.5 0.5 0 1 0 1.0 0a0.5 0.5 0 1 0 -1.0 0M365.4 248.0a0.4 0.4 0 1 0 0.8 0a0.4 0.4 0 1 0 -0.8 0M377.0 280.5a0.3 0.3 0 1 0 0.6 0a0.3 0.3 0 1 0 -0.6 0M357.9 249.1a0.4 0.4 0 1 0 0.7 0a0.4 0.4 0 1 0 -0.7 0M371.7 236.7a0.4 0.4 0 1 0 0.8 0a0.4 0.4 0 1 0 -0.8 0M402.3 279.8a0.3 0.3 0 1 0 0.7 0a0.3 0.3 0 1 0 -0.7 0M420.8 259.7a0.6 0.6 0 1 0 1.1 0a0.6 0.6 0 1 0 -1.1 0M360.0 267.5a0.5 0.5 0 1 0 1.0 0a0.5 0.5 0 1 0 -1.0 0M409.5 271.7a0.5 0.5 0 1 0 1.0 0a0.5 0.5 0 1 0 -1.0 0M373.4 265.1a0.5 0.5 0 1 0 1.0 0a0.5 0.5 0 1 0 -1.0 0M395.9 227.2a0.5 0.5 0 1 0 0.9 0a0.5 0.5 0 1 0 -0.9 0M360.4 256.7a0.4 0.4 0 1 0 0.9 0a0.4 0.4 0 1 0 -0.9 0M375.7 280.6a0.5 0.5 0 1 0 0.9 0a0.5 0.5 0 1 0 -0.9 0M421.9 260.2a0.4 0.4 0 1 0 0.9 0a0.4 0.4 0 1 0 -0.9 0M374.6 293.5a0.3 0.3 0 1 0 0.6 0a0.3 0.3 0 1 0 -0.6 0M374.4 265.1a0.3 0.3 0 1 0 0.7 0a0.3 0.3 0 1 0 -0.7 0M396.5 262.4a0.5 0.5 0 1 0 1.0 0a0.5 0.5 0 1 0 -1.0 0M385.9 262.2a0.4 0.4 0 1 0 0.7 0a0.4 0.4 0 1 0 -0.7 0M391.3 296.6a0.4 0.4 0 1 0 0.9 0a0.4 0.4 0 1 0 -0.9 0M382.5 240.3a0.6 0.6 0 1 0 1.2 0a0.6 0.6 0 1 0 -1.2 0M376.2 227.2a0.5 0.5 0 1 0 1.1 0a0.5 0.5 0 1 0 -1.1 0M382.4 262.6a0.6 0.6 0 1 0 1.1 0a0.6 0.6 0 1 0 -1.1 0M358.0 234.8a0.4 0.4 0 1 0 0.8 0a0.4 0.4 0 1 0 -0.8 0M399.2 258.6a0.5 0.5 0 1 0 0.9 0a0.5 0.5 0 1 0 -0.9 0M354.2 268.2a0.4 0.4 0 1 0 0.8 0a0.4 0.4 0 1 0 -0.8 0M376.7 233.4a0.5 0.5 0 1 0 1.1 0a0.5 0.5 0 1 0 -1.1 0M406.5 239.8a0.5 0.5 0 1 0 1.0 0a0.5 0.5 0 1 0 -1.0 0M363.7 250.3a0.5 0.5 0 1 0 1.0 0a0.5 0.5 0 1 0 -1.0 0M416.0 225.8a0.5 0.5 0 1 0 0.9 0a0.5 0.5 0 1 0 -0.9 0M383.9 234.1a0.4 0.4 0 1 0 0.8 0a0.4 0.4 0 1 0 -0.8 0M378.3 296.2a0.4 0.4 0 1 0 0.7 0a0.4 0.4 0 1 0 -0.7 0M415.6 274.0a0.4 0.4 0 1 0 0.8 0a0.4 0.4 0 1 0 -0.8 0M377.6 285.4a0.6 0.6 0 1 0 1.2 0a0.6 0.6 0 1 0 -1.2 0M369.7 248.6a0.3 0.3 0 1 0 0.7 0a0.3 0.3 0 1 0 -0.7 0M385.2 263.7a0.4 0.4 0 1 0 0.8 0a0.4 0.4 0 1 0 -0.8 0M396.4 233.5a0.6 0.6 0 1 0 1.1 0a0.6 0.6 0 1 0 -1.1 0M401.9 229.7a0.4 0.4 0 1 0 0.8 0a0.4 0.4 0 1 0 -0.8 0M415.6 245.6a0.3 0.3 0 1 0 0.6 0a0.3 0.3 0 1 0 -0.6 0M398.1 248.1a0.4 0.4 0 1 0 0.7 0a0.4 0.4 0 1 0 -0.7 0M402.5 237.0a0.4 0.4 0 1 0 0.9 0a0.4 0.4 0 1 0 -0.9 0M396.3 280.9a0.3 0.3 0 1 0 0.6 0a0.3 0.3 0 1 0 -0.6 0M355.9 275.5a0.6 0.6 0 1 0 1.2 0a0.6 0.6 0 1 0 -1.2 0M368.3 280.1a0.5 0.5 0 1 0 1.1 0a0.5 0.5 0 1 0 -1.1 0M421.7 275.2a0.4 0.4 0 1 0 0.8 0a0.4 0.4 0 1 0 -0.8 0M399.0 273.6a0.5 0.5 0 1 0 1.1 0a0.5 0.5 0 1 0 -1.1 0M366.2 281.5a0.5 0.5 0 1 0 0.9 0a0.5 0.5 0 1 0 -0.9 0M396.9 260.1a0.4 0.4 0 1 0 0.9 0a0.4 0.4 0 1 0 -0.9 0M371.0 243.7a0.4 0.4 0 1 0 0.8 0a0.4 0.4 0 1 0 -0.8 0M415.8 281.5a0.5 0.5 0 1 0 1.0 0a0.5 0.5 0 1 0 -1.0 0M360.3 235.9a0.5 0.5 0 1 0 1.0 0a0.5 0.5 0 1 0 -1.0 0M394.9 235.9a0.5 0.5 0 1 0 1.0 0a0.5 0.5 0 1 0 -1.0 0M371.9 246.3a0.5 0.5 0 1 0 1.0 0a0.5 0.5 0 1 0 -1.0 0M388.5 251.0a0.4 0.4 0 1 0 0.9 0a0.4 0.4 0 1 0 -0.9 0M418.2 295.9a0.5 0.5 0 1 0 1.1 0a0.5 0.5 0 1 0 -1.1 0M371.5 274.1a0.4 0.4 0 1 0 0.9 0a0.4 0.4 0 1 0 -0.9 0M372.8 289.3a0.6 0.6 0 1 0 1.1 0a0.6 0.6 0 1 0 -1.1 0M359.6 281.5a0.4 0.4 0 1 0 0.9 0a0.4 0.4 0 1 0 -0.9 0M366.6 241.2a0.5 0.5 0 1 0 1.0 0a0.5 0.5 0 1 0 -1.0 0M410.6 264.6a0.3 0.3 0 1 0 0.6 0a0.3 0.3 0 1 0 -0.6 0M405.6 285.2a0.5 0.5 0 1 0 1.0 0a0.5 0.5 0 1 0 -1.0 0M380.8 233.1a0.5 0.5 0 1 0 0.9 0a0.5 0.5 0 1 0 -0.9 0M421.6 271.8a0.6 0.6 0 1 0 1.1 0a0.6 0.6 0 1 0 -1.1 0M382.5 261.1a0.6 0.6 0 1 0 1.1 0a0.6 0.6 0 1 0 -1.1 0M372.8 243.4a0.4 0.4 0 1 0 0.8 0a0.4 0.4 0 1 0 -0.8 0M405.4 273.7a0.5 0.5 0 1 0 0.9 0a0.5 0.5 0 1 0 -0.9 0M407.4 289.3a0.6 0.6 0 1 0 1.2 0a0.6 0.6 0 1 0 -1.2 0M373.3 289.6a0.4 0.4 0 1 0 0.8 0a0.4 0.4 0 1 0 -0.8 0M363.5 226.8a0.6 0.6 0 1 0 1.1 0a0.6 0.6 0 1 0 -1.1 0M420.3 254.0a0.6 0.6 0 1 0 1.1 0a0.6 0.6 0 1 0 -1.1 0M387.9 275.5a0.5 0.5 0 1 0 1.0 0a0.5 0.5 0 1 0 -1.0 0M370.7 227.6a0.3 0.3 0 1 0 0.6 0a0.3 0.3 0 1 0 -0.6 0M408.1 254.2a0.3 0.3 0 1 0 0.7 0a0.3 0.3 0 1 0 -0.7 0M384.7 242.3a0.3 0.3 0 1 0 0.6 0a0.3 0.3 0 1 0 -0.6 0M375.8 269.5a0.6 0.6 0 1 0 1.1 0a0.6 0.6 0 1 0 -1.1 0M391.9 227.0a0.6 0.6 0 1 0 1.2 0a0.6 0.6 0 1 0 -1.2 0M393.3 258.8a0.4 0.4 0 1 0 0.8 0a0.4 0.4 0 1 0 -0.8 0M398.5 224.7a0.5 0.5 0 1 0 1.1 0a0.5 0.5 0 1 0 -1.1 0M371.5 282.0a0.6 0.6 0 1 0 1.2 0a0.6 0.6 0 1 0 -1.2 0M403.7 263.2a0.5 0.5 0 1 0 1.1 0a0.5 0.5 0 1 0 -1.1 0M359.2 291.4a0.4 0.4 0 1 0 0.9 0a0.4 0.4 0 1 0 -0.9 0M383.3 274.6a0.4 0.4 0 1 0 0.7 0a0.4 0.4 0 1 0 -0.7 0M358.5 228.5a0.6 0.6 0 1 0 1.1 0a0.6 0.6 0 1 0 -1.1 0M404.4 290.3a0.5 0.5 0 1 0 0.9 0a0.5 0.5 0 1 0 -0.9 0M412.8 247.1a0.3 0.3 0 1 0 0.7 0a0.3 0.3 0 1 0 -0.7 0M352.6 283.1a0.5 0.5 0 1 0 1.0 0a0.5 0.5 0 1 0 -1.0 0M360.1 287.6a0.4 0.4 0 1 0 0.9 0a0.4 0.4 0 1 0 -0.9 0M368.4 296.4a0.4 0.4 0 1 0 0.8 0a0.4 0.4 0 1 0 -0.8 0M398.7 295.7a0.4 0.4 0 1 0 0.8 0a0.4 0.4 0 1 0 -0.8 0M370.6 253.3a0.3 0.3 0 1 0 0.6 0a0.3 0.3 0 1 0 -0.6 0M381.6 252.1a0.3 0.3 0 1 0 0.6 0a0.3 0.3 0 1 0 -0.6 0M423.6 277.0a0.4 0.4 0 1 0 0.7 0a0.4 0.4 0 1 0 -0.7 0M405.7 254.4a0.4 0.4 0 1 0 0.7 0a0.4 0.4 0 1 0 -0.7 0M400.4 260.7a0.5 0.5 0 1 0 0.9 0a0.5 0.5 0 1 0 -0.9 0M418.4 268.2a0.6 0.6 0 1 0 1.1 0a0.6 0.6 0 1 0 -1.1 0M352.9 273.3a0.4 0.4 0 1 0 0.7 0a0.4 0.4 0 1 0 -0.7 0M375.6 248.8a0.5 0.5 0 1 0 1.0 0a0.5 0.5 0 1 0 -1.0 0M393.8 290.8a0.5 0.5 0 1 0 1.0 0a0.5 0.5 0 1 0 -1.0 0M419.1 286.7a0.4 0.4 0 1 0 0.8 0a0.4 0.4 0 1 0 -0.8 0M410.7 257.5a0.3 0.3 0 1 0 0.6 0a0.3 0.3 0 1 0 -0.6 0M410.0 224.4a0.3 0.3 0 1 0 0.7 0a0.3 0.3 0 1 0 -0.7 0M402.1 282.1a0.5 0.5 0 1 0 1.1 0a0.5 0.5 0 1 0 -1.1 0M398.3 246.2a0.4 0.4 0 1 0 0.8 0a0.4 0.4 0 1 0 -0.8 0M407.5 296.5a0.6 0.6 0 1 0 1.1 0a0.6 0.6 0 1 0 -1.1 0M388.8 269.4a0.3 0.3 0 1 0 0.6 0a0.3 0.3 0 1 0 -0.6 0M423.1 259.4a0.4 0.4 0 1 0 0.9 0a0.4 0.4 0 1 0 -0.9 0M363.0 230.0a0.4 0.4 0 1 0 0.9 0a0.4 0.4 0 1 0 -0.9 0M358.2 281.0a0.4 0.4 0 1 0 0.8 0a0.4 0.4 0 1 0 -0.8 0M405.5 242.3a0.5 0.5 0 1 0 1.1 0a0.5 0.5 0 1 0 -1.1 0M374.3 237.5a0.5 0.5 0 1 0 1.0 0a0.5 0.5 0 1 0 -1.0 0M384.5 292.8a0.5 0.5 0 1 0 0.9 0a0.5 0.5 0 1 0 -0.9 0M391.8 274.5a0.5 0.5 0 1 0 1.1 0a0.5 0.5 0 1 0 -1.1 0M403.9 236.2a0.4 0.4 0 1 0 0.8 0a0.4 0.4 0 1 0 -0.8 0M380.8 257.1a0.6 0.6 0 1 0 1.1 0a0.6 0.6 0 1 0 -1.1 0M411.8 241.5a0.6 0.6 0 1 0 1.1 0a0.6 0.6 0 1 0 -1.1 0M388.8 261.7a0.4 0.4 0 1 0 0.8 0a0.4 0.4 0 1 0 -0.8 0M416.9 279.8a0.6 0.6 0 1 0 1.1 0a0.6 0.6 0 1 0 -1.1 0M375.2 228.2a0.6 0.6 0 1 0 1.2 0a0.6 0.6 0 1 0 -1.2 0M401.9 248.4a0.5 0.5 0 1 0 0.9 0a0.5 0.5 0 1 0 -0.9 0M423.7 297.0a0.5 0.5 0 1 0 1.1 0a0.5 0.5 0 1 0 -1.1 0M422.6 284.2a0.6 0.6 0 1 0 1.2 0a0.6 0.6 0 1 0 -1.2 0M402.6 281.7a0.3 0.3 0 1 0 0.6 0a0.3 0.3 0 1 0 -0.6 0M378.4 278.8a0.4 0.4 0 1 0 0.9 0a0.4 0.4 0 1 0 -0.9 0M381.9 232.1a0.5 0.5 0 1 0 1.0 0a0.5 0.5 0 1 0 -1.0 0M375.3 241.4a0.3 0.3 0 1 0 0.6 0a0.3 0.3 0 1 0 -0.6 0M417.7 278.7a0.3 0.3 0 1 0 0.7 0a0.3 0.3 0 1 0 -0.7 0M421.7 239.9a0.6 0.6 0 1 0 1.1 0a0.6 0.6 0 1 0 -1.1 0M367.5 275.4a0.6 0.6 0 1 0 1.1 0a0.6 0.6 0 1 0 -1.1 0M358.7 241.3a0.3 0.3 0 1 0 0.7 0a0.3 0.3 0 1 0 -0.7 0M360.8 266.8a0.4 0.4 0 1 0 0.7 0a0.4 0.4 0 1 0 -0.7 0M389.1 242.6a0.6 0.6 0 1 0 1.2 0a0.6 0.6 0 1 0 -1.2 0M405.3 241.1a0.6 0.6 0 1 0 1.2 0a0.6 0.6 0 1 0 -1.2 0M377.0 279.1a0.4 0.4 0 1 0 0.8 0a0.4 0.4 0 1 0 -0.8 0M385.5 224.8a0.5 0.5 0 1 0 0.9 0a0.5 0.5 0 1 0 -0.9 0M351.5 238.1a0.5 0.5 0 1 0 1.0 0a0.5 0.5 0 1 0 -1.0 0M362.6 280.7a0.4 0.4 0 1 0 0.8 0a0.4 0.4 0 1 0 -0.8 0M389.6 271.2a0.5 0.5 0 1 0 1.0 0a0.5 0.5 0 1 0 -1.0 0M404.0 256.8a0.5 0.5 0 1 0 1.0 0a0.5 0.5 0 1 0 -1.0 0M409.5 289.2a0.5 0.5 0 1 0 0.9 0a0.5 0.5 0 1 0 -0.9 0M384.8 267.4a0.3 0.3 0 1 0 0.7 0a0.3 0.3 0 1 0 -0.7 0M394.5 287.9a0.5 0.5 0 1 0 1.1 0a0.5 0.5 0 1 0 -1.1 0M361.1 281.8a0.6 0.6 0 1 0 1.1 0a0.6 0.6 0 1 0 -1.1 0M381.8 264.7a0.4 0.4 0 1 0 0.7 0a0.4 0.4 0 1 0 -0.7 0M395.6 226.5a0.6 0.6 0 1 0 1.2 0a0.6 0.6 0 1 0 -1.2 0M362.3 297.3a0.6 0.6 0 1 0 1.1 0a0.6 0.6 0 1 0 -1.1 0M380.6 296.2a0.4 0.4 0 1 0 0.8 0a0.4 0.4 0 1 0 -0.8 0M377.6 251.7a0.4 0.4 0 1 0 0.8 0a0.4 0.4 0 1 0 -0.8 0M380.2 246.1a0.3 0.3 0 1 0 0.6 0a0.3 0.3 0 1 0 -0.6 0M376.9 250.6a0.3 0.3 0 1 0 0.7 0a0.3 0.3 0 1 0 -0.7 0M354.4 238.3a0.5 0.5 0 1 0 1.0 0a0.5 0.5 0 1 0 -1.0 0M368.4 272.5a0.4 0.4 0 1 0 0.8 0a0.4 0.4 0 1 0 -0.8 0M419.3 250.7a0.5 0.5 0 1 0 1.0 0a0.5 0.5 0 1 0 -1.0 0M411.4 247.8a0.4 0.4 0 1 0 0.8 0a0.4 0.4 0 1 0 -0.8 0M382.2 252.0a0.6 0.6 0 1 0 1.1 0a0.6 0.6 0 1 0 -1.1 0M398.8 227.4a0.4 0.4 0 1 0 0.8 0a0.4 0.4 0 1 0 -0.8 0M360.9 246.7a0.5 0.5 0 1 0 0.9 0a0.5 0.5 0 1 0 -0.9 0M397.7 230.9a0.5 0.5 0 1 0 0.9 0a0.5 0.5 0 1 0 -0.9 0M395.3 239.4a0.4 0.4 0 1 0 0.7 0a0.4 0.4 0 1 0 -0.7 0M380.9 227.5a0.5 0.5 0 1 0 1.0 0a0.5 0.5 0 1 0 -1.0 0M420.0 287.5a0.3 0.3 0 1 0 0.6 0a0.3 0.3 0 1 0 -0.6 0M376.8 239.6a0.4 0.4 0 1 0 0.8 0a0.4 0.4 0 1 0 -0.8 0M423.9 250.9a0.3 0.3 0 1 0 0.7 0a0.3 0.3 0 1 0 -0.7 0M413.0 281.4a0.3 0.3 0 1 0 0.6 0a0.3 0.3 0 1 0 -0.6 0M390.2 294.5a0.3 0.3 0 1 0 0.7 0a0.3 0.3 0 1 0 -0.7 0M391.2 272.1a0.5 0.5 0 1 0 1.1 0a0.5 0.5 0 1 0 -1.1 0M354.4 261.4a0.5 0.5 0 1 0 0.9 0a0.5 0.5 0 1 0 -0.9 0M385.5 231.9a0.6 0.6 0 1 0 1.2 0a0.6 0.6 0 1 0 -1.2 0M414.3 231.6a0.5 0.5 0 1 0 1.0 0a0.5 0.5 0 1 0 -1.0 0M385.3 244.5a0.5 0.5 0 1 0 1.0 0a0.5 0.5 0 1 0 -1.0 0M406.3 225.2a0.5 0.5 0 1 0 1.0 0a0.5 0.5 0 1 0 -1.0 0M397.0 248.8a0.5 0.5 0 1 0 1.1 0a0.5 0.5 0 1 0 -1.1 0M414.9 288.7a0.4 0.4 0 1 0 0.8 0a0.4 0.4 0 1 0 -0.8 0M375.3 240.4a0.4 0.4 0 1 0 0.7 0a0.4 0.4 0 1 0 -0.7 0M388.7 257.5a0.4 0.4 0 1 0 0.7 0a0.4 0.4 0 1 0 -0.7 0M400.5 275.7a0.4 0.4 0 1 0 0.8 0a0.4 0.4 0 1 0 -0.8 0M385.9 263.3a0.3 0.3 0 1 0 0.7 0a0.3 0.3 0 1 0 -0.7 0M397.3 240.1a0.5 0.5 0 1 0 1.0 0a0.5 0.5 0 1 0 -1.0 0M385.1 287.5a0.4 0.4 0 1 0 0.8 0a0.4 0.4 0 1 0 -0.8 0M421.6 270.7a0.6 0.6 0 1 0 1.2 0a0.6 0.6 0 1 0 -1.2 0M366.5 285.1a0.5 0.5 0 1 0 1.0 0a0.5 0.5 0 1 0 -1.0 0M388.2 228.0a0.4 0.4 0 1 0 0.8 0a0.4 0.4 0 1 0 -0.8 0M383.4 291.5a0.6 0.6 0 1 0 1.1 0a0.6 0.6 0 1 0 -1.1 0M371.1 233.0a0.5 0.5 0 1 0 0.9 0a0.5 0.5 0 1 0 -0.9 0M421.1 274.6a0.5 0.5 0 1 0 0.9 0a0.5 0.5 0 1 0 -0.9 0M381.7 235.4a0.6 0.6 0 1 0 1.2 0a0.6 0.6 0 1 0 -1.2 0M355.4 272.5a0.5 0.5 0 1 0 1.0 0a0.5 0.5 0 1 0 -1.0 0M352.5 276.1a0.5 0.5 0 1 0 0.9 0a0.5 0.5 0 1 0 -0.9 0M378.8 285.8a0.3 0.3 0 1 0 0.7 0a0.3 0.3 0 1 0 -0.7 0M354.0 266.9a0.5 0.5 0 1 0 0.9 0a0.5 0.5 0 1 0 -0.9 0M379.1 283.7a0.4 0.4 0 1 0 0.7 0a0.4 0.4 0 1 0 -0.7 0M360.7 237.1a0.5 0.5 0 1 0 0.9 0a0.5 0.5 0 1 0 -0.9 0M401.8 247.8a0.3 0.3 0 1 0 0.7 0a0.3 0.3 0 1 0 -0.7 0M424.1 246.8a0.3 0.3 0 1 0 0.7 0a0.3 0.3 0 1 0 -0.7 0M387.1 264.7a0.5 0.5 0 1 0 0.9 0a0.5 0.5 0 1 0 -0.9 0M378.6 246.9a0.3 0.3 0 1 0 0.6 0a0.3 0.3 0 1 0 -0.6 0M355.2 240.7a0.4 0.4 0 1 0 0.8 0a0.4 0.4 0 1 0 -0.8 0M410.9 286.3a0.5 0.5 0 1 0 0.9 0a0.5 0.5 0 1 0 -0.9 0M366.6 227.2a0.4 0.4 0 1 0 0.8 0a0.4 0.4 0 1 0 -0.8 0M359.9 277.0a0.5 0.5 0 1 0 1.1 0a0.5 0.5 0 1 0 -1.1 0M416.0 290.6a0.4 0.4 0 1 0 0.8 0a0.4 0.4 0 1 0 -0.8 0M377.3 252.6a0.3 0.3 0 1 0 0.7 0a0.3 0.3 0 1 0 -0.7 0M391.8 260.1a0.5 0.5 0 1 0 0.9 0a0.5 0.5 0 1 0 -0.9 0M360.6 282.3a0.6 0.6 0 1 0 1.1 0a0.6 0.6 0 1 0 -1.1 0M364.6 253.8a0.5 0.5 0 1 0 1.0 0a0.5 0.5 0 1 0 -1.0 0M412.5 266.1a0.4 0.4 0 1 0 0.9 0a0.4 0.4 0 1 0 -0.9 0M372.5 249.6a0.6 0.6 0 1 0 1.1 0a0.6 0.6 0 1 0 -1.1 0M388.9 228.2a0.5 0.5 0 1 0 1.0 0a0.5 0.5 0 1 0 -1.0 0M419.2 279.0a0.3 0.3 0 1 0 0.6 0a0.3 0.3 0 1 0 -0.6 0M374.3 269.2a0.3 0.3 0 1 0 0.7 0a0.3 0.3 0 1 0 -0.7 0M404.5 249.5a0.3 0.3 0 1 0 0.7 0a0.3 0.3 0 1 0 -0.7 0M411.5 288.0a0.6 0.6 0 1 0 1.1 0a0.6 0.6 0 1 0 -1.1 0M402.0 236.1a0.5 0.5 0 1 0 1.1 0a0.5 0.5 0 1 0 -1.1 0M369.5 294.6a0.3 0.3 0 1 0 0.6 0a0.3 0.3 0 1 0 -0.6 0M376.7 261.4a0.6 0.6 0 1 0 1.2 0a0.6 0.6 0 1 0 -1.2 0M396.2 236.7a0.6 0.6 0 1 0 1.1 0a0.6 0.6 0 1 0 -1.1 0M385.6 256.8a0.5 0.5 0 1 0 1.0 0a0.5 0.5 0 1 0 -1.0 0M414.6 224.7a0.6 0.6 0 1 0 1.2 0a0.6 0.6 0 1 0 -1.2 0M414.6 230.5a0.5 0.5 0 1 0 0.9 0a0.5 0.5 0 1 0 -0.9 0M406.7 225.6a0.4 0.4 0 1 0 0.8 0a0.4 0.4 0 1 0 -0.8 0M363.8 297.0a0.5 0.5 0 1 0 1.1 0a0.5 0.5 0 1 0 -1.1 0M384.4 262.3a0.4 0.4 0 1 0 0.8 0a0.4 0.4 0 1 0 -0.8 0M382.6 247.8a0.4 0.4 0 1 0 0.9 0a0.4 0.4 0 1 0 -0.9 0M408.5 259.9a0.5 0.5 0 1 0 1.0 0a0.5 0.5 0 1 0 -1.0 0M414.5 286.9a0.5 0.5 0 1 0 1.0 0a0.5 0.5 0 1 0 -1.0 0M359.4 285.6a0.4 0.4 0 1 0 0.8 0a0.4 0.4 0 1 0 -0.8 0M422.1 294.6a0.5 0.5 0 1 0 1.0 0a0.5 0.5 0 1 0 -1.0 0M391.0 264.9a0.5 0.5 0 1 0 1.0 0a0.5 0.5 0 1 0 -1.0 0M369.9 235.0a0.5 0.5 0 1 0 1.1 0a0.5 0.5 0 1 0 -1.1 0M377.7 272.9a0.3 0.3 0 1 0 0.7 0a0.3 0.3 0 1 0 -0.7 0M368.2 234.4a0.4 0.4 0 1 0 0.9 0a0.4 0.4 0 1 0 -0.9 0M354.7 242.4a0.4 0.4 0 1 0 0.8 0a0.4 0.4 0 1 0 -0.8 0M368.1 234.2a0.4 0.4 0 1 0 0.8 0a0.4 0.4 0 1 0 -0.8 0M410.4 234.9a0.6 0.6 0 1 0 1.1 0a0.6 0.6 0 1 0 -1.1 0M363.9 261.5a0.3 0.3 0 1 0 0.7 0a0.3 0.3 0 1 0 -0.7 0M372.9 263.4a0.3 0.3 0 1 0 0.6 0a0.3 0.3 0 1 0 -0.6 0M401.8 237.0a0.6 0.6 0 1 0 1.2 0a0.6 0.6 0 1 0 -1.2 0M355.1 264.1a0.5 0.5 0 1 0 1.0 0a0.5 0.5 0 1 0 -1.0 0M385.7 246.9a0.6 0.6 0 1 0 1.2 0a0.6 0.6 0 1 0 -1.2 0M382.4 235.5a0.3 0.3 0 1 0 0.6 0a0.3 0.3 0 1 0 -0.6 0M400.9 270.9a0.5 0.5 0 1 0 1.0 0a0.5 0.5 0 1 0 -1.0 0M370.6 277.8a0.3 0.3 0 1 0 0.6 0a0.3 0.3 0 1 0 -0.6 0M416.1 260.0a0.5 0.5 0 1 0 1.0 0a0.5 0.5 0 1 0 -1.0 0M372.3 276.7a0.3 0.3 0 1 0 0.6 0a0.3 0.3 0 1 0 -0.6 0M356.1 235.9a0.6 0.6 0 1 0 1.1 0a0.6 0.6 0 1 0 -1.1 0M413.8 234.5a0.6 0.6 0 1 0 1.2 0a0.6 0.6 0 1 0 -1.2 0M364.8 289.9a0.6 0.6 0 1 0 1.2 0a0.6 0.6 0 1 0 -1.2 0M387.0 273.6a0.4 0.4 0 1 0 0.8 0a0.4 0.4 0 1 0 -0.8 0M359.7 266.7a0.5 0.5 0 1 0 1.1 0a0.5 0.5 0 1 0 -1.1 0M405.8 265.4a0.6 0.6 0 1 0 1.1 0a0.6 0.6 0 1 0 -1.1 0M402.4 246.4a0.4 0.4 0 1 0 0.8 0a0.4 0.4 0 1 0 -0.8 0M423.2 294.4a0.6 0.6 0 1 0 1.2 0a0.6 0.6 0 1 0 -1.2 0M405.5 258.9a0.4 0.4 0 1 0 0.8 0a0.4 0.4 0 1 0 -0.8 0M354.1 263.2a0.3 0.3 0 1 0 0.7 0a0.3 0.3 0 1 0 -0.7 0M413.3 265.2a0.4 0.4 0 1 0 0.9 0a0.4 0.4 0 1 0 -0.9 0M422.2 277.9a0.6 0.6 0 1 0 1.1 0a0.6 0.6 0 1 0 -1.1 0M353.9 276.3a0.4 0.4 0 1 0 0.8 0a0.4 0.4 0 1 0 -0.8 0M399.0 273.7a0.5 0.5 0 1 0 0.9 0a0.5 0.5 0 1 0 -0.9 0M360.4 267.9a0.3 0.3 0 1 0 0.6 0a0.3 0.3 0 1 0 -0.6 0M376.6 228.1a0.4 0.4 0 1 0 0.9 0a0.4 0.4 0 1 0 -0.9 0M381.6 259.6a0.3 0.3 0 1 0 0.7 0a0.3 0.3 0 1 0 -0.7 0M406.8 227.8a0.4 0.4 0 1 0 0.7 0a0.4 0.4 0 1 0 -0.7 0M415.5 233.6a0.3 0.3 0 1 0 0.7 0a0.3 0.3 0 1 0 -0.7 0M395.1 261.8a0.6 0.6 0 1 0 1.1 0a0.6 0.6 0 1 0 -1.1 0M393.6 225.3a0.5 0.5 0 1 0 1.0 0a0.5 0.5 0 1 0 -1.0 0M387.3 257.8a0.4 0.4 0 1 0 0.9 0a0.4 0.4 0 1 0 -0.9 0M361.5 296.8a0.6 0.6 0 1 0 1.1 0a0.6 0.6 0 1 0 -1.1 0M404.3 266.1a0.4 0.4 0 1 0 0.8 0a0.4 0.4 0 1 0 -0.8 0M391.7 268.5a0.4 0.4 0 1 0 0.9 0a0.4 0.4 0 1 0 -0.9 0M423.1 269.9a0.5 0.5 0 1 0 1.1 0a0.5 0.5 0 1 0 -1.1 0" fill="#ecc0e0" opacity="0.5"/>
<path d="M398.7 262.9a0.6 0.6 0 1 0 1.1 0a0.6 0.6 0 1 0 -1.1 0M414.6 251.9a0.3 0.3 0 1 0 0.7 0a0.3 0.3 0 1 0 -0.7 0M366.5 239.8a0.6 0.6 0 1 0 1.2 0a0.6 0.6 0 1 0 -1.2 0M396.7 237.3a0.6 0.6 0 1 0 1.2 0a0.6 0.6 0 1 0 -1.2 0M353.7 260.2a0.6 0.6 0 1 0 1.1 0a0.6 0.6 0 1 0 -1.1 0M372.7 257.3a0.6 0.6 0 1 0 1.2 0a0.6 0.6 0 1 0 -1.2 0M374.5 244.1a0.4 0.4 0 1 0 0.9 0a0.4 0.4 0 1 0 -0.9 0M359.6 284.4a0.5 0.5 0 1 0 0.9 0a0.5 0.5 0 1 0 -0.9 0M403.5 294.3a0.4 0.4 0 1 0 0.8 0a0.4 0.4 0 1 0 -0.8 0M376.6 292.9a0.4 0.4 0 1 0 0.8 0a0.4 0.4 0 1 0 -0.8 0M365.6 267.1a0.5 0.5 0 1 0 1.0 0a0.5 0.5 0 1 0 -1.0 0M423.2 296.0a0.3 0.3 0 1 0 0.7 0a0.3 0.3 0 1 0 -0.7 0M376.0 266.7a0.6 0.6 0 1 0 1.2 0a0.6 0.6 0 1 0 -1.2 0M415.1 265.4a0.4 0.4 0 1 0 0.9 0a0.4 0.4 0 1 0 -0.9 0M408.3 242.0a0.4 0.4 0 1 0 0.8 0a0.4 0.4 0 1 0 -0.8 0M376.7 274.1a0.5 0.5 0 1 0 1.1 0a0.5 0.5 0 1 0 -1.1 0M394.1 283.7a0.3 0.3 0 1 0 0.6 0a0.3 0.3 0 1 0 -0.6 0M402.3 227.5a0.6 0.6 0 1 0 1.1 0a0.6 0.6 0 1 0 -1.1 0M396.2 284.6a0.3 0.3 0 1 0 0.7 0a0.3 0.3 0 1 0 -0.7 0M423.6 275.8a0.4 0.4 0 1 0 0.9 0a0.4 0.4 0 1 0 -0.9 0M378.6 228.0a0.5 0.5 0 1 0 1.0 0a0.5 0.5 0 1 0 -1.0 0M391.5 240.1a0.3 0.3 0 1 0 0.6 0a0.3 0.3 0 1 0 -0.6 0M369.9 279.1a0.5 0.5 0 1 0 0.9 0a0.5 0.5 0 1 0 -0.9 0M378.5 252.3a0.6 0.6 0 1 0 1.1 0a0.6 0.6 0 1 0 -1.1 0M352.9 257.5a0.6 0.6 0 1 0 1.1 0a0.6 0.6 0 1 0 -1.1 0M417.6 275.9a0.5 0.5 0 1 0 1.0 0a0.5 0.5 0 1 0 -1.0 0M385.5 281.0a0.4 0.4 0 1 0 0.7 0a0.4 0.4 0 1 0 -0.7 0M392.4 293.0a0.5 0.5 0 1 0 1.0 0a0.5 0.5 0 1 0 -1.0 0M355.0 226.7a0.6 0.6 0 1 0 1.2 0a0.6 0.6 0 1 0 -1.2 0M402.1 271.0a0.4 0.4 0 1 0 0.7 0a0.4 0.4 0 1 0 -0.7 0M382.2 280.4a0.5 0.5 0 1 0 0.9 0a0.5 0.5 0 1 0 -0.9 0M416.2 297.5a0.5 0.5 0 1 0 0.9 0a0.5 0.5 0 1 0 -0.9 0M374.3 233.5a0.3 0.3 0 1 0 0.6 0a0.3 0.3 0 1 0 -0.6 0M351.3 244.9a0.6 0.6 0 1 0 1.2 0a0.6 0.6 0 1 0 -1.2 0M370.9 283.7a0.4 0.4 0 1 0 0.8 0a0.4 0.4 0 1 0 -0.8 0M392.0 225.9a0.3 0.3 0 1 0 0.6 0a0.3 0.3 0 1 0 -0.6 0M352.8 262.7a0.3 0.3 0 1 0 0.7 0a0.3 0.3 0 1 0 -0.7 0M375.4 224.8a0.5 0.5 0 1 0 1.0 0a0.5 0.5 0 1 0 -1.0 0M404.2 230.9a0.5 0.5 0 1 0 0.9 0a0.5 0.5 0 1 0 -0.9 0M409.2 232.6a0.4 0.4 0 1 0 0.8 0a0.4 0.4 0 1 0 -0.8 0M396.4 253.4a0.3 0.3 0 1 0 0.7 0a0.3 0.3 0 1 0 -0.7 0M415.9 274.6a0.6 0.6 0 1 0 1.2 0a0.6 0.6 0 1 0 -1.2 0M361.6 262.1a0.3 0.3 0 1 0 0.6 0a0.3 0.3 0 1 0 -0.6 0M413.1 271.4a0.6 0.6 0 1 0 1.2 0a0.6 0.6 0 1 0 -1.2 0M406.0 238.3a0.4 0.4 0 1 0 0.8 0a0.4 0.4 0 1 0 -0.8 0M389.2 227.6a0.4 0.4 0 1 0 0.9 0a0.4 0.4 0 1 0 -0.9 0M413.6 241.9a0.4 0.4 0 1 0 0.9 0a0.4 0.4 0 1 0 -0.9 0M414.3 229.7a0.6 0.6 0 1 0 1.2 0a0.6 0.6 0 1 0 -1.2 0M417.8 251.8a0.6 0.6 0 1 0 1.2 0a0.6 0.6 0 1 0 -1.2 0M421.3 268.0a0.3 0.3 0 1 0 0.7 0a0.3 0.3 0 1 0 -0.7 0M417.3 264.2a0.4 0.4 0 1 0 0.9 0a0.4 0.4 0 1 0 -0.9 0M355.6 225.0a0.4 0.4 0 1 0 0.7 0a0.4 0.4 0 1 0 -0.7 0M354.6 278.5a0.3 0.3 0 1 0 0.7 0a0.3 0.3 0 1 0 -0.7 0M396.8 252.5a0.5 0.5 0 1 0 1.0 0a0.5 0.5 0 1 0 -1.0 0M402.3 267.5a0.6 0.6 0 1 0 1.1 0a0.6 0.6 0 1 0 -1.1 0M417.0 258.2a0.3 0.3 0 1 0 0.7 0a0.3 0.3 0 1 0 -0.7 0M383.3 262.0a0.4 0.4 0 1 0 0.8 0a0.4 0.4 0 1 0 -0.8 0M370.9 260.2a0.5 0.5 0 1 0 0.9 0a0.5 0.5 0 1 0 -0.9 0M354.1 288.8a0.6 0.6 0 1 0 1.2 0a0.6 0.6 0 1 0 -1.2 0M361.1 254.8a0.4 0.4 0 1 0 0.8 0a0.4 0.4 0 1 0 -0.8 0M403.0 269.1a0.5 0.5 0 1 0 1.1 0a0.5 0.5 0 1 0 -1.1 0M351.5 295.4a0.5 0.5 0 1 0 1.0 0a0.5 0.5 0 1 0 -1.0 0M398.7 252.2a0.5 0.5 0 1 0 1.0 0a0.5 0.5 0 1 0 -1.0 0M398.4 291.6a0.4 0.4 0 1 0 0.7 0a0.4 0.4 0 1 0 -0.7 0M362.3 228.1a0.3 0.3 0 1 0 0.6 0a0.3 0.3 0 1 0 -0.6 0M395.2 290.8a0.6 0.6 0 1 0 1.1 0a0.6 0.6 0 1 0 -1.1 0M352.8 289.0a0.6 0.6 0 1 0 1.2 0a0.6 0.6 0 1 0 -1.2 0M414.3 227.3a0.5 0.5 0 1 0 1.1 0a0.5 0.5 0 1 0 -1.1 0M379.6 287.0a0.6 0.6 0 1 0 1.2 0a0.6 0.6 0 1 0 -1.2 0M354.0 284.1a0.5 0.5 0 1 0 1.0 0a0.5 0.5 0 1 0 -1.0 0M412.3 280.4a0.4 0.4 0 1 0 0.9 0a0.4 0.4 0 1 0 -0.9 0M405.3 291.9a0.4 0.4 0 1 0 0.8 0a0.4 0.4 0 1 0 -0.8 0M367.4 285.8a0.3 0.3 0 1 0 0.7 0a0.3 0.3 0 1 0 -0.7 0M417.7 237.2a0.5 0.5 0 1 0 0.9 0a0.5 0.5 0 1 0 -0.9 0M402.8 276.1a0.5 0.5 0 1 0 1.0 0a0.5 0.5 0 1 0 -1.0 0M419.6 256.5a0.5 0.5 0 1 0 0.9 0a0.5 0.5 0 1 0 -0.9 0M389.2 279.5a0.4 0.4 0 1 0 0.8 0a0.4 0.4 0 1 0 -0.8 0M374.7 260.7a0.3 0.3 0 1 0 0.6 0a0.3 0.3 0 1 0 -0.6 0M391.1 242.5a0.6 0.6 0 1 0 1.2 0a0.6 0.6 0 1 0 -1.2 0M409.0 241.4a0.4 0.4 0 1 0 0.8 0a0.4 0.4 0 1 0 -0.8 0M358.9 246.0a0.3 0.3 0 1 0 0.7 0a0.3 0.3 0 1 0 -0.7 0M368.2 262.0a0.6 0.6 0 1 0 1.1 0a0.6 0.6 0 1 0 -1.1 0M387.3 281.6a0.3 0.3 0 1 0 0.7 0a0.3 0.3 0 1 0 -0.7 0M378.5 243.6a0.4 0.4 0 1 0 0.8 0a0.4 0.4 0 1 0 -0.8 0M404.0 255.4a0.4 0.4 0 1 0 0.7 0a0.4 0.4 0 1 0 -0.7 0M412.4 246.8a0.4 0.4 0 1 0 0.8 0a0.4 0.4 0 1 0 -0.8 0M422.8 247.4a0.5 0.5 0 1 0 1.0 0a0.5 0.5 0 1 0 -1.0 0M408.7 267.2a0.6 0.6 0 1 0 1.2 0a0.6 0.6 0 1 0 -1.2 0M421.8 265.5a0.5 0.5 0 1 0 1.0 0a0.5 0.5 0 1 0 -1.0 0M423.2 295.9a0.4 0.4 0 1 0 0.7 0a0.4 0.4 0 1 0 -0.7 0M401.1 244.0a0.5 0.5 0 1 0 1.0 0a0.5 0.5 0 1 0 -1.0 0M352.5 225.3a0.5 0.5 0 1 0 1.0 0a0.5 0.5 0 1 0 -1.0 0M390.5 274.7a0.4 0.4 0 1 0 0.8 0a0.4 0.4 0 1 0 -0.8 0M420.1 264.3a0.6 0.6 0 1 0 1.2 0a0.6 0.6 0 1 0 -1.2 0M355.4 256.2a0.6 0.6 0 1 0 1.1 0a0.6 0.6 0 1 0 -1.1 0M399.2 287.7a0.5 0.5 0 1 0 1.1 0a0.5 0.5 0 1 0 -1.1 0M420.1 227.2a0.4 0.4 0 1 0 0.8 0a0.4 0.4 0 1 0 -0.8 0M382.4 251.1a0.6 0.6 0 1 0 1.2 0a0.6 0.6 0 1 0 -1.2 0M358.9 242.3a0.3 0.3 0 1 0 0.7 0a0.3 0.3 0 1 0 -0.7 0M360.9 295.5a0.4 0.4 0 1 0 0.8 0a0.4 0.4 0 1 0 -0.8 0M369.0 242.1a0.6 0.6 0 1 0 1.2 0a0.6 0.6 0 1 0 -1.2 0M394.4 224.0a0.4 0.4 0 1 0 0.8 0a0.4 0.4 0 1 0 -0.8 0M403.6 257.4a0.4 0.4 0 1 0 0.8 0a0.4 0.4 0 1 0 -0.8 0M357.3 243.1a0.6 0.6 0 1 0 1.1 0a0.6 0.6 0 1 0 -1.1 0M373.9 242.0a0.3 0.3 0 1 0 0.6 0a0.3 0.3 0 1 0 -0.6 0M415.3 224.8a0.4 0.4 0 1 0 0.8 0a0.4 0.4 0 1 0 -0.8 0M415.0 297.2a0.4 0.4 0 1 0 0.8 0a0.4 0.4 0 1 0 -0.8 0M373.7 260.5a0.3 0.3 0 1 0 0.7 0a0.3 0.3 0 1 0 -0.7 0M402.5 279.3a0.4 0.4 0 1 0 0.8 0a0.4 0.4 0 1 0 -0.8 0M388.9 252.7a0.6 0.6 0 1 0 1.1 0a0.6 0.6 0 1 0 -1.1 0M410.2 244.4a0.6 0.6 0 1 0 1.1 0a0.6 0.6 0 1 0 -1.1 0M419.8 289.2a0.6 0.6 0 1 0 1.2 0a0.6 0.6 0 1 0 -1.2 0M392.9 277.5a0.5 0.5 0 1 0 1.0 0a0.5 0.5 0 1 0 -1.0 0M408.7 261.0a0.5 0.5 0 1 0 1.0 0a0.5 0.5 0 1 0 -1.0 0M367.8 286.9a0.5 0.5 0 1 0 1.0 0a0.5 0.5 0 1 0 -1.0 0M368.3 237.8a0.6 0.6 0 1 0 1.1 0a0.6 0.6 0 1 0 -1.1 0M412.1 253.7a0.3 0.3 0 1 0 0.6 0a0.3 0.3 0 1 0 -0.6 0M361.7 268.0a0.5 0.5 0 1 0 1.0 0a0.5 0.5 0 1 0 -1.0 0M373.0 276.2a0.6 0.6 0 1 0 1.1 0a0.6 0.6 0 1 0 -1.1 0M362.9 255.4a0.4 0.4 0 1 0 0.7 0a0.4 0.4 0 1 0 -0.7 0M409.0 293.3a0.5 0.5 0 1 0 1.1 0a0.5 0.5 0 1 0 -1.1 0M386.8 260.1a0.3 0.3 0 1 0 0.6 0a0.3 0.3 0 1 0 -0.6 0M412.6 283.2a0.6 0.6 0 1 0 1.2 0a0.6 0.6 0 1 0 -1.2 0M405.6 285.6a0.5 0.5 0 1 0 1.1 0a0.5 0.5 0 1 0 -1.1 0M358.6 263.9a0.3 0.3 0 1 0 0.7 0a0.3 0.3 0 1 0 -0.7 0M407.6 266.7a0.6 0.6 0 1 0 1.2 0a0.6 0.6 0 1 0 -1.2 0M421.6 257.7a0.5 0.5 0 1 0 1.1 0a0.5 0.5 0 1 0 -1.1 0M390.1 296.4a0.3 0.3 0 1 0 0.7 0a0.3 0.3 0 1 0 -0.7 0M361.0 229.9a0.6 0.6 0 1 0 1.2 0a0.6 0.6 0 1 0 -1.2 0M417.1 288.3a0.5 0.5 0 1 0 0.9 0a0.5 0.5 0 1 0 -0.9 0M421.2 287.1a0.5 0.5 0 1 0 1.0 0a0.5 0.5 0 1 0 -1.0 0M402.2 248.9a0.5 0.5 0 1 0 1.0 0a0.5 0.5 0 1 0 -1.0 0M390.5 254.9a0.4 0.4 0 1 0 0.7 0a0.4 0.4 0 1 0 -0.7 0M364.9 275.7a0.4 0.4 0 1 0 0.8 0a0.4 0.4 0 1 0 -0.8 0M361.7 260.2a0.3 0.3 0 1 0 0.7 0a0.3 0.3 0 1 0 -0.7 0M400.1 229.9a0.4 0.4 0 1 0 0.9 0a0.4 0.4 0 1 0 -0.9 0M411.5 288.9a0.5 0.5 0 1 0 0.9 0a0.5 0.5 0 1 0 -0.9 0M388.0 233.6a0.5 0.5 0 1 0 1.0 0a0.5 0.5 0 1 0 -1.0 0M354.3 285.2a0.5 0.5 0 1 0 0.9 0a0.5 0.5 0 1 0 -0.9 0M400.0 274.1a0.5 0.5 0 1 0 1.0 0a0.5 0.5 0 1 0 -1.0 0M353.0 243.3a0.5 0.5 0 1 0 0.9 0a0.5 0.5 0 1 0 -0.9 0M366.0 290.2a0.5 0.5 0 1 0 1.0 0a0.5 0.5 0 1 0 -1.0 0M410.2 276.3a0.4 0.4 0 1 0 0.8 0a0.4 0.4 0 1 0 -0.8 0M396.0 271.2a0.6 0.6 0 1 0 1.2 0a0.6 0.6 0 1 0 -1.2 0M408.2 266.7a0.5 0.5 0 1 0 1.0 0a0.5 0.5 0 1 0 -1.0 0M354.1 255.6a0.3 0.3 0 1 0 0.7 0a0.3 0.3 0 1 0 -0.7 0M372.1 248.4a0.4 0.4 0 1 0 0.9 0a0.4 0.4 0 1 0 -0.9 0M379.0 237.1a0.4 0.4 0 1 0 0.8 0a0.4 0.4 0 1 0 -0.8 0M414.1 261.7a0.5 0.5 0 1 0 1.0 0a0.5 0.5 0 1 0 -1.0 0M378.7 270.9a0.4 0.4 0 1 0 0.7 0a0.4 0.4 0 1 0 -0.7 0M416.2 273.4a0.5 0.5 0 1 0 1.0 0a0.5 0.5 0 1 0 -1.0 0M359.5 255.8a0.5 0.5 0 1 0 1.1 0a0.5 0.5 0 1 0 -1.1 0M378.2 262.4a0.3 0.3 0 1 0 0.6 0a0.3 0.3 0 1 0 -0.6 0M370.1 270.9a0.5 0.5 0 1 0 1.1 0a0.5 0.5 0 1 0 -1.1 0M390.4 294.0a0.5 0.5 0 1 0 1.0 0a0.5 0.5 0 1 0 -1.0 0M390.6 243.3a0.5 0.5 0 1 0 1.1 0a0.5 0.5 0 1 0 -1.1 0M409.2 281.8a0.5 0.5 0 1 0 0.9 0a0.5 0.5 0 1 0 -0.9 0M379.7 224.8a0.5 0.5 0 1 0 0.9 0a0.5 0.5 0 1 0 -0.9 0M386.6 228.1a0.4 0.4 0 1 0 0.8 0a0.4 0.4 0 1 0 -0.8 0M421.0 293.5a0.3 0.3 0 1 0 0.6 0a0.3 0.3 0 1 0 -0.6 0M353.4 295.3a0.4 0.4 0 1 0 0.9 0a0.4 0.4 0 1 0 -0.9 0M364.1 231.7a0.5 0.5 0 1 0 1.1 0a0.5 0.5 0 1 0 -1.1 0M395.9 260.2a0.5 0.5 0 1 0 0.9 0a0.5 0.5 0 1 0 -0.9 0M406.9 283.4a0.4 0.4 0 1 0 0.8 0a0.4 0.4 0 1 0 -0.8 0M405.6 264.7a0.5 0.5 0 1 0 1.1 0a0.5 0.5 0 1 0 -1.1 0M397.9 238.1a0.5 0.5 0 1 0 1.0 0a0.5 0.5 0 1 0 -1.0 0M409.3 239.2a0.5 0.5 0 1 0 1.0 0a0.5 0.5 0 1 0 -1.0 0M412.3 280.4a0.5 0.5 0 1 0 1.0 0a0.5 0.5 0 1 0 -1.0 0M423.5 233.3a0.6 0.6 0 1 0 1.1 0a0.6 0.6 0 1 0 -1.1 0M388.7 236.8a0.5 0.5 0 1 0 1.0 0a0.5 0.5 0 1 0 -1.0 0M413.3 269.8a0.4 0.4 0 1 0 0.8 0a0.4 0.4 0 1 0 -0.8 0M400.9 284.3a0.5 0.5 0 1 0 0.9 0a0.5 0.5 0 1 0 -0.9 0M386.4 243.0a0.5 0.5 0 1 0 1.1 0a0.5 0.5 0 1 0 -1.1 0M351.8 246.5a0.4 0.4 0 1 0 0.8 0a0.4 0.4 0 1 0 -0.8 0M368.7 233.5a0.4 0.4 0 1 0 0.8 0a0.4 0.4 0 1 0 -0.8 0M361.8 227.8a0.5 0.5 0 1 0 0.9 0a0.5 0.5 0 1 0 -0.9 0M409.6 281.8a0.5 0.5 0 1 0 1.1 0a0.5 0.5 0 1 0 -1.1 0M394.5 279.3a0.5 0.5 0 1 0 1.0 0a0.5 0.5 0 1 0 -1.0 0M357.8 287.8a0.5 0.5 0 1 0 1.0 0a0.5 0.5 0 1 0 -1.0 0M357.8 285.0a0.4 0.4 0 1 0 0.7 0a0.4 0.4 0 1 0 -0.7 0M421.5 286.5a0.4 0.4 0 1 0 0.9 0a0.4 0.4 0 1 0 -0.9 0M363.5 292.5a0.3 0.3 0 1 0 0.6 0a0.3 0.3 0 1 0 -0.6 0M382.4 232.0a0.4 0.4 0 1 0 0.8 0a0.4 0.4 0 1 0 -0.8 0M387.2 238.3a0.5 0.5 0 1 0 0.9 0a0.5 0.5 0 1 0 -0.9 0M381.7 269.6a0.3 0.3 0 1 0 0.6 0a0.3 0.3 0 1 0 -0.6 0M394.3 224.9a0.5 0.5 0 1 0 0.9 0a0.5 0.5 0 1 0 -0.9 0M361.2 237.2a0.4 0.4 0 1 0 0.8 0a0.4 0.4 0 1 0 -0.8 0M357.7 290.1a0.5 0.5 0 1 0 1.1 0a0.5 0.5 0 1 0 -1.1 0M402.3 279.0a0.4 0.4 0 1 0 0.9 0a0.4 0.4 0 1 0 -0.9 0M386.9 238.9a0.6 0.6 0 1 0 1.1 0a0.6 0.6 0 1 0 -1.1 0M408.6 257.0a0.6 0.6 0 1 0 1.1 0a0.6 0.6 0 1 0 -1.1 0M363.4 273.7a0.5 0.5 0 1 0 1.0 0a0.5 0.5 0 1 0 -1.0 0M386.1 286.5a0.4 0.4 0 1 0 0.7 0a0.4 0.4 0 1 0 -0.7 0M388.4 268.5a0.4 0.4 0 1 0 0.8 0a0.4 0.4 0 1 0 -0.8 0M372.2 290.8a0.4 0.4 0 1 0 0.7 0a0.4 0.4 0 1 0 -0.7 0M357.4 285.1a0.5 0.5 0 1 0 1.0 0a0.5 0.5 0 1 0 -1.0 0M400.9 246.7a0.5 0.5 0 1 0 1.0 0a0.5 0.5 0 1 0 -1.0 0M411.2 241.9a0.5 0.5 0 1 0 1.0 0a0.5 0.5 0 1 0 -1.0 0M360.0 271.8a0.5 0.5 0 1 0 0.9 0a0.5 0.5 0 1 0 -0.9 0M376.0 273.2a0.4 0.4 0 1 0 0.7 0a0.4 0.4 0 1 0 -0.7 0M391.5 251.2a0.6 0.6 0 1 0 1.2 0a0.6 0.6 0 1 0 -1.2 0M383.7 237.0a0.4 0.4 0 1 0 0.8 0a0.4 0.4 0 1 0 -0.8 0M421.8 263.4a0.5 0.5 0 1 0 1.0 0a0.5 0.5 0 1 0 -1.0 0M399.9 234.2a0.5 0.5 0 1 0 0.9 0a0.5 0.5 0 1 0 -0.9 0M397.5 278.1a0.5 0.5 0 1 0 1.0 0a0.5 0.5 0 1 0 -1.0 0M388.5 258.0a0.3 0.3 0 1 0 0.6 0a0.3 0.3 0 1 0 -0.6 0M358.9 234.0a0.3 0.3 0 1 0 0.7 0a0.3 0.3 0 1 0 -0.7 0M367.7 267.8a0.5 0.5 0 1 0 1.1 0a0.5 0.5 0 1 0 -1.1 0M422.0 251.4a0.5 0.5 0 1 0 0.9 0a0.5 0.5 0 1 0 -0.9 0M360.7 255.7a0.5 0.5 0 1 0 1.0 0a0.5 0.5 0 1 0 -1.0 0M408.8 291.4a0.5 0.5 0 1 0 1.0 0a0.5 0.5 0 1 0 -1.0 0M369.3 274.1a0.5 0.5 0 1 0 1.0 0a0.5 0.5 0 1 0 -1.0 0M396.0 254.4a0.5 0.5 0 1 0 1.0 0a0.5 0.5 0 1 0 -1.0 0M363.8 276.1a0.4 0.4 0 1 0 0.7 0a0.4 0.4 0 1 0 -0.7 0M416.9 273.2a0.4 0.4 0 1 0 0.9 0a0.4 0.4 0 1 0 -0.9 0M376.3 249.3a0.5 0.5 0 1 0 1.0 0a0.5 0.5 0 1 0 -1.0 0M354.9 260.6a0.6 0.6 0 1 0 1.1 0a0.6 0.6 0 1 0 -1.1 0M392.3 246.2a0.5 0.5 0 1 0 1.0 0a0.5 0.5 0 1 0 -1.0 0M416.0 254.8a0.6 0.6 0 1 0 1.2 0a0.6 0.6 0 1 0 -1.2 0M391.4 276.5a0.4 0.4 0 1 0 0.7 0a0.4 0.4 0 1 0 -0.7 0M399.2 281.9a0.4 0.4 0 1 0 0.8 0a0.4 0.4 0 1 0 -0.8 0M385.1 241.0a0.4 0.4 0 1 0 0.8 0a0.4 0.4 0 1 0 -0.8 0M408.2 264.4a0.6 0.6 0 1 0 1.2 0a0.6 0.6 0 1 0 -1.2 0M395.2 263.6a0.6 0.6 0 1 0 1.1 0a0.6 0.6 0 1 0 -1.1 0M380.4 245.5a0.5 0.5 0 1 0 1.1 0a0.5 0.5 0 1 0 -1.1 0M376.4 232.3a0.4 0.4 0 1 0 0.8 0a0.4 0.4 0 1 0 -0.8 0M373.7 255.5a0.4 0.4 0 1 0 0.7 0a0.4 0.4 0 1 0 -0.7 0M356.4 291.3a0.6 0.6 0 1 0 1.1 0a0.6 0.6 0 1 0 -1.1 0M412.9 235.1a0.5 0.5 0 1 0 0.9 0a0.5 0.5 0 1 0 -0.9 0M392.9 251.5a0.5 0.5 0 1 0 1.1 0a0.5 0.5 0 1 0 -1.1 0M360.0 262.6a0.6 0.6 0 1 0 1.2 0a0.6 0.6 0 1 0 -1.2 0M386.5 287.9a0.4 0.4 0 1 0 0.7 0a0.4 0.4 0 1 0 -0.7 0M374.4 286.3a0.5 0.5 0 1 0 1.0 0a0.5 0.5 0 1 0 -1.0 0M356.7 265.4a0.5 0.5 0 1 0 1.0 0a0.5 0.5 0 1 0 -1.0 0M370.3 257.2a0.4 0.4 0 1 0 0.8 0a0.4 0.4 0 1 0 -0.8 0M397.6 232.5a0.6 0.6 0 1 0 1.2 0a0.6 0.6 0 1 0 -1.2 0M353.6 249.0a0.3 0.3 0 1 0 0.7 0a0.3 0.3 0 1 0 -0.7 0M391.7 268.4a0.4 0.4 0 1 0 0.7 0a0.4 0.4 0 1 0 -0.7 0M380.4 250.0a0.4 0.4 0 1 0 0.8 0a0.4 0.4 0 1 0 -0.8 0M413.0 228.9a0.4 0.4 0 1 0 0.7 0a0.4 0.4 0 1 0 -0.7 0M352.9 228.4a0.6 0.6 0 1 0 1.1 0a0.6 0.6 0 1 0 -1.1 0M380.7 281.0a0.5 0.5 0 1 0 1.0 0a0.5 0.5 0 1 0 -1.0 0M369.8 294.7a0.4 0.4 0 1 0 0.7 0a0.4 0.4 0 1 0 -0.7 0M359.2 244.5a0.5 0.5 0 1 0 1.0 0a0.5 0.5 0 1 0 -1.0 0M422.5 230.2a0.3 0.3 0 1 0 0.6 0a0.3 0.3 0 1 0 -0.6 0M365.4 296.3a0.5 0.5 0 1 0 0.9 0a0.5 0.5 0 1 0 -0.9 0M392.6 262.3a0.4 0.4 0 1 0 0.8 0a0.4 0.4 0 1 0 -0.8 0M377.2 242.9a0.4 0.4 0 1 0 0.7 0a0.4 0.4 0 1 0 -0.7 0M368.8 234.1a0.5 0.5 0 1 0 0.9 0a0.5 0.5 0 1 0 -0.9 0M388.6 261.1a0.3 0.3 0 1 0 0.7 0a0.3 0.3 0 1 0 -0.7 0M363.8 287.1a0.3 0.3 0 1 0 0.6 0a0.3 0.3 0 1 0 -0.6 0M385.6 294.7a0.4 0.4 0 1 0 0.7 0a0.4 0.4 0 1 0 -0.7 0M367.9 292.3a0.4 0.4 0 1 0 0.7 0a0.4 0.4 0 1 0 -0.7 0M361.4 297.4a0.6 0.6 0 1 0 1.2 0a0.6 0.6 0 1 0 -1.2 0M409.9 292.5a0.3 0.3 0 1 0 0.7 0a0.3 0.3 0 1 0 -0.7 0M388.5 297.5a0.5 0.5 0 1 0 0.9 0a0.5 0.5 0 1 0 -0.9 0M363.9 286.1a0.5 0.5 0 1 0 1.1 0a0.5 0.5 0 1 0 -1.1 0M381.4 266.4a0.4 0.4 0 1 0 0.7 0a0.4 0.4 0 1 0 -0.7 0M406.3 236.6a0.4 0.4 0 1 0 0.8 0a0.4 0.4 0 1 0 -0.8 0M392.5 275.4a0.5 0.5 0 1 0 1.0 0a0.5 0.5 0 1 0 -1.0 0M420.6 238.6a0.3 0.3 0 1 0 0.7 0a0.3 0.3 0 1 0 -0.7 0M399.4 269.1a0.4 0.4 0 1 0 0.8 0a0.4 0.4 0 1 0 -0.8 0M365.2 294.2a0.6 0.6 0 1 0 1.2 0a0.6 0.6 0 1 0 -1.2 0M369.8 235.9a0.3 0.3 0 1 0 0.7 0a0.3 0.3 0 1 0 -0.7 0M392.0 273.4a0.4 0.4 0 1 0 0.7 0a0.4 0.4 0 1 0 -0.7 0M399.1 261.1a0.4 0.4 0 1 0 0.9 0a0.4 0.4 0 1 0 -0.9 0M359.7 249.6a0.3 0.3 0 1 0 0.6 0a0.3 0.3 0 1 0 -0.6 0M398.1 265.3a0.4 0.4 0 1 0 0.8 0a0.4 0.4 0 1 0 -0.8 0M410.3 275.7a0.4 0.4 0 1 0 0.7 0a0.4 0.4 0 1 0 -0.7 0M398.9 291.2a0.4 0.4 0 1 0 0.8 0a0.4 0.4 0 1 0 -0.8 0M416.7 297.2a0.3 0.3 0 1 0 0.7 0a0.3 0.3 0 1 0 -0.7 0M400.5 285.9a0.4 0.4 0 1 0 0.7 0a0.4 0.4 0 1 0 -0.7 0M408.5 243.2a0.4 0.4 0 1 0 0.7 0a0.4 0.4 0 1 0 -0.7 0M365.9 262.0a0.4 0.4 0 1 0 0.8 0a0.4 0.4 0 1 0 -0.8 0M373.0 230.2a0.6 0.6 0 1 0 1.2 0a0.6 0.6 0 1 0 -1.2 0M367.1 264.7a0.5 0.5 0 1 0 1.0 0a0.5 0.5 0 1 0 -1.0 0M395.3 245.8a0.6 0.6 0 1 0 1.1 0a0.6 0.6 0 1 0 -1.1 0M353.6 227.4a0.6 0.6 0 1 0 1.2 0a0.6 0.6 0 1 0 -1.2 0M398.7 280.4a0.6 0.6 0 1 0 1.1 0a0.6 0.6 0 1 0 -1.1 0M360.1 289.7a0.3 0.3 0 1 0 0.7 0a0.3 0.3 0 1 0 -0.7 0M386.1 266.0a0.4 0.4 0 1 0 0.7 0a0.4 0.4 0 1 0 -0.7 0M420.5 248.9a0.5 0.5 0 1 0 1.0 0a0.5 0.5 0 1 0 -1.0 0M422.3 279.9a0.4 0.4 0 1 0 0.8 0a0.4 0.4 0 1 0 -0.8 0M419.8 293.0a0.4 0.4 0 1 0 0.8 0a0.4 0.4 0 1 0 -0.8 0M377.7 254.1a0.6 0.6 0 1 0 1.1 0a0.6 0.6 0 1 0 -1.1 0M397.2 251.4a0.4 0.4 0 1 0 0.9 0a0.4 0.4 0 1 0 -0.9 0M378.8 260.1a0.4 0.4 0 1 0 0.8 0a0.4 0.4 0 1 0 -0.8 0M413.3 276.3a0.6 0.6 0 1 0 1.1 0a0.6 0.6 0 1 0 -1.1 0M363.5 259.5a0.6 0.6 0 1 0 1.2 0a0.6 0.6 0 1 0 -1.2 0M396.2 227.2a0.3 0.3 0 1 0 0.7 0a0.3 0.3 0 1 0 -0.7 0M369.1 241.4a0.3 0.3 0 1 0 0.7 0a0.3 0.3 0 1 0 -0.7 0M419.9 260.8a0.4 0.4 0 1 0 0.8 0a0.4 0.4 0 1 0 -0.8 0M372.3 249.8a0.4 0.4 0 1 0 0.8 0a0.4 0.4 0 1 0 -0.8 0M390.0 289.9a0.6 0.6 0 1 0 1.2 0a0.6 0.6 0 1 0 -1.2 0M370.2 287.5a0.6 0.6 0 1 0 1.1 0a0.6 0.6 0 1 0 -1.1 0M405.6 258.7a0.4 0.4 0 1 0 0.9 0a0.4 0.4 0 1 0 -0.9 0M363.2 228.1a0.4 0.4 0 1 0 0.8 0a0.4 0.4 0 1 0 -0.8 0M387.0 297.0a0.6 0.6 0 1 0 1.1 0a0.6 0.6 0 1 0 -1.1 0M353.8 273.1a0.4 0.4 0 1 0 0.7 0a0.4 0.4 0 1 0 -0.7 0M351.9 280.8a0.5 0.5 0 1 0 0.9 0a0.5 0.5 0 1 0 -0.9 0M365.6 238.4a0.5 0.5 0 1 0 1.0 0a0.5 0.5 0 1 0 -1.0 0M401.1 279.5a0.4 0.4 0 1 0 0.9 0a0.4 0.4 0 1 0 -0.9 0M356.9 296.6a0.4 0.4 0 1 0 0.8 0a0.4 0.4 0 1 0 -0.8 0M389.4 285.9a0.6 0.6 0 1 0 1.1 0a0.6 0.6 0 1 0 -1.1 0M375.8 291.4a0.4 0.4 0 1 0 0.7 0a0.4 0.4 0 1 0 -0.7 0M403.6 293.6a0.4 0.4 0 1 0 0.9 0a0.4 0.4 0 1 0 -0.9 0M361.7 229.4a0.4 0.4 0 1 0 0.9 0a0.4 0.4 0 1 0 -0.9 0M380.4 273.1a0.4 0.4 0 1 0 0.8 0a0.4 0.4 0 1 0 -0.8 0M373.3 261.4a0.4 0.4 0 1 0 0.7 0a0.4 0.4 0 1 0 -0.7 0M369.9 226.0a0.5 0.5 0 1 0 1.0 0a0.5 0.5 0 1 0 -1.0 0M383.4 281.5a0.6 0.6 0 1 0 1.1 0a0.6 0.6 0 1 0 -1.1 0M356.2 229.2a0.6 0.6 0 1 0 1.2 0a0.6 0.6 0 1 0 -1.2 0M378.6 282.6a0.4 0.4 0 1 0 0.8 0a0.4 0.4 0 1 0 -0.8 0M352.1 278.2a0.4 0.4 0 1 0 0.7 0a0.4 0.4 0 1 0 -0.7 0M358.0 281.7a0.3 0.3 0 1 0 0.7 0a0.3 0.3 0 1 0 -0.7 0M405.0 240.4a0.4 0.4 0 1 0 0.8 0a0.4 0.4 0 1 0 -0.8 0M359.6 229.2a0.4 0.4 0 1 0 0.8 0a0.4 0.4 0 1 0 -0.8 0M406.6 224.9a0.4 0.4 0 1 0 0.9 0a0.4 0.4 0 1 0 -0.9 0M366.2 232.8a0.4 0.4 0 1 0 0.8 0a0.4 0.4 0 1 0 -0.8 0M417.2 230.1a0.6 0.6 0 1 0 1.1 0a0.6 0.6 0 1 0 -1.1 0M363.8 264.1a0.4 0.4 0 1 0 0.8 0a0.4 0.4 0 1 0 -0.8 0M398.7 246.0a0.5 0.5 0 1 0 1.1 0a0.5 0.5 0 1 0 -1.1 0M388.1 246.3a0.3 0.3 0 1 0 0.7 0a0.3 0.3 0 1 0 -0.7 0M363.1 287.7a0.6 0.6 0 1 0 1.1 0a0.6 0.6 0 1 0 -1.1 0M420.9 269.7a0.5 0.5 0 1 0 1.0 0a0.5 0.5 0 1 0 -1.0 0M370.2 270.9a0.5 0.5 0 1 0 1.1 0a0.5 0.5 0 1 0 -1.1 0M392.4 277.5a0.5 0.5 0 1 0 1.0 0a0.5 0.5 0 1 0 -1.0 0M355.3 228.0a0.6 0.6 0 1 0 1.1 0a0.6 0.6 0 1 0 -1.1 0M358.6 230.7a0.3 0.3 0 1 0 0.7 0a0.3 0.3 0 1 0 -0.7 0M362.6 254.1a0.5 0.5 0 1 0 0.9 0a0.5 0.5 0 1 0 -0.9 0M374.4 278.6a0.4 0.4 0 1 0 0.8 0a0.4 0.4 0 1 0 -0.8 0M361.6 258.8a0.6 0.6 0 1 0 1.1 0a0.6 0.6 0 1 0 -1.1 0M382.4 241.0a0.3 0.3 0 1 0 0.6 0a0.3 0.3 0 1 0 -0.6 0M354.3 295.3a0.4 0.4 0 1 0 0.7 0a0.4 0.4 0 1 0 -0.7 0M358.1 240.6a0.6 0.6 0 1 0 1.2 0a0.6 0.6 0 1 0 -1.2 0M385.9 225.8a0.4 0.4 0 1 0 0.8 0a0.4 0.4 0 1 0 -0.8 0M385.8 291.3a0.3 0.3 0 1 0 0.6 0a0.3 0.3 0 1 0 -0.6 0M406.4 239.3a0.4 0.4 0 1 0 0.9 0a0.4 0.4 0 1 0 -0.9 0M400.6 278.1a0.4 0.4 0 1 0 0.7 0a0.4 0.4 0 1 0 -0.7 0M382.8 248.9a0.5 0.5 0 1 0 0.9 0a0.5 0.5 0 1 0 -0.9 0M353.2 282.9a0.5 0.5 0 1 0 1.1 0a0.5 0.5 0 1 0 -1.1 0M376.5 244.2a0.5 0.5 0 1 0 1.0 0a0.5 0.5 0 1 0 -1.0 0M391.3 281.8a0.3 0.3 0 1 0 0.7 0a0.3 0.3 0 1 0 -0.7 0M406.3 282.6a0.3 0.3 0 1 0 0.7 0a0.3 0.3 0 1 0 -0.7 0M371.0 290.2a0.4 0.4 0 1 0 0.7 0a0.4 0.4 0 1 0 -0.7 0" fill="#e0a0d0" opacity="0.5"/>
<path d="M398.7 290.2a0.3 0.3 0 1 0 0.7 0a0.3 0.3 0 1 0 -0.7 0M352.5 239.9a0.4 0.4 0 1 0 0.8 0a0.4 0.4 0 1 0 -0.8 0M377.4 253.7a0.5 0.5 0 1 0 0.9 0a0.5 0.5 0 1 0 -0.9 0M388.7 289.6a0.4 0.4 0 1 0 0.8 0a0.4 0.4 0 1 0 -0.8 0M368.6 267.6a0.5 0.5 0 1 0 1.1 0a0.5 0.5 0 1 0 -1.1 0M422.8 265.4a0.3 0.3 0 1 0 0.7 0a0.3 0.3 0 1 0 -0.7 0M359.3 255.9a0.3 0.3 0 1 0 0.7 0a0.3 0.3 0 1 0 -0.7 0M351.6 253.7a0.4 0.4 0 1 0 0.8 0a0.4 0.4 0 1 0 -0.8 0M385.4 235.4a0.4 0.4 0 1 0 0.8 0a0.4 0.4 0 1 0 -0.8 0M387.2 259.2a0.5 0.5 0 1 0 1.0 0a0.5 0.5 0 1 0 -1.0 0M361.8 225.6a0.5 0.5 0 1 0 1.0 0a0.5 0.5 0 1 0 -1.0 0M369.4 226.8a0.3 0.3 0 1 0 0.7 0a0.3 0.3 0 1 0 -0.7 0M352.5 263.1a0.4 0.4 0 1 0 0.8 0a0.4 0.4 0 1 0 -0.8 0M403.8 244.9a0.4 0.4 0 1 0 0.9 0a0.4 0.4 0 1 0 -0.9 0M375.8 245.7a0.5 0.5 0 1 0 0.9 0a0.5 0.5 0 1 0 -0.9 0M416.1 264.1a0.3 0.3 0 1 0 0.6 0a0.3 0.3 0 1 0 -0.6 0M386.5 291.0a0.4 0.4 0 1 0 0.8 0a0.4 0.4 0 1 0 -0.8 0M400.9 276.9a0.6 0.6 0 1 0 1.1 0a0.6 0.6 0 1 0 -1.1 0M408.0 266.7a0.5 0.5 0 1 0 1.0 0a0.5 0.5 0 1 0 -1.0 0M416.0 295.5a0.5 0.5 0 1 0 0.9 0a0.5 0.5 0 1 0 -0.9 0M375.8 255.5a0.3 0.3 0 1 0 0.6 0a0.3 0.3 0 1 0 -0.6 0M410.1 287.5a0.4 0.4 0 1 0 0.9 0a0.4 0.4 0 1 0 -0.9 0M394.5 241.5a0.6 0.6 0 1 0 1.1 0a0.6 0.6 0 1 0 -1.1 0M404.2 227.8a0.3 0.3 0 1 0 0.7 0a0.3 0.3 0 1 0 -0.7 0M387.1 239.5a0.5 0.5 0 1 0 1.0 0a0.5 0.5 0 1 0 -1.0 0M411.7 271.6a0.5 0.5 0 1 0 1.1 0a0.5 0.5 0 1 0 -1.1 0M354.0 238.8a0.3 0.3 0 1 0 0.6 0a0.3 0.3 0 1 0 -0.6 0M416.1 269.5a0.4 0.4 0 1 0 0.9 0a0.4 0.4 0 1 0 -0.9 0M353.4 240.9a0.3 0.3 0 1 0 0.6 0a0.3 0.3 0 1 0 -0.6 0M351.8 228.4a0.5 0.5 0 1 0 1.1 0a0.5 0.5 0 1 0 -1.1 0M367.0 225.2a0.5 0.5 0 1 0 0.9 0a0.5 0.5 0 1 0 -0.9 0M404.2 291.1a0.4 0.4 0 1 0 0.8 0a0.4 0.4 0 1 0 -0.8 0M374.0 230.3a0.5 0.5 0 1 0 1.1 0a0.5 0.5 0 1 0 -1.1 0M408.3 225.3a0.3 0.3 0 1 0 0.6 0a0.3 0.3 0 1 0 -0.6 0M374.9 246.5a0.3 0.3 0 1 0 0.7 0a0.3 0.3 0 1 0 -0.7 0M397.1 234.5a0.5 0.5 0 1 0 1.1 0a0.5 0.5 0 1 0 -1.1 0M368.6 275.8a0.4 0.4 0 1 0 0.8 0a0.4 0.4 0 1 0 -0.8 0M374.5 225.9a0.4 0.4 0 1 0 0.8 0a0.4 0.4 0 1 0 -0.8 0M387.8 264.1a0.5 0.5 0 1 0 1.0 0a0.5 0.5 0 1 0 -1.0 0M392.0 228.4a0.3 0.3 0 1 0 0.7 0a0.3 0.3 0 1 0 -0.7 0M395.7 287.4a0.6 0.6 0 1 0 1.2 0a0.6 0.6 0 1 0 -1.2 0M382.2 295.2a0.5 0.5 0 1 0 1.0 0a0.5 0.5 0 1 0 -1.0 0M408.7 248.2a0.3 0.3 0 1 0 0.6 0a0.3 0.3 0 1 0 -0.6 0M362.6 269.2a0.3 0.3 0 1 0 0.7 0a0.3 0.3 0 1 0 -0.7 0M406.9 242.0a0.6 0.6 0 1 0 1.2 0a0.6 0.6 0 1 0 -1.2 0M391.7 255.7a0.4 0.4 0 1 0 0.7 0a0.4 0.4 0 1 0 -0.7 0M410.3 225.5a0.5 0.5 0 1 0 0.9 0a0.5 0.5 0 1 0 -0.9 0M420.8 267.9a0.6 0.6 0 1 0 1.1 0a0.6 0.6 0 1 0 -1.1 0M396.4 267.1a0.4 0.4 0 1 0 0.7 0a0.4 0.4 0 1 0 -0.7 0M407.2 254.3a0.6 0.6 0 1 0 1.1 0a0.6 0.6 0 1 0 -1.1 0M416.1 234.8a0.5 0.5 0 1 0 1.1 0a0.5 0.5 0 1 0 -1.1 0M412.1 229.5a0.4 0.4 0 1 0 0.8 0a0.4 0.4 0 1 0 -0.8 0M351.5 270.5a0.5 0.5 0 1 0 1.1 0a0.5 0.5 0 1 0 -1.1 0M357.2 274.5a0.3 0.3 0 1 0 0.6 0a0.3 0.3 0 1 0 -0.6 0M415.9 238.4a0.3 0.3 0 1 0 0.6 0a0.3 0.3 0 1 0 -0.6 0M371.4 266.8a0.5 0.5 0 1 0 1.0 0a0.5 0.5 0 1 0 -1.0 0M387.4 265.6a0.4 0.4 0 1 0 0.7 0a0.4 0.4 0 1 0 -0.7 0M378.5 249.0a0.5 0.5 0 1 0 1.1 0a0.5 0.5 0 1 0 -1.1 0M381.3 254.3a0.5 0.5 0 1 0 0.9 0a0.5 0.5 0 1 0 -0.9 0M419.9 247.1a0.5 0.5 0 1 0 1.0 0a0.5 0.5 0 1 0 -1.0 0M358.0 249.9a0.3 0.3 0 1 0 0.6 0a0.3 0.3 0 1 0 -0.6 0M361.5 260.1a0.5 0.5 0 1 0 1.0 0a0.5 0.5 0 1 0 -1.0 0M419.5 249.2a0.3 0.3 0 1 0 0.6 0a0.3 0.3 0 1 0 -0.6 0M382.3 286.2a0.5 0.5 0 1 0 0.9 0a0.5 0.5 0 1 0 -0.9 0M356.2 276.7a0.4 0.4 0 1 0 0.8 0a0.4 0.4 0 1 0 -0.8 0M357.5 296.6a0.5 0.5 0 1 0 0.9 0a0.5 0.5 0 1 0 -0.9 0M359.8 246.5a0.4 0.4 0 1 0 0.9 0a0.4 0.4 0 1 0 -0.9 0M355.4 293.0a0.4 0.4 0 1 0 0.9 0a0.4 0.4 0 1 0 -0.9 0M372.2 278.7a0.4 0.4 0 1 0 0.8 0a0.4 0.4 0 1 0 -0.8 0M351.6 293.4a0.4 0.4 0 1 0 0.8 0a0.4 0.4 0 1 0 -0.8 0M393.3 271.9a0.5 0.5 0 1 0 0.9 0a0.5 0.5 0 1 0 -0.9 0M422.3 286.7a0.4 0.4 0 1 0 0.7 0a0.4 0.4 0 1 0 -0.7 0M393.7 278.6a0.5 0.5 0 1 0 0.9 0a0.5 0.5 0 1 0 -0.9 0M359.2 257.6a0.4 0.4 0 1 0 0.9 0a0.4 0.4 0 1 0 -0.9 0M354.0 228.2a0.4 0.4 0 1 0 0.7 0a0.4 0.4 0 1 0 -0.7 0M380.0 280.7a0.3 0.3 0 1 0 0.7 0a0.3 0.3 0 1 0 -0.7 0M401.5 239.9a0.4 0.4 0 1 0 0.8 0a0.4 0.4 0 1 0 -0.8 0M370.9 230.7a0.4 0.4 0 1 0 0.7 0a0.4 0.4 0 1 0 -0.7 0M351.9 228.2a0.5 0.5 0 1 0 1.0 0a0.5 0.5 0 1 0 -1.0 0M395.7 263.4a0.4 0.4 0 1 0 0.7 0a0.4 0.4 0 1 0 -0.7 0M392.2 295.9a0.3 0.3 0 1 0 0.6 0a0.3 0.3 0 1 0 -0.6 0M354.4 261.7a0.4 0.4 0 1 0 0.9 0a0.4 0.4 0 1 0 -0.9 0M411.9 267.3a0.3 0.3 0 1 0 0.6 0a0.3 0.3 0 1 0 -0.6 0M372.7 231.0a0.4 0.4 0 1 0 0.8 0a0.4 0.4 0 1 0 -0.8 0M358.9 247.8a0.5 0.5 0 1 0 1.1 0a0.5 0.5 0 1 0 -1.1 0M394.7 289.4a0.4 0.4 0 1 0 0.8 0a0.4 0.4 0 1 0 -0.8 0M358.1 261.5a0.6 0.6 0 1 0 1.1 0a0.6 0.6 0 1 0 -1.1 0M399.2 269.2a0.4 0.4 0 1 0 0.8 0a0.4 0.4 0 1 0 -0.8 0M392.4 253.0a0.4 0.4 0 1 0 0.9 0a0.4 0.4 0 1 0 -0.9 0M380.6 242.7a0.5 0.5 0 1 0 1.0 0a0.5 0.5 0 1 0 -1.0 0M417.7 261.9a0.3 0.3 0 1 0 0.7 0a0.3 0.3 0 1 0 -0.7 0M373.8 252.7a0.4 0.4 0 1 0 0.7 0a0.4 0.4 0 1 0 -0.7 0M367.4 272.9a0.3 0.3 0 1 0 0.7 0a0.3 0.3 0 1 0 -0.7 0M401.7 229.7a0.4 0.4 0 1 0 0.7 0a0.4 0.4 0 1 0 -0.7 0M369.0 268.3a0.6 0.6 0 1 0 1.2 0a0.6 0.6 0 1 0 -1.2 0M383.6 242.9a0.4 0.4 0 1 0 0.9 0a0.4 0.4 0 1 0 -0.9 0M422.4 253.8a0.6 0.6 0 1 0 1.1 0a0.6 0.6 0 1 0 -1.1 0M419.5 228.4a0.6 0.6 0 1 0 1.2 0a0.6 0.6 0 1 0 -1.2 0M370.3 260.9a0.4 0.4 0 1 0 0.7 0a0.4 0.4 0 1 0 -0.7 0M396.2 269.1a0.5 0.5 0 1 0 1.0 0a0.5 0.5 0 1 0 -1.0 0M413.1 236.9a0.5 0.5 0 1 0 1.1 0a0.5 0.5 0 1 0 -1.1 0M408.9 287.2a0.3 0.3 0 1 0 0.7 0a0.3 0.3 0 1 0 -0.7 0M409.9 284.9a0.3 0.3 0 1 0 0.6 0a0.3 0.3 0 1 0 -0.6 0M387.6 291.7a0.4 0.4 0 1 0 0.7 0a0.4 0.4 0 1 0 -0.7 0M351.9 259.2a0.5 0.5 0 1 0 1.0 0a0.5 0.5 0 1 0 -1.0 0M358.8 262.2a0.3 0.3 0 1 0 0.6 0a0.3 0.3 0 1 0 -0.6 0M417.3 242.9a0.4 0.4 0 1 0 0.7 0a0.4 0.4 0 1 0 -0.7 0M408.5 286.5a0.4 0.4 0 1 0 0.8 0a0.4 0.4 0 1 0 -0.8 0M415.8 292.3a0.3 0.3 0 1 0 0.6 0a0.3 0.3 0 1 0 -0.6 0M386.9 274.0a0.4 0.4 0 1 0 0.9 0a0.4 0.4 0 1 0 -0.9 0M413.0 287.6a0.5 0.5 0 1 0 0.9 0a0.5 0.5 0 1 0 -0.9 0M395.8 276.2a0.3 0.3 0 1 0 0.7 0a0.3 0.3 0 1 0 -0.7 0M359.3 250.4a0.3 0.3 0 1 0 0.7 0a0.3 0.3 0 1 0 -0.7 0M368.6 227.7a0.3 0.3 0 1 0 0.7 0a0.3 0.3 0 1 0 -0.7 0M393.7 289.6a0.5 0.5 0 1 0 0.9 0a0.5 0.5 0 1 0 -0.9 0M361.1 226.3a0.5 0.5 0 1 0 1.1 0a0.5 0.5 0 1 0 -1.1 0M361.9 237.9a0.6 0.6 0 1 0 1.2 0a0.6 0.6 0 1 0 -1.2 0M400.6 281.7a0.4 0.4 0 1 0 0.9 0a0.4 0.4 0 1 0 -0.9 0M378.4 280.1a0.5 0.5 0 1 0 1.0 0a0.5 0.5 0 1 0 -1.0 0M378.1 288.9a0.5 0.5 0 1 0 1.0 0a0.5 0.5 0 1 0 -1.0 0M378.5 266.8a0.3 0.3 0 1 0 0.6 0a0.3 0.3 0 1 0 -0.6 0M401.1 268.3a0.6 0.6 0 1 0 1.2 0a0.6 0.6 0 1 0 -1.2 0M394.8 246.5a0.5 0.5 0 1 0 1.0 0a0.5 0.5 0 1 0 -1.0 0M397.5 232.6a0.4 0.4 0 1 0 0.8 0a0.4 0.4 0 1 0 -0.8 0M386.0 284.0a0.3 0.3 0 1 0 0.6 0a0.3 0.3 0 1 0 -0.6 0M419.7 229.1a0.5 0.5 0 1 0 1.0 0a0.5 0.5 0 1 0 -1.0 0M397.3 289.3a0.4 0.4 0 1 0 0.7 0a0.4 0.4 0 1 0 -0.7 0M418.5 265.9a0.6 0.6 0 1 0 1.1 0a0.6 0.6 0 1 0 -1.1 0M390.1 240.0a0.4 0.4 0 1 0 0.8 0a0.4 0.4 0 1 0 -0.8 0M401.5 287.8a0.5 0.5 0 1 0 1.0 0a0.5 0.5 0 1 0 -1.0 0M366.6 255.9a0.5 0.5 0 1 0 1.1 0a0.5 0.5 0 1 0 -1.1 0M371.6 270.7a0.6 0.6 0 1 0 1.2 0a0.6 0.6 0 1 0 -1.2 0M365.3 247.2a0.3 0.3 0 1 0 0.7 0a0.3 0.3 0 1 0 -0.7 0M391.6 261.8a0.5 0.5 0 1 0 1.1 0a0.5 0.5 0 1 0 -1.1 0M414.1 248.3a0.3 0.3 0 1 0 0.6 0a0.3 0.3 0 1 0 -0.6 0M412.6 262.1a0.5 0.5 0 1 0 1.0 0a0.5 0.5 0 1 0 -1.0 0M368.6 297.2a0.5 0.5 0 1 0 0.9 0a0.5 0.5 0 1 0 -0.9 0M359.6 225.9a0.5 0.5 0 1 0 1.0 0a0.5 0.5 0 1 0 -1.0 0M391.5 244.8a0.5 0.5 0 1 0 1.1 0a0.5 0.5 0 1 0 -1.1 0M385.2 236.2a0.5 0.5 0 1 0 1.0 0a0.5 0.5 0 1 0 -1.0 0M367.9 231.3a0.5 0.5 0 1 0 1.0 0a0.5 0.5 0 1 0 -1.0 0M366.6 274.9a0.4 0.4 0 1 0 0.7 0a0.4 0.4 0 1 0 -0.7 0M370.4 282.6a0.4 0.4 0 1 0 0.8 0a0.4 0.4 0 1 0 -0.8 0M364.6 268.0a0.5 0.5 0 1 0 0.9 0a0.5 0.5 0 1 0 -0.9 0M416.4 246.7a0.4 0.4 0 1 0 0.7 0a0.4 0.4 0 1 0 -0.7 0M420.9 288.4a0.3 0.3 0 1 0 0.6 0a0.3 0.3 0 1 0 -0.6 0M382.0 290.0a0.3 0.3 0 1 0 0.6 0a0.3 0.3 0 1 0 -0.6 0M414.2 265.0a0.5 0.5 0 1 0 1.1 0a0.5 0.5 0 1 0 -1.1 0M368.1 258.2a0.5 0.5 0 1 0 1.1 0a0.5 0.5 0 1 0 -1.1 0M408.2 287.3a0.6 0.6 0 1 0 1.2 0a0.6 0.6 0 1 0 -1.2 0M357.6 287.8a0.5 0.5 0 1 0 1.1 0a0.5 0.5 0 1 0 -1.1 0M374.8 249.6a0.5 0.5 0 1 0 1.1 0a0.5 0.5 0 1 0 -1.1 0M403.9 262.3a0.5 0.5 0 1 0 1.0 0a0.5 0.5 0 1 0 -1.0 0M360.4 288.1a0.5 0.5 0 1 0 0.9 0a0.5 0.5 0 1 0 -0.9 0M376.8 279.9a0.5 0.5 0 1 0 1.0 0a0.5 0.5 0 1 0 -1.0 0M388.3 272.3a0.5 0.5 0 1 0 1.0 0a0.5 0.5 0 1 0 -1.0 0M353.7 277.3a0.6 0.6 0 1 0 1.2 0a0.6 0.6 0 1 0 -1.2 0M367.6 231.3a0.5 0.5 0 1 0 0.9 0a0.5 0.5 0 1 0 -0.9 0M418.4 285.3a0.4 0.4 0 1 0 0.8 0a0.4 0.4 0 1 0 -0.8 0M352.5 268.9a0.4 0.4 0 1 0 0.9 0a0.4 0.4 0 1 0 -0.9 0M394.7 295.9a0.4 0.4 0 1 0 0.9 0a0.4 0.4 0 1 0 -0.9 0M364.5 283.9a0.4 0.4 0 1 0 0.8 0a0.4 0.4 0 1 0 -0.8 0M353.6 285.6a0.5 0.5 0 1 0 1.0 0a0.5 0.5 0 1 0 -1.0 0M422.8 289.4a0.3 0.3 0 1 0 0.6 0a0.3 0.3 0 1 0 -0.6 0M381.5 257.1a0.6 0.6 0 1 0 1.1 0a0.6 0.6 0 1 0 -1.1 0M365.3 227.9a0.6 0.6 0 1 0 1.2 0a0.6 0.6 0 1 0 -1.2 0M371.1 255.6a0.3 0.3 0 1 0 0.7 0a0.3 0.3 0 1 0 -0.7 0M413.7 271.3a0.3 0.3 0 1 0 0.6 0a0.3 0.3 0 1 0 -0.6 0M373.4 274.7a0.3 0.3 0 1 0 0.6 0a0.3 0.3 0 1 0 -0.6 0M366.7 294.5a0.5 0.5 0 1 0 1.1 0a0.5 0.5 0 1 0 -1.1 0M360.2 245.7a0.5 0.5 0 1 0 1.0 0a0.5 0.5 0 1 0 -1.0 0M380.2 242.6a0.5 0.5 0 1 0 1.0 0a0.5 0.5 0 1 0 -1.0 0M366.4 261.4a0.6 0.6 0 1 0 1.1 0a0.6 0.6 0 1 0 -1.1 0M359.3 291.6a0.5 0.5 0 1 0 1.0 0a0.5 0.5 0 1 0 -1.0 0M392.6 239.2a0.3 0.3 0 1 0 0.7 0a0.3 0.3 0 1 0 -0.7 0M368.6 287.6a0.6 0.6 0 1 0 1.1 0a0.6 0.6 0 1 0 -1.1 0M366.0 229.8a0.3 0.3 0 1 0 0.7 0a0.3 0.3 0 1 0 -0.7 0M390.4 287.1a0.6 0.6 0 1 0 1.2 0a0.6 0.6 0 1 0 -1.2 0M356.4 261.1a0.4 0.4 0 1 0 0.7 0a0.4 0.4 0 1 0 -0.7 0M397.4 296.4a0.5 0.5 0 1 0 1.0 0a0.5 0.5 0 1 0 -1.0 0M415.2 282.0a0.4 0.4 0 1 0 0.8 0a0.4 0.4 0 1 0 -0.8 0M365.8 253.7a0.5 0.5 0 1 0 1.0 0a0.5 0.5 0 1 0 -1.0 0M358.5 292.9a0.4 0.4 0 1 0 0.9 0a0.4 0.4 0 1 0 -0.9 0M412.1 289.8a0.4 0.4 0 1 0 0.8 0a0.4 0.4 0 1 0 -0.8 0M417.1 226.9a0.6 0.6 0 1 0 1.1 0a0.6 0.6 0 1 0 -1.1 0M362.2 256.2a0.4 0.4 0 1 0 0.7 0a0.4 0.4 0 1 0 -0.7 0M359.4 245.4a0.4 0.4 0 1 0 0.9 0a0.4 0.4 0 1 0 -0.9 0M390.9 224.4a0.6 0.6 0 1 0 1.1 0a0.6 0.6 0 1 0 -1.1 0M383.3 271.8a0.4 0.4 0 1 0 0.8 0a0.4 0.4 0 1 0 -0.8 0M397.6 260.2a0.4 0.4 0 1 0 0.8 0a0.4 0.4 0 1 0 -0.8 0M397.6 296.3a0.5 0.5 0 1 0 1.0 0a0.5 0.5 0 1 0 -1.0 0M419.7 233.0a0.5 0.5 0 1 0 1.0 0a0.5 0.5 0 1 0 -1.0 0M363.8 288.0a0.6 0.6 0 1 0 1.2 0a0.6 0.6 0 1 0 -1.2 0M392.5 250.9a0.5 0.5 0 1 0 0.9 0a0.5 0.5 0 1 0 -0.9 0M420.9 239.4a0.4 0.4 0 1 0 0.9 0a0.4 0.4 0 1 0 -0.9 0M357.4 262.0a0.4 0.4 0 1 0 0.7 0a0.4 0.4 0 1 0 -0.7 0M373.6 238.0a0.5 0.5 0 1 0 1.0 0a0.5 0.5 0 1 0 -1.0 0M379.6 249.6a0.6 0.6 0 1 0 1.1 0a0.6 0.6 0 1 0 -1.1 0M392.9 253.3a0.4 0.4 0 1 0 0.8 0a0.4 0.4 0 1 0 -0.8 0M402.8 262.3a0.3 0.3 0 1 0 0.6 0a0.3 0.3 0 1 0 -0.6 0M394.4 293.8a0.4 0.4 0 1 0 0.9 0a0.4 0.4 0 1 0 -0.9 0M423.6 228.6a0.4 0.4 0 1 0 0.9 0a0.4 0.4 0 1 0 -0.9 0M421.7 263.7a0.6 0.6 0 1 0 1.1 0a0.6 0.6 0 1 0 -1.1 0M395.8 278.3a0.4 0.4 0 1 0 0.9 0a0.4 0.4 0 1 0 -0.9 0M387.8 289.7a0.4 0.4 0 1 0 0.8 0a0.4 0.4 0 1 0 -0.8 0M405.1 244.4a0.5 0.5 0 1 0 1.0 0a0.5 0.5 0 1 0 -1.0 0M420.2 266.6a0.6 0.6 0 1 0 1.1 0a0.6 0.6 0 1 0 -1.1 0M353.4 229.4a0.5 0.5 0 1 0 1.0 0a0.5 0.5 0 1 0 -1.0 0M410.9 224.9a0.3 0.3 0 1 0 0.7 0a0.3 0.3 0 1 0 -0.7 0M404.6 282.5a0.6 0.6 0 1 0 1.1 0a0.6 0.6 0 1 0 -1.1 0M423.9 261.7a0.3 0.3 0 1 0 0.6 0a0.3 0.3 0 1 0 -0.6 0M359.1 266.8a0.4 0.4 0 1 0 0.9 0a0.4 0.4 0 1 0 -0.9 0M352.4 270.3a0.4 0.4 0 1 0 0.8 0a0.4 0.4 0 1 0 -0.8 0M388.1 236.2a0.5 0.5 0 1 0 1.1 0a0.5 0.5 0 1 0 -1.1 0M363.7 226.3a0.3 0.3 0 1 0 0.6 0a0.3 0.3 0 1 0 -0.6 0M417.3 286.7a0.5 0.5 0 1 0 0.9 0a0.5 0.5 0 1 0 -0.9 0M417.5 295.4a0.5 0.5 0 1 0 1.0 0a0.5 0.5 0 1 0 -1.0 0M420.1 236.3a0.4 0.4 0 1 0 0.9 0a0.4 0.4 0 1 0 -0.9 0M379.4 243.9a0.4 0.4 0 1 0 0.8 0a0.4 0.4 0 1 0 -0.8 0M423.7 236.7a0.4 0.4 0 1 0 0.7 0a0.4 0.4 0 1 0 -0.7 0M383.4 273.1a0.5 0.5 0 1 0 0.9 0a0.5 0.5 0 1 0 -0.9 0M366.2 289.5a0.6 0.6 0 1 0 1.2 0a0.6 0.6 0 1 0 -1.2 0M361.4 245.3a0.5 0.5 0 1 0 1.0 0a0.5 0.5 0 1 0 -1.0 0M367.3 228.1a0.6 0.6 0 1 0 1.2 0a0.6 0.6 0 1 0 -1.2 0M359.6 232.3a0.4 0.4 0 1 0 0.9 0a0.4 0.4 0 1 0 -0.9 0M419.6 266.0a0.4 0.4 0 1 0 0.7 0a0.4 0.4 0 1 0 -0.7 0M402.3 287.6a0.5 0.5 0 1 0 1.0 0a0.5 0.5 0 1 0 -1.0 0M361.8 257.8a0.3 0.3 0 1 0 0.7 0a0.3 0.3 0 1 0 -0.7 0M362.1 261.4a0.4 0.4 0 1 0 0.9 0a0.4 0.4 0 1 0 -0.9 0M368.5 260.9a0.4 0.4 0 1 0 0.9 0a0.4 0.4 0 1 0 -0.9 0M392.5 273.1a0.4 0.4 0 1 0 0.8 0a0.4 0.4 0 1 0 -0.8 0M386.9 271.0a0.5 0.5 0 1 0 1.0 0a0.5 0.5 0 1 0 -1.0 0M355.4 250.4a0.5 0.5 0 1 0 1.0 0a0.5 0.5 0 1 0 -1.0 0M420.6 226.4a0.6 0.6 0 1 0 1.2 0a0.6 0.6 0 1 0 -1.2 0M354.0 286.7a0.4 0.4 0 1 0 0.7 0a0.4 0.4 0 1 0 -0.7 0M357.0 272.0a0.4 0.4 0 1 0 0.9 0a0.4 0.4 0 1 0 -0.9 0M378.4 239.2a0.4 0.4 0 1 0 0.9 0a0.4 0.4 0 1 0 -0.9 0M405.4 253.6a0.6 0.6 0 1 0 1.1 0a0.6 0.6 0 1 0 -1.1 0M403.4 250.6a0.5 0.5 0 1 0 1.0 0a0.5 0.5 0 1 0 -1.0 0M406.6 263.9a0.3 0.3 0 1 0 0.7 0a0.3 0.3 0 1 0 -0.7 0M377.7 278.2a0.5 0.5 0 1 0 0.9 0a0.5 0.5 0 1 0 -0.9 0M382.3 279.8a0.6 0.6 0 1 0 1.1 0a0.6 0.6 0 1 0 -1.1 0M397.8 269.2a0.5 0.5 0 1 0 1.0 0a0.5 0.5 0 1 0 -1.0 0M379.4 248.1a0.6 0.6 0 1 0 1.1 0a0.6 0.6 0 1 0 -1.1 0M377.7 296.8a0.5 0.5 0 1 0 0.9 0a0.5 0.5 0 1 0 -0.9 0M396.1 243.8a0.3 0.3 0 1 0 0.7 0a0.3 0.3 0 1 0 -0.7 0M392.3 286.5a0.5 0.5 0 1 0 1.1 0a0.5 0.5 0 1 0 -1.1 0M402.0 284.0a0.5 0.5 0 1 0 0.9 0a0.5 0.5 0 1 0 -0.9 0M377.5 258.8a0.6 0.6 0 1 0 1.2 0a0.6 0.6 0 1 0 -1.2 0M410.0 229.5a0.3 0.3 0 1 0 0.6 0a0.3 0.3 0 1 0 -0.6 0M363.2 230.1a0.4 0.4 0 1 0 0.8 0a0.4 0.4 0 1 0 -0.8 0M357.3 246.3a0.3 0.3 0 1 0 0.7 0a0.3 0.3 0 1 0 -0.7 0M415.0 241.7a0.4 0.4 0 1 0 0.8 0a0.4 0.4 0 1 0 -0.8 0M380.9 266.8a0.5 0.5 0 1 0 0.9 0a0.5 0.5 0 1 0 -0.9 0M375.3 243.3a0.4 0.4 0 1 0 0.8 0a0.4 0.4 0 1 0 -0.8 0M409.3 264.4a0.5 0.5 0 1 0 1.0 0a0.5 0.5 0 1 0 -1.0 0M394.9 243.9a0.4 0.4 0 1 0 0.8 0a0.4 0.4 0 1 0 -0.8 0M367.2 273.0a0.3 0.3 0 1 0 0.6 0a0.3 0.3 0 1 0 -0.6 0M366.5 283.5a0.4 0.4 0 1 0 0.9 0a0.4 0.4 0 1 0 -0.9 0M417.7 295.1a0.5 0.5 0 1 0 1.1 0a0.5 0.5 0 1 0 -1.1 0M376.0 231.3a0.4 0.4 0 1 0 0.7 0a0.4 0.4 0 1 0 -0.7 0M362.9 256.2a0.6 0.6 0 1 0 1.2 0a0.6 0.6 0 1 0 -1.2 0M376.1 226.7a0.5 0.5 0 1 0 1.0 0a0.5 0.5 0 1 0 -1.0 0M395.7 248.3a0.3 0.3 0 1 0 0.7 0a0.3 0.3 0 1 0 -0.7 0M357.2 281.7a0.5 0.5 0 1 0 0.9 0a0.5 0.5 0 1 0 -0.9 0M400.2 297.5a0.3 0.3 0 1 0 0.6 0a0.3 0.3 0 1 0 -0.6 0M381.6 238.6a0.4 0.4 0 1 0 0.9 0a0.4 0.4 0 1 0 -0.9 0M419.3 233.0a0.3 0.3 0 1 0 0.7 0a0.3 0.3 0 1 0 -0.7 0M362.4 297.5a0.5 0.5 0 1 0 1.0 0a0.5 0.5 0 1 0 -1.0 0M373.0 292.6a0.6 0.6 0 1 0 1.1 0a0.6 0.6 0 1 0 -1.1 0M401.8 240.5a0.5 0.5 0 1 0 1.0 0a0.5 0.5 0 1 0 -1.0 0M376.4 276.4a0.6 0.6 0 1 0 1.1 0a0.6 0.6 0 1 0 -1.1 0M381.2 291.3a0.4 0.4 0 1 0 0.8 0a0.4 0.4 0 1 0 -0.8 0M370.0 234.4a0.5 0.5 0 1 0 1.0 0a0.5 0.5 0 1 0 -1.0 0M389.3 260.8a0.5 0.5 0 1 0 1.0 0a0.5 0.5 0 1 0 -1.0 0M354.4 247.6a0.5 0.5 0 1 0 1.0 0a0.5 0.5 0 1 0 -1.0 0M394.0 296.6a0.4 0.4 0 1 0 0.8 0a0.4 0.4 0 1 0 -0.8 0M402.2 290.3a0.6 0.6 0 1 0 1.2 0a0.6 0.6 0 1 0 -1.2 0M396.3 231.6a0.5 0.5 0 1 0 0.9 0a0.5 0.5 0 1 0 -0.9 0M353.9 254.3a0.3 0.3 0 1 0 0.7 0a0.3 0.3 0 1 0 -0.7 0M381.8 253.8a0.5 0.5 0 1 0 0.9 0a0.5 0.5 0 1 0 -0.9 0M388.7 264.3a0.3 0.3 0 1 0 0.6 0a0.3 0.3 0 1 0 -0.6 0M392.3 274.9a0.6 0.6 0 1 0 1.1 0a0.6 0.6 0 1 0 -1.1 0M366.1 290.6a0.4 0.4 0 1 0 0.8 0a0.4 0.4 0 1 0 -0.8 0M378.2 231.7a0.4 0.4 0 1 0 0.9 0a0.4 0.4 0 1 0 -0.9 0M402.7 243.0a0.3 0.3 0 1 0 0.6 0a0.3 0.3 0 1 0 -0.6 0M396.5 272.8a0.5 0.5 0 1 0 1.1 0a0.5 0.5 0 1 0 -1.1 0M373.0 290.8a0.5 0.5 0 1 0 1.1 0a0.5 0.5 0 1 0 -1.1 0M362.8 259.4a0.4 0.4 0 1 0 0.9 0a0.4 0.4 0 1 0 -0.9 0M366.9 235.0a0.4 0.4 0 1 0 0.7 0a0.4 0.4 0 1 0 -0.7 0M423.3 258.4a0.4 0.4 0 1 0 0.8 0a0.4 0.4 0 1 0 -0.8 0M420.8 242.5a0.5 0.5 0 1 0 0.9 0a0.5 0.5 0 1 0 -0.9 0M399.8 242.1a0.6 0.6 0 1 0 1.1 0a0.6 0.6 0 1 0 -1.1 0M414.5 240.4a0.4 0.4 0 1 0 0.8 0a0.4 0.4 0 1 0 -0.8 0M410.4 283.4a0.6 0.6 0 1 0 1.2 0a0.6 0.6 0 1 0 -1.2 0M409.7 272.3a0.4 0.4 0 1 0 0.8 0a0.4 0.4 0 1 0 -0.8 0M362.7 276.1a0.5 0.5 0 1 0 1.0 0a0.5 0.5 0 1 0 -1.0 0M422.7 236.9a0.6 0.6 0 1 0 1.2 0a0.6 0.6 0 1 0 -1.2 0M418.8 271.2a0.6 0.6 0 1 0 1.1 0a0.6 0.6 0 1 0 -1.1 0M354.4 295.1a0.6 0.6 0 1 0 1.2 0a0.6 0.6 0 1 0 -1.2 0M401.2 232.8a0.3 0.3 0 1 0 0.6 0a0.3 0.3 0 1 0 -0.6 0M393.1 256.6a0.5 0.5 0 1 0 1.1 0a0.5 0.5 0 1 0 -1.1 0M417.1 261.3a0.4 0.4 0 1 0 0.8 0a0.4 0.4 0 1 0 -0.8 0M369.4 226.3a0.4 0.4 0 1 0 0.9 0a0.4 0.4 0 1 0 -0.9 0M379.1 287.7a0.4 0.4 0 1 0 0.7 0a0.4 0.4 0 1 0 -0.7 0M398.6 242.0a0.4 0.4 0 1 0 0.7 0a0.4 0.4 0 1 0 -0.7 0M371.3 252.6a0.6 0.6 0 1 0 1.2 0a0.6 0.6 0 1 0 -1.2 0M359.7 249.2a0.6 0.6 0 1 0 1.2 0a0.6 0.6 0 1 0 -1.2 0M404.9 257.2a0.5 0.5 0 1 0 1.0 0a0.5 0.5 0 1 0 -1.0 0M378.9 257.1a0.5 0.5 0 1 0 0.9 0a0.5 0.5 0 1 0 -0.9 0M401.6 275.0a0.4 0.4 0 1 0 0.8 0a0.4 0.4 0 1 0 -0.8 0M353.8 274.5a0.4 0.4 0 1 0 0.8 0a0.4 0.4 0 1 0 -0.8 0M386.9 242.0a0.4 0.4 0 1 0 0.9 0a0.4 0.4 0 1 0 -0.9 0M388.6 258.8a0.6 0.6 0 1 0 1.2 0a0.6 0.6 0 1 0 -1.2 0M416.9 262.9a0.5 0.5 0 1 0 1.1 0a0.5 0.5 0 1 0 -1.1 0M411.9 273.3a0.6 0.6 0 1 0 1.2 0a0.6 0.6 0 1 0 -1.2 0M358.9 228.1a0.6 0.6 0 1 0 1.1 0a0.6 0.6 0 1 0 -1.1 0M417.3 276.5a0.5 0.5 0 1 0 1.1 0a0.5 0.5 0 1 0 -1.1 0M387.1 234.8a0.3 0.3 0 1 0 0.7 0a0.3 0.3 0 1 0 -0.7 0M419.8 261.5a0.5 0.5 0 1 0 1.0 0a0.5 0.5 0 1 0 -1.0 0M408.1 282.6a0.4 0.4 0 1 0 0.8 0a0.4 0.4 0 1 0 -0.8 0M395.9 244.7a0.5 0.5 0 1 0 1.1 0a0.5 0.5 0 1 0 -1.1 0M365.1 263.6a0.4 0.4 0 1 0 0.9 0a0.4 0.4 0 1 0 -0.9 0M353.8 280.4a0.4 0.4 0 1 0 0.8 0a0.4 0.4 0 1 0 -0.8 0M376.6 295.9a0.5 0.5 0 1 0 1.0 0a0.5 0.5 0 1 0 -1.0 0M395.8 229.3a0.4 0.4 0 1 0 0.8 0a0.4 0.4 0 1 0 -0.8 0M412.5 272.9a0.5 0.5 0 1 0 1.1 0a0.5 0.5 0 1 0 -1.1 0M423.2 228.1a0.6 0.6 0 1 0 1.2 0a0.6 0.6 0 1 0 -1.2 0M351.8 249.2a0.5 0.5 0 1 0 1.1 0a0.5 0.5 0 1 0 -1.1 0M379.4 233.9a0.4 0.4 0 1 0 0.9 0a0.4 0.4 0 1 0 -0.9 0M406.0 283.3a0.5 0.5 0 1 0 1.0 0a0.5 0.5 0 1 0 -1.0 0M366.2 275.1a0.3 0.3 0 1 0 0.6 0a0.3 0.3 0 1 0 -0.6 0M365.4 266.3a0.3 0.3 0 1 0 0.7 0a0.3 0.3 0 1 0 -0.7 0M401.4 247.0a0.6 0.6 0 1 0 1.1 0a0.6 0.6 0 1 0 -1.1 0M399.8 292.3a0.5 0.5 0 1 0 1.0 0a0.5 0.5 0 1 0 -1.0 0M385.4 243.3a0.6 0.6 0 1 0 1.1 0a0.6 0.6 0 1 0 -1.1 0M393.8 229.4a0.5 0.5 0 1 0 1.0 0a0.5 0.5 0 1 0 -1.0 0M403.0 292.9a0.4 0.4 0 1 0 0.8 0a0.4 0.4 0 1 0 -0.8 0M414.5 234.3a0.4 0.4 0 1 0 0.9 0a0.4 0.4 0 1 0 -0.9 0M409.2 265.5a0.4 0.4 0 1 0 0.9 0a0.4 0.4 0 1 0 -0.9 0M353.6 264.7a0.4 0.4 0 1 0 0.8 0a0.4 0.4 0 1 0 -0.8 0M374.1 260.1a0.5 0.5 0 1 0 1.0 0a0.5 0.5 0 1 0 -1.0 0M355.7 268.1a0.4 0.4 0 1 0 0.9 0a0.4 0.4 0 1 0 -0.9 0M368.3 295.8a0.4 0.4 0 1 0 0.9 0a0.4 0.4 0 1 0 -0.9 0M375.7 273.6a0.5 0.5 0 1 0 1.0 0a0.5 0.5 0 1 0 -1.0 0M363.5 234.6a0.6 0.6 0 1 0 1.1 0a0.6 0.6 0 1 0 -1.1 0M371.4 283.3a0.4 0.4 0 1 0 0.9 0a0.4 0.4 0 1 0 -0.9 0M395.7 275.6a0.6 0.6 0 1 0 1.2 0a0.6 0.6 0 1 0 -1.2 0M359.3 237.2a0.4 0.4 0 1 0 0.8 0a0.4 0.4 0 1 0 -0.8 0M373.2 252.5a0.3 0.3 0 1 0 0.6 0a0.3 0.3 0 1 0 -0.6 0M371.0 266.7a0.4 0.4 0 1 0 0.8 0a0.4 0.4 0 1 0 -0.8 0M417.9 280.9a0.5 0.5 0 1 0 1.0 0a0.5 0.5 0 1 0 -1.0 0M371.8 283.1a0.6 0.6 0 1 0 1.2 0a0.6 0.6 0 1 0 -1.2 0M414.5 269.9a0.6 0.6 0 1 0 1.1 0a0.6 0.6 0 1 0 -1.1 0M414.7 263.2a0.4 0.4 0 1 0 0.8 0a0.4 0.4 0 1 0 -0.8 0M392.2 277.3a0.4 0.4 0 1 0 0.8 0a0.4 0.4 0 1 0 -0.8 0M406.4 294.7a0.5 0.5 0 1 0 1.0 0a0.5 0.5 0 1 0 -1.0 0M381.4 264.7a0.4 0.4 0 1 0 0.8 0a0.4 0.4 0 1 0 -0.8 0M393.3 234.2a0.5 0.5 0 1 0 1.0 0a0.5 0.5 0 1 0 -1.0 0M402.6 270.7a0.5 0.5 0 1 0 1.0 0a0.5 0.5 0 1 0 -1.0 0M395.1 271.5a0.5 0.5 0 1 0 0.9 0a0.5 0.5 0 1 0 -0.9 0M389.9 224.1a0.5 0.5 0 1 0 1.0 0a0.5 0.5 0 1 0 -1.0 0M400.9 231.1a0.5 0.5 0 1 0 0.9 0a0.5 0.5 0 1 0 -0.9 0M407.9 248.9a0.5 0.5 0 1 0 0.9 0a0.5 0.5 0 1 0 -0.9 0M399.9 295.6a0.5 0.5 0 1 0 1.0 0a0.5 0.5 0 1 0 -1.0 0M396.7 228.0a0.5 0.5 0 1 0 1.1 0a0.5 0.5 0 1 0 -1.1 0M369.2 283.5a0.3 0.3 0 1 0 0.7 0a0.3 0.3 0 1 0 -0.7 0" fill="#6e4498" opacity="0.5"/>
<path d="M363.1 282.6a0.3 0.3 0 1 0 0.7 0a0.3 0.3 0 1 0 -0.7 0M387.1 261.8a0.5 0.5 0 1 0 0.9 0a0.5 0.5 0 1 0 -0.9 0M394.2 226.4a0.4 0.4 0 1 0 0.8 0a0.4 0.4 0 1 0 -0.8 0M375.2 244.0a0.4 0.4 0 1 0 0.8 0a0.4 0.4 0 1 0 -0.8 0M400.1 254.6a0.5 0.5 0 1 0 1.0 0a0.5 0.5 0 1 0 -1.0 0M389.0 292.8a0.4 0.4 0 1 0 0.8 0a0.4 0.4 0 1 0 -0.8 0M359.5 295.1a0.4 0.4 0 1 0 0.9 0a0.4 0.4 0 1 0 -0.9 0M354.1 258.1a0.4 0.4 0 1 0 0.8 0a0.4 0.4 0 1 0 -0.8 0M391.4 246.1a0.4 0.4 0 1 0 0.8 0a0.4 0.4 0 1 0 -0.8 0M417.6 234.4a0.4 0.4 0 1 0 0.9 0a0.4 0.4 0 1 0 -0.9 0M395.9 254.4a0.3 0.3 0 1 0 0.7 0a0.3 0.3 0 1 0 -0.7 0M392.8 273.8a0.4 0.4 0 1 0 0.8 0a0.4 0.4 0 1 0 -0.8 0M393.0 226.5a0.6 0.6 0 1 0 1.1 0a0.6 0.6 0 1 0 -1.1 0M421.4 231.8a0.5 0.5 0 1 0 0.9 0a0.5 0.5 0 1 0 -0.9 0M377.2 241.2a0.4 0.4 0 1 0 0.8 0a0.4 0.4 0 1 0 -0.8 0M421.4 250.6a0.3 0.3 0 1 0 0.6 0a0.3 0.3 0 1 0 -0.6 0M363.7 226.3a0.6 0.6 0 1 0 1.1 0a0.6 0.6 0 1 0 -1.1 0M357.7 247.0a0.3 0.3 0 1 0 0.7 0a0.3 0.3 0 1 0 -0.7 0M356.7 280.5a0.4 0.4 0 1 0 0.8 0a0.4 0.4 0 1 0 -0.8 0M411.5 256.0a0.4 0.4 0 1 0 0.8 0a0.4 0.4 0 1 0 -0.8 0M419.3 263.1a0.6 0.6 0 1 0 1.2 0a0.6 0.6 0 1 0 -1.2 0M355.4 295.9a0.3 0.3 0 1 0 0.6 0a0.3 0.3 0 1 0 -0.6 0M367.2 244.3a0.4 0.4 0 1 0 0.7 0a0.4 0.4 0 1 0 -0.7 0M409.7 251.6a0.3 0.3 0 1 0 0.6 0a0.3 0.3 0 1 0 -0.6 0M377.7 267.6a0.5 0.5 0 1 0 1.0 0a0.5 0.5 0 1 0 -1.0 0M416.4 241.5a0.6 0.6 0 1 0 1.2 0a0.6 0.6 0 1 0 -1.2 0M392.8 270.0a0.5 0.5 0 1 0 1.0 0a0.5 0.5 0 1 0 -1.0 0M404.3 254.6a0.4 0.4 0 1 0 0.9 0a0.4 0.4 0 1 0 -0.9 0M362.3 245.7a0.5 0.5 0 1 0 0.9 0a0.5 0.5 0 1 0 -0.9 0M388.3 227.8a0.4 0.4 0 1 0 0.8 0a0.4 0.4 0 1 0 -0.8 0M378.6 281.0a0.3 0.3 0 1 0 0.7 0a0.3 0.3 0 1 0 -0.7 0M399.0 292.0a0.4 0.4 0 1 0 0.8 0a0.4 0.4 0 1 0 -0.8 0M357.0 256.9a0.5 0.5 0 1 0 1.0 0a0.5 0.5 0 1 0 -1.0 0M396.4 231.1a0.5 0.5 0 1 0 0.9 0a0.5 0.5 0 1 0 -0.9 0M392.3 224.6a0.3 0.3 0 1 0 0.6 0a0.3 0.3 0 1 0 -0.6 0M387.5 288.0a0.3 0.3 0 1 0 0.6 0a0.3 0.3 0 1 0 -0.6 0M356.3 257.8a0.5 0.5 0 1 0 1.0 0a0.5 0.5 0 1 0 -1.0 0M372.2 279.5a0.4 0.4 0 1 0 0.7 0a0.4 0.4 0 1 0 -0.7 0M385.0 229.2a0.4 0.4 0 1 0 0.9 0a0.4 0.4 0 1 0 -0.9 0M380.9 276.2a0.3 0.3 0 1 0 0.7 0a0.3 0.3 0 1 0 -0.7 0M363.4 275.3a0.3 0.3 0 1 0 0.7 0a0.3 0.3 0 1 0 -0.7 0M415.6 270.1a0.5 0.5 0 1 0 1.0 0a0.5 0.5 0 1 0 -1.0 0M393.3 259.3a0.6 0.6 0 1 0 1.1 0a0.6 0.6 0 1 0 -1.1 0M407.6 285.5a0.3 0.3 0 1 0 0.6 0a0.3 0.3 0 1 0 -0.6 0M393.8 240.3a0.3 0.3 0 1 0 0.7 0a0.3 0.3 0 1 0 -0.7 0M407.1 269.8a0.6 0.6 0 1 0 1.1 0a0.6 0.6 0 1 0 -1.1 0M421.8 275.2a0.4 0.4 0 1 0 0.7 0a0.4 0.4 0 1 0 -0.7 0M362.2 294.6a0.4 0.4 0 1 0 0.8 0a0.4 0.4 0 1 0 -0.8 0M410.7 270.1a0.4 0.4 0 1 0 0.7 0a0.4 0.4 0 1 0 -0.7 0M373.0 284.0a0.3 0.3 0 1 0 0.6 0a0.3 0.3 0 1 0 -0.6 0M373.5 255.1a0.5 0.5 0 1 0 1.0 0a0.5 0.5 0 1 0 -1.0 0M411.2 260.9a0.4 0.4 0 1 0 0.8 0a0.4 0.4 0 1 0 -0.8 0M373.6 250.8a0.5 0.5 0 1 0 1.0 0a0.5 0.5 0 1 0 -1.0 0M363.1 248.3a0.5 0.5 0 1 0 1.0 0a0.5 0.5 0 1 0 -1.0 0M354.8 260.7a0.4 0.4 0 1 0 0.8 0a0.4 0.4 0 1 0 -0.8 0M413.2 277.6a0.5 0.5 0 1 0 1.0 0a0.5 0.5 0 1 0 -1.0 0M374.4 270.6a0.6 0.6 0 1 0 1.1 0a0.6 0.6 0 1 0 -1.1 0M373.0 234.9a0.3 0.3 0 1 0 0.6 0a0.3 0.3 0 1 0 -0.6 0M368.0 239.0a0.5 0.5 0 1 0 1.0 0a0.5 0.5 0 1 0 -1.0 0M408.5 251.8a0.6 0.6 0 1 0 1.1 0a0.6 0.6 0 1 0 -1.1 0M395.5 248.7a0.4 0.4 0 1 0 0.7 0a0.4 0.4 0 1 0 -0.7 0M357.2 249.8a0.5 0.5 0 1 0 1.0 0a0.5 0.5 0 1 0 -1.0 0M406.2 240.6a0.4 0.4 0 1 0 0.9 0a0.4 0.4 0 1 0 -0.9 0M416.2 247.7a0.5 0.5 0 1 0 1.1 0a0.5 0.5 0 1 0 -1.1 0M410.3 241.7a0.5 0.5 0 1 0 1.0 0a0.5 0.5 0 1 0 -1.0 0M359.1 265.0a0.4 0.4 0 1 0 0.8 0a0.4 0.4 0 1 0 -0.8 0M382.3 224.1a0.4 0.4 0 1 0 0.8 0a0.4 0.4 0 1 0 -0.8 0M417.2 234.9a0.6 0.6 0 1 0 1.2 0a0.6 0.6 0 1 0 -1.2 0M414.3 244.4a0.4 0.4 0 1 0 0.9 0a0.4 0.4 0 1 0 -0.9 0M359.4 266.8a0.5 0.5 0 1 0 1.0 0a0.5 0.5 0 1 0 -1.0 0M386.6 229.0a0.3 0.3 0 1 0 0.7 0a0.3 0.3 0 1 0 -0.7 0M366.8 241.2a0.3 0.3 0 1 0 0.6 0a0.3 0.3 0 1 0 -0.6 0M383.2 282.2a0.6 0.6 0 1 0 1.2 0a0.6 0.6 0 1 0 -1.2 0M416.9 225.8a0.5 0.5 0 1 0 1.1 0a0.5 0.5 0 1 0 -1.1 0M401.4 289.4a0.3 0.3 0 1 0 0.7 0a0.3 0.3 0 1 0 -0.7 0M367.5 296.7a0.4 0.4 0 1 0 0.7 0a0.4 0.4 0 1 0 -0.7 0M393.6 268.0a0.6 0.6 0 1 0 1.2 0a0.6 0.6 0 1 0 -1.2 0M393.1 232.9a0.6 0.6 0 1 0 1.2 0a0.6 0.6 0 1 0 -1.2 0M408.8 270.2a0.4 0.4 0 1 0 0.7 0a0.4 0.4 0 1 0 -0.7 0M357.1 278.9a0.3 0.3 0 1 0 0.7 0a0.3 0.3 0 1 0 -0.7 0M373.4 240.9a0.5 0.5 0 1 0 0.9 0a0.5 0.5 0 1 0 -0.9 0M415.2 238.1a0.5 0.5 0 1 0 1.1 0a0.5 0.5 0 1 0 -1.1 0M360.6 274.2a0.3 0.3 0 1 0 0.6 0a0.3 0.3 0 1 0 -0.6 0M383.2 285.4a0.4 0.4 0 1 0 0.8 0a0.4 0.4 0 1 0 -0.8 0M381.5 283.4a0.4 0.4 0 1 0 0.8 0a0.4 0.4 0 1 0 -0.8 0M364.2 283.3a0.3 0.3 0 1 0 0.6 0a0.3 0.3 0 1 0 -0.6 0M404.8 266.4a0.4 0.4 0 1 0 0.8 0a0.4 0.4 0 1 0 -0.8 0M379.9 228.7a0.5 0.5 0 1 0 1.0 0a0.5 0.5 0 1 0 -1.0 0M416.7 267.9a0.4 0.4 0 1 0 0.8 0a0.4 0.4 0 1 0 -0.8 0M384.3 241.5a0.4 0.4 0 1 0 0.7 0a0.4 0.4 0 1 0 -0.7 0M413.1 295.0a0.5 0.5 0 1 0 1.0 0a0.5 0.5 0 1 0 -1.0 0M353.6 286.1a0.4 0.4 0 1 0 0.8 0a0.4 0.4 0 1 0 -0.8 0M367.7 230.1a0.5 0.5 0 1 0 0.9 0a0.5 0.5 0 1 0 -0.9 0M379.8 237.3a0.5 0.5 0 1 0 1.1 0a0.5 0.5 0 1 0 -1.1 0M413.6 291.6a0.4 0.4 0 1 0 0.7 0a0.4 0.4 0 1 0 -0.7 0M400.4 296.4a0.4 0.4 0 1 0 0.8 0a0.4 0.4 0 1 0 -0.8 0M376.0 253.0a0.4 0.4 0 1 0 0.7 0a0.4 0.4 0 1 0 -0.7 0M366.0 234.1a0.5 0.5 0 1 0 1.0 0a0.5 0.5 0 1 0 -1.0 0M389.6 226.3a0.5 0.5 0 1 0 1.0 0a0.5 0.5 0 1 0 -1.0 0M392.2 267.0a0.3 0.3 0 1 0 0.6 0a0.3 0.3 0 1 0 -0.6 0M367.2 227.2a0.4 0.4 0 1 0 0.7 0a0.4 0.4 0 1 0 -0.7 0M381.9 232.8a0.4 0.4 0 1 0 0.9 0a0.4 0.4 0 1 0 -0.9 0M388.6 242.8a0.4 0.4 0 1 0 0.9 0a0.4 0.4 0 1 0 -0.9 0M396.0 295.7a0.5 0.5 0 1 0 1.0 0a0.5 0.5 0 1 0 -1.0 0M386.7 226.3a0.4 0.4 0 1 0 0.8 0a0.4 0.4 0 1 0 -0.8 0M379.2 229.9a0.4 0.4 0 1 0 0.9 0a0.4 0.4 0 1 0 -0.9 0M386.7 289.0a0.3 0.3 0 1 0 0.7 0a0.3 0.3 0 1 0 -0.7 0M391.1 267.7a0.3 0.3 0 1 0 0.7 0a0.3 0.3 0 1 0 -0.7 0M373.5 289.8a0.6 0.6 0 1 0 1.2 0a0.6 0.6 0 1 0 -1.2 0M377.1 250.4a0.5 0.5 0 1 0 1.1 0a0.5 0.5 0 1 0 -1.1 0M381.1 233.5a0.4 0.4 0 1 0 0.8 0a0.4 0.4 0 1 0 -0.8 0M404.2 264.7a0.5 0.5 0 1 0 1.0 0a0.5 0.5 0 1 0 -1.0 0M388.5 236.9a0.6 0.6 0 1 0 1.2 0a0.6 0.6 0 1 0 -1.2 0M371.7 297.0a0.4 0.4 0 1 0 0.9 0a0.4 0.4 0 1 0 -0.9 0M377.3 258.4a0.5 0.5 0 1 0 1.0 0a0.5 0.5 0 1 0 -1.0 0M366.1 233.1a0.3 0.3 0 1 0 0.7 0a0.3 0.3 0 1 0 -0.7 0M400.9 283.6a0.4 0.4 0 1 0 0.9 0a0.4 0.4 0 1 0 -0.9 0M415.0 240.7a0.5 0.5 0 1 0 0.9 0a0.5 0.5 0 1 0 -0.9 0M370.6 297.3a0.4 0.4 0 1 0 0.7 0a0.4 0.4 0 1 0 -0.7 0M385.6 278.7a0.3 0.3 0 1 0 0.7 0a0.3 0.3 0 1 0 -0.7 0M365.1 277.6a0.6 0.6 0 1 0 1.2 0a0.6 0.6 0 1 0 -1.2 0M423.5 293.3a0.5 0.5 0 1 0 1.1 0a0.5 0.5 0 1 0 -1.1 0M416.4 278.1a0.3 0.3 0 1 0 0.6 0a0.3 0.3 0 1 0 -0.6 0M408.1 265.6a0.6 0.6 0 1 0 1.1 0a0.6 0.6 0 1 0 -1.1 0M385.4 243.0a0.4 0.4 0 1 0 0.9 0a0.4 0.4 0 1 0 -0.9 0M359.8 249.3a0.3 0.3 0 1 0 0.6 0a0.3 0.3 0 1 0 -0.6 0M394.3 245.5a0.4 0.4 0 1 0 0.8 0a0.4 0.4 0 1 0 -0.8 0M417.4 286.5a0.3 0.3 0 1 0 0.7 0a0.3 0.3 0 1 0 -0.7 0M404.6 270.1a0.5 0.5 0 1 0 0.9 0a0.5 0.5 0 1 0 -0.9 0M368.5 268.6a0.4 0.4 0 1 0 0.9 0a0.4 0.4 0 1 0 -0.9 0M408.4 281.5a0.4 0.4 0 1 0 0.8 0a0.4 0.4 0 1 0 -0.8 0M403.4 232.0a0.5 0.5 0 1 0 0.9 0a0.5 0.5 0 1 0 -0.9 0M392.7 274.0a0.4 0.4 0 1 0 0.7 0a0.4 0.4 0 1 0 -0.7 0M354.2 295.7a0.4 0.4 0 1 0 0.8 0a0.4 0.4 0 1 0 -0.8 0M358.5 296.5a0.5 0.5 0 1 0 1.0 0a0.5 0.5 0 1 0 -1.0 0M392.6 270.2a0.5 0.5 0 1 0 1.1 0a0.5 0.5 0 1 0 -1.1 0M422.8 294.0a0.3 0.3 0 1 0 0.7 0a0.3 0.3 0 1 0 -0.7 0M423.8 244.2a0.6 0.6 0 1 0 1.1 0a0.6 0.6 0 1 0 -1.1 0M370.1 295.7a0.4 0.4 0 1 0 0.9 0a0.4 0.4 0 1 0 -0.9 0M377.6 250.7a0.3 0.3 0 1 0 0.7 0a0.3 0.3 0 1 0 -0.7 0M405.1 288.4a0.4 0.4 0 1 0 0.8 0a0.4 0.4 0 1 0 -0.8 0M368.5 248.9a0.5 0.5 0 1 0 1.0 0a0.5 0.5 0 1 0 -1.0 0M358.4 256.6a0.6 0.6 0 1 0 1.1 0a0.6 0.6 0 1 0 -1.1 0M422.8 284.6a0.5 0.5 0 1 0 0.9 0a0.5 0.5 0 1 0 -0.9 0M361.1 263.0a0.4 0.4 0 1 0 0.8 0a0.4 0.4 0 1 0 -0.8 0M406.3 232.9a0.4 0.4 0 1 0 0.7 0a0.4 0.4 0 1 0 -0.7 0M361.4 247.4a0.4 0.4 0 1 0 0.8 0a0.4 0.4 0 1 0 -0.8 0M387.8 269.0a0.5 0.5 0 1 0 0.9 0a0.5 0.5 0 1 0 -0.9 0M375.1 236.7a0.4 0.4 0 1 0 0.7 0a0.4 0.4 0 1 0 -0.7 0M362.1 241.6a0.4 0.4 0 1 0 0.9 0a0.4 0.4 0 1 0 -0.9 0M389.4 224.7a0.6 0.6 0 1 0 1.2 0a0.6 0.6 0 1 0 -1.2 0M361.2 245.6a0.5 0.5 0 1 0 1.0 0a0.5 0.5 0 1 0 -1.0 0M353.3 230.0a0.5 0.5 0 1 0 1.0 0a0.5 0.5 0 1 0 -1.0 0M379.8 226.0a0.5 0.5 0 1 0 0.9 0a0.5 0.5 0 1 0 -0.9 0M396.6 286.2a0.3 0.3 0 1 0 0.6 0a0.3 0.3 0 1 0 -0.6 0M391.4 290.8a0.5 0.5 0 1 0 0.9 0a0.5 0.5 0 1 0 -0.9 0M415.0 247.9a0.3 0.3 0 1 0 0.7 0a0.3 0.3 0 1 0 -0.7 0M414.3 263.8a0.6 0.6 0 1 0 1.1 0a0.6 0.6 0 1 0 -1.1 0M401.3 276.3a0.4 0.4 0 1 0 0.8 0a0.4 0.4 0 1 0 -0.8 0M419.0 292.9a0.4 0.4 0 1 0 0.8 0a0.4 0.4 0 1 0 -0.8 0M362.0 291.8a0.4 0.4 0 1 0 0.8 0a0.4 0.4 0 1 0 -0.8 0M390.2 243.6a0.5 0.5 0 1 0 1.1 0a0.5 0.5 0 1 0 -1.1 0M389.3 229.6a0.4 0.4 0 1 0 0.9 0a0.4 0.4 0 1 0 -0.9 0M376.4 273.9a0.5 0.5 0 1 0 1.0 0a0.5 0.5 0 1 0 -1.0 0M409.9 283.1a0.5 0.5 0 1 0 1.0 0a0.5 0.5 0 1 0 -1.0 0M369.5 245.2a0.5 0.5 0 1 0 1.1 0a0.5 0.5 0 1 0 -1.1 0M395.4 290.1a0.5 0.5 0 1 0 1.0 0a0.5 0.5 0 1 0 -1.0 0M384.0 260.0a0.5 0.5 0 1 0 1.0 0a0.5 0.5 0 1 0 -1.0 0M405.7 267.9a0.4 0.4 0 1 0 0.8 0a0.4 0.4 0 1 0 -0.8 0M363.5 251.5a0.4 0.4 0 1 0 0.7 0a0.4 0.4 0 1 0 -0.7 0M410.3 292.1a0.5 0.5 0 1 0 1.1 0a0.5 0.5 0 1 0 -1.1 0M377.5 224.6a0.6 0.6 0 1 0 1.2 0a0.6 0.6 0 1 0 -1.2 0M374.0 296.8a0.5 0.5 0 1 0 1.0 0a0.5 0.5 0 1 0 -1.0 0M388.3 229.8a0.6 0.6 0 1 0 1.2 0a0.6 0.6 0 1 0 -1.2 0M415.7 289.7a0.5 0.5 0 1 0 0.9 0a0.5 0.5 0 1 0 -0.9 0M412.5 284.0a0.3 0.3 0 1 0 0.7 0a0.3 0.3 0 1 0 -0.7 0M402.0 254.9a0.4 0.4 0 1 0 0.8 0a0.4 0.4 0 1 0 -0.8 0M380.0 278.4a0.5 0.5 0 1 0 1.1 0a0.5 0.5 0 1 0 -1.1 0M414.2 297.0a0.3 0.3 0 1 0 0.7 0a0.3 0.3 0 1 0 -0.7 0M386.5 279.1a0.3 0.3 0 1 0 0.6 0a0.3 0.3 0 1 0 -0.6 0M409.7 283.4a0.4 0.4 0 1 0 0.9 0a0.4 0.4 0 1 0 -0.9 0M392.5 292.1a0.5 0.5 0 1 0 1.0 0a0.5 0.5 0 1 0 -1.0 0M412.1 253.9a0.4 0.4 0 1 0 0.8 0a0.4 0.4 0 1 0 -0.8 0M389.2 270.5a0.5 0.5 0 1 0 0.9 0a0.5 0.5 0 1 0 -0.9 0M416.4 267.8a0.3 0.3 0 1 0 0.6 0a0.3 0.3 0 1 0 -0.6 0M423.5 225.0a0.5 0.5 0 1 0 1.0 0a0.5 0.5 0 1 0 -1.0 0M384.5 280.5a0.4 0.4 0 1 0 0.8 0a0.4 0.4 0 1 0 -0.8 0M423.8 253.5a0.6 0.6 0 1 0 1.2 0a0.6 0.6 0 1 0 -1.2 0M422.5 290.0a0.6 0.6 0 1 0 1.2 0a0.6 0.6 0 1 0 -1.2 0M395.3 226.1a0.6 0.6 0 1 0 1.2 0a0.6 0.6 0 1 0 -1.2 0M388.3 252.8a0.4 0.4 0 1 0 0.7 0a0.4 0.4 0 1 0 -0.7 0M416.4 244.1a0.4 0.4 0 1 0 0.9 0a0.4 0.4 0 1 0 -0.9 0M358.5 270.6a0.5 0.5 0 1 0 1.0 0a0.5 0.5 0 1 0 -1.0 0M371.6 227.6a0.5 0.5 0 1 0 1.0 0a0.5 0.5 0 1 0 -1.0 0M354.3 265.5a0.4 0.4 0 1 0 0.8 0a0.4 0.4 0 1 0 -0.8 0M404.9 233.7a0.5 0.5 0 1 0 0.9 0a0.5 0.5 0 1 0 -0.9 0M367.9 247.1a0.4 0.4 0 1 0 0.9 0a0.4 0.4 0 1 0 -0.9 0M370.2 263.3a0.5 0.5 0 1 0 1.0 0a0.5 0.5 0 1 0 -1.0 0M415.5 274.4a0.6 0.6 0 1 0 1.2 0a0.6 0.6 0 1 0 -1.2 0M356.5 225.3a0.5 0.5 0 1 0 1.1 0a0.5 0.5 0 1 0 -1.1 0M379.6 233.3a0.3 0.3 0 1 0 0.6 0a0.3 0.3 0 1 0 -0.6 0M383.0 268.6a0.5 0.5 0 1 0 1.0 0a0.5 0.5 0 1 0 -1.0 0M411.5 225.9a0.4 0.4 0 1 0 0.7 0a0.4 0.4 0 1 0 -0.7 0M386.3 259.5a0.3 0.3 0 1 0 0.7 0a0.3 0.3 0 1 0 -0.7 0M403.5 253.7a0.5 0.5 0 1 0 0.9 0a0.5 0.5 0 1 0 -0.9 0M369.2 262.6a0.5 0.5 0 1 0 0.9 0a0.5 0.5 0 1 0 -0.9 0M385.3 272.2a0.3 0.3 0 1 0 0.7 0a0.3 0.3 0 1 0 -0.7 0M387.2 279.3a0.3 0.3 0 1 0 0.6 0a0.3 0.3 0 1 0 -0.6 0M413.6 253.4a0.3 0.3 0 1 0 0.7 0a0.3 0.3 0 1 0 -0.7 0M401.1 244.5a0.4 0.4 0 1 0 0.8 0a0.4 0.4 0 1 0 -0.8 0M355.1 243.1a0.4 0.4 0 1 0 0.8 0a0.4 0.4 0 1 0 -0.8 0M397.5 225.9a0.4 0.4 0 1 0 0.8 0a0.4 0.4 0 1 0 -0.8 0M414.6 249.3a0.6 0.6 0 1 0 1.2 0a0.6 0.6 0 1 0 -1.2 0M404.0 297.0a0.6 0.6 0 1 0 1.1 0a0.6 0.6 0 1 0 -1.1 0M405.6 284.9a0.6 0.6 0 1 0 1.1 0a0.6 0.6 0 1 0 -1.1 0M393.4 285.3a0.6 0.6 0 1 0 1.1 0a0.6 0.6 0 1 0 -1.1 0M366.9 242.3a0.4 0.4 0 1 0 0.9 0a0.4 0.4 0 1 0 -0.9 0M392.9 229.5a0.4 0.4 0 1 0 0.7 0a0.4 0.4 0 1 0 -0.7 0M410.1 240.5a0.4 0.4 0 1 0 0.8 0a0.4 0.4 0 1 0 -0.8 0M360.4 255.9a0.5 0.5 0 1 0 0.9 0a0.5 0.5 0 1 0 -0.9 0M406.0 266.7a0.5 0.5 0 1 0 0.9 0a0.5 0.5 0 1 0 -0.9 0M410.4 250.2a0.6 0.6 0 1 0 1.2 0a0.6 0.6 0 1 0 -1.2 0M406.9 278.4a0.3 0.3 0 1 0 0.6 0a0.3 0.3 0 1 0 -0.6 0M412.3 295.4a0.5 0.5 0 1 0 0.9 0a0.5 0.5 0 1 0 -0.9 0M413.5 224.2a0.5 0.5 0 1 0 0.9 0a0.5 0.5 0 1 0 -0.9 0M421.1 232.4a0.5 0.5 0 1 0 0.9 0a0.5 0.5 0 1 0 -0.9 0M360.9 293.6a0.4 0.4 0 1 0 0.9 0a0.4 0.4 0 1 0 -0.9 0M387.8 246.4a0.6 0.6 0 1 0 1.1 0a0.6 0.6 0 1 0 -1.1 0M386.0 279.5a0.5 0.5 0 1 0 0.9 0a0.5 0.5 0 1 0 -0.9 0M400.7 248.8a0.3 0.3 0 1 0 0.7 0a0.3 0.3 0 1 0 -0.7 0M420.9 261.6a0.5 0.5 0 1 0 1.0 0a0.5 0.5 0 1 0 -1.0 0M406.6 252.4a0.6 0.6 0 1 0 1.2 0a0.6 0.6 0 1 0 -1.2 0M366.6 264.3a0.4 0.4 0 1 0 0.8 0a0.4 0.4 0 1 0 -0.8 0M387.9 249.4a0.5 0.5 0 1 0 0.9 0a0.5 0.5 0 1 0 -0.9 0M418.6 241.8a0.3 0.3 0 1 0 0.6 0a0.3 0.3 0 1 0 -0.6 0M393.7 227.6a0.5 0.5 0 1 0 1.0 0a0.5 0.5 0 1 0 -1.0 0M412.8 259.0a0.5 0.5 0 1 0 0.9 0a0.5 0.5 0 1 0 -0.9 0M384.6 256.3a0.5 0.5 0 1 0 1.1 0a0.5 0.5 0 1 0 -1.1 0M385.3 228.7a0.5 0.5 0 1 0 1.1 0a0.5 0.5 0 1 0 -1.1 0M412.9 234.4a0.4 0.4 0 1 0 0.7 0a0.4 0.4 0 1 0 -0.7 0M410.5 269.2a0.6 0.6 0 1 0 1.2 0a0.6 0.6 0 1 0 -1.2 0M383.8 263.7a0.3 0.3 0 1 0 0.7 0a0.3 0.3 0 1 0 -0.7 0M381.6 271.8a0.5 0.5 0 1 0 1.1 0a0.5 0.5 0 1 0 -1.1 0M418.8 246.7a0.6 0.6 0 1 0 1.1 0a0.6 0.6 0 1 0 -1.1 0M367.2 286.7a0.5 0.5 0 1 0 0.9 0a0.5 0.5 0 1 0 -0.9 0M403.4 263.5a0.4 0.4 0 1 0 0.8 0a0.4 0.4 0 1 0 -0.8 0M358.1 261.7a0.3 0.3 0 1 0 0.6 0a0.3 0.3 0 1 0 -0.6 0M361.5 274.7a0.3 0.3 0 1 0 0.7 0a0.3 0.3 0 1 0 -0.7 0M370.9 237.8a0.3 0.3 0 1 0 0.7 0a0.3 0.3 0 1 0 -0.7 0M384.6 263.9a0.6 0.6 0 1 0 1.1 0a0.6 0.6 0 1 0 -1.1 0M387.3 275.5a0.3 0.3 0 1 0 0.6 0a0.3 0.3 0 1 0 -0.6 0M382.7 242.2a0.6 0.6 0 1 0 1.1 0a0.6 0.6 0 1 0 -1.1 0M367.5 229.3a0.6 0.6 0 1 0 1.1 0a0.6 0.6 0 1 0 -1.1 0M421.0 275.8a0.5 0.5 0 1 0 1.0 0a0.5 0.5 0 1 0 -1.0 0M401.4 271.1a0.4 0.4 0 1 0 0.8 0a0.4 0.4 0 1 0 -0.8 0M367.5 278.1a0.4 0.4 0 1 0 0.9 0a0.4 0.4 0 1 0 -0.9 0M405.5 232.3a0.4 0.4 0 1 0 0.8 0a0.4 0.4 0 1 0 -0.8 0M362.4 236.9a0.5 0.5 0 1 0 1.1 0a0.5 0.5 0 1 0 -1.1 0M387.1 238.7a0.5 0.5 0 1 0 0.9 0a0.5 0.5 0 1 0 -0.9 0M372.3 276.5a0.4 0.4 0 1 0 0.7 0a0.4 0.4 0 1 0 -0.7 0M361.6 233.1a0.6 0.6 0 1 0 1.1 0a0.6 0.6 0 1 0 -1.1 0M353.1 278.9a0.6 0.6 0 1 0 1.1 0a0.6 0.6 0 1 0 -1.1 0M352.6 238.9a0.5 0.5 0 1 0 0.9 0a0.5 0.5 0 1 0 -0.9 0M385.9 294.8a0.6 0.6 0 1 0 1.1 0a0.6 0.6 0 1 0 -1.1 0M417.5 262.8a0.4 0.4 0 1 0 0.9 0a0.4 0.4 0 1 0 -0.9 0M395.5 261.4a0.4 0.4 0 1 0 0.8 0a0.4 0.4 0 1 0 -0.8 0M413.2 276.7a0.4 0.4 0 1 0 0.7 0a0.4 0.4 0 1 0 -0.7 0M375.1 293.6a0.4 0.4 0 1 0 0.7 0a0.4 0.4 0 1 0 -0.7 0M401.4 279.5a0.5 0.5 0 1 0 1.1 0a0.5 0.5 0 1 0 -1.1 0M407.1 274.3a0.5 0.5 0 1 0 0.9 0a0.5 0.5 0 1 0 -0.9 0M372.8 242.7a0.4 0.4 0 1 0 0.7 0a0.4 0.4 0 1 0 -0.7 0M377.1 292.8a0.4 0.4 0 1 0 0.8 0a0.4 0.4 0 1 0 -0.8 0M392.5 291.1a0.5 0.5 0 1 0 1.1 0a0.5 0.5 0 1 0 -1.1 0M403.6 226.6a0.4 0.4 0 1 0 0.7 0a0.4 0.4 0 1 0 -0.7 0M369.9 275.1a0.3 0.3 0 1 0 0.7 0a0.3 0.3 0 1 0 -0.7 0M356.0 225.9a0.5 0.5 0 1 0 1.1 0a0.5 0.5 0 1 0 -1.1 0M386.6 245.4a0.5 0.5 0 1 0 1.0 0a0.5 0.5 0 1 0 -1.0 0M392.7 248.2a0.6 0.6 0 1 0 1.1 0a0.6 0.6 0 1 0 -1.1 0M414.4 285.2a0.3 0.3 0 1 0 0.6 0a0.3 0.3 0 1 0 -0.6 0M410.0 233.3a0.5 0.5 0 1 0 0.9 0a0.5 0.5 0 1 0 -0.9 0M381.4 243.3a0.4 0.4 0 1 0 0.8 0a0.4 0.4 0 1 0 -0.8 0M416.0 265.8a0.5 0.5 0 1 0 0.9 0a0.5 0.5 0 1 0 -0.9 0M356.3 244.4a0.5 0.5 0 1 0 1.0 0a0.5 0.5 0 1 0 -1.0 0M412.2 288.8a0.5 0.5 0 1 0 1.1 0a0.5 0.5 0 1 0 -1.1 0M366.4 237.4a0.5 0.5 0 1 0 1.1 0a0.5 0.5 0 1 0 -1.1 0M397.2 226.0a0.5 0.5 0 1 0 1.0 0a0.5 0.5 0 1 0 -1.0 0M378.1 250.9a0.5 0.5 0 1 0 1.0 0a0.5 0.5 0 1 0 -1.0 0M376.7 232.8a0.6 0.6 0 1 0 1.1 0a0.6 0.6 0 1 0 -1.1 0M375.9 273.1a0.5 0.5 0 1 0 1.0 0a0.5 0.5 0 1 0 -1.0 0M370.4 248.8a0.4 0.4 0 1 0 0.8 0a0.4 0.4 0 1 0 -0.8 0M370.1 224.8a0.3 0.3 0 1 0 0.6 0a0.3 0.3 0 1 0 -0.6 0M368.7 247.1a0.4 0.4 0 1 0 0.8 0a0.4 0.4 0 1 0 -0.8 0M409.3 227.3a0.4 0.4 0 1 0 0.9 0a0.4 0.4 0 1 0 -0.9 0M372.9 278.2a0.6 0.6 0 1 0 1.2 0a0.6 0.6 0 1 0 -1.2 0M408.3 250.7a0.4 0.4 0 1 0 0.8 0a0.4 0.4 0 1 0 -0.8 0M357.1 296.7a0.3 0.3 0 1 0 0.6 0a0.3 0.3 0 1 0 -0.6 0M406.6 277.3a0.4 0.4 0 1 0 0.8 0a0.4 0.4 0 1 0 -0.8 0M402.9 285.2a0.5 0.5 0 1 0 1.0 0a0.5 0.5 0 1 0 -1.0 0M379.9 248.8a0.5 0.5 0 1 0 1.0 0a0.5 0.5 0 1 0 -1.0 0M361.0 255.6a0.4 0.4 0 1 0 0.7 0a0.4 0.4 0 1 0 -0.7 0M362.6 224.8a0.5 0.5 0 1 0 1.0 0a0.5 0.5 0 1 0 -1.0 0M375.0 269.5a0.5 0.5 0 1 0 1.0 0a0.5 0.5 0 1 0 -1.0 0M376.8 280.7a0.5 0.5 0 1 0 0.9 0a0.5 0.5 0 1 0 -0.9 0M363.9 262.0a0.6 0.6 0 1 0 1.2 0a0.6 0.6 0 1 0 -1.2 0M388.4 246.2a0.4 0.4 0 1 0 0.7 0a0.4 0.4 0 1 0 -0.7 0M356.9 227.9a0.5 0.5 0 1 0 0.9 0a0.5 0.5 0 1 0 -0.9 0M384.0 282.0a0.4 0.4 0 1 0 0.9 0a0.4 0.4 0 1 0 -0.9 0M364.4 256.7a0.4 0.4 0 1 0 0.7 0a0.4 0.4 0 1 0 -0.7 0M361.3 237.7a0.6 0.6 0 1 0 1.2 0a0.6 0.6 0 1 0 -1.2 0M385.3 293.8a0.6 0.6 0 1 0 1.2 0a0.6 0.6 0 1 0 -1.2 0M356.6 291.5a0.5 0.5 0 1 0 1.0 0a0.5 0.5 0 1 0 -1.0 0M383.0 287.8a0.3 0.3 0 1 0 0.6 0a0.3 0.3 0 1 0 -0.6 0M377.8 260.4a0.3 0.3 0 1 0 0.7 0a0.3 0.3 0 1 0 -0.7 0M377.4 281.9a0.5 0.5 0 1 0 1.1 0a0.5 0.5 0 1 0 -1.1 0M405.7 234.3a0.4 0.4 0 1 0 0.9 0a0.4 0.4 0 1 0 -0.9 0M418.8 284.9a0.6 0.6 0 1 0 1.1 0a0.6 0.6 0 1 0 -1.1 0M357.1 233.4a0.5 0.5 0 1 0 0.9 0a0.5 0.5 0 1 0 -0.9 0M387.3 260.1a0.5 0.5 0 1 0 0.9 0a0.5 0.5 0 1 0 -0.9 0M405.3 286.8a0.4 0.4 0 1 0 0.9 0a0.4 0.4 0 1 0 -0.9 0" fill="#d08cc4" opacity="0.5"/>
<path d="M383.6 233.6a0.6 0.6 0 1 0 1.2 0a0.6 0.6 0 1 0 -1.2 0M378.2 266.5a0.3 0.3 0 1 0 0.6 0a0.3 0.3 0 1 0 -0.6 0M402.7 269.8a0.6 0.6 0 1 0 1.2 0a0.6 0.6 0 1 0 -1.2 0M401.6 297.3a0.3 0.3 0 1 0 0.7 0a0.3 0.3 0 1 0 -0.7 0M357.2 268.1a0.6 0.6 0 1 0 1.2 0a0.6 0.6 0 1 0 -1.2 0M397.0 260.7a0.4 0.4 0 1 0 0.8 0a0.4 0.4 0 1 0 -0.8 0M407.6 270.8a0.5 0.5 0 1 0 1.0 0a0.5 0.5 0 1 0 -1.0 0M367.3 274.4a0.5 0.5 0 1 0 1.0 0a0.5 0.5 0 1 0 -1.0 0M414.3 274.6a0.5 0.5 0 1 0 0.9 0a0.5 0.5 0 1 0 -0.9 0M405.3 246.0a0.4 0.4 0 1 0 0.8 0a0.4 0.4 0 1 0 -0.8 0M389.0 287.5a0.6 0.6 0 1 0 1.1 0a0.6 0.6 0 1 0 -1.1 0M354.1 242.5a0.4 0.4 0 1 0 0.9 0a0.4 0.4 0 1 0 -0.9 0M371.0 230.2a0.3 0.3 0 1 0 0.6 0a0.3 0.3 0 1 0 -0.6 0M380.5 269.8a0.3 0.3 0 1 0 0.6 0a0.3 0.3 0 1 0 -0.6 0M364.4 276.4a0.5 0.5 0 1 0 1.0 0a0.5 0.5 0 1 0 -1.0 0M367.2 237.2a0.3 0.3 0 1 0 0.6 0a0.3 0.3 0 1 0 -0.6 0M384.9 238.0a0.5 0.5 0 1 0 1.0 0a0.5 0.5 0 1 0 -1.0 0M416.6 260.0a0.6 0.6 0 1 0 1.2 0a0.6 0.6 0 1 0 -1.2 0M401.0 271.3a0.4 0.4 0 1 0 0.9 0a0.4 0.4 0 1 0 -0.9 0M369.2 228.4a0.5 0.5 0 1 0 1.0 0a0.5 0.5 0 1 0 -1.0 0M402.4 282.5a0.6 0.6 0 1 0 1.1 0a0.6 0.6 0 1 0 -1.1 0M376.8 242.2a0.6 0.6 0 1 0 1.2 0a0.6 0.6 0 1 0 -1.2 0M387.1 226.7a0.4 0.4 0 1 0 0.7 0a0.4 0.4 0 1 0 -0.7 0M386.1 258.5a0.5 0.5 0 1 0 0.9 0a0.5 0.5 0 1 0 -0.9 0M395.3 269.6a0.5 0.5 0 1 0 1.1 0a0.5 0.5 0 1 0 -1.1 0M395.4 265.3a0.4 0.4 0 1 0 0.9 0a0.4 0.4 0 1 0 -0.9 0M409.2 229.6a0.6 0.6 0 1 0 1.2 0a0.6 0.6 0 1 0 -1.2 0M397.5 280.3a0.4 0.4 0 1 0 0.7 0a0.4 0.4 0 1 0 -0.7 0M394.8 241.9a0.4 0.4 0 1 0 0.9 0a0.4 0.4 0 1 0 -0.9 0M395.5 295.0a0.4 0.4 0 1 0 0.7 0a0.4 0.4 0 1 0 -0.7 0M416.2 269.2a0.5 0.5 0 1 0 1.1 0a0.5 0.5 0 1 0 -1.1 0M416.3 264.3a0.5 0.5 0 1 0 0.9 0a0.5 0.5 0 1 0 -0.9 0M372.5 260.6a0.5 0.5 0 1 0 1.0 0a0.5 0.5 0 1 0 -1.0 0M393.3 245.7a0.4 0.4 0 1 0 0.8 0a0.4 0.4 0 1 0 -0.8 0M371.2 276.9a0.3 0.3 0 1 0 0.7 0a0.3 0.3 0 1 0 -0.7 0M422.2 256.5a0.4 0.4 0 1 0 0.9 0a0.4 0.4 0 1 0 -0.9 0M357.0 250.8a0.5 0.5 0 1 0 1.0 0a0.5 0.5 0 1 0 -1.0 0M421.7 234.2a0.3 0.3 0 1 0 0.6 0a0.3 0.3 0 1 0 -0.6 0M388.0 268.8a0.5 0.5 0 1 0 1.1 0a0.5 0.5 0 1 0 -1.1 0M407.8 265.0a0.4 0.4 0 1 0 0.9 0a0.4 0.4 0 1 0 -0.9 0M378.6 254.0a0.4 0.4 0 1 0 0.9 0a0.4 0.4 0 1 0 -0.9 0M408.4 278.4a0.4 0.4 0 1 0 0.8 0a0.4 0.4 0 1 0 -0.8 0M395.7 240.2a0.6 0.6 0 1 0 1.2 0a0.6 0.6 0 1 0 -1.2 0M402.7 276.8a0.5 0.5 0 1 0 1.0 0a0.5 0.5 0 1 0 -1.0 0M397.0 271.1a0.6 0.6 0 1 0 1.2 0a0.6 0.6 0 1 0 -1.2 0M356.1 246.1a0.4 0.4 0 1 0 0.7 0a0.4 0.4 0 1 0 -0.7 0M408.8 289.9a0.5 0.5 0 1 0 0.9 0a0.5 0.5 0 1 0 -0.9 0M419.2 293.5a0.4 0.4 0 1 0 0.9 0a0.4 0.4 0 1 0 -0.9 0M363.8 242.0a0.5 0.5 0 1 0 1.0 0a0.5 0.5 0 1 0 -1.0 0M366.1 275.1a0.5 0.5 0 1 0 1.0 0a0.5 0.5 0 1 0 -1.0 0M372.4 238.2a0.6 0.6 0 1 0 1.2 0a0.6 0.6 0 1 0 -1.2 0M404.2 289.5a0.5 0.5 0 1 0 0.9 0a0.5 0.5 0 1 0 -0.9 0M378.3 230.5a0.4 0.4 0 1 0 0.7 0a0.4 0.4 0 1 0 -0.7 0M362.4 255.2a0.3 0.3 0 1 0 0.7 0a0.3 0.3 0 1 0 -0.7 0M400.6 233.0a0.5 0.5 0 1 0 0.9 0a0.5 0.5 0 1 0 -0.9 0M406.9 288.0a0.5 0.5 0 1 0 1.0 0a0.5 0.5 0 1 0 -1.0 0M375.3 274.4a0.4 0.4 0 1 0 0.9 0a0.4 0.4 0 1 0 -0.9 0M360.5 228.6a0.4 0.4 0 1 0 0.8 0a0.4 0.4 0 1 0 -0.8 0M354.4 231.9a0.5 0.5 0 1 0 1.1 0a0.5 0.5 0 1 0 -1.1 0M378.2 281.6a0.6 0.6 0 1 0 1.2 0a0.6 0.6 0 1 0 -1.2 0M401.6 288.3a0.5 0.5 0 1 0 1.0 0a0.5 0.5 0 1 0 -1.0 0M375.8 249.5a0.6 0.6 0 1 0 1.1 0a0.6 0.6 0 1 0 -1.1 0M408.7 240.2a0.4 0.4 0 1 0 0.9 0a0.4 0.4 0 1 0 -0.9 0M374.2 242.1a0.3 0.3 0 1 0 0.6 0a0.3 0.3 0 1 0 -0.6 0M354.1 243.0a0.4 0.4 0 1 0 0.9 0a0.4 0.4 0 1 0 -0.9 0M365.9 290.9a0.5 0.5 0 1 0 0.9 0a0.5 0.5 0 1 0 -0.9 0M376.6 258.9a0.5 0.5 0 1 0 0.9 0a0.5 0.5 0 1 0 -0.9 0M392.2 238.2a0.3 0.3 0 1 0 0.7 0a0.3 0.3 0 1 0 -0.7 0M374.8 276.5a0.6 0.6 0 1 0 1.2 0a0.6 0.6 0 1 0 -1.2 0M402.2 273.9a0.3 0.3 0 1 0 0.7 0a0.3 0.3 0 1 0 -0.7 0M383.6 237.4a0.3 0.3 0 1 0 0.7 0a0.3 0.3 0 1 0 -0.7 0M370.4 250.7a0.3 0.3 0 1 0 0.6 0a0.3 0.3 0 1 0 -0.6 0M389.6 243.7a0.3 0.3 0 1 0 0.7 0a0.3 0.3 0 1 0 -0.7 0M403.4 278.2a0.5 0.5 0 1 0 1.1 0a0.5 0.5 0 1 0 -1.1 0M353.6 232.8a0.4 0.4 0 1 0 0.8 0a0.4 0.4 0 1 0 -0.8 0M415.9 292.8a0.5 0.5 0 1 0 1.0 0a0.5 0.5 0 1 0 -1.0 0M412.2 292.7a0.5 0.5 0 1 0 1.0 0a0.5 0.5 0 1 0 -1.0 0M394.6 279.2a0.6 0.6 0 1 0 1.2 0a0.6 0.6 0 1 0 -1.2 0M365.6 254.6a0.3 0.3 0 1 0 0.7 0a0.3 0.3 0 1 0 -0.7 0M402.7 266.2a0.5 0.5 0 1 0 1.0 0a0.5 0.5 0 1 0 -1.0 0M368.5 281.7a0.5 0.5 0 1 0 1.1 0a0.5 0.5 0 1 0 -1.1 0M402.9 260.4a0.6 0.6 0 1 0 1.1 0a0.6 0.6 0 1 0 -1.1 0M378.0 271.8a0.6 0.6 0 1 0 1.1 0a0.6 0.6 0 1 0 -1.1 0M385.9 293.0a0.6 0.6 0 1 0 1.2 0a0.6 0.6 0 1 0 -1.2 0M381.4 229.8a0.4 0.4 0 1 0 0.8 0a0.4 0.4 0 1 0 -0.8 0M374.7 233.2a0.5 0.5 0 1 0 1.0 0a0.5 0.5 0 1 0 -1.0 0M366.3 270.3a0.3 0.3 0 1 0 0.6 0a0.3 0.3 0 1 0 -0.6 0M356.1 225.5a0.4 0.4 0 1 0 0.8 0a0.4 0.4 0 1 0 -0.8 0M411.1 258.8a0.6 0.6 0 1 0 1.1 0a0.6 0.6 0 1 0 -1.1 0M390.5 241.3a0.4 0.4 0 1 0 0.9 0a0.4 0.4 0 1 0 -0.9 0M402.5 251.6a0.3 0.3 0 1 0 0.7 0a0.3 0.3 0 1 0 -0.7 0M360.5 267.4a0.5 0.5 0 1 0 1.0 0a0.5 0.5 0 1 0 -1.0 0M421.9 290.7a0.6 0.6 0 1 0 1.2 0a0.6 0.6 0 1 0 -1.2 0M402.6 252.5a0.5 0.5 0 1 0 1.1 0a0.5 0.5 0 1 0 -1.1 0M383.1 282.7a0.5 0.5 0 1 0 1.0 0a0.5 0.5 0 1 0 -1.0 0M387.6 238.4a0.4 0.4 0 1 0 0.9 0a0.4 0.4 0 1 0 -0.9 0M383.6 224.6a0.3 0.3 0 1 0 0.7 0a0.3 0.3 0 1 0 -0.7 0M383.6 275.8a0.3 0.3 0 1 0 0.7 0a0.3 0.3 0 1 0 -0.7 0M403.1 292.7a0.3 0.3 0 1 0 0.7 0a0.3 0.3 0 1 0 -0.7 0M422.6 265.6a0.4 0.4 0 1 0 0.7 0a0.4 0.4 0 1 0 -0.7 0M395.2 246.0a0.6 0.6 0 1 0 1.1 0a0.6 0.6 0 1 0 -1.1 0M362.5 282.4a0.4 0.4 0 1 0 0.7 0a0.4 0.4 0 1 0 -0.7 0M372.0 246.7a0.4 0.4 0 1 0 0.9 0a0.4 0.4 0 1 0 -0.9 0M388.7 250.4a0.4 0.4 0 1 0 0.8 0a0.4 0.4 0 1 0 -0.8 0M352.8 239.3a0.5 0.5 0 1 0 0.9 0a0.5 0.5 0 1 0 -0.9 0M408.2 265.3a0.5 0.5 0 1 0 0.9 0a0.5 0.5 0 1 0 -0.9 0M384.7 242.2a0.5 0.5 0 1 0 1.0 0a0.5 0.5 0 1 0 -1.0 0M406.6 245.5a0.5 0.5 0 1 0 1.0 0a0.5 0.5 0 1 0 -1.0 0M364.3 248.3a0.3 0.3 0 1 0 0.7 0a0.3 0.3 0 1 0 -0.7 0M376.3 269.7a0.5 0.5 0 1 0 1.0 0a0.5 0.5 0 1 0 -1.0 0M419.2 238.3a0.6 0.6 0 1 0 1.2 0a0.6 0.6 0 1 0 -1.2 0M389.7 272.6a0.5 0.5 0 1 0 1.0 0a0.5 0.5 0 1 0 -1.0 0M388.1 249.6a0.5 0.5 0 1 0 1.1 0a0.5 0.5 0 1 0 -1.1 0M354.0 226.3a0.4 0.4 0 1 0 0.9 0a0.4 0.4 0 1 0 -0.9 0M373.8 243.3a0.4 0.4 0 1 0 0.8 0a0.4 0.4 0 1 0 -0.8 0M392.6 244.5a0.4 0.4 0 1 0 0.8 0a0.4 0.4 0 1 0 -0.8 0M391.0 290.2a0.4 0.4 0 1 0 0.7 0a0.4 0.4 0 1 0 -0.7 0M357.0 271.2a0.5 0.5 0 1 0 1.0 0a0.5 0.5 0 1 0 -1.0 0M364.0 280.8a0.6 0.6 0 1 0 1.2 0a0.6 0.6 0 1 0 -1.2 0M404.8 256.7a0.5 0.5 0 1 0 1.1 0a0.5 0.5 0 1 0 -1.1 0M353.6 257.9a0.5 0.5 0 1 0 1.1 0a0.5 0.5 0 1 0 -1.1 0M391.1 248.5a0.5 0.5 0 1 0 0.9 0a0.5 0.5 0 1 0 -0.9 0M392.6 227.7a0.5 0.5 0 1 0 0.9 0a0.5 0.5 0 1 0 -0.9 0M386.0 285.7a0.3 0.3 0 1 0 0.6 0a0.3 0.3 0 1 0 -0.6 0M370.0 276.5a0.4 0.4 0 1 0 0.7 0a0.4 0.4 0 1 0 -0.7 0M374.2 278.1a0.3 0.3 0 1 0 0.6 0a0.3 0.3 0 1 0 -0.6 0M379.2 280.5a0.5 0.5 0 1 0 1.1 0a0.5 0.5 0 1 0 -1.1 0M357.1 246.0a0.5 0.5 0 1 0 1.0 0a0.5 0.5 0 1 0 -1.0 0M414.2 224.6a0.3 0.3 0 1 0 0.6 0a0.3 0.3 0 1 0 -0.6 0M384.6 252.6a0.5 0.5 0 1 0 1.0 0a0.5 0.5 0 1 0 -1.0 0M362.4 240.0a0.4 0.4 0 1 0 0.7 0a0.4 0.4 0 1 0 -0.7 0M386.5 246.0a0.5 0.5 0 1 0 1.1 0a0.5 0.5 0 1 0 -1.1 0M418.7 257.7a0.5 0.5 0 1 0 0.9 0a0.5 0.5 0 1 0 -0.9 0M417.9 254.4a0.5 0.5 0 1 0 1.0 0a0.5 0.5 0 1 0 -1.0 0M376.1 285.2a0.6 0.6 0 1 0 1.2 0a0.6 0.6 0 1 0 -1.2 0M420.8 293.6a0.3 0.3 0 1 0 0.7 0a0.3 0.3 0 1 0 -0.7 0M354.0 259.7a0.4 0.4 0 1 0 0.9 0a0.4 0.4 0 1 0 -0.9 0M362.7 287.2a0.4 0.4 0 1 0 0.8 0a0.4 0.4 0 1 0 -0.8 0M358.7 281.5a0.5 0.5 0 1 0 1.1 0a0.5 0.5 0 1 0 -1.1 0M364.0 269.6a0.4 0.4 0 1 0 0.8 0a0.4 0.4 0 1 0 -0.8 0M412.7 285.9a0.5 0.5 0 1 0 0.9 0a0.5 0.5 0 1 0 -0.9 0M388.9 253.6a0.5 0.5 0 1 0 1.0 0a0.5 0.5 0 1 0 -1.0 0M393.0 267.5a0.4 0.4 0 1 0 0.7 0a0.4 0.4 0 1 0 -0.7 0M417.3 270.0a0.5 0.5 0 1 0 0.9 0a0.5 0.5 0 1 0 -0.9 0M377.3 264.1a0.5 0.5 0 1 0 1.0 0a0.5 0.5 0 1 0 -1.0 0M418.2 293.5a0.6 0.6 0 1 0 1.2 0a0.6 0.6 0 1 0 -1.2 0M400.1 278.6a0.4 0.4 0 1 0 0.8 0a0.4 0.4 0 1 0 -0.8 0M358.6 235.8a0.3 0.3 0 1 0 0.6 0a0.3 0.3 0 1 0 -0.6 0M405.0 255.3a0.3 0.3 0 1 0 0.6 0a0.3 0.3 0 1 0 -0.6 0M375.8 257.6a0.6 0.6 0 1 0 1.1 0a0.6 0.6 0 1 0 -1.1 0M421.6 284.6a0.4 0.4 0 1 0 0.9 0a0.4 0.4 0 1 0 -0.9 0M386.7 241.7a0.4 0.4 0 1 0 0.7 0a0.4 0.4 0 1 0 -0.7 0M403.0 237.3a0.4 0.4 0 1 0 0.7 0a0.4 0.4 0 1 0 -0.7 0M396.1 232.4a0.5 0.5 0 1 0 1.0 0a0.5 0.5 0 1 0 -1.0 0M383.4 258.5a0.5 0.5 0 1 0 0.9 0a0.5 0.5 0 1 0 -0.9 0M381.5 275.2a0.3 0.3 0 1 0 0.6 0a0.3 0.3 0 1 0 -0.6 0M376.7 245.0a0.4 0.4 0 1 0 0.7 0a0.4 0.4 0 1 0 -0.7 0M376.9 240.8a0.5 0.5 0 1 0 1.1 0a0.5 0.5 0 1 0 -1.1 0M378.4 276.6a0.6 0.6 0 1 0 1.1 0a0.6 0.6 0 1 0 -1.1 0M356.1 272.6a0.3 0.3 0 1 0 0.7 0a0.3 0.3 0 1 0 -0.7 0M357.2 285.5a0.5 0.5 0 1 0 1.1 0a0.5 0.5 0 1 0 -1.1 0M359.7 283.5a0.3 0.3 0 1 0 0.6 0a0.3 0.3 0 1 0 -0.6 0M386.2 232.8a0.5 0.5 0 1 0 1.0 0a0.5 0.5 0 1 0 -1.0 0M417.8 267.9a0.3 0.3 0 1 0 0.6 0a0.3 0.3 0 1 0 -0.6 0M419.2 234.9a0.4 0.4 0 1 0 0.9 0a0.4 0.4 0 1 0 -0.9 0M397.1 272.0a0.3 0.3 0 1 0 0.7 0a0.3 0.3 0 1 0 -0.7 0M383.3 248.2a0.6 0.6 0 1 0 1.1 0a0.6 0.6 0 1 0 -1.1 0M393.3 246.6a0.5 0.5 0 1 0 1.0 0a0.5 0.5 0 1 0 -1.0 0M355.5 285.9a0.3 0.3 0 1 0 0.6 0a0.3 0.3 0 1 0 -0.6 0M396.3 284.2a0.5 0.5 0 1 0 0.9 0a0.5 0.5 0 1 0 -0.9 0M395.8 283.0a0.5 0.5 0 1 0 1.0 0a0.5 0.5 0 1 0 -1.0 0M366.8 277.1a0.4 0.4 0 1 0 0.8 0a0.4 0.4 0 1 0 -0.8 0M417.1 243.2a0.5 0.5 0 1 0 1.0 0a0.5 0.5 0 1 0 -1.0 0M371.1 234.7a0.5 0.5 0 1 0 0.9 0a0.5 0.5 0 1 0 -0.9 0M418.7 268.7a0.4 0.4 0 1 0 0.7 0a0.4 0.4 0 1 0 -0.7 0M419.9 268.1a0.4 0.4 0 1 0 0.9 0a0.4 0.4 0 1 0 -0.9 0M364.1 285.6a0.5 0.5 0 1 0 1.0 0a0.5 0.5 0 1 0 -1.0 0M386.2 282.7a0.5 0.5 0 1 0 1.0 0a0.5 0.5 0 1 0 -1.0 0M405.5 291.6a0.4 0.4 0 1 0 0.8 0a0.4 0.4 0 1 0 -0.8 0M373.6 225.8a0.3 0.3 0 1 0 0.7 0a0.3 0.3 0 1 0 -0.7 0M389.9 227.5a0.4 0.4 0 1 0 0.8 0a0.4 0.4 0 1 0 -0.8 0M402.6 256.1a0.3 0.3 0 1 0 0.7 0a0.3 0.3 0 1 0 -0.7 0M414.1 292.8a0.5 0.5 0 1 0 1.0 0a0.5 0.5 0 1 0 -1.0 0M382.7 269.1a0.5 0.5 0 1 0 1.1 0a0.5 0.5 0 1 0 -1.1 0M355.0 264.4a0.5 0.5 0 1 0 1.0 0a0.5 0.5 0 1 0 -1.0 0M352.9 292.2a0.5 0.5 0 1 0 1.0 0a0.5 0.5 0 1 0 -1.0 0M402.3 228.6a0.5 0.5 0 1 0 1.0 0a0.5 0.5 0 1 0 -1.0 0M374.6 243.4a0.5 0.5 0 1 0 1.0 0a0.5 0.5 0 1 0 -1.0 0M356.0 251.8a0.3 0.3 0 1 0 0.6 0a0.3 0.3 0 1 0 -0.6 0M355.6 250.7a0.4 0.4 0 1 0 0.8 0a0.4 0.4 0 1 0 -0.8 0M367.6 270.5a0.4 0.4 0 1 0 0.8 0a0.4 0.4 0 1 0 -0.8 0M399.1 275.6a0.4 0.4 0 1 0 0.8 0a0.4 0.4 0 1 0 -0.8 0M377.5 265.1a0.3 0.3 0 1 0 0.6 0a0.3 0.3 0 1 0 -0.6 0M368.3 253.4a0.3 0.3 0 1 0 0.7 0a0.3 0.3 0 1 0 -0.7 0M356.5 295.1a0.6 0.6 0 1 0 1.2 0a0.6 0.6 0 1 0 -1.2 0M399.9 237.0a0.6 0.6 0 1 0 1.2 0a0.6 0.6 0 1 0 -1.2 0M392.0 233.7a0.4 0.4 0 1 0 0.8 0a0.4 0.4 0 1 0 -0.8 0M397.2 275.3a0.5 0.5 0 1 0 1.0 0a0.5 0.5 0 1 0 -1.0 0M378.7 278.4a0.3 0.3 0 1 0 0.7 0a0.3 0.3 0 1 0 -0.7 0M399.1 291.8a0.5 0.5 0 1 0 1.0 0a0.5 0.5 0 1 0 -1.0 0M382.4 295.1a0.4 0.4 0 1 0 0.8 0a0.4 0.4 0 1 0 -0.8 0M400.6 290.4a0.3 0.3 0 1 0 0.6 0a0.3 0.3 0 1 0 -0.6 0M400.6 292.9a0.3 0.3 0 1 0 0.7 0a0.3 0.3 0 1 0 -0.7 0M367.6 269.0a0.3 0.3 0 1 0 0.6 0a0.3 0.3 0 1 0 -0.6 0M420.2 267.8a0.6 0.6 0 1 0 1.2 0a0.6 0.6 0 1 0 -1.2 0M411.9 295.1a0.4 0.4 0 1 0 0.8 0a0.4 0.4 0 1 0 -0.8 0M409.0 264.1a0.4 0.4 0 1 0 0.7 0a0.4 0.4 0 1 0 -0.7 0M412.4 274.3a0.5 0.5 0 1 0 1.0 0a0.5 0.5 0 1 0 -1.0 0M402.5 274.0a0.3 0.3 0 1 0 0.7 0a0.3 0.3 0 1 0 -0.7 0M409.9 238.2a0.6 0.6 0 1 0 1.2 0a0.6 0.6 0 1 0 -1.2 0M396.2 259.1a0.4 0.4 0 1 0 0.8 0a0.4 0.4 0 1 0 -0.8 0M368.6 237.2a0.4 0.4 0 1 0 0.8 0a0.4 0.4 0 1 0 -0.8 0M399.1 278.7a0.5 0.5 0 1 0 0.9 0a0.5 0.5 0 1 0 -0.9 0M400.4 225.2a0.4 0.4 0 1 0 0.7 0a0.4 0.4 0 1 0 -0.7 0M414.0 251.5a0.5 0.5 0 1 0 1.1 0a0.5 0.5 0 1 0 -1.1 0M394.4 252.1a0.6 0.6 0 1 0 1.2 0a0.6 0.6 0 1 0 -1.2 0M401.7 291.3a0.5 0.5 0 1 0 1.0 0a0.5 0.5 0 1 0 -1.0 0M407.5 238.5a0.4 0.4 0 1 0 0.7 0a0.4 0.4 0 1 0 -0.7 0M360.8 290.7a0.4 0.4 0 1 0 0.8 0a0.4 0.4 0 1 0 -0.8 0M365.4 248.9a0.3 0.3 0 1 0 0.6 0a0.3 0.3 0 1 0 -0.6 0M371.4 285.1a0.4 0.4 0 1 0 0.7 0a0.4 0.4 0 1 0 -0.7 0M382.5 246.1a0.6 0.6 0 1 0 1.1 0a0.6 0.6 0 1 0 -1.1 0M360.7 260.9a0.4 0.4 0 1 0 0.9 0a0.4 0.4 0 1 0 -0.9 0M374.2 280.6a0.5 0.5 0 1 0 1.0 0a0.5 0.5 0 1 0 -1.0 0M388.8 261.6a0.3 0.3 0 1 0 0.7 0a0.3 0.3 0 1 0 -0.7 0M420.5 269.2a0.5 0.5 0 1 0 1.0 0a0.5 0.5 0 1 0 -1.0 0M420.8 256.2a0.4 0.4 0 1 0 0.7 0a0.4 0.4 0 1 0 -0.7 0M393.7 287.6a0.5 0.5 0 1 0 0.9 0a0.5 0.5 0 1 0 -0.9 0M356.2 276.6a0.5 0.5 0 1 0 1.1 0a0.5 0.5 0 1 0 -1.1 0M411.0 279.2a0.5 0.5 0 1 0 1.0 0a0.5 0.5 0 1 0 -1.0 0M371.7 252.0a0.6 0.6 0 1 0 1.1 0a0.6 0.6 0 1 0 -1.1 0M361.2 276.3a0.4 0.4 0 1 0 0.8 0a0.4 0.4 0 1 0 -0.8 0M353.5 259.5a0.4 0.4 0 1 0 0.8 0a0.4 0.4 0 1 0 -0.8 0M395.1 257.7a0.4 0.4 0 1 0 0.7 0a0.4 0.4 0 1 0 -0.7 0M400.9 252.2a0.4 0.4 0 1 0 0.7 0a0.4 0.4 0 1 0 -0.7 0M358.0 228.4a0.6 0.6 0 1 0 1.1 0a0.6 0.6 0 1 0 -1.1 0M415.5 230.8a0.4 0.4 0 1 0 0.8 0a0.4 0.4 0 1 0 -0.8 0M377.2 266.7a0.4 0.4 0 1 0 0.8 0a0.4 0.4 0 1 0 -0.8 0M422.0 251.5a0.5 0.5 0 1 0 0.9 0a0.5 0.5 0 1 0 -0.9 0M413.6 268.2a0.6 0.6 0 1 0 1.2 0a0.6 0.6 0 1 0 -1.2 0M389.7 287.3a0.5 0.5 0 1 0 1.1 0a0.5 0.5 0 1 0 -1.1 0M410.4 252.4a0.4 0.4 0 1 0 0.8 0a0.4 0.4 0 1 0 -0.8 0M386.4 227.0a0.5 0.5 0 1 0 1.0 0a0.5 0.5 0 1 0 -1.0 0M397.6 253.4a0.4 0.4 0 1 0 0.8 0a0.4 0.4 0 1 0 -0.8 0M403.9 261.4a0.5 0.5 0 1 0 1.0 0a0.5 0.5 0 1 0 -1.0 0M420.2 287.6a0.4 0.4 0 1 0 0.9 0a0.4 0.4 0 1 0 -0.9 0M381.7 292.6a0.5 0.5 0 1 0 1.0 0a0.5 0.5 0 1 0 -1.0 0M402.5 229.8a0.3 0.3 0 1 0 0.7 0a0.3 0.3 0 1 0 -0.7 0M361.2 278.2a0.6 0.6 0 1 0 1.1 0a0.6 0.6 0 1 0 -1.1 0M355.3 292.0a0.5 0.5 0 1 0 1.0 0a0.5 0.5 0 1 0 -1.0 0M395.0 224.2a0.6 0.6 0 1 0 1.2 0a0.6 0.6 0 1 0 -1.2 0M378.5 263.9a0.4 0.4 0 1 0 0.8 0a0.4 0.4 0 1 0 -0.8 0M405.2 260.3a0.4 0.4 0 1 0 0.9 0a0.4 0.4 0 1 0 -0.9 0M367.5 250.1a0.3 0.3 0 1 0 0.7 0a0.3 0.3 0 1 0 -0.7 0M384.7 270.4a0.3 0.3 0 1 0 0.7 0a0.3 0.3 0 1 0 -0.7 0M418.8 262.5a0.6 0.6 0 1 0 1.1 0a0.6 0.6 0 1 0 -1.1 0M363.6 291.8a0.5 0.5 0 1 0 0.9 0a0.5 0.5 0 1 0 -0.9 0M354.9 263.0a0.5 0.5 0 1 0 1.0 0a0.5 0.5 0 1 0 -1.0 0M403.0 273.6a0.4 0.4 0 1 0 0.9 0a0.4 0.4 0 1 0 -0.9 0M423.8 231.7a0.5 0.5 0 1 0 1.0 0a0.5 0.5 0 1 0 -1.0 0M369.4 226.1a0.4 0.4 0 1 0 0.8 0a0.4 0.4 0 1 0 -0.8 0M392.3 259.0a0.5 0.5 0 1 0 1.1 0a0.5 0.5 0 1 0 -1.1 0M371.6 238.3a0.3 0.3 0 1 0 0.6 0a0.3 0.3 0 1 0 -0.6 0M367.7 225.3a0.6 0.6 0 1 0 1.1 0a0.6 0.6 0 1 0 -1.1 0M383.4 242.0a0.5 0.5 0 1 0 1.0 0a0.5 0.5 0 1 0 -1.0 0M390.0 228.1a0.6 0.6 0 1 0 1.2 0a0.6 0.6 0 1 0 -1.2 0M375.5 236.5a0.6 0.6 0 1 0 1.2 0a0.6 0.6 0 1 0 -1.2 0M353.5 273.0a0.4 0.4 0 1 0 0.8 0a0.4 0.4 0 1 0 -0.8 0M393.2 284.2a0.5 0.5 0 1 0 1.1 0a0.5 0.5 0 1 0 -1.1 0M400.8 234.7a0.6 0.6 0 1 0 1.1 0a0.6 0.6 0 1 0 -1.1 0M370.8 295.3a0.5 0.5 0 1 0 1.0 0a0.5 0.5 0 1 0 -1.0 0M399.2 235.5a0.3 0.3 0 1 0 0.7 0a0.3 0.3 0 1 0 -0.7 0M402.8 265.3a0.6 0.6 0 1 0 1.2 0a0.6 0.6 0 1 0 -1.2 0M391.0 245.5a0.4 0.4 0 1 0 0.7 0a0.4 0.4 0 1 0 -0.7 0M364.9 235.2a0.4 0.4 0 1 0 0.8 0a0.4 0.4 0 1 0 -0.8 0M370.8 295.7a0.6 0.6 0 1 0 1.2 0a0.6 0.6 0 1 0 -1.2 0M404.3 293.6a0.5 0.5 0 1 0 1.0 0a0.5 0.5 0 1 0 -1.0 0M405.3 291.3a0.4 0.4 0 1 0 0.8 0a0.4 0.4 0 1 0 -0.8 0M393.7 263.5a0.5 0.5 0 1 0 0.9 0a0.5 0.5 0 1 0 -0.9 0M404.1 251.7a0.5 0.5 0 1 0 1.0 0a0.5 0.5 0 1 0 -1.0 0M423.9 230.4a0.5 0.5 0 1 0 0.9 0a0.5 0.5 0 1 0 -0.9 0M363.7 263.1a0.5 0.5 0 1 0 0.9 0a0.5 0.5 0 1 0 -0.9 0M359.1 286.7a0.6 0.6 0 1 0 1.2 0a0.6 0.6 0 1 0 -1.2 0M387.0 286.9a0.5 0.5 0 1 0 1.1 0a0.5 0.5 0 1 0 -1.1 0M369.8 296.0a0.5 0.5 0 1 0 1.0 0a0.5 0.5 0 1 0 -1.0 0M416.7 267.4a0.3 0.3 0 1 0 0.7 0a0.3 0.3 0 1 0 -0.7 0M390.9 233.8a0.5 0.5 0 1 0 1.1 0a0.5 0.5 0 1 0 -1.1 0M374.3 275.4a0.4 0.4 0 1 0 0.8 0a0.4 0.4 0 1 0 -0.8 0M400.8 263.5a0.4 0.4 0 1 0 0.8 0a0.4 0.4 0 1 0 -0.8 0M404.4 288.1a0.5 0.5 0 1 0 0.9 0a0.5 0.5 0 1 0 -0.9 0M364.9 248.0a0.5 0.5 0 1 0 0.9 0a0.5 0.5 0 1 0 -0.9 0M411.2 269.6a0.3 0.3 0 1 0 0.6 0a0.3 0.3 0 1 0 -0.6 0M394.3 228.2a0.3 0.3 0 1 0 0.7 0a0.3 0.3 0 1 0 -0.7 0M418.1 273.2a0.5 0.5 0 1 0 1.0 0a0.5 0.5 0 1 0 -1.0 0M352.7 276.2a0.5 0.5 0 1 0 1.0 0a0.5 0.5 0 1 0 -1.0 0M396.1 266.6a0.4 0.4 0 1 0 0.9 0a0.4 0.4 0 1 0 -0.9 0M371.5 228.8a0.5 0.5 0 1 0 1.0 0a0.5 0.5 0 1 0 -1.0 0M363.3 295.0a0.3 0.3 0 1 0 0.6 0a0.3 0.3 0 1 0 -0.6 0M413.8 283.3a0.5 0.5 0 1 0 0.9 0a0.5 0.5 0 1 0 -0.9 0M359.5 235.5a0.5 0.5 0 1 0 1.0 0a0.5 0.5 0 1 0 -1.0 0M372.1 235.3a0.4 0.4 0 1 0 0.7 0a0.4 0.4 0 1 0 -0.7 0M372.5 295.0a0.5 0.5 0 1 0 1.0 0a0.5 0.5 0 1 0 -1.0 0M423.8 247.1a0.3 0.3 0 1 0 0.7 0a0.3 0.3 0 1 0 -0.7 0M408.4 279.5a0.4 0.4 0 1 0 0.7 0a0.4 0.4 0 1 0 -0.7 0M386.6 274.8a0.5 0.5 0 1 0 0.9 0a0.5 0.5 0 1 0 -0.9 0M393.6 247.1a0.5 0.5 0 1 0 1.0 0a0.5 0.5 0 1 0 -1.0 0M410.6 226.3a0.5 0.5 0 1 0 1.0 0a0.5 0.5 0 1 0 -1.0 0M392.2 294.5a0.5 0.5 0 1 0 1.1 0a0.5 0.5 0 1 0 -1.1 0M364.9 268.5a0.5 0.5 0 1 0 0.9 0a0.5 0.5 0 1 0 -0.9 0M362.3 294.4a0.5 0.5 0 1 0 1.1 0a0.5 0.5 0 1 0 -1.1 0M417.0 297.4a0.6 0.6 0 1 0 1.1 0a0.6 0.6 0 1 0 -1.1 0M420.1 237.4a0.6 0.6 0 1 0 1.2 0a0.6 0.6 0 1 0 -1.2 0M377.5 260.0a0.3 0.3 0 1 0 0.6 0a0.3 0.3 0 1 0 -0.6 0M406.7 254.4a0.3 0.3 0 1 0 0.6 0a0.3 0.3 0 1 0 -0.6 0M390.1 246.6a0.6 0.6 0 1 0 1.1 0a0.6 0.6 0 1 0 -1.1 0M388.3 246.7a0.6 0.6 0 1 0 1.1 0a0.6 0.6 0 1 0 -1.1 0M356.5 267.3a0.6 0.6 0 1 0 1.2 0a0.6 0.6 0 1 0 -1.2 0" fill="#7e4ea0" opacity="0.5"/>
<path d="M421.7 289.7a0.4 0.4 0 1 0 0.8 0a0.4 0.4 0 1 0 -0.8 0M381.6 292.8a0.4 0.4 0 1 0 0.8 0a0.4 0.4 0 1 0 -0.8 0M402.9 228.8a0.4 0.4 0 1 0 0.8 0a0.4 0.4 0 1 0 -0.8 0M406.2 292.3a0.6 0.6 0 1 0 1.2 0a0.6 0.6 0 1 0 -1.2 0M359.2 279.0a0.5 0.5 0 1 0 1.1 0a0.5 0.5 0 1 0 -1.1 0M354.2 293.5a0.3 0.3 0 1 0 0.7 0a0.3 0.3 0 1 0 -0.7 0M388.8 250.6a0.3 0.3 0 1 0 0.7 0a0.3 0.3 0 1 0 -0.7 0M418.6 264.0a0.4 0.4 0 1 0 0.8 0a0.4 0.4 0 1 0 -0.8 0M393.6 224.8a0.5 0.5 0 1 0 0.9 0a0.5 0.5 0 1 0 -0.9 0M414.5 274.6a0.6 0.6 0 1 0 1.2 0a0.6 0.6 0 1 0 -1.2 0M389.2 262.9a0.3 0.3 0 1 0 0.7 0a0.3 0.3 0 1 0 -0.7 0M356.6 238.9a0.5 0.5 0 1 0 1.0 0a0.5 0.5 0 1 0 -1.0 0M381.8 283.7a0.5 0.5 0 1 0 1.0 0a0.5 0.5 0 1 0 -1.0 0M420.9 295.1a0.5 0.5 0 1 0 1.0 0a0.5 0.5 0 1 0 -1.0 0M411.1 272.6a0.4 0.4 0 1 0 0.8 0a0.4 0.4 0 1 0 -0.8 0M421.2 291.2a0.5 0.5 0 1 0 1.0 0a0.5 0.5 0 1 0 -1.0 0M374.6 296.3a0.4 0.4 0 1 0 0.9 0a0.4 0.4 0 1 0 -0.9 0M399.5 249.6a0.4 0.4 0 1 0 0.9 0a0.4 0.4 0 1 0 -0.9 0M391.4 232.0a0.5 0.5 0 1 0 1.1 0a0.5 0.5 0 1 0 -1.1 0M400.1 226.3a0.6 0.6 0 1 0 1.1 0a0.6 0.6 0 1 0 -1.1 0M419.7 271.4a0.4 0.4 0 1 0 0.9 0a0.4 0.4 0 1 0 -0.9 0M388.8 280.2a0.5 0.5 0 1 0 1.1 0a0.5 0.5 0 1 0 -1.1 0M406.0 244.6a0.6 0.6 0 1 0 1.2 0a0.6 0.6 0 1 0 -1.2 0M366.6 245.0a0.3 0.3 0 1 0 0.6 0a0.3 0.3 0 1 0 -0.6 0M368.6 226.7a0.3 0.3 0 1 0 0.7 0a0.3 0.3 0 1 0 -0.7 0M415.9 239.6a0.4 0.4 0 1 0 0.8 0a0.4 0.4 0 1 0 -0.8 0M351.7 273.4a0.3 0.3 0 1 0 0.7 0a0.3 0.3 0 1 0 -0.7 0M378.1 283.8a0.4 0.4 0 1 0 0.7 0a0.4 0.4 0 1 0 -0.7 0M378.7 232.6a0.5 0.5 0 1 0 1.0 0a0.5 0.5 0 1 0 -1.0 0M361.1 224.1a0.4 0.4 0 1 0 0.8 0a0.4 0.4 0 1 0 -0.8 0M403.1 225.1a0.5 0.5 0 1 0 1.1 0a0.5 0.5 0 1 0 -1.1 0M410.2 224.3a0.5 0.5 0 1 0 1.1 0a0.5 0.5 0 1 0 -1.1 0M382.1 243.8a0.4 0.4 0 1 0 0.9 0a0.4 0.4 0 1 0 -0.9 0M416.5 289.6a0.5 0.5 0 1 0 0.9 0a0.5 0.5 0 1 0 -0.9 0M359.5 271.3a0.4 0.4 0 1 0 0.8 0a0.4 0.4 0 1 0 -0.8 0M409.8 241.5a0.5 0.5 0 1 0 1.0 0a0.5 0.5 0 1 0 -1.0 0M394.4 265.5a0.6 0.6 0 1 0 1.1 0a0.6 0.6 0 1 0 -1.1 0M403.7 229.0a0.5 0.5 0 1 0 1.0 0a0.5 0.5 0 1 0 -1.0 0M360.3 279.4a0.4 0.4 0 1 0 0.8 0a0.4 0.4 0 1 0 -0.8 0M391.8 272.7a0.4 0.4 0 1 0 0.9 0a0.4 0.4 0 1 0 -0.9 0M412.3 245.5a0.3 0.3 0 1 0 0.7 0a0.3 0.3 0 1 0 -0.7 0M379.3 270.7a0.5 0.5 0 1 0 1.0 0a0.5 0.5 0 1 0 -1.0 0M358.6 287.0a0.6 0.6 0 1 0 1.1 0a0.6 0.6 0 1 0 -1.1 0M390.7 271.9a0.5 0.5 0 1 0 1.0 0a0.5 0.5 0 1 0 -1.0 0M379.0 270.6a0.6 0.6 0 1 0 1.2 0a0.6 0.6 0 1 0 -1.2 0M415.6 276.3a0.3 0.3 0 1 0 0.6 0a0.3 0.3 0 1 0 -0.6 0M391.6 282.6a0.5 0.5 0 1 0 1.0 0a0.5 0.5 0 1 0 -1.0 0M403.7 232.9a0.5 0.5 0 1 0 1.1 0a0.5 0.5 0 1 0 -1.1 0M418.3 244.7a0.4 0.4 0 1 0 0.8 0a0.4 0.4 0 1 0 -0.8 0M384.9 291.2a0.5 0.5 0 1 0 0.9 0a0.5 0.5 0 1 0 -0.9 0M378.0 230.9a0.5 0.5 0 1 0 1.0 0a0.5 0.5 0 1 0 -1.0 0M402.2 258.2a0.5 0.5 0 1 0 1.1 0a0.5 0.5 0 1 0 -1.1 0M404.2 289.1a0.4 0.4 0 1 0 0.9 0a0.4 0.4 0 1 0 -0.9 0M370.6 266.0a0.6 0.6 0 1 0 1.1 0a0.6 0.6 0 1 0 -1.1 0M386.5 230.0a0.5 0.5 0 1 0 1.0 0a0.5 0.5 0 1 0 -1.0 0M358.3 277.6a0.4 0.4 0 1 0 0.8 0a0.4 0.4 0 1 0 -0.8 0M356.7 273.5a0.4 0.4 0 1 0 0.7 0a0.4 0.4 0 1 0 -0.7 0M359.4 224.6a0.3 0.3 0 1 0 0.7 0a0.3 0.3 0 1 0 -0.7 0M356.3 229.9a0.5 0.5 0 1 0 1.0 0a0.5 0.5 0 1 0 -1.0 0M382.8 241.0a0.4 0.4 0 1 0 0.9 0a0.4 0.4 0 1 0 -0.9 0M413.0 237.0a0.4 0.4 0 1 0 0.9 0a0.4 0.4 0 1 0 -0.9 0M413.1 230.4a0.4 0.4 0 1 0 0.9 0a0.4 0.4 0 1 0 -0.9 0M361.9 282.8a0.5 0.5 0 1 0 0.9 0a0.5 0.5 0 1 0 -0.9 0M416.9 281.2a0.4 0.4 0 1 0 0.8 0a0.4 0.4 0 1 0 -0.8 0M366.2 291.7a0.6 0.6 0 1 0 1.2 0a0.6 0.6 0 1 0 -1.2 0M407.5 289.8a0.5 0.5 0 1 0 1.0 0a0.5 0.5 0 1 0 -1.0 0M408.4 242.7a0.4 0.4 0 1 0 0.7 0a0.4 0.4 0 1 0 -0.7 0M351.6 293.6a0.5 0.5 0 1 0 0.9 0a0.5 0.5 0 1 0 -0.9 0M394.8 240.2a0.4 0.4 0 1 0 0.9 0a0.4 0.4 0 1 0 -0.9 0M371.1 235.8a0.4 0.4 0 1 0 0.8 0a0.4 0.4 0 1 0 -0.8 0M392.5 281.7a0.5 0.5 0 1 0 1.0 0a0.5 0.5 0 1 0 -1.0 0M419.9 250.0a0.4 0.4 0 1 0 0.7 0a0.4 0.4 0 1 0 -0.7 0M421.1 258.4a0.5 0.5 0 1 0 0.9 0a0.5 0.5 0 1 0 -0.9 0M414.2 259.4a0.6 0.6 0 1 0 1.1 0a0.6 0.6 0 1 0 -1.1 0M356.6 257.9a0.5 0.5 0 1 0 1.0 0a0.5 0.5 0 1 0 -1.0 0M388.9 272.4a0.4 0.4 0 1 0 0.8 0a0.4 0.4 0 1 0 -0.8 0M400.9 226.8a0.4 0.4 0 1 0 0.8 0a0.4 0.4 0 1 0 -0.8 0M380.2 265.4a0.4 0.4 0 1 0 0.8 0a0.4 0.4 0 1 0 -0.8 0M420.5 249.6a0.4 0.4 0 1 0 0.8 0a0.4 0.4 0 1 0 -0.8 0M375.3 230.3a0.4 0.4 0 1 0 0.9 0a0.4 0.4 0 1 0 -0.9 0M372.2 269.4a0.5 0.5 0 1 0 1.0 0a0.5 0.5 0 1 0 -1.0 0M403.7 247.0a0.3 0.3 0 1 0 0.6 0a0.3 0.3 0 1 0 -0.6 0M398.7 270.1a0.4 0.4 0 1 0 0.8 0a0.4 0.4 0 1 0 -0.8 0M386.4 254.9a0.4 0.4 0 1 0 0.7 0a0.4 0.4 0 1 0 -0.7 0M356.7 265.1a0.5 0.5 0 1 0 1.0 0a0.5 0.5 0 1 0 -1.0 0M403.1 258.5a0.4 0.4 0 1 0 0.8 0a0.4 0.4 0 1 0 -0.8 0M361.9 291.3a0.4 0.4 0 1 0 0.8 0a0.4 0.4 0 1 0 -0.8 0M389.3 242.7a0.5 0.5 0 1 0 1.1 0a0.5 0.5 0 1 0 -1.1 0M411.4 239.6a0.4 0.4 0 1 0 0.9 0a0.4 0.4 0 1 0 -0.9 0M420.6 227.1a0.3 0.3 0 1 0 0.6 0a0.3 0.3 0 1 0 -0.6 0M422.1 229.7a0.3 0.3 0 1 0 0.6 0a0.3 0.3 0 1 0 -0.6 0M395.3 243.0a0.5 0.5 0 1 0 0.9 0a0.5 0.5 0 1 0 -0.9 0M388.1 243.5a0.3 0.3 0 1 0 0.7 0a0.3 0.3 0 1 0 -0.7 0M381.9 292.0a0.5 0.5 0 1 0 1.0 0a0.5 0.5 0 1 0 -1.0 0M380.9 270.1a0.6 0.6 0 1 0 1.1 0a0.6 0.6 0 1 0 -1.1 0M415.7 234.9a0.6 0.6 0 1 0 1.1 0a0.6 0.6 0 1 0 -1.1 0M354.2 234.4a0.5 0.5 0 1 0 1.0 0a0.5 0.5 0 1 0 -1.0 0M418.6 238.1a0.5 0.5 0 1 0 1.0 0a0.5 0.5 0 1 0 -1.0 0M387.8 229.4a0.3 0.3 0 1 0 0.7 0a0.3 0.3 0 1 0 -0.7 0M382.9 285.7a0.3 0.3 0 1 0 0.7 0a0.3 0.3 0 1 0 -0.7 0M378.8 281.4a0.4 0.4 0 1 0 0.8 0a0.4 0.4 0 1 0 -0.8 0M400.0 244.1a0.5 0.5 0 1 0 1.1 0a0.5 0.5 0 1 0 -1.1 0M364.1 231.6a0.3 0.3 0 1 0 0.6 0a0.3 0.3 0 1 0 -0.6 0M394.8 256.0a0.5 0.5 0 1 0 0.9 0a0.5 0.5 0 1 0 -0.9 0M373.4 252.3a0.5 0.5 0 1 0 1.0 0a0.5 0.5 0 1 0 -1.0 0M356.1 286.7a0.4 0.4 0 1 0 0.7 0a0.4 0.4 0 1 0 -0.7 0M423.7 280.7a0.5 0.5 0 1 0 1.0 0a0.5 0.5 0 1 0 -1.0 0M362.9 279.1a0.4 0.4 0 1 0 0.7 0a0.4 0.4 0 1 0 -0.7 0M362.4 284.1a0.5 0.5 0 1 0 1.0 0a0.5 0.5 0 1 0 -1.0 0M352.1 244.5a0.5 0.5 0 1 0 1.0 0a0.5 0.5 0 1 0 -1.0 0M361.9 294.3a0.6 0.6 0 1 0 1.2 0a0.6 0.6 0 1 0 -1.2 0M357.4 274.7a0.4 0.4 0 1 0 0.8 0a0.4 0.4 0 1 0 -0.8 0M418.4 250.0a0.5 0.5 0 1 0 1.0 0a0.5 0.5 0 1 0 -1.0 0M359.9 242.1a0.6 0.6 0 1 0 1.1 0a0.6 0.6 0 1 0 -1.1 0M414.2 293.2a0.5 0.5 0 1 0 1.0 0a0.5 0.5 0 1 0 -1.0 0M385.7 292.7a0.4 0.4 0 1 0 0.7 0a0.4 0.4 0 1 0 -0.7 0M414.5 289.5a0.3 0.3 0 1 0 0.7 0a0.3 0.3 0 1 0 -0.7 0M355.5 229.9a0.6 0.6 0 1 0 1.1 0a0.6 0.6 0 1 0 -1.1 0M365.4 245.3a0.3 0.3 0 1 0 0.6 0a0.3 0.3 0 1 0 -0.6 0M411.6 271.5a0.5 0.5 0 1 0 1.1 0a0.5 0.5 0 1 0 -1.1 0M392.6 282.9a0.4 0.4 0 1 0 0.8 0a0.4 0.4 0 1 0 -0.8 0M362.3 231.4a0.3 0.3 0 1 0 0.6 0a0.3 0.3 0 1 0 -0.6 0M400.9 265.4a0.5 0.5 0 1 0 1.0 0a0.5 0.5 0 1 0 -1.0 0M380.6 277.1a0.4 0.4 0 1 0 0.7 0a0.4 0.4 0 1 0 -0.7 0M389.2 252.9a0.6 0.6 0 1 0 1.2 0a0.6 0.6 0 1 0 -1.2 0M409.8 261.2a0.6 0.6 0 1 0 1.1 0a0.6 0.6 0 1 0 -1.1 0M388.2 282.5a0.5 0.5 0 1 0 1.1 0a0.5 0.5 0 1 0 -1.1 0M380.2 230.5a0.5 0.5 0 1 0 1.0 0a0.5 0.5 0 1 0 -1.0 0M353.5 224.7a0.5 0.5 0 1 0 1.0 0a0.5 0.5 0 1 0 -1.0 0M395.3 236.7a0.4 0.4 0 1 0 0.8 0a0.4 0.4 0 1 0 -0.8 0M417.6 288.5a0.5 0.5 0 1 0 1.1 0a0.5 0.5 0 1 0 -1.1 0M360.8 245.7a0.5 0.5 0 1 0 1.0 0a0.5 0.5 0 1 0 -1.0 0M358.2 275.5a0.4 0.4 0 1 0 0.8 0a0.4 0.4 0 1 0 -0.8 0M369.4 227.0a0.6 0.6 0 1 0 1.1 0a0.6 0.6 0 1 0 -1.1 0M400.2 268.2a0.5 0.5 0 1 0 1.1 0a0.5 0.5 0 1 0 -1.1 0M396.8 245.8a0.3 0.3 0 1 0 0.7 0a0.3 0.3 0 1 0 -0.7 0M382.2 261.5a0.4 0.4 0 1 0 0.8 0a0.4 0.4 0 1 0 -0.8 0M422.8 238.5a0.5 0.5 0 1 0 1.0 0a0.5 0.5 0 1 0 -1.0 0M422.8 236.6a0.4 0.4 0 1 0 0.8 0a0.4 0.4 0 1 0 -0.8 0M384.1 262.1a0.4 0.4 0 1 0 0.8 0a0.4 0.4 0 1 0 -0.8 0M411.0 243.1a0.5 0.5 0 1 0 1.1 0a0.5 0.5 0 1 0 -1.1 0M383.3 288.8a0.5 0.5 0 1 0 1.0 0a0.5 0.5 0 1 0 -1.0 0M354.8 285.5a0.6 0.6 0 1 0 1.1 0a0.6 0.6 0 1 0 -1.1 0M388.9 286.1a0.3 0.3 0 1 0 0.7 0a0.3 0.3 0 1 0 -0.7 0M360.0 291.2a0.5 0.5 0 1 0 1.0 0a0.5 0.5 0 1 0 -1.0 0M365.6 251.3a0.5 0.5 0 1 0 0.9 0a0.5 0.5 0 1 0 -0.9 0M366.8 241.1a0.3 0.3 0 1 0 0.6 0a0.3 0.3 0 1 0 -0.6 0M360.5 284.4a0.6 0.6 0 1 0 1.1 0a0.6 0.6 0 1 0 -1.1 0M379.4 272.4a0.5 0.5 0 1 0 1.0 0a0.5 0.5 0 1 0 -1.0 0M369.0 291.2a0.4 0.4 0 1 0 0.7 0a0.4 0.4 0 1 0 -0.7 0M379.1 244.2a0.3 0.3 0 1 0 0.6 0a0.3 0.3 0 1 0 -0.6 0M402.1 246.0a0.5 0.5 0 1 0 0.9 0a0.5 0.5 0 1 0 -0.9 0M370.0 288.0a0.6 0.6 0 1 0 1.1 0a0.6 0.6 0 1 0 -1.1 0M382.9 272.0a0.5 0.5 0 1 0 1.0 0a0.5 0.5 0 1 0 -1.0 0M418.2 255.3a0.3 0.3 0 1 0 0.6 0a0.3 0.3 0 1 0 -0.6 0M410.0 290.8a0.5 0.5 0 1 0 1.0 0a0.5 0.5 0 1 0 -1.0 0M373.9 263.7a0.5 0.5 0 1 0 1.1 0a0.5 0.5 0 1 0 -1.1 0M393.5 289.8a0.4 0.4 0 1 0 0.7 0a0.4 0.4 0 1 0 -0.7 0M406.5 264.7a0.3 0.3 0 1 0 0.7 0a0.3 0.3 0 1 0 -0.7 0M365.2 289.3a0.4 0.4 0 1 0 0.8 0a0.4 0.4 0 1 0 -0.8 0M410.0 279.8a0.6 0.6 0 1 0 1.2 0a0.6 0.6 0 1 0 -1.2 0M403.5 281.3a0.5 0.5 0 1 0 1.0 0a0.5 0.5 0 1 0 -1.0 0M353.2 271.8a0.6 0.6 0 1 0 1.1 0a0.6 0.6 0 1 0 -1.1 0M400.6 269.6a0.5 0.5 0 1 0 1.1 0a0.5 0.5 0 1 0 -1.1 0M364.2 244.9a0.4 0.4 0 1 0 0.8 0a0.4 0.4 0 1 0 -0.8 0M380.2 290.0a0.5 0.5 0 1 0 0.9 0a0.5 0.5 0 1 0 -0.9 0M352.3 276.0a0.5 0.5 0 1 0 0.9 0a0.5 0.5 0 1 0 -0.9 0M358.6 279.8a0.6 0.6 0 1 0 1.2 0a0.6 0.6 0 1 0 -1.2 0M380.9 286.8a0.5 0.5 0 1 0 1.1 0a0.5 0.5 0 1 0 -1.1 0M391.4 249.5a0.5 0.5 0 1 0 1.0 0a0.5 0.5 0 1 0 -1.0 0M355.9 296.3a0.4 0.4 0 1 0 0.8 0a0.4 0.4 0 1 0 -0.8 0M356.0 278.8a0.4 0.4 0 1 0 0.9 0a0.4 0.4 0 1 0 -0.9 0M412.9 226.4a0.3 0.3 0 1 0 0.6 0a0.3 0.3 0 1 0 -0.6 0M411.6 281.6a0.4 0.4 0 1 0 0.8 0a0.4 0.4 0 1 0 -0.8 0M355.1 264.2a0.6 0.6 0 1 0 1.2 0a0.6 0.6 0 1 0 -1.2 0M374.2 226.0a0.5 0.5 0 1 0 1.0 0a0.5 0.5 0 1 0 -1.0 0M359.4 262.8a0.6 0.6 0 1 0 1.1 0a0.6 0.6 0 1 0 -1.1 0M359.7 245.9a0.5 0.5 0 1 0 1.1 0a0.5 0.5 0 1 0 -1.1 0M381.1 234.1a0.5 0.5 0 1 0 1.0 0a0.5 0.5 0 1 0 -1.0 0M398.3 225.1a0.5 0.5 0 1 0 1.1 0a0.5 0.5 0 1 0 -1.1 0M413.6 229.1a0.6 0.6 0 1 0 1.1 0a0.6 0.6 0 1 0 -1.1 0M424.0 275.3a0.3 0.3 0 1 0 0.7 0a0.3 0.3 0 1 0 -0.7 0M366.5 288.1a0.4 0.4 0 1 0 0.7 0a0.4 0.4 0 1 0 -0.7 0M417.0 257.5a0.4 0.4 0 1 0 0.8 0a0.4 0.4 0 1 0 -0.8 0M421.0 237.5a0.5 0.5 0 1 0 1.1 0a0.5 0.5 0 1 0 -1.1 0M423.5 236.3a0.3 0.3 0 1 0 0.7 0a0.3 0.3 0 1 0 -0.7 0M412.5 258.3a0.3 0.3 0 1 0 0.7 0a0.3 0.3 0 1 0 -0.7 0M405.4 275.6a0.4 0.4 0 1 0 0.7 0a0.4 0.4 0 1 0 -0.7 0M391.1 242.5a0.4 0.4 0 1 0 0.8 0a0.4 0.4 0 1 0 -0.8 0M413.3 225.0a0.4 0.4 0 1 0 0.8 0a0.4 0.4 0 1 0 -0.8 0M386.1 259.1a0.4 0.4 0 1 0 0.8 0a0.4 0.4 0 1 0 -0.8 0M369.3 256.0a0.4 0.4 0 1 0 0.8 0a0.4 0.4 0 1 0 -0.8 0M384.4 288.1a0.3 0.3 0 1 0 0.6 0a0.3 0.3 0 1 0 -0.6 0M366.9 252.3a0.5 0.5 0 1 0 1.1 0a0.5 0.5 0 1 0 -1.1 0M423.9 266.8a0.3 0.3 0 1 0 0.7 0a0.3 0.3 0 1 0 -0.7 0M391.9 254.7a0.6 0.6 0 1 0 1.2 0a0.6 0.6 0 1 0 -1.2 0M387.7 295.4a0.6 0.6 0 1 0 1.1 0a0.6 0.6 0 1 0 -1.1 0M415.8 227.1a0.4 0.4 0 1 0 0.7 0a0.4 0.4 0 1 0 -0.7 0M399.6 296.2a0.5 0.5 0 1 0 0.9 0a0.5 0.5 0 1 0 -0.9 0M416.4 296.2a0.5 0.5 0 1 0 1.0 0a0.5 0.5 0 1 0 -1.0 0M407.0 277.5a0.4 0.4 0 1 0 0.9 0a0.4 0.4 0 1 0 -0.9 0M376.4 287.2a0.5 0.5 0 1 0 1.1 0a0.5 0.5 0 1 0 -1.1 0M379.5 241.1a0.5 0.5 0 1 0 0.9 0a0.5 0.5 0 1 0 -0.9 0M364.3 249.3a0.5 0.5 0 1 0 1.0 0a0.5 0.5 0 1 0 -1.0 0M373.7 228.1a0.6 0.6 0 1 0 1.2 0a0.6 0.6 0 1 0 -1.2 0M357.1 239.7a0.5 0.5 0 1 0 1.0 0a0.5 0.5 0 1 0 -1.0 0M423.4 231.0a0.5 0.5 0 1 0 1.0 0a0.5 0.5 0 1 0 -1.0 0M400.5 231.1a0.5 0.5 0 1 0 1.0 0a0.5 0.5 0 1 0 -1.0 0M366.7 266.6a0.5 0.5 0 1 0 1.0 0a0.5 0.5 0 1 0 -1.0 0M381.0 228.6a0.3 0.3 0 1 0 0.6 0a0.3 0.3 0 1 0 -0.6 0M391.5 245.3a0.4 0.4 0 1 0 0.8 0a0.4 0.4 0 1 0 -0.8 0M403.8 248.9a0.5 0.5 0 1 0 1.0 0a0.5 0.5 0 1 0 -1.0 0M395.7 259.4a0.5 0.5 0 1 0 0.9 0a0.5 0.5 0 1 0 -0.9 0M386.0 254.5a0.5 0.5 0 1 0 1.1 0a0.5 0.5 0 1 0 -1.1 0M377.4 280.7a0.4 0.4 0 1 0 0.9 0a0.4 0.4 0 1 0 -0.9 0M414.0 253.7a0.5 0.5 0 1 0 0.9 0a0.5 0.5 0 1 0 -0.9 0M367.7 266.0a0.5 0.5 0 1 0 1.0 0a0.5 0.5 0 1 0 -1.0 0M406.5 230.8a0.4 0.4 0 1 0 0.7 0a0.4 0.4 0 1 0 -0.7 0M387.3 237.9a0.5 0.5 0 1 0 0.9 0a0.5 0.5 0 1 0 -0.9 0M406.8 268.0a0.6 0.6 0 1 0 1.1 0a0.6 0.6 0 1 0 -1.1 0M394.8 287.9a0.4 0.4 0 1 0 0.7 0a0.4 0.4 0 1 0 -0.7 0M396.1 288.9a0.3 0.3 0 1 0 0.7 0a0.3 0.3 0 1 0 -0.7 0M401.3 278.5a0.4 0.4 0 1 0 0.8 0a0.4 0.4 0 1 0 -0.8 0M394.2 265.3a0.5 0.5 0 1 0 1.1 0a0.5 0.5 0 1 0 -1.1 0M359.3 234.6a0.4 0.4 0 1 0 0.8 0a0.4 0.4 0 1 0 -0.8 0M416.4 282.1a0.6 0.6 0 1 0 1.1 0a0.6 0.6 0 1 0 -1.1 0M394.7 256.8a0.6 0.6 0 1 0 1.1 0a0.6 0.6 0 1 0 -1.1 0M388.2 255.4a0.5 0.5 0 1 0 1.1 0a0.5 0.5 0 1 0 -1.1 0M366.8 247.9a0.4 0.4 0 1 0 0.8 0a0.4 0.4 0 1 0 -0.8 0M371.5 275.9a0.5 0.5 0 1 0 1.0 0a0.5 0.5 0 1 0 -1.0 0M375.7 261.1a0.3 0.3 0 1 0 0.7 0a0.3 0.3 0 1 0 -0.7 0M410.1 274.9a0.4 0.4 0 1 0 0.8 0a0.4 0.4 0 1 0 -0.8 0M398.5 269.1a0.4 0.4 0 1 0 0.8 0a0.4 0.4 0 1 0 -0.8 0M366.3 272.5a0.4 0.4 0 1 0 0.8 0a0.4 0.4 0 1 0 -0.8 0M422.3 295.2a0.4 0.4 0 1 0 0.8 0a0.4 0.4 0 1 0 -0.8 0M354.4 278.1a0.3 0.3 0 1 0 0.6 0a0.3 0.3 0 1 0 -0.6 0M378.0 252.1a0.4 0.4 0 1 0 0.8 0a0.4 0.4 0 1 0 -0.8 0M384.4 263.3a0.5 0.5 0 1 0 1.0 0a0.5 0.5 0 1 0 -1.0 0M393.5 280.9a0.6 0.6 0 1 0 1.1 0a0.6 0.6 0 1 0 -1.1 0M354.8 233.8a0.4 0.4 0 1 0 0.7 0a0.4 0.4 0 1 0 -0.7 0M352.1 275.9a0.4 0.4 0 1 0 0.8 0a0.4 0.4 0 1 0 -0.8 0M377.2 237.2a0.5 0.5 0 1 0 1.1 0a0.5 0.5 0 1 0 -1.1 0M371.1 288.4a0.5 0.5 0 1 0 0.9 0a0.5 0.5 0 1 0 -0.9 0M359.3 234.8a0.4 0.4 0 1 0 0.8 0a0.4 0.4 0 1 0 -0.8 0M353.6 241.2a0.5 0.5 0 1 0 1.1 0a0.5 0.5 0 1 0 -1.1 0M399.8 292.4a0.6 0.6 0 1 0 1.1 0a0.6 0.6 0 1 0 -1.1 0M403.7 230.6a0.4 0.4 0 1 0 0.9 0a0.4 0.4 0 1 0 -0.9 0M379.9 235.6a0.4 0.4 0 1 0 0.8 0a0.4 0.4 0 1 0 -0.8 0M422.0 261.6a0.4 0.4 0 1 0 0.9 0a0.4 0.4 0 1 0 -0.9 0M406.1 246.6a0.5 0.5 0 1 0 1.0 0a0.5 0.5 0 1 0 -1.0 0M403.2 233.4a0.4 0.4 0 1 0 0.9 0a0.4 0.4 0 1 0 -0.9 0M363.9 280.0a0.3 0.3 0 1 0 0.7 0a0.3 0.3 0 1 0 -0.7 0M383.2 269.1a0.6 0.6 0 1 0 1.1 0a0.6 0.6 0 1 0 -1.1 0M413.7 296.0a0.5 0.5 0 1 0 1.1 0a0.5 0.5 0 1 0 -1.1 0M369.0 291.6a0.4 0.4 0 1 0 0.7 0a0.4 0.4 0 1 0 -0.7 0M357.1 237.8a0.5 0.5 0 1 0 0.9 0a0.5 0.5 0 1 0 -0.9 0M371.1 236.4a0.4 0.4 0 1 0 0.9 0a0.4 0.4 0 1 0 -0.9 0M407.7 265.3a0.6 0.6 0 1 0 1.2 0a0.6 0.6 0 1 0 -1.2 0M373.4 282.8a0.4 0.4 0 1 0 0.8 0a0.4 0.4 0 1 0 -0.8 0M391.2 261.5a0.5 0.5 0 1 0 1.0 0a0.5 0.5 0 1 0 -1.0 0M373.9 278.5a0.5 0.5 0 1 0 1.0 0a0.5 0.5 0 1 0 -1.0 0M379.1 296.1a0.6 0.6 0 1 0 1.2 0a0.6 0.6 0 1 0 -1.2 0M369.3 276.1a0.4 0.4 0 1 0 0.7 0a0.4 0.4 0 1 0 -0.7 0M396.9 228.1a0.4 0.4 0 1 0 0.9 0a0.4 0.4 0 1 0 -0.9 0M378.6 257.1a0.5 0.5 0 1 0 0.9 0a0.5 0.5 0 1 0 -0.9 0M412.6 294.6a0.3 0.3 0 1 0 0.7 0a0.3 0.3 0 1 0 -0.7 0M369.5 283.4a0.3 0.3 0 1 0 0.7 0a0.3 0.3 0 1 0 -0.7 0M418.2 233.5a0.5 0.5 0 1 0 1.0 0a0.5 0.5 0 1 0 -1.0 0M354.0 288.6a0.4 0.4 0 1 0 0.9 0a0.4 0.4 0 1 0 -0.9 0M372.9 280.4a0.5 0.5 0 1 0 1.0 0a0.5 0.5 0 1 0 -1.0 0M412.0 236.0a0.5 0.5 0 1 0 1.0 0a0.5 0.5 0 1 0 -1.0 0M353.0 247.6a0.4 0.4 0 1 0 0.8 0a0.4 0.4 0 1 0 -0.8 0M390.8 273.8a0.6 0.6 0 1 0 1.1 0a0.6 0.6 0 1 0 -1.1 0M423.4 287.0a0.5 0.5 0 1 0 0.9 0a0.5 0.5 0 1 0 -0.9 0M377.9 272.3a0.4 0.4 0 1 0 0.8 0a0.4 0.4 0 1 0 -0.8 0M366.5 246.4a0.5 0.5 0 1 0 1.0 0a0.5 0.5 0 1 0 -1.0 0M384.4 255.4a0.4 0.4 0 1 0 0.7 0a0.4 0.4 0 1 0 -0.7 0M412.4 226.1a0.6 0.6 0 1 0 1.2 0a0.6 0.6 0 1 0 -1.2 0M365.1 252.8a0.4 0.4 0 1 0 0.7 0a0.4 0.4 0 1 0 -0.7 0M417.4 257.4a0.3 0.3 0 1 0 0.7 0a0.3 0.3 0 1 0 -0.7 0M388.5 273.4a0.5 0.5 0 1 0 1.1 0a0.5 0.5 0 1 0 -1.1 0M366.6 242.6a0.4 0.4 0 1 0 0.8 0a0.4 0.4 0 1 0 -0.8 0M361.5 247.7a0.4 0.4 0 1 0 0.8 0a0.4 0.4 0 1 0 -0.8 0M377.0 272.4a0.4 0.4 0 1 0 0.7 0a0.4 0.4 0 1 0 -0.7 0M382.9 265.5a0.5 0.5 0 1 0 0.9 0a0.5 0.5 0 1 0 -0.9 0M353.8 254.7a0.6 0.6 0 1 0 1.2 0a0.6 0.6 0 1 0 -1.2 0M407.3 287.9a0.4 0.4 0 1 0 0.8 0a0.4 0.4 0 1 0 -0.8 0M421.5 239.2a0.5 0.5 0 1 0 1.1 0a0.5 0.5 0 1 0 -1.1 0M371.8 292.9a0.5 0.5 0 1 0 0.9 0a0.5 0.5 0 1 0 -0.9 0M400.1 254.6a0.4 0.4 0 1 0 0.9 0a0.4 0.4 0 1 0 -0.9 0M408.3 252.6a0.4 0.4 0 1 0 0.9 0a0.4 0.4 0 1 0 -0.9 0M388.4 265.7a0.5 0.5 0 1 0 0.9 0a0.5 0.5 0 1 0 -0.9 0M389.6 249.9a0.6 0.6 0 1 0 1.1 0a0.6 0.6 0 1 0 -1.1 0M358.9 238.5a0.5 0.5 0 1 0 1.0 0a0.5 0.5 0 1 0 -1.0 0M371.6 233.8a0.3 0.3 0 1 0 0.6 0a0.3 0.3 0 1 0 -0.6 0M394.4 229.9a0.4 0.4 0 1 0 0.7 0a0.4 0.4 0 1 0 -0.7 0M355.6 241.9a0.3 0.3 0 1 0 0.7 0a0.3 0.3 0 1 0 -0.7 0M370.4 257.1a0.4 0.4 0 1 0 0.7 0a0.4 0.4 0 1 0 -0.7 0M386.7 271.1a0.5 0.5 0 1 0 1.0 0a0.5 0.5 0 1 0 -1.0 0M355.7 284.8a0.3 0.3 0 1 0 0.6 0a0.3 0.3 0 1 0 -0.6 0M367.5 262.7a0.5 0.5 0 1 0 1.0 0a0.5 0.5 0 1 0 -1.0 0M385.4 260.0a0.4 0.4 0 1 0 0.8 0a0.4 0.4 0 1 0 -0.8 0M363.3 241.4a0.3 0.3 0 1 0 0.7 0a0.3 0.3 0 1 0 -0.7 0M415.2 242.1a0.5 0.5 0 1 0 0.9 0a0.5 0.5 0 1 0 -0.9 0M379.5 238.9a0.5 0.5 0 1 0 0.9 0a0.5 0.5 0 1 0 -0.9 0M381.0 292.4a0.5 0.5 0 1 0 0.9 0a0.5 0.5 0 1 0 -0.9 0M417.6 292.5a0.5 0.5 0 1 0 1.0 0a0.5 0.5 0 1 0 -1.0 0M353.9 248.8a0.5 0.5 0 1 0 0.9 0a0.5 0.5 0 1 0 -0.9 0M386.5 240.7a0.4 0.4 0 1 0 0.8 0a0.4 0.4 0 1 0 -0.8 0M393.0 271.1a0.4 0.4 0 1 0 0.8 0a0.4 0.4 0 1 0 -0.8 0M387.2 241.7a0.6 0.6 0 1 0 1.2 0a0.6 0.6 0 1 0 -1.2 0M390.2 264.5a0.4 0.4 0 1 0 0.7 0a0.4 0.4 0 1 0 -0.7 0M380.5 231.4a0.3 0.3 0 1 0 0.7 0a0.3 0.3 0 1 0 -0.7 0M396.5 295.7a0.5 0.5 0 1 0 0.9 0a0.5 0.5 0 1 0 -0.9 0M423.6 235.1a0.6 0.6 0 1 0 1.2 0a0.6 0.6 0 1 0 -1.2 0M412.5 234.6a0.5 0.5 0 1 0 1.1 0a0.5 0.5 0 1 0 -1.1 0M362.5 266.7a0.5 0.5 0 1 0 1.0 0a0.5 0.5 0 1 0 -1.0 0M369.1 224.1a0.6 0.6 0 1 0 1.2 0a0.6 0.6 0 1 0 -1.2 0M388.1 267.3a0.6 0.6 0 1 0 1.1 0a0.6 0.6 0 1 0 -1.1 0M407.5 279.8a0.6 0.6 0 1 0 1.2 0a0.6 0.6 0 1 0 -1.2 0M363.6 245.0a0.5 0.5 0 1 0 1.0 0a0.5 0.5 0 1 0 -1.0 0M394.8 241.8a0.3 0.3 0 1 0 0.7 0a0.3 0.3 0 1 0 -0.7 0M401.8 261.4a0.3 0.3 0 1 0 0.7 0a0.3 0.3 0 1 0 -0.7 0M403.8 225.1a0.4 0.4 0 1 0 0.8 0a0.4 0.4 0 1 0 -0.8 0M415.7 295.5a0.5 0.5 0 1 0 0.9 0a0.5 0.5 0 1 0 -0.9 0M396.2 256.7a0.4 0.4 0 1 0 0.8 0a0.4 0.4 0 1 0 -0.8 0M407.6 239.7a0.5 0.5 0 1 0 1.0 0a0.5 0.5 0 1 0 -1.0 0M390.2 259.5a0.4 0.4 0 1 0 0.7 0a0.4 0.4 0 1 0 -0.7 0M354.9 288.4a0.5 0.5 0 1 0 1.1 0a0.5 0.5 0 1 0 -1.1 0M387.9 230.1a0.6 0.6 0 1 0 1.1 0a0.6 0.6 0 1 0 -1.1 0" fill="#9060ae" opacity="0.5"/>
</g>
<g clip-path="url(#cfk)">
<rect x="427.3" y="223.9" width="72.6" height="73.4" fill="#c884bc"/>
<g filter="url(#soft2)">
<path d="M426 223 L 458 223 C 456 232, 446 238, 438 242 C 432 246, 429 250, 426 252 Z" fill="#946aae" opacity="0.9"/>
<path d="M426 262 L 464 232 L 468 237 L 426 270 Z" fill="#dc8cbe"/>
<path d="M432 268 C 436 258, 448 256, 452 252 C 454 240, 466 236, 474 242 C 480 250, 478 262, 474 270 C 472 282, 466 292, 452 294 C 440 295, 429 286, 432 268 Z" fill="#9068ae"/>
<ellipse cx="488.5" cy="247" rx="8" ry="8" fill="#966cb0"/>
</g>
<path d="M460.6 251.3a0.3 0.3 0 1 0 0.7 0a0.3 0.3 0 1 0 -0.7 0M451.0 292.6a0.5 0.5 0 1 0 1.0 0a0.5 0.5 0 1 0 -1.0 0M454.4 275.5a0.4 0.4 0 1 0 0.9 0a0.4 0.4 0 1 0 -0.9 0M463.6 291.7a0.5 0.5 0 1 0 1.0 0a0.5 0.5 0 1 0 -1.0 0M477.6 234.6a0.6 0.6 0 1 0 1.2 0a0.6 0.6 0 1 0 -1.2 0M438.5 261.0a0.5 0.5 0 1 0 1.0 0a0.5 0.5 0 1 0 -1.0 0M461.6 244.3a0.6 0.6 0 1 0 1.2 0a0.6 0.6 0 1 0 -1.2 0M466.1 245.9a0.5 0.5 0 1 0 1.0 0a0.5 0.5 0 1 0 -1.0 0M429.4 267.7a0.5 0.5 0 1 0 1.0 0a0.5 0.5 0 1 0 -1.0 0M472.2 264.1a0.4 0.4 0 1 0 0.9 0a0.4 0.4 0 1 0 -0.9 0M434.9 227.8a0.3 0.3 0 1 0 0.6 0a0.3 0.3 0 1 0 -0.6 0M466.3 237.7a0.5 0.5 0 1 0 1.0 0a0.5 0.5 0 1 0 -1.0 0M496.6 267.9a0.6 0.6 0 1 0 1.2 0a0.6 0.6 0 1 0 -1.2 0M492.4 239.8a0.4 0.4 0 1 0 0.7 0a0.4 0.4 0 1 0 -0.7 0M456.3 281.1a0.4 0.4 0 1 0 0.9 0a0.4 0.4 0 1 0 -0.9 0M437.0 254.4a0.5 0.5 0 1 0 1.0 0a0.5 0.5 0 1 0 -1.0 0M465.8 297.2a0.5 0.5 0 1 0 1.0 0a0.5 0.5 0 1 0 -1.0 0M449.5 240.5a0.4 0.4 0 1 0 0.7 0a0.4 0.4 0 1 0 -0.7 0M430.9 250.2a0.5 0.5 0 1 0 1.0 0a0.5 0.5 0 1 0 -1.0 0M499.0 283.1a0.5 0.5 0 1 0 0.9 0a0.5 0.5 0 1 0 -0.9 0M440.0 271.5a0.5 0.5 0 1 0 1.1 0a0.5 0.5 0 1 0 -1.1 0M450.8 229.9a0.5 0.5 0 1 0 1.1 0a0.5 0.5 0 1 0 -1.1 0M459.8 227.0a0.4 0.4 0 1 0 0.7 0a0.4 0.4 0 1 0 -0.7 0M491.1 266.0a0.3 0.3 0 1 0 0.6 0a0.3 0.3 0 1 0 -0.6 0M445.1 251.2a0.4 0.4 0 1 0 0.7 0a0.4 0.4 0 1 0 -0.7 0M426.8 265.3a0.6 0.6 0 1 0 1.2 0a0.6 0.6 0 1 0 -1.2 0M468.1 283.0a0.3 0.3 0 1 0 0.6 0a0.3 0.3 0 1 0 -0.6 0M457.3 276.6a0.4 0.4 0 1 0 0.8 0a0.4 0.4 0 1 0 -0.8 0M461.7 254.4a0.4 0.4 0 1 0 0.8 0a0.4 0.4 0 1 0 -0.8 0M453.5 289.3a0.5 0.5 0 1 0 0.9 0a0.5 0.5 0 1 0 -0.9 0M428.3 287.0a0.5 0.5 0 1 0 1.0 0a0.5 0.5 0 1 0 -1.0 0M479.6 237.9a0.5 0.5 0 1 0 1.1 0a0.5 0.5 0 1 0 -1.1 0M484.0 264.2a0.4 0.4 0 1 0 0.8 0a0.4 0.4 0 1 0 -0.8 0M430.7 224.3a0.5 0.5 0 1 0 1.0 0a0.5 0.5 0 1 0 -1.0 0M432.2 238.1a0.3 0.3 0 1 0 0.7 0a0.3 0.3 0 1 0 -0.7 0M467.9 257.6a0.4 0.4 0 1 0 0.9 0a0.4 0.4 0 1 0 -0.9 0M480.8 248.5a0.5 0.5 0 1 0 1.0 0a0.5 0.5 0 1 0 -1.0 0M475.3 278.6a0.4 0.4 0 1 0 0.7 0a0.4 0.4 0 1 0 -0.7 0M430.6 255.4a0.4 0.4 0 1 0 0.8 0a0.4 0.4 0 1 0 -0.8 0M452.7 264.6a0.5 0.5 0 1 0 1.0 0a0.5 0.5 0 1 0 -1.0 0M478.4 292.9a0.4 0.4 0 1 0 0.8 0a0.4 0.4 0 1 0 -0.8 0M472.8 249.4a0.4 0.4 0 1 0 0.9 0a0.4 0.4 0 1 0 -0.9 0M434.1 246.7a0.5 0.5 0 1 0 1.0 0a0.5 0.5 0 1 0 -1.0 0M429.1 284.6a0.4 0.4 0 1 0 0.9 0a0.4 0.4 0 1 0 -0.9 0M444.7 261.6a0.5 0.5 0 1 0 0.9 0a0.5 0.5 0 1 0 -0.9 0M427.8 229.3a0.5 0.5 0 1 0 0.9 0a0.5 0.5 0 1 0 -0.9 0M430.7 295.7a0.3 0.3 0 1 0 0.7 0a0.3 0.3 0 1 0 -0.7 0M476.6 286.0a0.4 0.4 0 1 0 0.8 0a0.4 0.4 0 1 0 -0.8 0M472.1 234.7a0.6 0.6 0 1 0 1.2 0a0.6 0.6 0 1 0 -1.2 0M458.4 266.8a0.6 0.6 0 1 0 1.2 0a0.6 0.6 0 1 0 -1.2 0M463.2 258.0a0.4 0.4 0 1 0 0.7 0a0.4 0.4 0 1 0 -0.7 0M465.2 293.2a0.3 0.3 0 1 0 0.6 0a0.3 0.3 0 1 0 -0.6 0M465.9 224.5a0.5 0.5 0 1 0 0.9 0a0.5 0.5 0 1 0 -0.9 0M493.4 285.4a0.4 0.4 0 1 0 0.8 0a0.4 0.4 0 1 0 -0.8 0M458.3 248.9a0.5 0.5 0 1 0 1.0 0a0.5 0.5 0 1 0 -1.0 0M469.1 257.1a0.6 0.6 0 1 0 1.2 0a0.6 0.6 0 1 0 -1.2 0M474.5 288.7a0.4 0.4 0 1 0 0.9 0a0.4 0.4 0 1 0 -0.9 0M488.2 282.1a0.5 0.5 0 1 0 1.0 0a0.5 0.5 0 1 0 -1.0 0M477.5 272.3a0.4 0.4 0 1 0 0.7 0a0.4 0.4 0 1 0 -0.7 0M478.0 288.4a0.4 0.4 0 1 0 0.8 0a0.4 0.4 0 1 0 -0.8 0M472.6 232.4a0.3 0.3 0 1 0 0.6 0a0.3 0.3 0 1 0 -0.6 0M442.8 269.2a0.6 0.6 0 1 0 1.2 0a0.6 0.6 0 1 0 -1.2 0M470.5 248.4a0.6 0.6 0 1 0 1.1 0a0.6 0.6 0 1 0 -1.1 0M497.2 295.8a0.5 0.5 0 1 0 1.1 0a0.5 0.5 0 1 0 -1.1 0M454.6 292.8a0.5 0.5 0 1 0 1.1 0a0.5 0.5 0 1 0 -1.1 0M497.4 274.2a0.4 0.4 0 1 0 0.8 0a0.4 0.4 0 1 0 -0.8 0M475.2 269.9a0.3 0.3 0 1 0 0.6 0a0.3 0.3 0 1 0 -0.6 0M495.9 281.6a0.4 0.4 0 1 0 0.9 0a0.4 0.4 0 1 0 -0.9 0M446.2 293.9a0.6 0.6 0 1 0 1.1 0a0.6 0.6 0 1 0 -1.1 0M480.5 250.7a0.5 0.5 0 1 0 1.0 0a0.5 0.5 0 1 0 -1.0 0M465.5 265.7a0.4 0.4 0 1 0 0.8 0a0.4 0.4 0 1 0 -0.8 0M449.5 244.1a0.5 0.5 0 1 0 1.1 0a0.5 0.5 0 1 0 -1.1 0M464.1 249.1a0.6 0.6 0 1 0 1.1 0a0.6 0.6 0 1 0 -1.1 0M433.8 237.9a0.4 0.4 0 1 0 0.7 0a0.4 0.4 0 1 0 -0.7 0M481.1 288.7a0.4 0.4 0 1 0 0.7 0a0.4 0.4 0 1 0 -0.7 0M452.5 259.1a0.6 0.6 0 1 0 1.2 0a0.6 0.6 0 1 0 -1.2 0M453.4 263.6a0.4 0.4 0 1 0 0.8 0a0.4 0.4 0 1 0 -0.8 0M477.9 274.0a0.6 0.6 0 1 0 1.2 0a0.6 0.6 0 1 0 -1.2 0M493.1 286.8a0.5 0.5 0 1 0 0.9 0a0.5 0.5 0 1 0 -0.9 0M477.4 292.6a0.4 0.4 0 1 0 0.9 0a0.4 0.4 0 1 0 -0.9 0M436.0 280.5a0.5 0.5 0 1 0 0.9 0a0.5 0.5 0 1 0 -0.9 0M452.3 290.4a0.5 0.5 0 1 0 0.9 0a0.5 0.5 0 1 0 -0.9 0M440.4 259.7a0.5 0.5 0 1 0 1.0 0a0.5 0.5 0 1 0 -1.0 0M482.4 292.2a0.4 0.4 0 1 0 0.9 0a0.4 0.4 0 1 0 -0.9 0M450.4 229.4a0.3 0.3 0 1 0 0.6 0a0.3 0.3 0 1 0 -0.6 0M477.8 237.0a0.5 0.5 0 1 0 0.9 0a0.5 0.5 0 1 0 -0.9 0M483.7 273.9a0.4 0.4 0 1 0 0.8 0a0.4 0.4 0 1 0 -0.8 0M474.3 230.3a0.5 0.5 0 1 0 0.9 0a0.5 0.5 0 1 0 -0.9 0M499.2 247.0a0.4 0.4 0 1 0 0.8 0a0.4 0.4 0 1 0 -0.8 0M478.4 274.5a0.4 0.4 0 1 0 0.8 0a0.4 0.4 0 1 0 -0.8 0M428.4 262.4a0.5 0.5 0 1 0 1.1 0a0.5 0.5 0 1 0 -1.1 0M433.1 228.8a0.5 0.5 0 1 0 1.0 0a0.5 0.5 0 1 0 -1.0 0M481.8 282.4a0.3 0.3 0 1 0 0.7 0a0.3 0.3 0 1 0 -0.7 0M432.3 244.4a0.5 0.5 0 1 0 0.9 0a0.5 0.5 0 1 0 -0.9 0M464.7 270.1a0.5 0.5 0 1 0 1.0 0a0.5 0.5 0 1 0 -1.0 0M440.2 296.6a0.3 0.3 0 1 0 0.6 0a0.3 0.3 0 1 0 -0.6 0M492.8 267.5a0.4 0.4 0 1 0 0.9 0a0.4 0.4 0 1 0 -0.9 0M445.1 291.2a0.3 0.3 0 1 0 0.6 0a0.3 0.3 0 1 0 -0.6 0M495.3 246.7a0.3 0.3 0 1 0 0.7 0a0.3 0.3 0 1 0 -0.7 0M455.9 232.1a0.3 0.3 0 1 0 0.6 0a0.3 0.3 0 1 0 -0.6 0M483.8 253.2a0.4 0.4 0 1 0 0.9 0a0.4 0.4 0 1 0 -0.9 0M490.7 290.4a0.5 0.5 0 1 0 0.9 0a0.5 0.5 0 1 0 -0.9 0M487.4 265.5a0.5 0.5 0 1 0 1.0 0a0.5 0.5 0 1 0 -1.0 0M485.8 252.2a0.6 0.6 0 1 0 1.1 0a0.6 0.6 0 1 0 -1.1 0M497.1 289.9a0.4 0.4 0 1 0 0.9 0a0.4 0.4 0 1 0 -0.9 0M473.9 297.3a0.4 0.4 0 1 0 0.7 0a0.4 0.4 0 1 0 -0.7 0M494.5 284.8a0.5 0.5 0 1 0 1.1 0a0.5 0.5 0 1 0 -1.1 0M493.0 288.1a0.4 0.4 0 1 0 0.8 0a0.4 0.4 0 1 0 -0.8 0M444.1 237.9a0.4 0.4 0 1 0 0.8 0a0.4 0.4 0 1 0 -0.8 0M460.1 272.0a0.3 0.3 0 1 0 0.6 0a0.3 0.3 0 1 0 -0.6 0M447.1 233.2a0.3 0.3 0 1 0 0.6 0a0.3 0.3 0 1 0 -0.6 0M497.1 231.1a0.5 0.5 0 1 0 1.1 0a0.5 0.5 0 1 0 -1.1 0M496.6 295.2a0.3 0.3 0 1 0 0.7 0a0.3 0.3 0 1 0 -0.7 0M454.7 231.5a0.3 0.3 0 1 0 0.6 0a0.3 0.3 0 1 0 -0.6 0M463.9 242.7a0.4 0.4 0 1 0 0.8 0a0.4 0.4 0 1 0 -0.8 0M473.2 281.0a0.5 0.5 0 1 0 1.1 0a0.5 0.5 0 1 0 -1.1 0M475.1 290.2a0.5 0.5 0 1 0 1.0 0a0.5 0.5 0 1 0 -1.0 0M463.8 289.6a0.5 0.5 0 1 0 0.9 0a0.5 0.5 0 1 0 -0.9 0M499.1 293.1a0.3 0.3 0 1 0 0.7 0a0.3 0.3 0 1 0 -0.7 0M498.5 251.7a0.4 0.4 0 1 0 0.8 0a0.4 0.4 0 1 0 -0.8 0M475.0 294.0a0.6 0.6 0 1 0 1.1 0a0.6 0.6 0 1 0 -1.1 0M449.3 238.3a0.4 0.4 0 1 0 0.7 0a0.4 0.4 0 1 0 -0.7 0M477.4 241.0a0.4 0.4 0 1 0 0.8 0a0.4 0.4 0 1 0 -0.8 0M431.6 272.2a0.3 0.3 0 1 0 0.6 0a0.3 0.3 0 1 0 -0.6 0M432.7 258.0a0.3 0.3 0 1 0 0.6 0a0.3 0.3 0 1 0 -0.6 0M449.1 287.8a0.4 0.4 0 1 0 0.7 0a0.4 0.4 0 1 0 -0.7 0M454.9 229.9a0.5 0.5 0 1 0 0.9 0a0.5 0.5 0 1 0 -0.9 0M436.2 270.4a0.6 0.6 0 1 0 1.1 0a0.6 0.6 0 1 0 -1.1 0M445.3 240.6a0.4 0.4 0 1 0 0.7 0a0.4 0.4 0 1 0 -0.7 0M485.4 295.6a0.6 0.6 0 1 0 1.1 0a0.6 0.6 0 1 0 -1.1 0M445.8 276.7a0.4 0.4 0 1 0 0.8 0a0.4 0.4 0 1 0 -0.8 0M452.1 296.6a0.4 0.4 0 1 0 0.9 0a0.4 0.4 0 1 0 -0.9 0M441.4 248.4a0.4 0.4 0 1 0 0.8 0a0.4 0.4 0 1 0 -0.8 0M485.3 229.4a0.3 0.3 0 1 0 0.6 0a0.3 0.3 0 1 0 -0.6 0M468.3 294.8a0.5 0.5 0 1 0 1.0 0a0.5 0.5 0 1 0 -1.0 0M475.0 254.6a0.5 0.5 0 1 0 1.0 0a0.5 0.5 0 1 0 -1.0 0M434.4 246.7a0.5 0.5 0 1 0 1.0 0a0.5 0.5 0 1 0 -1.0 0M434.9 255.2a0.6 0.6 0 1 0 1.2 0a0.6 0.6 0 1 0 -1.2 0M446.2 264.0a0.4 0.4 0 1 0 0.7 0a0.4 0.4 0 1 0 -0.7 0M436.2 260.9a0.5 0.5 0 1 0 1.0 0a0.5 0.5 0 1 0 -1.0 0M484.2 230.4a0.4 0.4 0 1 0 0.9 0a0.4 0.4 0 1 0 -0.9 0M438.1 280.7a0.4 0.4 0 1 0 0.8 0a0.4 0.4 0 1 0 -0.8 0M473.5 241.2a0.4 0.4 0 1 0 0.8 0a0.4 0.4 0 1 0 -0.8 0M463.2 289.9a0.4 0.4 0 1 0 0.8 0a0.4 0.4 0 1 0 -0.8 0M456.6 225.9a0.5 0.5 0 1 0 0.9 0a0.5 0.5 0 1 0 -0.9 0M444.6 227.8a0.4 0.4 0 1 0 0.8 0a0.4 0.4 0 1 0 -0.8 0M482.2 226.9a0.4 0.4 0 1 0 0.9 0a0.4 0.4 0 1 0 -0.9 0M460.5 278.8a0.3 0.3 0 1 0 0.6 0a0.3 0.3 0 1 0 -0.6 0M477.4 265.2a0.6 0.6 0 1 0 1.2 0a0.6 0.6 0 1 0 -1.2 0M498.8 250.1a0.5 0.5 0 1 0 1.0 0a0.5 0.5 0 1 0 -1.0 0M449.0 244.2a0.5 0.5 0 1 0 1.1 0a0.5 0.5 0 1 0 -1.1 0M445.6 252.4a0.5 0.5 0 1 0 1.0 0a0.5 0.5 0 1 0 -1.0 0M477.6 276.1a0.4 0.4 0 1 0 0.8 0a0.4 0.4 0 1 0 -0.8 0M474.6 284.6a0.5 0.5 0 1 0 1.0 0a0.5 0.5 0 1 0 -1.0 0M453.0 246.1a0.3 0.3 0 1 0 0.7 0a0.3 0.3 0 1 0 -0.7 0M442.0 233.9a0.5 0.5 0 1 0 0.9 0a0.5 0.5 0 1 0 -0.9 0M431.2 260.2a0.5 0.5 0 1 0 1.0 0a0.5 0.5 0 1 0 -1.0 0M429.9 294.4a0.3 0.3 0 1 0 0.6 0a0.3 0.3 0 1 0 -0.6 0M480.5 244.4a0.3 0.3 0 1 0 0.7 0a0.3 0.3 0 1 0 -0.7 0M446.8 291.8a0.4 0.4 0 1 0 0.8 0a0.4 0.4 0 1 0 -0.8 0M469.0 292.0a0.5 0.5 0 1 0 1.1 0a0.5 0.5 0 1 0 -1.1 0M487.4 237.7a0.4 0.4 0 1 0 0.8 0a0.4 0.4 0 1 0 -0.8 0M436.1 267.0a0.5 0.5 0 1 0 1.0 0a0.5 0.5 0 1 0 -1.0 0M484.0 259.1a0.3 0.3 0 1 0 0.6 0a0.3 0.3 0 1 0 -0.6 0M469.6 257.1a0.6 0.6 0 1 0 1.2 0a0.6 0.6 0 1 0 -1.2 0M498.1 255.3a0.5 0.5 0 1 0 1.0 0a0.5 0.5 0 1 0 -1.0 0M486.4 275.2a0.4 0.4 0 1 0 0.8 0a0.4 0.4 0 1 0 -0.8 0M470.0 255.4a0.4 0.4 0 1 0 0.9 0a0.4 0.4 0 1 0 -0.9 0M427.5 273.5a0.5 0.5 0 1 0 0.9 0a0.5 0.5 0 1 0 -0.9 0M476.9 229.6a0.4 0.4 0 1 0 0.8 0a0.4 0.4 0 1 0 -0.8 0M485.9 245.3a0.5 0.5 0 1 0 1.1 0a0.5 0.5 0 1 0 -1.1 0M484.6 279.5a0.3 0.3 0 1 0 0.6 0a0.3 0.3 0 1 0 -0.6 0M485.9 286.8a0.3 0.3 0 1 0 0.6 0a0.3 0.3 0 1 0 -0.6 0M482.5 283.2a0.6 0.6 0 1 0 1.1 0a0.6 0.6 0 1 0 -1.1 0M490.3 224.1a0.4 0.4 0 1 0 0.8 0a0.4 0.4 0 1 0 -0.8 0M495.0 247.3a0.6 0.6 0 1 0 1.2 0a0.6 0.6 0 1 0 -1.2 0M437.3 241.4a0.4 0.4 0 1 0 0.8 0a0.4 0.4 0 1 0 -0.8 0M435.6 233.5a0.5 0.5 0 1 0 0.9 0a0.5 0.5 0 1 0 -0.9 0M497.0 289.9a0.6 0.6 0 1 0 1.1 0a0.6 0.6 0 1 0 -1.1 0M490.9 288.9a0.4 0.4 0 1 0 0.7 0a0.4 0.4 0 1 0 -0.7 0M489.6 285.5a0.4 0.4 0 1 0 0.9 0a0.4 0.4 0 1 0 -0.9 0M465.5 238.9a0.4 0.4 0 1 0 0.8 0a0.4 0.4 0 1 0 -0.8 0M471.2 277.3a0.4 0.4 0 1 0 0.8 0a0.4 0.4 0 1 0 -0.8 0M479.5 249.0a0.3 0.3 0 1 0 0.7 0a0.3 0.3 0 1 0 -0.7 0M463.2 268.9a0.6 0.6 0 1 0 1.1 0a0.6 0.6 0 1 0 -1.1 0M442.3 280.0a0.5 0.5 0 1 0 1.1 0a0.5 0.5 0 1 0 -1.1 0M494.4 258.7a0.4 0.4 0 1 0 0.8 0a0.4 0.4 0 1 0 -0.8 0M460.1 254.4a0.5 0.5 0 1 0 0.9 0a0.5 0.5 0 1 0 -0.9 0M468.4 297.2a0.4 0.4 0 1 0 0.8 0a0.4 0.4 0 1 0 -0.8 0M435.6 242.3a0.3 0.3 0 1 0 0.7 0a0.3 0.3 0 1 0 -0.7 0M435.5 249.9a0.5 0.5 0 1 0 1.0 0a0.5 0.5 0 1 0 -1.0 0M467.6 255.4a0.3 0.3 0 1 0 0.6 0a0.3 0.3 0 1 0 -0.6 0M486.2 236.0a0.4 0.4 0 1 0 0.8 0a0.4 0.4 0 1 0 -0.8 0M453.4 263.1a0.6 0.6 0 1 0 1.1 0a0.6 0.6 0 1 0 -1.1 0M444.5 236.2a0.5 0.5 0 1 0 1.1 0a0.5 0.5 0 1 0 -1.1 0M435.6 273.3a0.5 0.5 0 1 0 1.1 0a0.5 0.5 0 1 0 -1.1 0M458.1 246.7a0.4 0.4 0 1 0 0.7 0a0.4 0.4 0 1 0 -0.7 0M459.7 251.7a0.5 0.5 0 1 0 1.1 0a0.5 0.5 0 1 0 -1.1 0M489.6 287.5a0.4 0.4 0 1 0 0.8 0a0.4 0.4 0 1 0 -0.8 0M448.1 245.9a0.3 0.3 0 1 0 0.7 0a0.3 0.3 0 1 0 -0.7 0M433.6 297.0a0.4 0.4 0 1 0 0.9 0a0.4 0.4 0 1 0 -0.9 0M436.1 242.6a0.4 0.4 0 1 0 0.8 0a0.4 0.4 0 1 0 -0.8 0M428.6 292.7a0.6 0.6 0 1 0 1.1 0a0.6 0.6 0 1 0 -1.1 0M465.0 277.4a0.4 0.4 0 1 0 0.8 0a0.4 0.4 0 1 0 -0.8 0M452.8 268.4a0.4 0.4 0 1 0 0.8 0a0.4 0.4 0 1 0 -0.8 0M456.6 235.5a0.4 0.4 0 1 0 0.7 0a0.4 0.4 0 1 0 -0.7 0M450.5 243.6a0.4 0.4 0 1 0 0.7 0a0.4 0.4 0 1 0 -0.7 0M491.6 281.0a0.5 0.5 0 1 0 1.0 0a0.5 0.5 0 1 0 -1.0 0M479.7 290.3a0.5 0.5 0 1 0 1.1 0a0.5 0.5 0 1 0 -1.1 0M479.9 235.4a0.5 0.5 0 1 0 1.0 0a0.5 0.5 0 1 0 -1.0 0M434.1 269.3a0.3 0.3 0 1 0 0.6 0a0.3 0.3 0 1 0 -0.6 0M479.2 273.5a0.4 0.4 0 1 0 0.7 0a0.4 0.4 0 1 0 -0.7 0M486.5 285.3a0.6 0.6 0 1 0 1.1 0a0.6 0.6 0 1 0 -1.1 0M443.8 231.3a0.4 0.4 0 1 0 0.8 0a0.4 0.4 0 1 0 -0.8 0M436.8 267.6a0.4 0.4 0 1 0 0.8 0a0.4 0.4 0 1 0 -0.8 0M444.1 236.3a0.5 0.5 0 1 0 1.1 0a0.5 0.5 0 1 0 -1.1 0M466.9 227.7a0.4 0.4 0 1 0 0.8 0a0.4 0.4 0 1 0 -0.8 0M455.7 224.2a0.4 0.4 0 1 0 0.8 0a0.4 0.4 0 1 0 -0.8 0M496.8 281.3a0.5 0.5 0 1 0 0.9 0a0.5 0.5 0 1 0 -0.9 0M478.5 229.3a0.3 0.3 0 1 0 0.7 0a0.3 0.3 0 1 0 -0.7 0M450.1 273.0a0.6 0.6 0 1 0 1.1 0a0.6 0.6 0 1 0 -1.1 0M443.7 243.9a0.4 0.4 0 1 0 0.8 0a0.4 0.4 0 1 0 -0.8 0M480.4 261.1a0.3 0.3 0 1 0 0.7 0a0.3 0.3 0 1 0 -0.7 0M444.2 234.2a0.5 0.5 0 1 0 0.9 0a0.5 0.5 0 1 0 -0.9 0M446.3 242.9a0.5 0.5 0 1 0 1.0 0a0.5 0.5 0 1 0 -1.0 0M482.3 226.2a0.5 0.5 0 1 0 1.0 0a0.5 0.5 0 1 0 -1.0 0M473.6 226.8a0.3 0.3 0 1 0 0.7 0a0.3 0.3 0 1 0 -0.7 0M441.1 269.0a0.5 0.5 0 1 0 1.1 0a0.5 0.5 0 1 0 -1.1 0M440.1 240.9a0.4 0.4 0 1 0 0.8 0a0.4 0.4 0 1 0 -0.8 0M452.5 276.9a0.5 0.5 0 1 0 0.9 0a0.5 0.5 0 1 0 -0.9 0M452.0 269.2a0.4 0.4 0 1 0 0.7 0a0.4 0.4 0 1 0 -0.7 0M438.4 290.9a0.6 0.6 0 1 0 1.2 0a0.6 0.6 0 1 0 -1.2 0M435.7 255.2a0.5 0.5 0 1 0 1.1 0a0.5 0.5 0 1 0 -1.1 0M444.7 265.3a0.4 0.4 0 1 0 0.7 0a0.4 0.4 0 1 0 -0.7 0M468.7 233.8a0.4 0.4 0 1 0 0.9 0a0.4 0.4 0 1 0 -0.9 0M492.4 294.0a0.3 0.3 0 1 0 0.6 0a0.3 0.3 0 1 0 -0.6 0M475.6 232.0a0.5 0.5 0 1 0 1.0 0a0.5 0.5 0 1 0 -1.0 0M484.3 232.8a0.4 0.4 0 1 0 0.8 0a0.4 0.4 0 1 0 -0.8 0M441.3 250.3a0.4 0.4 0 1 0 0.8 0a0.4 0.4 0 1 0 -0.8 0M494.8 264.5a0.4 0.4 0 1 0 0.8 0a0.4 0.4 0 1 0 -0.8 0M448.0 267.8a0.6 0.6 0 1 0 1.2 0a0.6 0.6 0 1 0 -1.2 0M480.6 239.1a0.5 0.5 0 1 0 1.0 0a0.5 0.5 0 1 0 -1.0 0M436.3 255.4a0.4 0.4 0 1 0 0.9 0a0.4 0.4 0 1 0 -0.9 0M451.0 280.6a0.5 0.5 0 1 0 0.9 0a0.5 0.5 0 1 0 -0.9 0M433.4 274.6a0.5 0.5 0 1 0 1.1 0a0.5 0.5 0 1 0 -1.1 0M484.1 270.3a0.4 0.4 0 1 0 0.8 0a0.4 0.4 0 1 0 -0.8 0M455.8 262.0a0.5 0.5 0 1 0 1.0 0a0.5 0.5 0 1 0 -1.0 0M438.4 275.9a0.4 0.4 0 1 0 0.9 0a0.4 0.4 0 1 0 -0.9 0M493.7 278.9a0.6 0.6 0 1 0 1.2 0a0.6 0.6 0 1 0 -1.2 0M478.6 277.8a0.4 0.4 0 1 0 0.9 0a0.4 0.4 0 1 0 -0.9 0M490.2 239.7a0.5 0.5 0 1 0 1.0 0a0.5 0.5 0 1 0 -1.0 0M479.7 238.3a0.5 0.5 0 1 0 1.0 0a0.5 0.5 0 1 0 -1.0 0M496.9 257.9a0.6 0.6 0 1 0 1.2 0a0.6 0.6 0 1 0 -1.2 0M462.0 241.5a0.5 0.5 0 1 0 1.1 0a0.5 0.5 0 1 0 -1.1 0M493.6 256.1a0.4 0.4 0 1 0 0.8 0a0.4 0.4 0 1 0 -0.8 0M492.0 225.6a0.3 0.3 0 1 0 0.6 0a0.3 0.3 0 1 0 -0.6 0M472.4 230.0a0.4 0.4 0 1 0 0.8 0a0.4 0.4 0 1 0 -0.8 0M463.4 277.8a0.4 0.4 0 1 0 0.9 0a0.4 0.4 0 1 0 -0.9 0M459.9 229.5a0.4 0.4 0 1 0 0.8 0a0.4 0.4 0 1 0 -0.8 0M442.4 233.8a0.4 0.4 0 1 0 0.9 0a0.4 0.4 0 1 0 -0.9 0M437.6 239.4a0.5 0.5 0 1 0 1.1 0a0.5 0.5 0 1 0 -1.1 0M490.8 230.0a0.5 0.5 0 1 0 1.0 0a0.5 0.5 0 1 0 -1.0 0M434.7 245.7a0.4 0.4 0 1 0 0.8 0a0.4 0.4 0 1 0 -0.8 0M490.7 269.5a0.5 0.5 0 1 0 1.0 0a0.5 0.5 0 1 0 -1.0 0M468.4 279.6a0.6 0.6 0 1 0 1.1 0a0.6 0.6 0 1 0 -1.1 0M468.8 259.2a0.5 0.5 0 1 0 1.0 0a0.5 0.5 0 1 0 -1.0 0M463.6 272.3a0.6 0.6 0 1 0 1.2 0a0.6 0.6 0 1 0 -1.2 0M483.0 226.7a0.4 0.4 0 1 0 0.7 0a0.4 0.4 0 1 0 -0.7 0M452.6 280.3a0.5 0.5 0 1 0 1.1 0a0.5 0.5 0 1 0 -1.1 0M427.5 226.5a0.5 0.5 0 1 0 1.1 0a0.5 0.5 0 1 0 -1.1 0M436.1 296.5a0.4 0.4 0 1 0 0.8 0a0.4 0.4 0 1 0 -0.8 0M430.0 255.8a0.3 0.3 0 1 0 0.6 0a0.3 0.3 0 1 0 -0.6 0M459.2 254.2a0.6 0.6 0 1 0 1.2 0a0.6 0.6 0 1 0 -1.2 0M483.8 224.3a0.4 0.4 0 1 0 0.8 0a0.4 0.4 0 1 0 -0.8 0M499.2 286.1a0.4 0.4 0 1 0 0.7 0a0.4 0.4 0 1 0 -0.7 0M442.5 258.1a0.3 0.3 0 1 0 0.6 0a0.3 0.3 0 1 0 -0.6 0M462.6 275.0a0.5 0.5 0 1 0 1.1 0a0.5 0.5 0 1 0 -1.1 0M493.9 275.8a0.6 0.6 0 1 0 1.1 0a0.6 0.6 0 1 0 -1.1 0M489.9 238.1a0.5 0.5 0 1 0 0.9 0a0.5 0.5 0 1 0 -0.9 0M464.1 247.4a0.4 0.4 0 1 0 0.8 0a0.4 0.4 0 1 0 -0.8 0M454.7 230.4a0.5 0.5 0 1 0 1.0 0a0.5 0.5 0 1 0 -1.0 0M465.5 258.5a0.3 0.3 0 1 0 0.6 0a0.3 0.3 0 1 0 -0.6 0M461.6 280.3a0.4 0.4 0 1 0 0.9 0a0.4 0.4 0 1 0 -0.9 0M498.1 278.2a0.4 0.4 0 1 0 0.8 0a0.4 0.4 0 1 0 -0.8 0M441.7 267.5a0.5 0.5 0 1 0 0.9 0a0.5 0.5 0 1 0 -0.9 0M460.2 266.4a0.4 0.4 0 1 0 0.7 0a0.4 0.4 0 1 0 -0.7 0M445.7 228.3a0.5 0.5 0 1 0 1.0 0a0.5 0.5 0 1 0 -1.0 0M440.2 263.6a0.4 0.4 0 1 0 0.7 0a0.4 0.4 0 1 0 -0.7 0M483.8 295.4a0.4 0.4 0 1 0 0.7 0a0.4 0.4 0 1 0 -0.7 0M446.7 240.0a0.4 0.4 0 1 0 0.9 0a0.4 0.4 0 1 0 -0.9 0M490.7 293.6a0.5 0.5 0 1 0 1.1 0a0.5 0.5 0 1 0 -1.1 0M429.3 287.8a0.4 0.4 0 1 0 0.9 0a0.4 0.4 0 1 0 -0.9 0M489.8 286.9a0.3 0.3 0 1 0 0.7 0a0.3 0.3 0 1 0 -0.7 0M440.3 275.8a0.4 0.4 0 1 0 0.8 0a0.4 0.4 0 1 0 -0.8 0M428.7 254.0a0.4 0.4 0 1 0 0.8 0a0.4 0.4 0 1 0 -0.8 0M427.1 291.7a0.5 0.5 0 1 0 0.9 0a0.5 0.5 0 1 0 -0.9 0M497.6 257.2a0.5 0.5 0 1 0 1.0 0a0.5 0.5 0 1 0 -1.0 0M448.8 239.3a0.4 0.4 0 1 0 0.7 0a0.4 0.4 0 1 0 -0.7 0M462.0 235.1a0.6 0.6 0 1 0 1.1 0a0.6 0.6 0 1 0 -1.1 0M481.8 238.5a0.5 0.5 0 1 0 1.0 0a0.5 0.5 0 1 0 -1.0 0M436.7 249.8a0.5 0.5 0 1 0 0.9 0a0.5 0.5 0 1 0 -0.9 0M477.0 230.0a0.6 0.6 0 1 0 1.2 0a0.6 0.6 0 1 0 -1.2 0M459.4 263.0a0.5 0.5 0 1 0 1.1 0a0.5 0.5 0 1 0 -1.1 0M471.3 262.4a0.4 0.4 0 1 0 0.9 0a0.4 0.4 0 1 0 -0.9 0M437.8 270.2a0.3 0.3 0 1 0 0.6 0a0.3 0.3 0 1 0 -0.6 0M431.3 295.1a0.5 0.5 0 1 0 0.9 0a0.5 0.5 0 1 0 -0.9 0M471.4 274.9a0.6 0.6 0 1 0 1.2 0a0.6 0.6 0 1 0 -1.2 0M479.8 273.6a0.5 0.5 0 1 0 0.9 0a0.5 0.5 0 1 0 -0.9 0M450.8 284.5a0.4 0.4 0 1 0 0.7 0a0.4 0.4 0 1 0 -0.7 0M474.3 244.8a0.3 0.3 0 1 0 0.6 0a0.3 0.3 0 1 0 -0.6 0M467.7 241.5a0.4 0.4 0 1 0 0.8 0a0.4 0.4 0 1 0 -0.8 0M495.2 281.9a0.5 0.5 0 1 0 1.0 0a0.5 0.5 0 1 0 -1.0 0M479.9 270.2a0.3 0.3 0 1 0 0.7 0a0.3 0.3 0 1 0 -0.7 0M440.0 267.0a0.5 0.5 0 1 0 1.1 0a0.5 0.5 0 1 0 -1.1 0M448.5 247.3a0.4 0.4 0 1 0 0.8 0a0.4 0.4 0 1 0 -0.8 0" fill="#ecc0e0" opacity="0.5"/>
<path d="M427.2 260.8a0.6 0.6 0 1 0 1.1 0a0.6 0.6 0 1 0 -1.1 0M441.6 240.4a0.5 0.5 0 1 0 1.1 0a0.5 0.5 0 1 0 -1.1 0M430.8 251.7a0.4 0.4 0 1 0 0.9 0a0.4 0.4 0 1 0 -0.9 0M450.9 289.4a0.3 0.3 0 1 0 0.7 0a0.3 0.3 0 1 0 -0.7 0M457.3 253.1a0.5 0.5 0 1 0 1.0 0a0.5 0.5 0 1 0 -1.0 0M456.0 296.3a0.5 0.5 0 1 0 0.9 0a0.5 0.5 0 1 0 -0.9 0M454.5 268.5a0.3 0.3 0 1 0 0.6 0a0.3 0.3 0 1 0 -0.6 0M442.4 256.5a0.4 0.4 0 1 0 0.8 0a0.4 0.4 0 1 0 -0.8 0M449.1 244.8a0.5 0.5 0 1 0 0.9 0a0.5 0.5 0 1 0 -0.9 0M452.0 281.0a0.5 0.5 0 1 0 0.9 0a0.5 0.5 0 1 0 -0.9 0M495.5 296.3a0.5 0.5 0 1 0 1.0 0a0.5 0.5 0 1 0 -1.0 0M490.9 260.2a0.3 0.3 0 1 0 0.7 0a0.3 0.3 0 1 0 -0.7 0M446.9 233.3a0.5 0.5 0 1 0 1.1 0a0.5 0.5 0 1 0 -1.1 0M436.8 231.2a0.4 0.4 0 1 0 0.9 0a0.4 0.4 0 1 0 -0.9 0M456.7 267.1a0.3 0.3 0 1 0 0.6 0a0.3 0.3 0 1 0 -0.6 0M483.1 248.4a0.5 0.5 0 1 0 1.1 0a0.5 0.5 0 1 0 -1.1 0M472.2 238.6a0.6 0.6 0 1 0 1.1 0a0.6 0.6 0 1 0 -1.1 0M427.9 242.5a0.5 0.5 0 1 0 1.0 0a0.5 0.5 0 1 0 -1.0 0M488.8 268.3a0.4 0.4 0 1 0 0.7 0a0.4 0.4 0 1 0 -0.7 0M497.6 281.6a0.6 0.6 0 1 0 1.1 0a0.6 0.6 0 1 0 -1.1 0M490.3 291.4a0.6 0.6 0 1 0 1.2 0a0.6 0.6 0 1 0 -1.2 0M430.0 234.8a0.3 0.3 0 1 0 0.7 0a0.3 0.3 0 1 0 -0.7 0M468.2 224.6a0.5 0.5 0 1 0 1.0 0a0.5 0.5 0 1 0 -1.0 0M440.3 281.0a0.5 0.5 0 1 0 1.0 0a0.5 0.5 0 1 0 -1.0 0M468.1 224.6a0.5 0.5 0 1 0 0.9 0a0.5 0.5 0 1 0 -0.9 0M494.8 276.4a0.4 0.4 0 1 0 0.9 0a0.4 0.4 0 1 0 -0.9 0M478.2 248.1a0.4 0.4 0 1 0 0.8 0a0.4 0.4 0 1 0 -0.8 0M450.3 291.1a0.5 0.5 0 1 0 0.9 0a0.5 0.5 0 1 0 -0.9 0M452.4 280.6a0.6 0.6 0 1 0 1.1 0a0.6 0.6 0 1 0 -1.1 0M478.0 275.9a0.6 0.6 0 1 0 1.2 0a0.6 0.6 0 1 0 -1.2 0M458.5 295.7a0.4 0.4 0 1 0 0.9 0a0.4 0.4 0 1 0 -0.9 0M443.0 243.0a0.4 0.4 0 1 0 0.9 0a0.4 0.4 0 1 0 -0.9 0M450.3 260.2a0.4 0.4 0 1 0 0.8 0a0.4 0.4 0 1 0 -0.8 0M439.2 226.1a0.4 0.4 0 1 0 0.8 0a0.4 0.4 0 1 0 -0.8 0M431.0 262.9a0.5 0.5 0 1 0 1.0 0a0.5 0.5 0 1 0 -1.0 0M465.7 292.9a0.5 0.5 0 1 0 0.9 0a0.5 0.5 0 1 0 -0.9 0M477.7 280.1a0.4 0.4 0 1 0 0.7 0a0.4 0.4 0 1 0 -0.7 0M484.5 268.6a0.5 0.5 0 1 0 1.1 0a0.5 0.5 0 1 0 -1.1 0M483.4 256.7a0.4 0.4 0 1 0 0.7 0a0.4 0.4 0 1 0 -0.7 0M498.7 277.3a0.4 0.4 0 1 0 0.7 0a0.4 0.4 0 1 0 -0.7 0M470.8 251.9a0.4 0.4 0 1 0 0.9 0a0.4 0.4 0 1 0 -0.9 0M453.0 292.2a0.3 0.3 0 1 0 0.7 0a0.3 0.3 0 1 0 -0.7 0M442.7 256.8a0.6 0.6 0 1 0 1.1 0a0.6 0.6 0 1 0 -1.1 0M463.6 234.3a0.5 0.5 0 1 0 0.9 0a0.5 0.5 0 1 0 -0.9 0M475.8 261.5a0.3 0.3 0 1 0 0.7 0a0.3 0.3 0 1 0 -0.7 0M478.9 272.6a0.5 0.5 0 1 0 1.0 0a0.5 0.5 0 1 0 -1.0 0M445.6 228.2a0.4 0.4 0 1 0 0.8 0a0.4 0.4 0 1 0 -0.8 0M452.3 238.5a0.6 0.6 0 1 0 1.1 0a0.6 0.6 0 1 0 -1.1 0M496.2 225.1a0.4 0.4 0 1 0 0.7 0a0.4 0.4 0 1 0 -0.7 0M444.7 265.5a0.4 0.4 0 1 0 0.8 0a0.4 0.4 0 1 0 -0.8 0M468.4 267.5a0.6 0.6 0 1 0 1.1 0a0.6 0.6 0 1 0 -1.1 0M439.1 232.9a0.3 0.3 0 1 0 0.7 0a0.3 0.3 0 1 0 -0.7 0M481.7 227.3a0.4 0.4 0 1 0 0.8 0a0.4 0.4 0 1 0 -0.8 0M474.4 270.7a0.3 0.3 0 1 0 0.6 0a0.3 0.3 0 1 0 -0.6 0M465.6 260.6a0.5 0.5 0 1 0 1.0 0a0.5 0.5 0 1 0 -1.0 0M481.7 248.9a0.4 0.4 0 1 0 0.8 0a0.4 0.4 0 1 0 -0.8 0M444.0 257.1a0.5 0.5 0 1 0 1.1 0a0.5 0.5 0 1 0 -1.1 0M433.0 244.7a0.3 0.3 0 1 0 0.6 0a0.3 0.3 0 1 0 -0.6 0M444.6 278.2a0.6 0.6 0 1 0 1.1 0a0.6 0.6 0 1 0 -1.1 0M431.5 241.8a0.5 0.5 0 1 0 1.1 0a0.5 0.5 0 1 0 -1.1 0M451.7 239.7a0.6 0.6 0 1 0 1.1 0a0.6 0.6 0 1 0 -1.1 0M445.8 225.4a0.6 0.6 0 1 0 1.2 0a0.6 0.6 0 1 0 -1.2 0M488.1 251.5a0.3 0.3 0 1 0 0.6 0a0.3 0.3 0 1 0 -0.6 0M471.2 241.6a0.4 0.4 0 1 0 0.7 0a0.4 0.4 0 1 0 -0.7 0M481.3 280.3a0.4 0.4 0 1 0 0.9 0a0.4 0.4 0 1 0 -0.9 0M492.3 235.4a0.5 0.5 0 1 0 1.1 0a0.5 0.5 0 1 0 -1.1 0M434.4 248.4a0.4 0.4 0 1 0 0.9 0a0.4 0.4 0 1 0 -0.9 0M481.2 236.7a0.4 0.4 0 1 0 0.9 0a0.4 0.4 0 1 0 -0.9 0M460.2 262.2a0.4 0.4 0 1 0 0.9 0a0.4 0.4 0 1 0 -0.9 0M492.7 272.9a0.6 0.6 0 1 0 1.1 0a0.6 0.6 0 1 0 -1.1 0M429.4 287.0a0.5 0.5 0 1 0 1.0 0a0.5 0.5 0 1 0 -1.0 0M491.3 261.3a0.4 0.4 0 1 0 0.8 0a0.4 0.4 0 1 0 -0.8 0M437.9 266.1a0.5 0.5 0 1 0 0.9 0a0.5 0.5 0 1 0 -0.9 0M468.7 281.3a0.5 0.5 0 1 0 1.1 0a0.5 0.5 0 1 0 -1.1 0M455.7 280.8a0.3 0.3 0 1 0 0.6 0a0.3 0.3 0 1 0 -0.6 0M466.1 294.5a0.4 0.4 0 1 0 0.8 0a0.4 0.4 0 1 0 -0.8 0M461.6 258.2a0.4 0.4 0 1 0 0.7 0a0.4 0.4 0 1 0 -0.7 0M477.7 236.6a0.6 0.6 0 1 0 1.1 0a0.6 0.6 0 1 0 -1.1 0M445.0 233.2a0.3 0.3 0 1 0 0.6 0a0.3 0.3 0 1 0 -0.6 0M494.7 232.9a0.5 0.5 0 1 0 1.1 0a0.5 0.5 0 1 0 -1.1 0M435.2 251.6a0.5 0.5 0 1 0 1.1 0a0.5 0.5 0 1 0 -1.1 0M473.8 235.0a0.5 0.5 0 1 0 1.1 0a0.5 0.5 0 1 0 -1.1 0M451.6 293.2a0.5 0.5 0 1 0 0.9 0a0.5 0.5 0 1 0 -0.9 0M464.6 250.6a0.4 0.4 0 1 0 0.8 0a0.4 0.4 0 1 0 -0.8 0M489.7 251.3a0.4 0.4 0 1 0 0.7 0a0.4 0.4 0 1 0 -0.7 0M480.3 225.8a0.6 0.6 0 1 0 1.1 0a0.6 0.6 0 1 0 -1.1 0M457.4 246.4a0.3 0.3 0 1 0 0.6 0a0.3 0.3 0 1 0 -0.6 0M467.0 284.2a0.6 0.6 0 1 0 1.2 0a0.6 0.6 0 1 0 -1.2 0M456.2 297.2a0.5 0.5 0 1 0 0.9 0a0.5 0.5 0 1 0 -0.9 0M449.3 237.7a0.5 0.5 0 1 0 1.0 0a0.5 0.5 0 1 0 -1.0 0M497.3 272.3a0.5 0.5 0 1 0 1.0 0a0.5 0.5 0 1 0 -1.0 0M471.8 285.3a0.6 0.6 0 1 0 1.2 0a0.6 0.6 0 1 0 -1.2 0M457.7 261.2a0.5 0.5 0 1 0 1.0 0a0.5 0.5 0 1 0 -1.0 0M486.3 271.2a0.4 0.4 0 1 0 0.8 0a0.4 0.4 0 1 0 -0.8 0M496.2 226.6a0.5 0.5 0 1 0 0.9 0a0.5 0.5 0 1 0 -0.9 0M452.4 272.4a0.4 0.4 0 1 0 0.9 0a0.4 0.4 0 1 0 -0.9 0M436.4 230.2a0.5 0.5 0 1 0 0.9 0a0.5 0.5 0 1 0 -0.9 0M433.0 241.5a0.5 0.5 0 1 0 0.9 0a0.5 0.5 0 1 0 -0.9 0M430.8 249.1a0.4 0.4 0 1 0 0.8 0a0.4 0.4 0 1 0 -0.8 0M440.6 272.6a0.3 0.3 0 1 0 0.6 0a0.3 0.3 0 1 0 -0.6 0M481.6 270.1a0.4 0.4 0 1 0 0.8 0a0.4 0.4 0 1 0 -0.8 0M488.5 245.9a0.4 0.4 0 1 0 0.8 0a0.4 0.4 0 1 0 -0.8 0M496.2 253.2a0.5 0.5 0 1 0 0.9 0a0.5 0.5 0 1 0 -0.9 0M430.2 252.9a0.4 0.4 0 1 0 0.8 0a0.4 0.4 0 1 0 -0.8 0M486.9 290.0a0.4 0.4 0 1 0 0.8 0a0.4 0.4 0 1 0 -0.8 0M458.0 239.5a0.5 0.5 0 1 0 1.0 0a0.5 0.5 0 1 0 -1.0 0M495.3 291.8a0.5 0.5 0 1 0 0.9 0a0.5 0.5 0 1 0 -0.9 0M454.4 283.6a0.5 0.5 0 1 0 0.9 0a0.5 0.5 0 1 0 -0.9 0M429.8 246.1a0.5 0.5 0 1 0 0.9 0a0.5 0.5 0 1 0 -0.9 0M483.0 264.4a0.3 0.3 0 1 0 0.7 0a0.3 0.3 0 1 0 -0.7 0M427.3 245.2a0.4 0.4 0 1 0 0.7 0a0.4 0.4 0 1 0 -0.7 0M431.3 260.6a0.5 0.5 0 1 0 0.9 0a0.5 0.5 0 1 0 -0.9 0M447.3 270.2a0.4 0.4 0 1 0 0.8 0a0.4 0.4 0 1 0 -0.8 0M467.8 231.1a0.6 0.6 0 1 0 1.1 0a0.6 0.6 0 1 0 -1.1 0M489.5 263.9a0.6 0.6 0 1 0 1.2 0a0.6 0.6 0 1 0 -1.2 0M494.8 262.3a0.4 0.4 0 1 0 0.8 0a0.4 0.4 0 1 0 -0.8 0M481.7 225.6a0.5 0.5 0 1 0 1.0 0a0.5 0.5 0 1 0 -1.0 0M480.8 232.0a0.5 0.5 0 1 0 0.9 0a0.5 0.5 0 1 0 -0.9 0M482.9 294.1a0.5 0.5 0 1 0 1.0 0a0.5 0.5 0 1 0 -1.0 0M439.0 241.3a0.5 0.5 0 1 0 1.0 0a0.5 0.5 0 1 0 -1.0 0M451.2 267.2a0.4 0.4 0 1 0 0.8 0a0.4 0.4 0 1 0 -0.8 0M443.8 295.7a0.5 0.5 0 1 0 1.0 0a0.5 0.5 0 1 0 -1.0 0M442.0 259.4a0.3 0.3 0 1 0 0.6 0a0.3 0.3 0 1 0 -0.6 0M471.3 254.9a0.4 0.4 0 1 0 0.7 0a0.4 0.4 0 1 0 -0.7 0M486.8 278.8a0.4 0.4 0 1 0 0.8 0a0.4 0.4 0 1 0 -0.8 0M446.1 243.5a0.5 0.5 0 1 0 0.9 0a0.5 0.5 0 1 0 -0.9 0M440.4 285.8a0.4 0.4 0 1 0 0.9 0a0.4 0.4 0 1 0 -0.9 0M474.7 268.2a0.4 0.4 0 1 0 0.8 0a0.4 0.4 0 1 0 -0.8 0M485.8 274.3a0.4 0.4 0 1 0 0.7 0a0.4 0.4 0 1 0 -0.7 0M429.5 240.2a0.4 0.4 0 1 0 0.9 0a0.4 0.4 0 1 0 -0.9 0M496.0 224.2a0.3 0.3 0 1 0 0.6 0a0.3 0.3 0 1 0 -0.6 0M444.4 290.4a0.4 0.4 0 1 0 0.8 0a0.4 0.4 0 1 0 -0.8 0M446.8 276.2a0.3 0.3 0 1 0 0.6 0a0.3 0.3 0 1 0 -0.6 0M481.9 260.5a0.5 0.5 0 1 0 1.0 0a0.5 0.5 0 1 0 -1.0 0M439.0 250.1a0.5 0.5 0 1 0 1.0 0a0.5 0.5 0 1 0 -1.0 0M427.1 261.0a0.6 0.6 0 1 0 1.1 0a0.6 0.6 0 1 0 -1.1 0M492.8 250.8a0.5 0.5 0 1 0 1.0 0a0.5 0.5 0 1 0 -1.0 0M438.8 276.4a0.5 0.5 0 1 0 1.0 0a0.5 0.5 0 1 0 -1.0 0M479.2 281.9a0.5 0.5 0 1 0 1.0 0a0.5 0.5 0 1 0 -1.0 0M435.5 277.0a0.4 0.4 0 1 0 0.9 0a0.4 0.4 0 1 0 -0.9 0M461.6 234.0a0.6 0.6 0 1 0 1.2 0a0.6 0.6 0 1 0 -1.2 0M435.2 226.6a0.5 0.5 0 1 0 1.0 0a0.5 0.5 0 1 0 -1.0 0M470.8 232.1a0.5 0.5 0 1 0 1.1 0a0.5 0.5 0 1 0 -1.1 0M454.2 286.5a0.4 0.4 0 1 0 0.7 0a0.4 0.4 0 1 0 -0.7 0M486.5 268.2a0.4 0.4 0 1 0 0.8 0a0.4 0.4 0 1 0 -0.8 0M450.6 289.6a0.5 0.5 0 1 0 0.9 0a0.5 0.5 0 1 0 -0.9 0M441.4 283.0a0.5 0.5 0 1 0 1.0 0a0.5 0.5 0 1 0 -1.0 0M462.4 284.2a0.5 0.5 0 1 0 1.1 0a0.5 0.5 0 1 0 -1.1 0M473.4 275.6a0.4 0.4 0 1 0 0.8 0a0.4 0.4 0 1 0 -0.8 0M442.9 291.4a0.5 0.5 0 1 0 1.0 0a0.5 0.5 0 1 0 -1.0 0M472.0 236.2a0.5 0.5 0 1 0 1.1 0a0.5 0.5 0 1 0 -1.1 0M440.6 283.5a0.4 0.4 0 1 0 0.8 0a0.4 0.4 0 1 0 -0.8 0M491.5 294.2a0.3 0.3 0 1 0 0.7 0a0.3 0.3 0 1 0 -0.7 0M460.5 228.9a0.5 0.5 0 1 0 0.9 0a0.5 0.5 0 1 0 -0.9 0M440.6 231.8a0.5 0.5 0 1 0 1.0 0a0.5 0.5 0 1 0 -1.0 0M491.2 257.5a0.6 0.6 0 1 0 1.1 0a0.6 0.6 0 1 0 -1.1 0M491.4 285.4a0.6 0.6 0 1 0 1.1 0a0.6 0.6 0 1 0 -1.1 0M441.8 296.1a0.6 0.6 0 1 0 1.1 0a0.6 0.6 0 1 0 -1.1 0M431.8 280.0a0.4 0.4 0 1 0 0.9 0a0.4 0.4 0 1 0 -0.9 0M475.9 267.2a0.6 0.6 0 1 0 1.2 0a0.6 0.6 0 1 0 -1.2 0M445.4 275.8a0.5 0.5 0 1 0 1.1 0a0.5 0.5 0 1 0 -1.1 0M460.3 291.0a0.3 0.3 0 1 0 0.6 0a0.3 0.3 0 1 0 -0.6 0M478.0 247.3a0.3 0.3 0 1 0 0.7 0a0.3 0.3 0 1 0 -0.7 0M447.2 271.4a0.5 0.5 0 1 0 1.0 0a0.5 0.5 0 1 0 -1.0 0M438.0 255.9a0.4 0.4 0 1 0 0.8 0a0.4 0.4 0 1 0 -0.8 0M433.8 283.5a0.6 0.6 0 1 0 1.1 0a0.6 0.6 0 1 0 -1.1 0M434.2 255.7a0.5 0.5 0 1 0 1.0 0a0.5 0.5 0 1 0 -1.0 0M432.9 228.0a0.5 0.5 0 1 0 0.9 0a0.5 0.5 0 1 0 -0.9 0M480.5 268.6a0.6 0.6 0 1 0 1.2 0a0.6 0.6 0 1 0 -1.2 0M438.3 277.9a0.5 0.5 0 1 0 1.0 0a0.5 0.5 0 1 0 -1.0 0M479.0 293.9a0.3 0.3 0 1 0 0.7 0a0.3 0.3 0 1 0 -0.7 0M469.3 239.8a0.5 0.5 0 1 0 1.0 0a0.5 0.5 0 1 0 -1.0 0M431.9 268.2a0.5 0.5 0 1 0 1.0 0a0.5 0.5 0 1 0 -1.0 0M466.3 224.1a0.5 0.5 0 1 0 1.1 0a0.5 0.5 0 1 0 -1.1 0M445.1 235.8a0.4 0.4 0 1 0 0.9 0a0.4 0.4 0 1 0 -0.9 0M483.2 236.9a0.4 0.4 0 1 0 0.8 0a0.4 0.4 0 1 0 -0.8 0M490.6 278.7a0.5 0.5 0 1 0 0.9 0a0.5 0.5 0 1 0 -0.9 0M453.0 257.7a0.5 0.5 0 1 0 1.1 0a0.5 0.5 0 1 0 -1.1 0M463.1 225.1a0.3 0.3 0 1 0 0.6 0a0.3 0.3 0 1 0 -0.6 0M489.5 262.0a0.6 0.6 0 1 0 1.2 0a0.6 0.6 0 1 0 -1.2 0M471.1 265.7a0.4 0.4 0 1 0 0.7 0a0.4 0.4 0 1 0 -0.7 0M458.0 284.1a0.4 0.4 0 1 0 0.8 0a0.4 0.4 0 1 0 -0.8 0M455.8 293.3a0.4 0.4 0 1 0 0.9 0a0.4 0.4 0 1 0 -0.9 0M485.2 239.4a0.5 0.5 0 1 0 0.9 0a0.5 0.5 0 1 0 -0.9 0M462.9 257.9a0.3 0.3 0 1 0 0.6 0a0.3 0.3 0 1 0 -0.6 0M464.4 267.6a0.6 0.6 0 1 0 1.1 0a0.6 0.6 0 1 0 -1.1 0M496.2 281.4a0.4 0.4 0 1 0 0.7 0a0.4 0.4 0 1 0 -0.7 0M444.9 256.2a0.4 0.4 0 1 0 0.8 0a0.4 0.4 0 1 0 -0.8 0M440.0 284.0a0.4 0.4 0 1 0 0.9 0a0.4 0.4 0 1 0 -0.9 0M444.0 286.2a0.3 0.3 0 1 0 0.7 0a0.3 0.3 0 1 0 -0.7 0M494.6 234.6a0.4 0.4 0 1 0 0.7 0a0.4 0.4 0 1 0 -0.7 0M435.7 280.8a0.5 0.5 0 1 0 0.9 0a0.5 0.5 0 1 0 -0.9 0M478.5 274.4a0.5 0.5 0 1 0 1.0 0a0.5 0.5 0 1 0 -1.0 0M446.5 251.6a0.4 0.4 0 1 0 0.8 0a0.4 0.4 0 1 0 -0.8 0M475.0 254.7a0.3 0.3 0 1 0 0.7 0a0.3 0.3 0 1 0 -0.7 0M458.1 268.7a0.4 0.4 0 1 0 0.8 0a0.4 0.4 0 1 0 -0.8 0M437.2 273.9a0.6 0.6 0 1 0 1.1 0a0.6 0.6 0 1 0 -1.1 0M461.5 288.8a0.6 0.6 0 1 0 1.2 0a0.6 0.6 0 1 0 -1.2 0M427.3 237.7a0.3 0.3 0 1 0 0.7 0a0.3 0.3 0 1 0 -0.7 0M479.8 287.1a0.4 0.4 0 1 0 0.9 0a0.4 0.4 0 1 0 -0.9 0M457.2 250.2a0.4 0.4 0 1 0 0.7 0a0.4 0.4 0 1 0 -0.7 0M459.4 235.3a0.3 0.3 0 1 0 0.6 0a0.3 0.3 0 1 0 -0.6 0M447.6 224.5a0.3 0.3 0 1 0 0.7 0a0.3 0.3 0 1 0 -0.7 0M469.4 247.9a0.5 0.5 0 1 0 1.0 0a0.5 0.5 0 1 0 -1.0 0M436.6 232.3a0.4 0.4 0 1 0 0.7 0a0.4 0.4 0 1 0 -0.7 0M497.1 234.0a0.5 0.5 0 1 0 0.9 0a0.5 0.5 0 1 0 -0.9 0M483.0 232.5a0.5 0.5 0 1 0 1.0 0a0.5 0.5 0 1 0 -1.0 0M497.5 265.0a0.6 0.6 0 1 0 1.1 0a0.6 0.6 0 1 0 -1.1 0M495.3 272.2a0.3 0.3 0 1 0 0.7 0a0.3 0.3 0 1 0 -0.7 0M440.1 267.2a0.3 0.3 0 1 0 0.6 0a0.3 0.3 0 1 0 -0.6 0M436.0 278.7a0.3 0.3 0 1 0 0.6 0a0.3 0.3 0 1 0 -0.6 0M492.0 273.8a0.5 0.5 0 1 0 0.9 0a0.5 0.5 0 1 0 -0.9 0M488.2 248.8a0.6 0.6 0 1 0 1.2 0a0.6 0.6 0 1 0 -1.2 0M495.1 268.6a0.3 0.3 0 1 0 0.7 0a0.3 0.3 0 1 0 -0.7 0M482.9 280.7a0.5 0.5 0 1 0 1.0 0a0.5 0.5 0 1 0 -1.0 0M482.5 249.3a0.5 0.5 0 1 0 0.9 0a0.5 0.5 0 1 0 -0.9 0M498.3 279.3a0.4 0.4 0 1 0 0.9 0a0.4 0.4 0 1 0 -0.9 0M458.1 268.9a0.5 0.5 0 1 0 1.0 0a0.5 0.5 0 1 0 -1.0 0M494.0 233.1a0.6 0.6 0 1 0 1.2 0a0.6 0.6 0 1 0 -1.2 0M489.8 293.5a0.4 0.4 0 1 0 0.9 0a0.4 0.4 0 1 0 -0.9 0M472.6 292.5a0.4 0.4 0 1 0 0.7 0a0.4 0.4 0 1 0 -0.7 0M457.5 296.2a0.3 0.3 0 1 0 0.7 0a0.3 0.3 0 1 0 -0.7 0M483.1 268.3a0.3 0.3 0 1 0 0.6 0a0.3 0.3 0 1 0 -0.6 0M497.4 259.1a0.5 0.5 0 1 0 1.1 0a0.5 0.5 0 1 0 -1.1 0M453.9 252.4a0.3 0.3 0 1 0 0.6 0a0.3 0.3 0 1 0 -0.6 0M486.7 266.5a0.5 0.5 0 1 0 1.1 0a0.5 0.5 0 1 0 -1.1 0M493.7 244.0a0.4 0.4 0 1 0 0.9 0a0.4 0.4 0 1 0 -0.9 0M460.4 268.6a0.5 0.5 0 1 0 0.9 0a0.5 0.5 0 1 0 -0.9 0M462.0 284.7a0.6 0.6 0 1 0 1.2 0a0.6 0.6 0 1 0 -1.2 0M498.3 265.5a0.5 0.5 0 1 0 1.0 0a0.5 0.5 0 1 0 -1.0 0M443.1 238.2a0.5 0.5 0 1 0 0.9 0a0.5 0.5 0 1 0 -0.9 0M450.3 269.2a0.5 0.5 0 1 0 0.9 0a0.5 0.5 0 1 0 -0.9 0M473.0 234.2a0.5 0.5 0 1 0 1.1 0a0.5 0.5 0 1 0 -1.1 0M457.6 234.5a0.4 0.4 0 1 0 0.8 0a0.4 0.4 0 1 0 -0.8 0M494.7 254.6a0.4 0.4 0 1 0 0.7 0a0.4 0.4 0 1 0 -0.7 0M480.2 280.6a0.4 0.4 0 1 0 0.9 0a0.4 0.4 0 1 0 -0.9 0M474.5 275.2a0.3 0.3 0 1 0 0.7 0a0.3 0.3 0 1 0 -0.7 0M442.0 286.2a0.5 0.5 0 1 0 1.1 0a0.5 0.5 0 1 0 -1.1 0M452.6 228.3a0.6 0.6 0 1 0 1.2 0a0.6 0.6 0 1 0 -1.2 0M458.5 261.0a0.5 0.5 0 1 0 1.0 0a0.5 0.5 0 1 0 -1.0 0M492.0 280.2a0.4 0.4 0 1 0 0.8 0a0.4 0.4 0 1 0 -0.8 0M462.7 295.0a0.3 0.3 0 1 0 0.6 0a0.3 0.3 0 1 0 -0.6 0M458.3 248.9a0.4 0.4 0 1 0 0.8 0a0.4 0.4 0 1 0 -0.8 0M440.6 278.3a0.4 0.4 0 1 0 0.9 0a0.4 0.4 0 1 0 -0.9 0M448.6 258.4a0.5 0.5 0 1 0 1.1 0a0.5 0.5 0 1 0 -1.1 0M435.1 227.7a0.3 0.3 0 1 0 0.6 0a0.3 0.3 0 1 0 -0.6 0M437.7 236.5a0.5 0.5 0 1 0 1.1 0a0.5 0.5 0 1 0 -1.1 0M485.9 263.1a0.5 0.5 0 1 0 1.0 0a0.5 0.5 0 1 0 -1.0 0M477.3 294.3a0.4 0.4 0 1 0 0.8 0a0.4 0.4 0 1 0 -0.8 0M434.8 242.3a0.6 0.6 0 1 0 1.1 0a0.6 0.6 0 1 0 -1.1 0M458.3 293.5a0.4 0.4 0 1 0 0.9 0a0.4 0.4 0 1 0 -0.9 0M471.8 253.9a0.3 0.3 0 1 0 0.6 0a0.3 0.3 0 1 0 -0.6 0M475.5 248.7a0.5 0.5 0 1 0 1.1 0a0.5 0.5 0 1 0 -1.1 0M464.2 272.0a0.4 0.4 0 1 0 0.9 0a0.4 0.4 0 1 0 -0.9 0M447.3 273.4a0.4 0.4 0 1 0 0.9 0a0.4 0.4 0 1 0 -0.9 0M452.8 279.0a0.5 0.5 0 1 0 1.0 0a0.5 0.5 0 1 0 -1.0 0M473.6 242.1a0.4 0.4 0 1 0 0.7 0a0.4 0.4 0 1 0 -0.7 0M484.5 262.9a0.5 0.5 0 1 0 0.9 0a0.5 0.5 0 1 0 -0.9 0M435.1 296.5a0.6 0.6 0 1 0 1.1 0a0.6 0.6 0 1 0 -1.1 0M493.2 277.3a0.3 0.3 0 1 0 0.7 0a0.3 0.3 0 1 0 -0.7 0M471.5 231.0a0.3 0.3 0 1 0 0.6 0a0.3 0.3 0 1 0 -0.6 0M438.9 286.3a0.4 0.4 0 1 0 0.7 0a0.4 0.4 0 1 0 -0.7 0M427.4 229.8a0.5 0.5 0 1 0 1.1 0a0.5 0.5 0 1 0 -1.1 0M476.5 238.8a0.3 0.3 0 1 0 0.7 0a0.3 0.3 0 1 0 -0.7 0M432.7 271.8a0.6 0.6 0 1 0 1.1 0a0.6 0.6 0 1 0 -1.1 0M456.5 230.1a0.6 0.6 0 1 0 1.2 0a0.6 0.6 0 1 0 -1.2 0M463.5 294.9a0.5 0.5 0 1 0 1.0 0a0.5 0.5 0 1 0 -1.0 0M461.2 224.1a0.3 0.3 0 1 0 0.7 0a0.3 0.3 0 1 0 -0.7 0M479.7 279.3a0.6 0.6 0 1 0 1.2 0a0.6 0.6 0 1 0 -1.2 0M452.3 272.2a0.4 0.4 0 1 0 0.8 0a0.4 0.4 0 1 0 -0.8 0M466.5 259.7a0.3 0.3 0 1 0 0.6 0a0.3 0.3 0 1 0 -0.6 0M490.1 291.8a0.4 0.4 0 1 0 0.9 0a0.4 0.4 0 1 0 -0.9 0M437.9 244.7a0.5 0.5 0 1 0 1.0 0a0.5 0.5 0 1 0 -1.0 0M445.7 295.7a0.6 0.6 0 1 0 1.2 0a0.6 0.6 0 1 0 -1.2 0M464.7 261.8a0.5 0.5 0 1 0 1.0 0a0.5 0.5 0 1 0 -1.0 0M467.4 253.4a0.4 0.4 0 1 0 0.7 0a0.4 0.4 0 1 0 -0.7 0M433.9 273.1a0.5 0.5 0 1 0 1.1 0a0.5 0.5 0 1 0 -1.1 0M466.8 277.7a0.4 0.4 0 1 0 0.9 0a0.4 0.4 0 1 0 -0.9 0M498.7 242.8a0.3 0.3 0 1 0 0.7 0a0.3 0.3 0 1 0 -0.7 0M483.6 295.6a0.4 0.4 0 1 0 0.7 0a0.4 0.4 0 1 0 -0.7 0M442.2 251.3a0.4 0.4 0 1 0 0.8 0a0.4 0.4 0 1 0 -0.8 0M451.1 297.1a0.6 0.6 0 1 0 1.1 0a0.6 0.6 0 1 0 -1.1 0M473.1 272.2a0.4 0.4 0 1 0 0.7 0a0.4 0.4 0 1 0 -0.7 0M462.2 293.6a0.5 0.5 0 1 0 0.9 0a0.5 0.5 0 1 0 -0.9 0M453.5 267.5a0.4 0.4 0 1 0 0.8 0a0.4 0.4 0 1 0 -0.8 0M431.1 250.2a0.5 0.5 0 1 0 0.9 0a0.5 0.5 0 1 0 -0.9 0M478.6 279.9a0.4 0.4 0 1 0 0.7 0a0.4 0.4 0 1 0 -0.7 0M431.1 292.3a0.4 0.4 0 1 0 0.8 0a0.4 0.4 0 1 0 -0.8 0M443.4 237.6a0.4 0.4 0 1 0 0.9 0a0.4 0.4 0 1 0 -0.9 0M490.4 271.8a0.5 0.5 0 1 0 0.9 0a0.5 0.5 0 1 0 -0.9 0M464.6 232.8a0.6 0.6 0 1 0 1.2 0a0.6 0.6 0 1 0 -1.2 0M481.3 268.1a0.6 0.6 0 1 0 1.2 0a0.6 0.6 0 1 0 -1.2 0M449.4 250.6a0.3 0.3 0 1 0 0.7 0a0.3 0.3 0 1 0 -0.7 0M458.2 255.6a0.4 0.4 0 1 0 0.8 0a0.4 0.4 0 1 0 -0.8 0M484.6 233.9a0.5 0.5 0 1 0 1.1 0a0.5 0.5 0 1 0 -1.1 0M490.4 231.8a0.5 0.5 0 1 0 1.0 0a0.5 0.5 0 1 0 -1.0 0M487.1 288.7a0.3 0.3 0 1 0 0.7 0a0.3 0.3 0 1 0 -0.7 0M481.1 274.4a0.6 0.6 0 1 0 1.1 0a0.6 0.6 0 1 0 -1.1 0M481.4 235.9a0.4 0.4 0 1 0 0.7 0a0.4 0.4 0 1 0 -0.7 0M458.8 229.8a0.4 0.4 0 1 0 0.8 0a0.4 0.4 0 1 0 -0.8 0M490.5 294.4a0.4 0.4 0 1 0 0.8 0a0.4 0.4 0 1 0 -0.8 0M450.7 287.4a0.5 0.5 0 1 0 1.1 0a0.5 0.5 0 1 0 -1.1 0M488.3 250.4a0.3 0.3 0 1 0 0.7 0a0.3 0.3 0 1 0 -0.7 0M429.2 247.2a0.6 0.6 0 1 0 1.1 0a0.6 0.6 0 1 0 -1.1 0M468.7 271.4a0.3 0.3 0 1 0 0.7 0a0.3 0.3 0 1 0 -0.7 0M432.0 224.4a0.6 0.6 0 1 0 1.2 0a0.6 0.6 0 1 0 -1.2 0M442.7 251.8a0.6 0.6 0 1 0 1.2 0a0.6 0.6 0 1 0 -1.2 0M487.2 296.0a0.4 0.4 0 1 0 0.8 0a0.4 0.4 0 1 0 -0.8 0M479.7 228.5a0.3 0.3 0 1 0 0.6 0a0.3 0.3 0 1 0 -0.6 0M464.2 289.7a0.4 0.4 0 1 0 0.9 0a0.4 0.4 0 1 0 -0.9 0M452.5 227.1a0.6 0.6 0 1 0 1.1 0a0.6 0.6 0 1 0 -1.1 0M458.9 248.8a0.3 0.3 0 1 0 0.7 0a0.3 0.3 0 1 0 -0.7 0M467.4 263.0a0.4 0.4 0 1 0 0.8 0a0.4 0.4 0 1 0 -0.8 0M433.5 284.1a0.4 0.4 0 1 0 0.8 0a0.4 0.4 0 1 0 -0.8 0M490.4 271.7a0.4 0.4 0 1 0 0.8 0a0.4 0.4 0 1 0 -0.8 0M429.9 232.0a0.5 0.5 0 1 0 0.9 0a0.5 0.5 0 1 0 -0.9 0M476.0 279.7a0.5 0.5 0 1 0 0.9 0a0.5 0.5 0 1 0 -0.9 0M475.9 274.5a0.4 0.4 0 1 0 0.9 0a0.4 0.4 0 1 0 -0.9 0M491.7 291.1a0.4 0.4 0 1 0 0.9 0a0.4 0.4 0 1 0 -0.9 0M471.0 254.7a0.4 0.4 0 1 0 0.8 0a0.4 0.4 0 1 0 -0.8 0M490.5 260.8a0.6 0.6 0 1 0 1.2 0a0.6 0.6 0 1 0 -1.2 0M438.4 266.3a0.5 0.5 0 1 0 1.1 0a0.5 0.5 0 1 0 -1.1 0M479.0 239.7a0.4 0.4 0 1 0 0.9 0a0.4 0.4 0 1 0 -0.9 0M477.2 292.8a0.6 0.6 0 1 0 1.2 0a0.6 0.6 0 1 0 -1.2 0M492.2 244.4a0.4 0.4 0 1 0 0.8 0a0.4 0.4 0 1 0 -0.8 0M481.3 281.9a0.4 0.4 0 1 0 0.8 0a0.4 0.4 0 1 0 -0.8 0M433.6 232.2a0.6 0.6 0 1 0 1.1 0a0.6 0.6 0 1 0 -1.1 0M460.3 273.0a0.5 0.5 0 1 0 1.0 0a0.5 0.5 0 1 0 -1.0 0M435.3 292.7a0.5 0.5 0 1 0 1.1 0a0.5 0.5 0 1 0 -1.1 0M432.7 236.0a0.5 0.5 0 1 0 1.0 0a0.5 0.5 0 1 0 -1.0 0M478.3 253.4a0.4 0.4 0 1 0 0.9 0a0.4 0.4 0 1 0 -0.9 0M492.7 271.0a0.5 0.5 0 1 0 1.0 0a0.5 0.5 0 1 0 -1.0 0M439.9 294.0a0.5 0.5 0 1 0 1.0 0a0.5 0.5 0 1 0 -1.0 0M454.0 248.4a0.4 0.4 0 1 0 0.7 0a0.4 0.4 0 1 0 -0.7 0M446.2 277.2a0.6 0.6 0 1 0 1.2 0a0.6 0.6 0 1 0 -1.2 0M485.2 228.5a0.3 0.3 0 1 0 0.6 0a0.3 0.3 0 1 0 -0.6 0M496.8 252.1a0.4 0.4 0 1 0 0.7 0a0.4 0.4 0 1 0 -0.7 0M462.8 257.5a0.5 0.5 0 1 0 1.0 0a0.5 0.5 0 1 0 -1.0 0M440.9 265.1a0.4 0.4 0 1 0 0.7 0a0.4 0.4 0 1 0 -0.7 0M483.2 241.2a0.4 0.4 0 1 0 0.8 0a0.4 0.4 0 1 0 -0.8 0M436.2 267.9a0.6 0.6 0 1 0 1.1 0a0.6 0.6 0 1 0 -1.1 0M435.9 262.5a0.6 0.6 0 1 0 1.2 0a0.6 0.6 0 1 0 -1.2 0M449.0 278.6a0.4 0.4 0 1 0 0.8 0a0.4 0.4 0 1 0 -0.8 0M471.1 241.0a0.4 0.4 0 1 0 0.8 0a0.4 0.4 0 1 0 -0.8 0M493.1 236.3a0.4 0.4 0 1 0 0.7 0a0.4 0.4 0 1 0 -0.7 0M460.4 262.5a0.6 0.6 0 1 0 1.2 0a0.6 0.6 0 1 0 -1.2 0M472.2 278.8a0.5 0.5 0 1 0 0.9 0a0.5 0.5 0 1 0 -0.9 0M443.4 224.6a0.4 0.4 0 1 0 0.7 0a0.4 0.4 0 1 0 -0.7 0M492.0 228.4a0.5 0.5 0 1 0 1.1 0a0.5 0.5 0 1 0 -1.1 0M470.9 291.5a0.6 0.6 0 1 0 1.1 0a0.6 0.6 0 1 0 -1.1 0M455.2 254.7a0.5 0.5 0 1 0 1.1 0a0.5 0.5 0 1 0 -1.1 0M450.5 274.1a0.6 0.6 0 1 0 1.2 0a0.6 0.6 0 1 0 -1.2 0M484.2 256.1a0.5 0.5 0 1 0 0.9 0a0.5 0.5 0 1 0 -0.9 0M499.3 230.9a0.5 0.5 0 1 0 1.1 0a0.5 0.5 0 1 0 -1.1 0M451.0 280.4a0.5 0.5 0 1 0 1.0 0a0.5 0.5 0 1 0 -1.0 0M461.2 239.1a0.4 0.4 0 1 0 0.7 0a0.4 0.4 0 1 0 -0.7 0M482.6 239.3a0.6 0.6 0 1 0 1.2 0a0.6 0.6 0 1 0 -1.2 0M456.4 248.4a0.3 0.3 0 1 0 0.7 0a0.3 0.3 0 1 0 -0.7 0" fill="#7e4ea0" opacity="0.5"/>
<path d="M457.7 236.3a0.3 0.3 0 1 0 0.6 0a0.3 0.3 0 1 0 -0.6 0M427.2 280.0a0.4 0.4 0 1 0 0.7 0a0.4 0.4 0 1 0 -0.7 0M463.2 266.0a0.5 0.5 0 1 0 0.9 0a0.5 0.5 0 1 0 -0.9 0M499.2 232.8a0.5 0.5 0 1 0 1.0 0a0.5 0.5 0 1 0 -1.0 0M434.9 288.6a0.4 0.4 0 1 0 0.8 0a0.4 0.4 0 1 0 -0.8 0M463.8 294.1a0.5 0.5 0 1 0 0.9 0a0.5 0.5 0 1 0 -0.9 0M471.3 294.8a0.4 0.4 0 1 0 0.8 0a0.4 0.4 0 1 0 -0.8 0M438.5 281.9a0.6 0.6 0 1 0 1.1 0a0.6 0.6 0 1 0 -1.1 0M486.6 277.5a0.5 0.5 0 1 0 1.0 0a0.5 0.5 0 1 0 -1.0 0M475.7 257.0a0.3 0.3 0 1 0 0.7 0a0.3 0.3 0 1 0 -0.7 0M444.0 242.7a0.5 0.5 0 1 0 0.9 0a0.5 0.5 0 1 0 -0.9 0M476.4 233.6a0.3 0.3 0 1 0 0.6 0a0.3 0.3 0 1 0 -0.6 0M471.2 265.6a0.4 0.4 0 1 0 0.9 0a0.4 0.4 0 1 0 -0.9 0M432.4 273.1a0.4 0.4 0 1 0 0.9 0a0.4 0.4 0 1 0 -0.9 0M493.2 265.5a0.5 0.5 0 1 0 1.1 0a0.5 0.5 0 1 0 -1.1 0M492.9 279.3a0.4 0.4 0 1 0 0.8 0a0.4 0.4 0 1 0 -0.8 0M464.2 259.0a0.6 0.6 0 1 0 1.2 0a0.6 0.6 0 1 0 -1.2 0M459.7 248.9a0.5 0.5 0 1 0 1.0 0a0.5 0.5 0 1 0 -1.0 0M472.7 294.7a0.5 0.5 0 1 0 0.9 0a0.5 0.5 0 1 0 -0.9 0M496.9 230.1a0.4 0.4 0 1 0 0.8 0a0.4 0.4 0 1 0 -0.8 0M427.8 272.5a0.4 0.4 0 1 0 0.8 0a0.4 0.4 0 1 0 -0.8 0M465.1 246.8a0.6 0.6 0 1 0 1.1 0a0.6 0.6 0 1 0 -1.1 0M436.6 295.3a0.3 0.3 0 1 0 0.7 0a0.3 0.3 0 1 0 -0.7 0M479.4 261.7a0.4 0.4 0 1 0 0.8 0a0.4 0.4 0 1 0 -0.8 0M471.3 251.8a0.4 0.4 0 1 0 0.8 0a0.4 0.4 0 1 0 -0.8 0M437.2 278.6a0.6 0.6 0 1 0 1.1 0a0.6 0.6 0 1 0 -1.1 0M496.1 297.2a0.4 0.4 0 1 0 0.8 0a0.4 0.4 0 1 0 -0.8 0M446.3 296.2a0.3 0.3 0 1 0 0.7 0a0.3 0.3 0 1 0 -0.7 0M492.6 248.3a0.4 0.4 0 1 0 0.7 0a0.4 0.4 0 1 0 -0.7 0M472.3 242.7a0.5 0.5 0 1 0 0.9 0a0.5 0.5 0 1 0 -0.9 0M438.6 284.1a0.3 0.3 0 1 0 0.7 0a0.3 0.3 0 1 0 -0.7 0M439.9 229.2a0.6 0.6 0 1 0 1.1 0a0.6 0.6 0 1 0 -1.1 0M475.1 278.4a0.6 0.6 0 1 0 1.1 0a0.6 0.6 0 1 0 -1.1 0M448.9 229.2a0.5 0.5 0 1 0 0.9 0a0.5 0.5 0 1 0 -0.9 0M442.4 226.6a0.5 0.5 0 1 0 1.1 0a0.5 0.5 0 1 0 -1.1 0M499.2 256.4a0.4 0.4 0 1 0 0.9 0a0.4 0.4 0 1 0 -0.9 0M456.7 293.3a0.6 0.6 0 1 0 1.2 0a0.6 0.6 0 1 0 -1.2 0M448.1 242.1a0.5 0.5 0 1 0 1.0 0a0.5 0.5 0 1 0 -1.0 0M443.0 234.0a0.4 0.4 0 1 0 0.8 0a0.4 0.4 0 1 0 -0.8 0M428.4 293.6a0.4 0.4 0 1 0 0.7 0a0.4 0.4 0 1 0 -0.7 0M498.4 276.8a0.4 0.4 0 1 0 0.7 0a0.4 0.4 0 1 0 -0.7 0M472.2 232.5a0.4 0.4 0 1 0 0.8 0a0.4 0.4 0 1 0 -0.8 0M435.6 277.5a0.5 0.5 0 1 0 1.1 0a0.5 0.5 0 1 0 -1.1 0M491.1 277.4a0.5 0.5 0 1 0 1.1 0a0.5 0.5 0 1 0 -1.1 0M443.9 266.1a0.5 0.5 0 1 0 1.0 0a0.5 0.5 0 1 0 -1.0 0M477.3 273.4a0.4 0.4 0 1 0 0.7 0a0.4 0.4 0 1 0 -0.7 0M490.6 225.1a0.5 0.5 0 1 0 0.9 0a0.5 0.5 0 1 0 -0.9 0M460.2 295.6a0.3 0.3 0 1 0 0.7 0a0.3 0.3 0 1 0 -0.7 0M455.8 255.6a0.5 0.5 0 1 0 0.9 0a0.5 0.5 0 1 0 -0.9 0M459.3 232.2a0.5 0.5 0 1 0 1.1 0a0.5 0.5 0 1 0 -1.1 0M474.4 230.8a0.4 0.4 0 1 0 0.9 0a0.4 0.4 0 1 0 -0.9 0M450.3 265.6a0.3 0.3 0 1 0 0.6 0a0.3 0.3 0 1 0 -0.6 0M429.3 267.5a0.3 0.3 0 1 0 0.6 0a0.3 0.3 0 1 0 -0.6 0M429.3 226.1a0.4 0.4 0 1 0 0.8 0a0.4 0.4 0 1 0 -0.8 0M473.9 232.6a0.5 0.5 0 1 0 0.9 0a0.5 0.5 0 1 0 -0.9 0M459.5 241.3a0.6 0.6 0 1 0 1.1 0a0.6 0.6 0 1 0 -1.1 0M444.6 266.8a0.6 0.6 0 1 0 1.1 0a0.6 0.6 0 1 0 -1.1 0M468.4 275.2a0.5 0.5 0 1 0 1.1 0a0.5 0.5 0 1 0 -1.1 0M444.9 236.9a0.4 0.4 0 1 0 0.8 0a0.4 0.4 0 1 0 -0.8 0M464.0 266.0a0.6 0.6 0 1 0 1.1 0a0.6 0.6 0 1 0 -1.1 0M483.5 235.9a0.6 0.6 0 1 0 1.1 0a0.6 0.6 0 1 0 -1.1 0M466.9 284.2a0.4 0.4 0 1 0 0.8 0a0.4 0.4 0 1 0 -0.8 0M487.7 277.2a0.4 0.4 0 1 0 0.9 0a0.4 0.4 0 1 0 -0.9 0M475.0 292.6a0.5 0.5 0 1 0 1.0 0a0.5 0.5 0 1 0 -1.0 0M429.0 292.3a0.5 0.5 0 1 0 1.1 0a0.5 0.5 0 1 0 -1.1 0M475.8 277.6a0.4 0.4 0 1 0 0.8 0a0.4 0.4 0 1 0 -0.8 0M451.5 244.5a0.4 0.4 0 1 0 0.8 0a0.4 0.4 0 1 0 -0.8 0M462.5 245.4a0.4 0.4 0 1 0 0.8 0a0.4 0.4 0 1 0 -0.8 0M487.6 284.1a0.6 0.6 0 1 0 1.1 0a0.6 0.6 0 1 0 -1.1 0M484.9 268.2a0.4 0.4 0 1 0 0.9 0a0.4 0.4 0 1 0 -0.9 0M482.7 289.1a0.3 0.3 0 1 0 0.6 0a0.3 0.3 0 1 0 -0.6 0M478.5 267.7a0.4 0.4 0 1 0 0.8 0a0.4 0.4 0 1 0 -0.8 0M452.8 253.4a0.5 0.5 0 1 0 1.0 0a0.5 0.5 0 1 0 -1.0 0M440.6 243.1a0.5 0.5 0 1 0 1.0 0a0.5 0.5 0 1 0 -1.0 0M490.3 273.3a0.5 0.5 0 1 0 0.9 0a0.5 0.5 0 1 0 -0.9 0M499.4 267.2a0.5 0.5 0 1 0 0.9 0a0.5 0.5 0 1 0 -0.9 0M439.5 261.8a0.4 0.4 0 1 0 0.8 0a0.4 0.4 0 1 0 -0.8 0M428.4 284.7a0.4 0.4 0 1 0 0.9 0a0.4 0.4 0 1 0 -0.9 0M447.2 288.2a0.3 0.3 0 1 0 0.6 0a0.3 0.3 0 1 0 -0.6 0M462.3 290.6a0.5 0.5 0 1 0 1.0 0a0.5 0.5 0 1 0 -1.0 0M473.6 231.0a0.5 0.5 0 1 0 1.0 0a0.5 0.5 0 1 0 -1.0 0M458.8 288.9a0.6 0.6 0 1 0 1.1 0a0.6 0.6 0 1 0 -1.1 0M444.8 268.1a0.6 0.6 0 1 0 1.2 0a0.6 0.6 0 1 0 -1.2 0M456.0 288.7a0.6 0.6 0 1 0 1.2 0a0.6 0.6 0 1 0 -1.2 0M455.4 247.2a0.5 0.5 0 1 0 1.0 0a0.5 0.5 0 1 0 -1.0 0M496.3 266.1a0.4 0.4 0 1 0 0.7 0a0.4 0.4 0 1 0 -0.7 0M498.1 274.6a0.4 0.4 0 1 0 0.9 0a0.4 0.4 0 1 0 -0.9 0M478.3 289.6a0.5 0.5 0 1 0 0.9 0a0.5 0.5 0 1 0 -0.9 0M454.9 239.2a0.5 0.5 0 1 0 1.1 0a0.5 0.5 0 1 0 -1.1 0M488.1 260.9a0.6 0.6 0 1 0 1.1 0a0.6 0.6 0 1 0 -1.1 0M468.6 244.7a0.4 0.4 0 1 0 0.8 0a0.4 0.4 0 1 0 -0.8 0M429.6 260.1a0.4 0.4 0 1 0 0.8 0a0.4 0.4 0 1 0 -0.8 0M440.4 241.4a0.4 0.4 0 1 0 0.8 0a0.4 0.4 0 1 0 -0.8 0M439.6 228.6a0.4 0.4 0 1 0 0.8 0a0.4 0.4 0 1 0 -0.8 0M428.5 287.9a0.5 0.5 0 1 0 1.0 0a0.5 0.5 0 1 0 -1.0 0M435.9 243.1a0.5 0.5 0 1 0 1.1 0a0.5 0.5 0 1 0 -1.1 0M474.6 246.8a0.5 0.5 0 1 0 1.0 0a0.5 0.5 0 1 0 -1.0 0M467.3 250.1a0.4 0.4 0 1 0 0.8 0a0.4 0.4 0 1 0 -0.8 0M464.9 282.2a0.3 0.3 0 1 0 0.6 0a0.3 0.3 0 1 0 -0.6 0M446.4 283.7a0.3 0.3 0 1 0 0.6 0a0.3 0.3 0 1 0 -0.6 0M480.8 264.6a0.3 0.3 0 1 0 0.7 0a0.3 0.3 0 1 0 -0.7 0M443.8 236.4a0.4 0.4 0 1 0 0.8 0a0.4 0.4 0 1 0 -0.8 0M450.0 234.7a0.5 0.5 0 1 0 1.0 0a0.5 0.5 0 1 0 -1.0 0M440.0 234.2a0.6 0.6 0 1 0 1.2 0a0.6 0.6 0 1 0 -1.2 0M452.6 269.6a0.4 0.4 0 1 0 0.8 0a0.4 0.4 0 1 0 -0.8 0M450.9 257.3a0.6 0.6 0 1 0 1.1 0a0.6 0.6 0 1 0 -1.1 0M490.2 233.6a0.3 0.3 0 1 0 0.6 0a0.3 0.3 0 1 0 -0.6 0M465.6 238.9a0.5 0.5 0 1 0 0.9 0a0.5 0.5 0 1 0 -0.9 0M469.6 235.8a0.4 0.4 0 1 0 0.8 0a0.4 0.4 0 1 0 -0.8 0M472.8 265.6a0.4 0.4 0 1 0 0.8 0a0.4 0.4 0 1 0 -0.8 0M459.5 286.3a0.5 0.5 0 1 0 1.0 0a0.5 0.5 0 1 0 -1.0 0M429.5 265.0a0.3 0.3 0 1 0 0.6 0a0.3 0.3 0 1 0 -0.6 0M467.6 288.2a0.3 0.3 0 1 0 0.6 0a0.3 0.3 0 1 0 -0.6 0M465.0 274.7a0.4 0.4 0 1 0 0.9 0a0.4 0.4 0 1 0 -0.9 0M457.2 246.9a0.6 0.6 0 1 0 1.1 0a0.6 0.6 0 1 0 -1.1 0M472.1 230.9a0.5 0.5 0 1 0 1.1 0a0.5 0.5 0 1 0 -1.1 0M475.6 274.6a0.3 0.3 0 1 0 0.6 0a0.3 0.3 0 1 0 -0.6 0M440.9 254.2a0.4 0.4 0 1 0 0.8 0a0.4 0.4 0 1 0 -0.8 0M471.1 296.9a0.5 0.5 0 1 0 1.0 0a0.5 0.5 0 1 0 -1.0 0M428.6 236.2a0.5 0.5 0 1 0 1.1 0a0.5 0.5 0 1 0 -1.1 0M458.5 236.7a0.6 0.6 0 1 0 1.2 0a0.6 0.6 0 1 0 -1.2 0M430.0 227.1a0.5 0.5 0 1 0 1.0 0a0.5 0.5 0 1 0 -1.0 0M482.8 279.5a0.4 0.4 0 1 0 0.7 0a0.4 0.4 0 1 0 -0.7 0M442.9 229.2a0.3 0.3 0 1 0 0.6 0a0.3 0.3 0 1 0 -0.6 0M490.1 238.3a0.4 0.4 0 1 0 0.8 0a0.4 0.4 0 1 0 -0.8 0M494.4 270.5a0.5 0.5 0 1 0 0.9 0a0.5 0.5 0 1 0 -0.9 0M462.7 264.2a0.4 0.4 0 1 0 0.9 0a0.4 0.4 0 1 0 -0.9 0M463.2 271.4a0.5 0.5 0 1 0 1.0 0a0.5 0.5 0 1 0 -1.0 0M493.4 291.0a0.4 0.4 0 1 0 0.8 0a0.4 0.4 0 1 0 -0.8 0M493.5 238.4a0.6 0.6 0 1 0 1.2 0a0.6 0.6 0 1 0 -1.2 0M488.5 263.9a0.4 0.4 0 1 0 0.9 0a0.4 0.4 0 1 0 -0.9 0M488.1 252.8a0.5 0.5 0 1 0 1.0 0a0.5 0.5 0 1 0 -1.0 0M448.2 262.2a0.3 0.3 0 1 0 0.7 0a0.3 0.3 0 1 0 -0.7 0M455.5 249.8a0.5 0.5 0 1 0 1.0 0a0.5 0.5 0 1 0 -1.0 0M480.5 232.3a0.6 0.6 0 1 0 1.1 0a0.6 0.6 0 1 0 -1.1 0M459.7 285.2a0.4 0.4 0 1 0 0.8 0a0.4 0.4 0 1 0 -0.8 0M454.7 243.0a0.4 0.4 0 1 0 0.8 0a0.4 0.4 0 1 0 -0.8 0M462.0 251.6a0.4 0.4 0 1 0 0.9 0a0.4 0.4 0 1 0 -0.9 0M467.7 248.5a0.6 0.6 0 1 0 1.1 0a0.6 0.6 0 1 0 -1.1 0M494.4 267.9a0.3 0.3 0 1 0 0.7 0a0.3 0.3 0 1 0 -0.7 0M460.2 289.9a0.4 0.4 0 1 0 0.7 0a0.4 0.4 0 1 0 -0.7 0M472.7 260.3a0.4 0.4 0 1 0 0.8 0a0.4 0.4 0 1 0 -0.8 0M469.5 235.0a0.4 0.4 0 1 0 0.7 0a0.4 0.4 0 1 0 -0.7 0M454.5 288.9a0.5 0.5 0 1 0 1.1 0a0.5 0.5 0 1 0 -1.1 0M442.5 248.4a0.4 0.4 0 1 0 0.8 0a0.4 0.4 0 1 0 -0.8 0M455.4 268.3a0.3 0.3 0 1 0 0.7 0a0.3 0.3 0 1 0 -0.7 0M482.1 296.5a0.6 0.6 0 1 0 1.2 0a0.6 0.6 0 1 0 -1.2 0M479.3 229.5a0.3 0.3 0 1 0 0.7 0a0.3 0.3 0 1 0 -0.7 0M462.1 241.6a0.5 0.5 0 1 0 0.9 0a0.5 0.5 0 1 0 -0.9 0M476.2 280.6a0.4 0.4 0 1 0 0.8 0a0.4 0.4 0 1 0 -0.8 0M436.6 267.3a0.5 0.5 0 1 0 0.9 0a0.5 0.5 0 1 0 -0.9 0M437.2 272.3a0.4 0.4 0 1 0 0.8 0a0.4 0.4 0 1 0 -0.8 0M432.2 240.1a0.4 0.4 0 1 0 0.8 0a0.4 0.4 0 1 0 -0.8 0M459.5 254.3a0.5 0.5 0 1 0 0.9 0a0.5 0.5 0 1 0 -0.9 0M434.0 230.7a0.4 0.4 0 1 0 0.8 0a0.4 0.4 0 1 0 -0.8 0M446.4 240.3a0.3 0.3 0 1 0 0.6 0a0.3 0.3 0 1 0 -0.6 0M433.6 253.3a0.5 0.5 0 1 0 1.0 0a0.5 0.5 0 1 0 -1.0 0M432.6 291.0a0.3 0.3 0 1 0 0.6 0a0.3 0.3 0 1 0 -0.6 0M428.1 262.2a0.5 0.5 0 1 0 0.9 0a0.5 0.5 0 1 0 -0.9 0M449.5 271.7a0.5 0.5 0 1 0 1.0 0a0.5 0.5 0 1 0 -1.0 0M452.8 270.5a0.5 0.5 0 1 0 1.0 0a0.5 0.5 0 1 0 -1.0 0M487.4 226.5a0.4 0.4 0 1 0 0.8 0a0.4 0.4 0 1 0 -0.8 0M490.7 293.2a0.5 0.5 0 1 0 0.9 0a0.5 0.5 0 1 0 -0.9 0M428.5 241.6a0.3 0.3 0 1 0 0.6 0a0.3 0.3 0 1 0 -0.6 0M471.6 268.9a0.5 0.5 0 1 0 0.9 0a0.5 0.5 0 1 0 -0.9 0M438.5 265.9a0.5 0.5 0 1 0 1.0 0a0.5 0.5 0 1 0 -1.0 0M444.6 247.6a0.4 0.4 0 1 0 0.9 0a0.4 0.4 0 1 0 -0.9 0M490.2 226.4a0.4 0.4 0 1 0 0.8 0a0.4 0.4 0 1 0 -0.8 0M492.1 280.8a0.5 0.5 0 1 0 0.9 0a0.5 0.5 0 1 0 -0.9 0M457.6 290.4a0.5 0.5 0 1 0 1.0 0a0.5 0.5 0 1 0 -1.0 0M447.6 269.2a0.6 0.6 0 1 0 1.2 0a0.6 0.6 0 1 0 -1.2 0M464.3 228.2a0.4 0.4 0 1 0 0.7 0a0.4 0.4 0 1 0 -0.7 0M481.3 272.9a0.4 0.4 0 1 0 0.7 0a0.4 0.4 0 1 0 -0.7 0M439.2 294.5a0.6 0.6 0 1 0 1.1 0a0.6 0.6 0 1 0 -1.1 0M493.6 292.6a0.4 0.4 0 1 0 0.8 0a0.4 0.4 0 1 0 -0.8 0M476.4 285.4a0.5 0.5 0 1 0 1.0 0a0.5 0.5 0 1 0 -1.0 0M483.3 236.3a0.3 0.3 0 1 0 0.6 0a0.3 0.3 0 1 0 -0.6 0M450.6 291.9a0.4 0.4 0 1 0 0.7 0a0.4 0.4 0 1 0 -0.7 0M438.8 294.7a0.5 0.5 0 1 0 1.0 0a0.5 0.5 0 1 0 -1.0 0M458.6 241.2a0.4 0.4 0 1 0 0.8 0a0.4 0.4 0 1 0 -0.8 0M476.9 282.2a0.6 0.6 0 1 0 1.1 0a0.6 0.6 0 1 0 -1.1 0M456.7 266.9a0.5 0.5 0 1 0 1.1 0a0.5 0.5 0 1 0 -1.1 0M481.9 247.6a0.5 0.5 0 1 0 1.0 0a0.5 0.5 0 1 0 -1.0 0M470.1 264.7a0.4 0.4 0 1 0 0.8 0a0.4 0.4 0 1 0 -0.8 0M433.6 266.5a0.5 0.5 0 1 0 1.0 0a0.5 0.5 0 1 0 -1.0 0M492.3 227.5a0.3 0.3 0 1 0 0.6 0a0.3 0.3 0 1 0 -0.6 0M486.8 294.5a0.5 0.5 0 1 0 1.1 0a0.5 0.5 0 1 0 -1.1 0M442.7 260.4a0.6 0.6 0 1 0 1.2 0a0.6 0.6 0 1 0 -1.2 0M450.9 242.6a0.5 0.5 0 1 0 1.0 0a0.5 0.5 0 1 0 -1.0 0M480.7 296.6a0.4 0.4 0 1 0 0.9 0a0.4 0.4 0 1 0 -0.9 0M437.7 234.1a0.5 0.5 0 1 0 1.0 0a0.5 0.5 0 1 0 -1.0 0M470.1 289.9a0.6 0.6 0 1 0 1.2 0a0.6 0.6 0 1 0 -1.2 0M427.7 241.8a0.4 0.4 0 1 0 0.9 0a0.4 0.4 0 1 0 -0.9 0M438.8 229.2a0.4 0.4 0 1 0 0.8 0a0.4 0.4 0 1 0 -0.8 0M430.9 289.3a0.4 0.4 0 1 0 0.7 0a0.4 0.4 0 1 0 -0.7 0M427.0 285.2a0.6 0.6 0 1 0 1.1 0a0.6 0.6 0 1 0 -1.1 0M457.6 260.6a0.4 0.4 0 1 0 0.7 0a0.4 0.4 0 1 0 -0.7 0M452.6 280.6a0.6 0.6 0 1 0 1.1 0a0.6 0.6 0 1 0 -1.1 0M427.2 268.3a0.5 0.5 0 1 0 0.9 0a0.5 0.5 0 1 0 -0.9 0M497.6 228.0a0.5 0.5 0 1 0 1.0 0a0.5 0.5 0 1 0 -1.0 0M497.2 272.4a0.4 0.4 0 1 0 0.8 0a0.4 0.4 0 1 0 -0.8 0M478.1 230.6a0.4 0.4 0 1 0 0.8 0a0.4 0.4 0 1 0 -0.8 0M432.3 225.1a0.4 0.4 0 1 0 0.7 0a0.4 0.4 0 1 0 -0.7 0M479.7 230.2a0.5 0.5 0 1 0 1.0 0a0.5 0.5 0 1 0 -1.0 0M456.1 291.3a0.4 0.4 0 1 0 0.8 0a0.4 0.4 0 1 0 -0.8 0M461.0 227.8a0.5 0.5 0 1 0 1.0 0a0.5 0.5 0 1 0 -1.0 0M439.1 229.1a0.5 0.5 0 1 0 0.9 0a0.5 0.5 0 1 0 -0.9 0M496.4 269.6a0.6 0.6 0 1 0 1.1 0a0.6 0.6 0 1 0 -1.1 0M446.6 296.2a0.5 0.5 0 1 0 1.1 0a0.5 0.5 0 1 0 -1.1 0M498.8 232.3a0.5 0.5 0 1 0 1.0 0a0.5 0.5 0 1 0 -1.0 0M491.2 252.1a0.3 0.3 0 1 0 0.7 0a0.3 0.3 0 1 0 -0.7 0M430.3 241.1a0.5 0.5 0 1 0 1.0 0a0.5 0.5 0 1 0 -1.0 0M435.8 282.5a0.6 0.6 0 1 0 1.2 0a0.6 0.6 0 1 0 -1.2 0M486.0 294.9a0.5 0.5 0 1 0 1.0 0a0.5 0.5 0 1 0 -1.0 0M481.6 242.4a0.4 0.4 0 1 0 0.9 0a0.4 0.4 0 1 0 -0.9 0M498.2 263.7a0.4 0.4 0 1 0 0.8 0a0.4 0.4 0 1 0 -0.8 0M491.1 253.7a0.6 0.6 0 1 0 1.2 0a0.6 0.6 0 1 0 -1.2 0M464.5 235.7a0.3 0.3 0 1 0 0.7 0a0.3 0.3 0 1 0 -0.7 0M468.9 292.4a0.5 0.5 0 1 0 0.9 0a0.5 0.5 0 1 0 -0.9 0M468.8 229.2a0.3 0.3 0 1 0 0.7 0a0.3 0.3 0 1 0 -0.7 0M427.0 275.7a0.5 0.5 0 1 0 0.9 0a0.5 0.5 0 1 0 -0.9 0M437.6 236.1a0.4 0.4 0 1 0 0.9 0a0.4 0.4 0 1 0 -0.9 0M445.8 232.1a0.4 0.4 0 1 0 0.9 0a0.4 0.4 0 1 0 -0.9 0M443.7 244.0a0.3 0.3 0 1 0 0.7 0a0.3 0.3 0 1 0 -0.7 0M450.2 240.7a0.4 0.4 0 1 0 0.9 0a0.4 0.4 0 1 0 -0.9 0M436.4 245.6a0.6 0.6 0 1 0 1.2 0a0.6 0.6 0 1 0 -1.2 0M477.2 286.7a0.5 0.5 0 1 0 1.1 0a0.5 0.5 0 1 0 -1.1 0M458.7 283.5a0.3 0.3 0 1 0 0.7 0a0.3 0.3 0 1 0 -0.7 0M487.6 243.7a0.6 0.6 0 1 0 1.2 0a0.6 0.6 0 1 0 -1.2 0M478.5 262.8a0.6 0.6 0 1 0 1.2 0a0.6 0.6 0 1 0 -1.2 0M470.2 253.9a0.4 0.4 0 1 0 0.9 0a0.4 0.4 0 1 0 -0.9 0M453.8 292.2a0.4 0.4 0 1 0 0.7 0a0.4 0.4 0 1 0 -0.7 0M450.7 281.5a0.4 0.4 0 1 0 0.9 0a0.4 0.4 0 1 0 -0.9 0M440.2 233.0a0.4 0.4 0 1 0 0.8 0a0.4 0.4 0 1 0 -0.8 0M451.5 283.4a0.4 0.4 0 1 0 0.7 0a0.4 0.4 0 1 0 -0.7 0M488.9 257.8a0.5 0.5 0 1 0 1.0 0a0.5 0.5 0 1 0 -1.0 0M433.8 267.4a0.3 0.3 0 1 0 0.7 0a0.3 0.3 0 1 0 -0.7 0M444.8 294.5a0.5 0.5 0 1 0 0.9 0a0.5 0.5 0 1 0 -0.9 0M476.5 275.6a0.4 0.4 0 1 0 0.8 0a0.4 0.4 0 1 0 -0.8 0M486.8 271.8a0.5 0.5 0 1 0 1.0 0a0.5 0.5 0 1 0 -1.0 0M477.3 269.9a0.6 0.6 0 1 0 1.2 0a0.6 0.6 0 1 0 -1.2 0M435.4 252.3a0.6 0.6 0 1 0 1.1 0a0.6 0.6 0 1 0 -1.1 0M432.0 273.8a0.4 0.4 0 1 0 0.7 0a0.4 0.4 0 1 0 -0.7 0M431.2 227.4a0.5 0.5 0 1 0 1.1 0a0.5 0.5 0 1 0 -1.1 0M482.8 252.4a0.3 0.3 0 1 0 0.6 0a0.3 0.3 0 1 0 -0.6 0M497.9 270.8a0.5 0.5 0 1 0 0.9 0a0.5 0.5 0 1 0 -0.9 0M441.0 274.4a0.3 0.3 0 1 0 0.7 0a0.3 0.3 0 1 0 -0.7 0M478.9 249.7a0.4 0.4 0 1 0 0.7 0a0.4 0.4 0 1 0 -0.7 0M478.3 232.4a0.4 0.4 0 1 0 0.8 0a0.4 0.4 0 1 0 -0.8 0M458.6 274.5a0.5 0.5 0 1 0 1.0 0a0.5 0.5 0 1 0 -1.0 0M450.5 249.7a0.5 0.5 0 1 0 1.0 0a0.5 0.5 0 1 0 -1.0 0M473.4 254.6a0.4 0.4 0 1 0 0.8 0a0.4 0.4 0 1 0 -0.8 0M453.9 272.4a0.5 0.5 0 1 0 1.1 0a0.5 0.5 0 1 0 -1.1 0M479.0 280.2a0.3 0.3 0 1 0 0.7 0a0.3 0.3 0 1 0 -0.7 0M470.4 256.5a0.6 0.6 0 1 0 1.2 0a0.6 0.6 0 1 0 -1.2 0M488.1 231.9a0.4 0.4 0 1 0 0.7 0a0.4 0.4 0 1 0 -0.7 0M489.9 283.2a0.4 0.4 0 1 0 0.8 0a0.4 0.4 0 1 0 -0.8 0M469.9 263.1a0.4 0.4 0 1 0 0.8 0a0.4 0.4 0 1 0 -0.8 0M437.7 269.6a0.4 0.4 0 1 0 0.9 0a0.4 0.4 0 1 0 -0.9 0M492.2 266.3a0.6 0.6 0 1 0 1.1 0a0.6 0.6 0 1 0 -1.1 0M488.4 254.3a0.4 0.4 0 1 0 0.7 0a0.4 0.4 0 1 0 -0.7 0M438.7 256.0a0.3 0.3 0 1 0 0.6 0a0.3 0.3 0 1 0 -0.6 0M450.3 279.8a0.5 0.5 0 1 0 1.1 0a0.5 0.5 0 1 0 -1.1 0M482.9 233.5a0.5 0.5 0 1 0 1.1 0a0.5 0.5 0 1 0 -1.1 0M440.7 251.1a0.4 0.4 0 1 0 0.9 0a0.4 0.4 0 1 0 -0.9 0M478.4 246.7a0.5 0.5 0 1 0 1.1 0a0.5 0.5 0 1 0 -1.1 0M449.1 261.9a0.3 0.3 0 1 0 0.7 0a0.3 0.3 0 1 0 -0.7 0M438.5 237.7a0.3 0.3 0 1 0 0.6 0a0.3 0.3 0 1 0 -0.6 0M470.4 275.2a0.6 0.6 0 1 0 1.1 0a0.6 0.6 0 1 0 -1.1 0M439.4 229.9a0.3 0.3 0 1 0 0.6 0a0.3 0.3 0 1 0 -0.6 0M490.2 275.7a0.5 0.5 0 1 0 1.0 0a0.5 0.5 0 1 0 -1.0 0M477.1 284.6a0.6 0.6 0 1 0 1.2 0a0.6 0.6 0 1 0 -1.2 0M438.7 271.7a0.5 0.5 0 1 0 1.1 0a0.5 0.5 0 1 0 -1.1 0M461.2 265.0a0.4 0.4 0 1 0 0.8 0a0.4 0.4 0 1 0 -0.8 0M436.4 270.8a0.6 0.6 0 1 0 1.1 0a0.6 0.6 0 1 0 -1.1 0M447.8 259.2a0.4 0.4 0 1 0 0.8 0a0.4 0.4 0 1 0 -0.8 0M482.0 280.9a0.5 0.5 0 1 0 0.9 0a0.5 0.5 0 1 0 -0.9 0M433.8 280.0a0.6 0.6 0 1 0 1.1 0a0.6 0.6 0 1 0 -1.1 0M482.5 266.2a0.6 0.6 0 1 0 1.2 0a0.6 0.6 0 1 0 -1.2 0M445.1 289.7a0.5 0.5 0 1 0 1.0 0a0.5 0.5 0 1 0 -1.0 0M442.6 253.3a0.5 0.5 0 1 0 1.1 0a0.5 0.5 0 1 0 -1.1 0M433.2 242.1a0.3 0.3 0 1 0 0.6 0a0.3 0.3 0 1 0 -0.6 0M439.4 230.0a0.3 0.3 0 1 0 0.7 0a0.3 0.3 0 1 0 -0.7 0M475.6 267.7a0.6 0.6 0 1 0 1.2 0a0.6 0.6 0 1 0 -1.2 0M490.4 224.9a0.5 0.5 0 1 0 1.0 0a0.5 0.5 0 1 0 -1.0 0M463.0 238.1a0.5 0.5 0 1 0 1.0 0a0.5 0.5 0 1 0 -1.0 0M451.3 244.2a0.6 0.6 0 1 0 1.1 0a0.6 0.6 0 1 0 -1.1 0M429.7 284.9a0.3 0.3 0 1 0 0.7 0a0.3 0.3 0 1 0 -0.7 0M459.6 276.4a0.6 0.6 0 1 0 1.1 0a0.6 0.6 0 1 0 -1.1 0M481.3 226.5a0.5 0.5 0 1 0 1.1 0a0.5 0.5 0 1 0 -1.1 0M488.6 287.1a0.4 0.4 0 1 0 0.8 0a0.4 0.4 0 1 0 -0.8 0M429.0 292.9a0.4 0.4 0 1 0 0.8 0a0.4 0.4 0 1 0 -0.8 0M486.3 262.0a0.5 0.5 0 1 0 0.9 0a0.5 0.5 0 1 0 -0.9 0M437.2 286.8a0.4 0.4 0 1 0 0.9 0a0.4 0.4 0 1 0 -0.9 0M445.8 282.3a0.5 0.5 0 1 0 0.9 0a0.5 0.5 0 1 0 -0.9 0M493.0 244.4a0.3 0.3 0 1 0 0.7 0a0.3 0.3 0 1 0 -0.7 0M447.3 239.0a0.4 0.4 0 1 0 0.8 0a0.4 0.4 0 1 0 -0.8 0M432.6 286.5a0.3 0.3 0 1 0 0.6 0a0.3 0.3 0 1 0 -0.6 0M497.5 237.4a0.5 0.5 0 1 0 1.0 0a0.5 0.5 0 1 0 -1.0 0M474.6 230.0a0.4 0.4 0 1 0 0.7 0a0.4 0.4 0 1 0 -0.7 0M446.8 240.1a0.4 0.4 0 1 0 0.9 0a0.4 0.4 0 1 0 -0.9 0M451.4 235.4a0.5 0.5 0 1 0 0.9 0a0.5 0.5 0 1 0 -0.9 0M497.7 248.6a0.5 0.5 0 1 0 1.1 0a0.5 0.5 0 1 0 -1.1 0M441.0 250.0a0.6 0.6 0 1 0 1.2 0a0.6 0.6 0 1 0 -1.2 0M463.3 286.4a0.4 0.4 0 1 0 0.8 0a0.4 0.4 0 1 0 -0.8 0M429.1 288.5a0.3 0.3 0 1 0 0.6 0a0.3 0.3 0 1 0 -0.6 0M482.3 288.6a0.5 0.5 0 1 0 1.0 0a0.5 0.5 0 1 0 -1.0 0M461.3 287.1a0.4 0.4 0 1 0 0.7 0a0.4 0.4 0 1 0 -0.7 0M471.2 279.2a0.4 0.4 0 1 0 0.8 0a0.4 0.4 0 1 0 -0.8 0M467.8 292.4a0.4 0.4 0 1 0 0.8 0a0.4 0.4 0 1 0 -0.8 0M497.9 238.8a0.5 0.5 0 1 0 1.1 0a0.5 0.5 0 1 0 -1.1 0M486.9 255.6a0.4 0.4 0 1 0 0.7 0a0.4 0.4 0 1 0 -0.7 0M496.5 277.5a0.4 0.4 0 1 0 0.9 0a0.4 0.4 0 1 0 -0.9 0M486.3 240.1a0.6 0.6 0 1 0 1.1 0a0.6 0.6 0 1 0 -1.1 0M477.6 232.7a0.5 0.5 0 1 0 0.9 0a0.5 0.5 0 1 0 -0.9 0M489.7 296.4a0.6 0.6 0 1 0 1.1 0a0.6 0.6 0 1 0 -1.1 0M488.1 278.6a0.6 0.6 0 1 0 1.1 0a0.6 0.6 0 1 0 -1.1 0M432.6 257.7a0.4 0.4 0 1 0 0.9 0a0.4 0.4 0 1 0 -0.9 0M495.2 265.6a0.5 0.5 0 1 0 0.9 0a0.5 0.5 0 1 0 -0.9 0M483.3 231.6a0.4 0.4 0 1 0 0.8 0a0.4 0.4 0 1 0 -0.8 0M439.6 273.7a0.3 0.3 0 1 0 0.7 0a0.3 0.3 0 1 0 -0.7 0M431.2 255.3a0.4 0.4 0 1 0 0.8 0a0.4 0.4 0 1 0 -0.8 0M431.5 267.4a0.3 0.3 0 1 0 0.7 0a0.3 0.3 0 1 0 -0.7 0M469.7 224.6a0.5 0.5 0 1 0 0.9 0a0.5 0.5 0 1 0 -0.9 0M444.8 230.2a0.5 0.5 0 1 0 0.9 0a0.5 0.5 0 1 0 -0.9 0M465.5 278.0a0.5 0.5 0 1 0 1.0 0a0.5 0.5 0 1 0 -1.0 0M447.5 281.1a0.5 0.5 0 1 0 1.0 0a0.5 0.5 0 1 0 -1.0 0M437.9 241.7a0.3 0.3 0 1 0 0.6 0a0.3 0.3 0 1 0 -0.6 0M455.8 290.6a0.4 0.4 0 1 0 0.8 0a0.4 0.4 0 1 0 -0.8 0M467.7 252.2a0.4 0.4 0 1 0 0.8 0a0.4 0.4 0 1 0 -0.8 0M499.4 297.2a0.4 0.4 0 1 0 0.8 0a0.4 0.4 0 1 0 -0.8 0M482.7 265.6a0.4 0.4 0 1 0 0.9 0a0.4 0.4 0 1 0 -0.9 0M444.6 237.9a0.5 0.5 0 1 0 0.9 0a0.5 0.5 0 1 0 -0.9 0M458.6 231.7a0.5 0.5 0 1 0 1.0 0a0.5 0.5 0 1 0 -1.0 0M460.2 277.0a0.5 0.5 0 1 0 1.0 0a0.5 0.5 0 1 0 -1.0 0M468.0 281.0a0.6 0.6 0 1 0 1.1 0a0.6 0.6 0 1 0 -1.1 0M492.7 246.7a0.4 0.4 0 1 0 0.8 0a0.4 0.4 0 1 0 -0.8 0M453.2 272.3a0.5 0.5 0 1 0 1.1 0a0.5 0.5 0 1 0 -1.1 0M470.2 241.4a0.5 0.5 0 1 0 0.9 0a0.5 0.5 0 1 0 -0.9 0M467.1 254.5a0.5 0.5 0 1 0 1.1 0a0.5 0.5 0 1 0 -1.1 0M453.9 227.7a0.4 0.4 0 1 0 0.7 0a0.4 0.4 0 1 0 -0.7 0M444.8 266.7a0.3 0.3 0 1 0 0.6 0a0.3 0.3 0 1 0 -0.6 0M452.6 289.8a0.5 0.5 0 1 0 1.1 0a0.5 0.5 0 1 0 -1.1 0" fill="#e0a0d0" opacity="0.5"/>
<path d="M454.8 278.7a0.3 0.3 0 1 0 0.7 0a0.3 0.3 0 1 0 -0.7 0M483.0 290.8a0.4 0.4 0 1 0 0.8 0a0.4 0.4 0 1 0 -0.8 0M464.7 265.4a0.5 0.5 0 1 0 1.0 0a0.5 0.5 0 1 0 -1.0 0M475.2 236.5a0.6 0.6 0 1 0 1.1 0a0.6 0.6 0 1 0 -1.1 0M428.9 292.9a0.5 0.5 0 1 0 1.1 0a0.5 0.5 0 1 0 -1.1 0M430.3 257.0a0.5 0.5 0 1 0 1.1 0a0.5 0.5 0 1 0 -1.1 0M432.9 264.2a0.5 0.5 0 1 0 1.0 0a0.5 0.5 0 1 0 -1.0 0M429.0 241.8a0.4 0.4 0 1 0 0.9 0a0.4 0.4 0 1 0 -0.9 0M471.1 237.2a0.3 0.3 0 1 0 0.6 0a0.3 0.3 0 1 0 -0.6 0M498.6 285.0a0.3 0.3 0 1 0 0.7 0a0.3 0.3 0 1 0 -0.7 0M429.0 256.1a0.4 0.4 0 1 0 0.8 0a0.4 0.4 0 1 0 -0.8 0M450.9 228.2a0.3 0.3 0 1 0 0.7 0a0.3 0.3 0 1 0 -0.7 0M480.1 239.4a0.5 0.5 0 1 0 0.9 0a0.5 0.5 0 1 0 -0.9 0M441.6 240.3a0.6 0.6 0 1 0 1.2 0a0.6 0.6 0 1 0 -1.2 0M477.0 250.3a0.4 0.4 0 1 0 0.8 0a0.4 0.4 0 1 0 -0.8 0M468.9 238.6a0.5 0.5 0 1 0 1.1 0a0.5 0.5 0 1 0 -1.1 0M445.7 251.3a0.5 0.5 0 1 0 1.1 0a0.5 0.5 0 1 0 -1.1 0M489.3 238.4a0.5 0.5 0 1 0 1.0 0a0.5 0.5 0 1 0 -1.0 0M456.8 243.9a0.6 0.6 0 1 0 1.2 0a0.6 0.6 0 1 0 -1.2 0M428.2 285.6a0.5 0.5 0 1 0 1.0 0a0.5 0.5 0 1 0 -1.0 0M453.2 272.5a0.6 0.6 0 1 0 1.1 0a0.6 0.6 0 1 0 -1.1 0M497.6 246.9a0.4 0.4 0 1 0 0.9 0a0.4 0.4 0 1 0 -0.9 0M497.4 229.3a0.5 0.5 0 1 0 0.9 0a0.5 0.5 0 1 0 -0.9 0M432.7 279.2a0.6 0.6 0 1 0 1.1 0a0.6 0.6 0 1 0 -1.1 0M438.5 295.9a0.5 0.5 0 1 0 1.0 0a0.5 0.5 0 1 0 -1.0 0M447.4 230.8a0.5 0.5 0 1 0 0.9 0a0.5 0.5 0 1 0 -0.9 0M489.7 245.0a0.4 0.4 0 1 0 0.9 0a0.4 0.4 0 1 0 -0.9 0M465.8 253.8a0.5 0.5 0 1 0 1.0 0a0.5 0.5 0 1 0 -1.0 0M460.8 253.5a0.3 0.3 0 1 0 0.7 0a0.3 0.3 0 1 0 -0.7 0M490.4 278.7a0.5 0.5 0 1 0 0.9 0a0.5 0.5 0 1 0 -0.9 0M495.5 244.2a0.3 0.3 0 1 0 0.7 0a0.3 0.3 0 1 0 -0.7 0M488.7 280.1a0.5 0.5 0 1 0 1.0 0a0.5 0.5 0 1 0 -1.0 0M437.3 235.6a0.3 0.3 0 1 0 0.7 0a0.3 0.3 0 1 0 -0.7 0M429.4 228.7a0.4 0.4 0 1 0 0.8 0a0.4 0.4 0 1 0 -0.8 0M447.9 252.9a0.6 0.6 0 1 0 1.2 0a0.6 0.6 0 1 0 -1.2 0M494.9 242.6a0.6 0.6 0 1 0 1.2 0a0.6 0.6 0 1 0 -1.2 0M495.2 228.8a0.5 0.5 0 1 0 1.0 0a0.5 0.5 0 1 0 -1.0 0M476.2 255.5a0.4 0.4 0 1 0 0.8 0a0.4 0.4 0 1 0 -0.8 0M484.9 240.5a0.4 0.4 0 1 0 0.8 0a0.4 0.4 0 1 0 -0.8 0M492.9 239.6a0.4 0.4 0 1 0 0.8 0a0.4 0.4 0 1 0 -0.8 0M450.9 260.2a0.6 0.6 0 1 0 1.2 0a0.6 0.6 0 1 0 -1.2 0M495.9 230.6a0.6 0.6 0 1 0 1.2 0a0.6 0.6 0 1 0 -1.2 0M478.4 262.9a0.4 0.4 0 1 0 0.8 0a0.4 0.4 0 1 0 -0.8 0M456.0 246.7a0.5 0.5 0 1 0 1.0 0a0.5 0.5 0 1 0 -1.0 0M440.6 290.0a0.4 0.4 0 1 0 0.7 0a0.4 0.4 0 1 0 -0.7 0M473.8 233.0a0.5 0.5 0 1 0 1.1 0a0.5 0.5 0 1 0 -1.1 0M476.7 240.3a0.6 0.6 0 1 0 1.2 0a0.6 0.6 0 1 0 -1.2 0M429.3 266.5a0.5 0.5 0 1 0 0.9 0a0.5 0.5 0 1 0 -0.9 0M443.0 236.4a0.5 0.5 0 1 0 1.1 0a0.5 0.5 0 1 0 -1.1 0M475.9 292.9a0.3 0.3 0 1 0 0.7 0a0.3 0.3 0 1 0 -0.7 0M470.8 246.2a0.5 0.5 0 1 0 1.0 0a0.5 0.5 0 1 0 -1.0 0M465.2 261.6a0.4 0.4 0 1 0 0.7 0a0.4 0.4 0 1 0 -0.7 0M430.4 259.7a0.5 0.5 0 1 0 1.0 0a0.5 0.5 0 1 0 -1.0 0M485.8 272.4a0.5 0.5 0 1 0 1.0 0a0.5 0.5 0 1 0 -1.0 0M430.9 287.5a0.4 0.4 0 1 0 0.7 0a0.4 0.4 0 1 0 -0.7 0M436.3 259.2a0.6 0.6 0 1 0 1.1 0a0.6 0.6 0 1 0 -1.1 0M473.3 230.4a0.6 0.6 0 1 0 1.2 0a0.6 0.6 0 1 0 -1.2 0M461.2 274.8a0.4 0.4 0 1 0 0.7 0a0.4 0.4 0 1 0 -0.7 0M443.8 280.1a0.5 0.5 0 1 0 1.1 0a0.5 0.5 0 1 0 -1.1 0M479.6 236.4a0.5 0.5 0 1 0 1.0 0a0.5 0.5 0 1 0 -1.0 0M439.7 231.4a0.4 0.4 0 1 0 0.7 0a0.4 0.4 0 1 0 -0.7 0M446.4 280.9a0.5 0.5 0 1 0 1.1 0a0.5 0.5 0 1 0 -1.1 0M469.1 244.4a0.5 0.5 0 1 0 1.1 0a0.5 0.5 0 1 0 -1.1 0M473.9 239.5a0.3 0.3 0 1 0 0.7 0a0.3 0.3 0 1 0 -0.7 0M443.6 250.9a0.3 0.3 0 1 0 0.7 0a0.3 0.3 0 1 0 -0.7 0M433.4 268.0a0.4 0.4 0 1 0 0.8 0a0.4 0.4 0 1 0 -0.8 0M446.3 248.8a0.5 0.5 0 1 0 1.0 0a0.5 0.5 0 1 0 -1.0 0M475.4 253.1a0.4 0.4 0 1 0 0.8 0a0.4 0.4 0 1 0 -0.8 0M451.4 286.7a0.4 0.4 0 1 0 0.8 0a0.4 0.4 0 1 0 -0.8 0M485.3 288.3a0.4 0.4 0 1 0 0.8 0a0.4 0.4 0 1 0 -0.8 0M461.1 276.2a0.5 0.5 0 1 0 1.0 0a0.5 0.5 0 1 0 -1.0 0M435.2 246.1a0.6 0.6 0 1 0 1.2 0a0.6 0.6 0 1 0 -1.2 0M467.9 240.2a0.3 0.3 0 1 0 0.6 0a0.3 0.3 0 1 0 -0.6 0M479.5 278.1a0.5 0.5 0 1 0 1.1 0a0.5 0.5 0 1 0 -1.1 0M451.9 273.5a0.4 0.4 0 1 0 0.7 0a0.4 0.4 0 1 0 -0.7 0M442.7 237.9a0.6 0.6 0 1 0 1.2 0a0.6 0.6 0 1 0 -1.2 0M468.9 249.9a0.3 0.3 0 1 0 0.7 0a0.3 0.3 0 1 0 -0.7 0M489.8 264.9a0.6 0.6 0 1 0 1.1 0a0.6 0.6 0 1 0 -1.1 0M485.3 287.7a0.4 0.4 0 1 0 0.7 0a0.4 0.4 0 1 0 -0.7 0M484.7 245.1a0.4 0.4 0 1 0 0.8 0a0.4 0.4 0 1 0 -0.8 0M453.4 273.4a0.3 0.3 0 1 0 0.7 0a0.3 0.3 0 1 0 -0.7 0M447.6 280.5a0.5 0.5 0 1 0 1.0 0a0.5 0.5 0 1 0 -1.0 0M429.2 232.3a0.6 0.6 0 1 0 1.2 0a0.6 0.6 0 1 0 -1.2 0M462.0 238.5a0.4 0.4 0 1 0 0.8 0a0.4 0.4 0 1 0 -0.8 0M444.8 295.6a0.5 0.5 0 1 0 1.0 0a0.5 0.5 0 1 0 -1.0 0M435.3 276.2a0.5 0.5 0 1 0 0.9 0a0.5 0.5 0 1 0 -0.9 0M491.4 246.2a0.3 0.3 0 1 0 0.7 0a0.3 0.3 0 1 0 -0.7 0M477.0 267.1a0.4 0.4 0 1 0 0.8 0a0.4 0.4 0 1 0 -0.8 0M445.9 242.2a0.3 0.3 0 1 0 0.6 0a0.3 0.3 0 1 0 -0.6 0M429.4 225.6a0.5 0.5 0 1 0 1.0 0a0.5 0.5 0 1 0 -1.0 0M493.4 258.3a0.3 0.3 0 1 0 0.7 0a0.3 0.3 0 1 0 -0.7 0M442.8 294.5a0.3 0.3 0 1 0 0.6 0a0.3 0.3 0 1 0 -0.6 0M436.1 266.8a0.4 0.4 0 1 0 0.8 0a0.4 0.4 0 1 0 -0.8 0M467.7 263.9a0.4 0.4 0 1 0 0.8 0a0.4 0.4 0 1 0 -0.8 0M463.6 264.9a0.4 0.4 0 1 0 0.8 0a0.4 0.4 0 1 0 -0.8 0M433.0 288.0a0.4 0.4 0 1 0 0.8 0a0.4 0.4 0 1 0 -0.8 0M468.4 233.1a0.4 0.4 0 1 0 0.7 0a0.4 0.4 0 1 0 -0.7 0M494.5 246.2a0.3 0.3 0 1 0 0.6 0a0.3 0.3 0 1 0 -0.6 0M447.4 247.7a0.6 0.6 0 1 0 1.1 0a0.6 0.6 0 1 0 -1.1 0M429.5 290.9a0.4 0.4 0 1 0 0.8 0a0.4 0.4 0 1 0 -0.8 0M454.1 280.1a0.6 0.6 0 1 0 1.1 0a0.6 0.6 0 1 0 -1.1 0M456.8 247.8a0.5 0.5 0 1 0 1.1 0a0.5 0.5 0 1 0 -1.1 0M480.8 283.5a0.6 0.6 0 1 0 1.2 0a0.6 0.6 0 1 0 -1.2 0M451.7 276.6a0.3 0.3 0 1 0 0.6 0a0.3 0.3 0 1 0 -0.6 0M488.0 271.4a0.3 0.3 0 1 0 0.7 0a0.3 0.3 0 1 0 -0.7 0M497.1 230.1a0.5 0.5 0 1 0 0.9 0a0.5 0.5 0 1 0 -0.9 0M439.8 253.4a0.5 0.5 0 1 0 1.1 0a0.5 0.5 0 1 0 -1.1 0M455.1 254.0a0.5 0.5 0 1 0 1.0 0a0.5 0.5 0 1 0 -1.0 0M440.1 268.6a0.4 0.4 0 1 0 0.7 0a0.4 0.4 0 1 0 -0.7 0M443.5 288.7a0.5 0.5 0 1 0 1.1 0a0.5 0.5 0 1 0 -1.1 0M476.1 285.1a0.5 0.5 0 1 0 1.0 0a0.5 0.5 0 1 0 -1.0 0M439.1 279.8a0.5 0.5 0 1 0 1.0 0a0.5 0.5 0 1 0 -1.0 0M454.1 226.5a0.5 0.5 0 1 0 1.0 0a0.5 0.5 0 1 0 -1.0 0M496.7 233.5a0.5 0.5 0 1 0 0.9 0a0.5 0.5 0 1 0 -0.9 0M432.2 272.4a0.4 0.4 0 1 0 0.8 0a0.4 0.4 0 1 0 -0.8 0M496.0 241.5a0.5 0.5 0 1 0 0.9 0a0.5 0.5 0 1 0 -0.9 0M487.6 283.8a0.4 0.4 0 1 0 0.9 0a0.4 0.4 0 1 0 -0.9 0M444.9 259.8a0.3 0.3 0 1 0 0.6 0a0.3 0.3 0 1 0 -0.6 0M494.6 267.2a0.5 0.5 0 1 0 1.1 0a0.5 0.5 0 1 0 -1.1 0M460.9 270.8a0.6 0.6 0 1 0 1.1 0a0.6 0.6 0 1 0 -1.1 0M457.1 282.1a0.4 0.4 0 1 0 0.9 0a0.4 0.4 0 1 0 -0.9 0M458.3 285.1a0.4 0.4 0 1 0 0.7 0a0.4 0.4 0 1 0 -0.7 0M461.5 287.5a0.5 0.5 0 1 0 1.0 0a0.5 0.5 0 1 0 -1.0 0M427.8 285.9a0.5 0.5 0 1 0 1.0 0a0.5 0.5 0 1 0 -1.0 0M442.2 286.4a0.3 0.3 0 1 0 0.7 0a0.3 0.3 0 1 0 -0.7 0M499.0 279.7a0.3 0.3 0 1 0 0.7 0a0.3 0.3 0 1 0 -0.7 0M445.1 240.8a0.4 0.4 0 1 0 0.8 0a0.4 0.4 0 1 0 -0.8 0M464.7 252.3a0.6 0.6 0 1 0 1.2 0a0.6 0.6 0 1 0 -1.2 0M493.7 271.6a0.6 0.6 0 1 0 1.1 0a0.6 0.6 0 1 0 -1.1 0M444.8 248.5a0.5 0.5 0 1 0 0.9 0a0.5 0.5 0 1 0 -0.9 0M447.9 270.0a0.4 0.4 0 1 0 0.8 0a0.4 0.4 0 1 0 -0.8 0M459.1 278.4a0.5 0.5 0 1 0 1.0 0a0.5 0.5 0 1 0 -1.0 0M467.4 274.8a0.3 0.3 0 1 0 0.7 0a0.3 0.3 0 1 0 -0.7 0M473.6 252.1a0.5 0.5 0 1 0 1.0 0a0.5 0.5 0 1 0 -1.0 0M465.5 229.5a0.3 0.3 0 1 0 0.6 0a0.3 0.3 0 1 0 -0.6 0M461.5 259.0a0.4 0.4 0 1 0 0.9 0a0.4 0.4 0 1 0 -0.9 0M444.6 226.1a0.4 0.4 0 1 0 0.9 0a0.4 0.4 0 1 0 -0.9 0M482.4 250.2a0.3 0.3 0 1 0 0.6 0a0.3 0.3 0 1 0 -0.6 0M458.3 262.1a0.5 0.5 0 1 0 1.0 0a0.5 0.5 0 1 0 -1.0 0M479.0 295.7a0.4 0.4 0 1 0 0.8 0a0.4 0.4 0 1 0 -0.8 0M460.9 229.1a0.5 0.5 0 1 0 1.0 0a0.5 0.5 0 1 0 -1.0 0M485.5 282.8a0.4 0.4 0 1 0 0.8 0a0.4 0.4 0 1 0 -0.8 0M435.7 259.2a0.6 0.6 0 1 0 1.1 0a0.6 0.6 0 1 0 -1.1 0M460.6 266.2a0.6 0.6 0 1 0 1.1 0a0.6 0.6 0 1 0 -1.1 0M459.4 272.3a0.5 0.5 0 1 0 1.0 0a0.5 0.5 0 1 0 -1.0 0M460.8 239.1a0.5 0.5 0 1 0 1.0 0a0.5 0.5 0 1 0 -1.0 0M466.3 292.7a0.4 0.4 0 1 0 0.9 0a0.4 0.4 0 1 0 -0.9 0M475.2 294.4a0.3 0.3 0 1 0 0.6 0a0.3 0.3 0 1 0 -0.6 0M471.3 238.4a0.4 0.4 0 1 0 0.7 0a0.4 0.4 0 1 0 -0.7 0M462.4 248.8a0.4 0.4 0 1 0 0.9 0a0.4 0.4 0 1 0 -0.9 0M481.8 292.2a0.4 0.4 0 1 0 0.9 0a0.4 0.4 0 1 0 -0.9 0M456.7 254.7a0.4 0.4 0 1 0 0.8 0a0.4 0.4 0 1 0 -0.8 0M463.8 279.6a0.3 0.3 0 1 0 0.7 0a0.3 0.3 0 1 0 -0.7 0M452.6 232.8a0.4 0.4 0 1 0 0.7 0a0.4 0.4 0 1 0 -0.7 0M447.0 282.9a0.3 0.3 0 1 0 0.7 0a0.3 0.3 0 1 0 -0.7 0M480.1 238.9a0.4 0.4 0 1 0 0.7 0a0.4 0.4 0 1 0 -0.7 0M440.0 230.6a0.3 0.3 0 1 0 0.6 0a0.3 0.3 0 1 0 -0.6 0M457.0 247.7a0.4 0.4 0 1 0 0.8 0a0.4 0.4 0 1 0 -0.8 0M437.4 234.4a0.4 0.4 0 1 0 0.8 0a0.4 0.4 0 1 0 -0.8 0M436.2 272.3a0.5 0.5 0 1 0 0.9 0a0.5 0.5 0 1 0 -0.9 0M472.3 295.5a0.3 0.3 0 1 0 0.7 0a0.3 0.3 0 1 0 -0.7 0M474.3 256.9a0.4 0.4 0 1 0 0.9 0a0.4 0.4 0 1 0 -0.9 0M438.1 291.7a0.4 0.4 0 1 0 0.9 0a0.4 0.4 0 1 0 -0.9 0M467.2 282.4a0.4 0.4 0 1 0 0.9 0a0.4 0.4 0 1 0 -0.9 0M496.1 231.0a0.3 0.3 0 1 0 0.7 0a0.3 0.3 0 1 0 -0.7 0M445.0 293.9a0.5 0.5 0 1 0 1.1 0a0.5 0.5 0 1 0 -1.1 0M428.1 237.7a0.4 0.4 0 1 0 0.7 0a0.4 0.4 0 1 0 -0.7 0M452.7 254.9a0.5 0.5 0 1 0 1.0 0a0.5 0.5 0 1 0 -1.0 0M440.0 269.7a0.4 0.4 0 1 0 0.9 0a0.4 0.4 0 1 0 -0.9 0M488.6 244.0a0.4 0.4 0 1 0 0.7 0a0.4 0.4 0 1 0 -0.7 0M450.8 251.7a0.5 0.5 0 1 0 1.1 0a0.5 0.5 0 1 0 -1.1 0M454.4 258.0a0.6 0.6 0 1 0 1.1 0a0.6 0.6 0 1 0 -1.1 0M437.4 293.6a0.5 0.5 0 1 0 1.0 0a0.5 0.5 0 1 0 -1.0 0M429.6 287.4a0.5 0.5 0 1 0 1.0 0a0.5 0.5 0 1 0 -1.0 0M456.4 249.5a0.4 0.4 0 1 0 0.8 0a0.4 0.4 0 1 0 -0.8 0M493.5 295.4a0.4 0.4 0 1 0 0.8 0a0.4 0.4 0 1 0 -0.8 0M456.8 291.4a0.6 0.6 0 1 0 1.2 0a0.6 0.6 0 1 0 -1.2 0M448.7 260.6a0.3 0.3 0 1 0 0.7 0a0.3 0.3 0 1 0 -0.7 0M448.8 279.6a0.4 0.4 0 1 0 0.9 0a0.4 0.4 0 1 0 -0.9 0M470.5 280.4a0.5 0.5 0 1 0 1.0 0a0.5 0.5 0 1 0 -1.0 0M445.3 229.9a0.4 0.4 0 1 0 0.9 0a0.4 0.4 0 1 0 -0.9 0M491.0 292.1a0.3 0.3 0 1 0 0.7 0a0.3 0.3 0 1 0 -0.7 0M430.5 285.5a0.6 0.6 0 1 0 1.1 0a0.6 0.6 0 1 0 -1.1 0M450.9 232.5a0.5 0.5 0 1 0 1.1 0a0.5 0.5 0 1 0 -1.1 0M490.4 231.2a0.6 0.6 0 1 0 1.1 0a0.6 0.6 0 1 0 -1.1 0M453.7 251.6a0.4 0.4 0 1 0 0.9 0a0.4 0.4 0 1 0 -0.9 0M429.3 294.5a0.5 0.5 0 1 0 1.0 0a0.5 0.5 0 1 0 -1.0 0M451.6 262.3a0.4 0.4 0 1 0 0.8 0a0.4 0.4 0 1 0 -0.8 0M462.3 240.9a0.4 0.4 0 1 0 0.8 0a0.4 0.4 0 1 0 -0.8 0M486.6 252.4a0.3 0.3 0 1 0 0.7 0a0.3 0.3 0 1 0 -0.7 0M458.8 277.6a0.6 0.6 0 1 0 1.2 0a0.6 0.6 0 1 0 -1.2 0M471.3 267.7a0.4 0.4 0 1 0 0.8 0a0.4 0.4 0 1 0 -0.8 0M460.5 249.9a0.4 0.4 0 1 0 0.9 0a0.4 0.4 0 1 0 -0.9 0M492.9 234.7a0.4 0.4 0 1 0 0.8 0a0.4 0.4 0 1 0 -0.8 0M474.6 235.7a0.4 0.4 0 1 0 0.7 0a0.4 0.4 0 1 0 -0.7 0M471.4 255.8a0.3 0.3 0 1 0 0.7 0a0.3 0.3 0 1 0 -0.7 0M470.1 267.3a0.4 0.4 0 1 0 0.8 0a0.4 0.4 0 1 0 -0.8 0M456.0 290.0a0.3 0.3 0 1 0 0.7 0a0.3 0.3 0 1 0 -0.7 0M437.4 279.8a0.5 0.5 0 1 0 1.0 0a0.5 0.5 0 1 0 -1.0 0M475.0 275.7a0.4 0.4 0 1 0 0.7 0a0.4 0.4 0 1 0 -0.7 0M482.9 229.5a0.5 0.5 0 1 0 1.1 0a0.5 0.5 0 1 0 -1.1 0M444.2 224.9a0.4 0.4 0 1 0 0.7 0a0.4 0.4 0 1 0 -0.7 0M486.9 274.5a0.4 0.4 0 1 0 0.7 0a0.4 0.4 0 1 0 -0.7 0M445.7 277.6a0.3 0.3 0 1 0 0.7 0a0.3 0.3 0 1 0 -0.7 0M448.6 294.5a0.5 0.5 0 1 0 0.9 0a0.5 0.5 0 1 0 -0.9 0M461.5 278.4a0.6 0.6 0 1 0 1.1 0a0.6 0.6 0 1 0 -1.1 0M450.2 279.1a0.4 0.4 0 1 0 0.8 0a0.4 0.4 0 1 0 -0.8 0M481.4 285.7a0.4 0.4 0 1 0 0.7 0a0.4 0.4 0 1 0 -0.7 0M440.1 256.4a0.3 0.3 0 1 0 0.7 0a0.3 0.3 0 1 0 -0.7 0M466.6 267.3a0.5 0.5 0 1 0 0.9 0a0.5 0.5 0 1 0 -0.9 0M486.5 248.6a0.5 0.5 0 1 0 0.9 0a0.5 0.5 0 1 0 -0.9 0M467.0 242.6a0.5 0.5 0 1 0 1.0 0a0.5 0.5 0 1 0 -1.0 0M456.1 266.4a0.4 0.4 0 1 0 0.8 0a0.4 0.4 0 1 0 -0.8 0M464.4 278.4a0.5 0.5 0 1 0 0.9 0a0.5 0.5 0 1 0 -0.9 0M451.7 232.5a0.4 0.4 0 1 0 0.9 0a0.4 0.4 0 1 0 -0.9 0M490.4 251.7a0.5 0.5 0 1 0 1.1 0a0.5 0.5 0 1 0 -1.1 0M476.9 226.5a0.6 0.6 0 1 0 1.1 0a0.6 0.6 0 1 0 -1.1 0M491.5 274.2a0.4 0.4 0 1 0 0.9 0a0.4 0.4 0 1 0 -0.9 0M472.4 280.5a0.5 0.5 0 1 0 1.0 0a0.5 0.5 0 1 0 -1.0 0M467.6 261.6a0.3 0.3 0 1 0 0.6 0a0.3 0.3 0 1 0 -0.6 0M461.0 256.2a0.5 0.5 0 1 0 1.0 0a0.5 0.5 0 1 0 -1.0 0M452.9 259.5a0.6 0.6 0 1 0 1.1 0a0.6 0.6 0 1 0 -1.1 0M439.2 280.5a0.5 0.5 0 1 0 1.1 0a0.5 0.5 0 1 0 -1.1 0M459.5 249.5a0.4 0.4 0 1 0 0.8 0a0.4 0.4 0 1 0 -0.8 0M444.7 290.3a0.5 0.5 0 1 0 1.0 0a0.5 0.5 0 1 0 -1.0 0M450.0 277.8a0.6 0.6 0 1 0 1.1 0a0.6 0.6 0 1 0 -1.1 0M482.1 273.7a0.5 0.5 0 1 0 1.0 0a0.5 0.5 0 1 0 -1.0 0M493.9 284.7a0.4 0.4 0 1 0 0.7 0a0.4 0.4 0 1 0 -0.7 0M450.4 270.6a0.4 0.4 0 1 0 0.7 0a0.4 0.4 0 1 0 -0.7 0M452.0 291.8a0.6 0.6 0 1 0 1.2 0a0.6 0.6 0 1 0 -1.2 0M458.3 268.1a0.5 0.5 0 1 0 1.0 0a0.5 0.5 0 1 0 -1.0 0M493.7 267.4a0.6 0.6 0 1 0 1.1 0a0.6 0.6 0 1 0 -1.1 0M438.6 253.5a0.4 0.4 0 1 0 0.8 0a0.4 0.4 0 1 0 -0.8 0M474.8 292.3a0.5 0.5 0 1 0 1.1 0a0.5 0.5 0 1 0 -1.1 0M475.9 227.6a0.3 0.3 0 1 0 0.6 0a0.3 0.3 0 1 0 -0.6 0M476.0 228.1a0.3 0.3 0 1 0 0.6 0a0.3 0.3 0 1 0 -0.6 0M473.3 263.5a0.4 0.4 0 1 0 0.9 0a0.4 0.4 0 1 0 -0.9 0M463.1 242.3a0.6 0.6 0 1 0 1.2 0a0.6 0.6 0 1 0 -1.2 0M435.5 257.5a0.6 0.6 0 1 0 1.2 0a0.6 0.6 0 1 0 -1.2 0M452.9 286.8a0.5 0.5 0 1 0 0.9 0a0.5 0.5 0 1 0 -0.9 0M468.5 259.0a0.4 0.4 0 1 0 0.7 0a0.4 0.4 0 1 0 -0.7 0M496.6 256.0a0.4 0.4 0 1 0 0.9 0a0.4 0.4 0 1 0 -0.9 0M493.3 259.5a0.5 0.5 0 1 0 1.0 0a0.5 0.5 0 1 0 -1.0 0M428.5 267.4a0.4 0.4 0 1 0 0.8 0a0.4 0.4 0 1 0 -0.8 0M453.1 289.5a0.4 0.4 0 1 0 0.8 0a0.4 0.4 0 1 0 -0.8 0M454.8 254.7a0.4 0.4 0 1 0 0.8 0a0.4 0.4 0 1 0 -0.8 0M454.8 229.0a0.4 0.4 0 1 0 0.7 0a0.4 0.4 0 1 0 -0.7 0M473.5 227.8a0.3 0.3 0 1 0 0.7 0a0.3 0.3 0 1 0 -0.7 0M465.0 266.7a0.5 0.5 0 1 0 1.0 0a0.5 0.5 0 1 0 -1.0 0M434.8 277.1a0.6 0.6 0 1 0 1.1 0a0.6 0.6 0 1 0 -1.1 0M486.1 271.2a0.3 0.3 0 1 0 0.7 0a0.3 0.3 0 1 0 -0.7 0M439.0 261.8a0.4 0.4 0 1 0 0.9 0a0.4 0.4 0 1 0 -0.9 0M493.1 282.0a0.4 0.4 0 1 0 0.7 0a0.4 0.4 0 1 0 -0.7 0M447.8 267.6a0.6 0.6 0 1 0 1.2 0a0.6 0.6 0 1 0 -1.2 0M434.1 243.6a0.4 0.4 0 1 0 0.7 0a0.4 0.4 0 1 0 -0.7 0M454.6 273.6a0.5 0.5 0 1 0 1.0 0a0.5 0.5 0 1 0 -1.0 0M452.5 228.6a0.5 0.5 0 1 0 1.0 0a0.5 0.5 0 1 0 -1.0 0M474.4 224.7a0.6 0.6 0 1 0 1.1 0a0.6 0.6 0 1 0 -1.1 0M443.5 236.1a0.5 0.5 0 1 0 1.0 0a0.5 0.5 0 1 0 -1.0 0M434.7 256.3a0.3 0.3 0 1 0 0.7 0a0.3 0.3 0 1 0 -0.7 0M444.7 231.5a0.3 0.3 0 1 0 0.6 0a0.3 0.3 0 1 0 -0.6 0M441.9 293.9a0.5 0.5 0 1 0 1.0 0a0.5 0.5 0 1 0 -1.0 0M440.4 286.7a0.4 0.4 0 1 0 0.8 0a0.4 0.4 0 1 0 -0.8 0M481.9 236.6a0.5 0.5 0 1 0 1.1 0a0.5 0.5 0 1 0 -1.1 0M448.5 251.7a0.6 0.6 0 1 0 1.1 0a0.6 0.6 0 1 0 -1.1 0M455.0 279.2a0.3 0.3 0 1 0 0.6 0a0.3 0.3 0 1 0 -0.6 0M460.4 295.9a0.4 0.4 0 1 0 0.8 0a0.4 0.4 0 1 0 -0.8 0M479.3 295.6a0.5 0.5 0 1 0 1.1 0a0.5 0.5 0 1 0 -1.1 0M430.9 228.1a0.5 0.5 0 1 0 0.9 0a0.5 0.5 0 1 0 -0.9 0M460.9 250.1a0.4 0.4 0 1 0 0.8 0a0.4 0.4 0 1 0 -0.8 0M494.4 226.8a0.4 0.4 0 1 0 0.8 0a0.4 0.4 0 1 0 -0.8 0M428.0 241.6a0.3 0.3 0 1 0 0.6 0a0.3 0.3 0 1 0 -0.6 0M444.2 257.0a0.5 0.5 0 1 0 1.0 0a0.5 0.5 0 1 0 -1.0 0M491.9 230.4a0.6 0.6 0 1 0 1.1 0a0.6 0.6 0 1 0 -1.1 0M445.0 236.4a0.3 0.3 0 1 0 0.6 0a0.3 0.3 0 1 0 -0.6 0M471.9 264.1a0.3 0.3 0 1 0 0.6 0a0.3 0.3 0 1 0 -0.6 0M477.6 272.0a0.6 0.6 0 1 0 1.1 0a0.6 0.6 0 1 0 -1.1 0M438.4 255.2a0.5 0.5 0 1 0 1.0 0a0.5 0.5 0 1 0 -1.0 0M468.1 291.2a0.5 0.5 0 1 0 1.0 0a0.5 0.5 0 1 0 -1.0 0M461.6 229.5a0.4 0.4 0 1 0 0.8 0a0.4 0.4 0 1 0 -0.8 0M440.6 290.8a0.6 0.6 0 1 0 1.1 0a0.6 0.6 0 1 0 -1.1 0M476.8 272.4a0.5 0.5 0 1 0 1.0 0a0.5 0.5 0 1 0 -1.0 0M445.8 246.6a0.4 0.4 0 1 0 0.9 0a0.4 0.4 0 1 0 -0.9 0M463.8 297.3a0.6 0.6 0 1 0 1.1 0a0.6 0.6 0 1 0 -1.1 0M497.5 235.6a0.4 0.4 0 1 0 0.9 0a0.4 0.4 0 1 0 -0.9 0M453.9 297.2a0.5 0.5 0 1 0 1.0 0a0.5 0.5 0 1 0 -1.0 0M483.3 262.1a0.4 0.4 0 1 0 0.9 0a0.4 0.4 0 1 0 -0.9 0M433.5 276.8a0.3 0.3 0 1 0 0.6 0a0.3 0.3 0 1 0 -0.6 0M447.6 288.7a0.5 0.5 0 1 0 1.1 0a0.5 0.5 0 1 0 -1.1 0M483.3 277.2a0.3 0.3 0 1 0 0.6 0a0.3 0.3 0 1 0 -0.6 0M497.1 250.1a0.5 0.5 0 1 0 1.1 0a0.5 0.5 0 1 0 -1.1 0M454.9 297.0a0.5 0.5 0 1 0 1.0 0a0.5 0.5 0 1 0 -1.0 0M431.8 238.2a0.4 0.4 0 1 0 0.8 0a0.4 0.4 0 1 0 -0.8 0M427.7 283.2a0.4 0.4 0 1 0 0.8 0a0.4 0.4 0 1 0 -0.8 0M438.4 271.1a0.6 0.6 0 1 0 1.2 0a0.6 0.6 0 1 0 -1.2 0M427.8 276.0a0.4 0.4 0 1 0 0.8 0a0.4 0.4 0 1 0 -0.8 0M438.8 249.4a0.4 0.4 0 1 0 0.9 0a0.4 0.4 0 1 0 -0.9 0M483.1 268.2a0.5 0.5 0 1 0 1.0 0a0.5 0.5 0 1 0 -1.0 0M447.6 289.2a0.3 0.3 0 1 0 0.6 0a0.3 0.3 0 1 0 -0.6 0M492.8 268.2a0.5 0.5 0 1 0 1.1 0a0.5 0.5 0 1 0 -1.1 0M466.7 246.4a0.5 0.5 0 1 0 1.0 0a0.5 0.5 0 1 0 -1.0 0M483.5 249.1a0.6 0.6 0 1 0 1.1 0a0.6 0.6 0 1 0 -1.1 0M478.7 289.1a0.4 0.4 0 1 0 0.8 0a0.4 0.4 0 1 0 -0.8 0M430.1 254.1a0.3 0.3 0 1 0 0.7 0a0.3 0.3 0 1 0 -0.7 0M438.7 280.7a0.5 0.5 0 1 0 1.0 0a0.5 0.5 0 1 0 -1.0 0M485.4 288.8a0.5 0.5 0 1 0 1.0 0a0.5 0.5 0 1 0 -1.0 0M466.6 249.3a0.4 0.4 0 1 0 0.8 0a0.4 0.4 0 1 0 -0.8 0M481.5 244.0a0.6 0.6 0 1 0 1.2 0a0.6 0.6 0 1 0 -1.2 0M461.0 283.6a0.4 0.4 0 1 0 0.9 0a0.4 0.4 0 1 0 -0.9 0M435.0 239.9a0.3 0.3 0 1 0 0.6 0a0.3 0.3 0 1 0 -0.6 0M484.7 245.9a0.5 0.5 0 1 0 1.0 0a0.5 0.5 0 1 0 -1.0 0M451.0 246.2a0.5 0.5 0 1 0 1.1 0a0.5 0.5 0 1 0 -1.1 0M480.7 271.6a0.3 0.3 0 1 0 0.6 0a0.3 0.3 0 1 0 -0.6 0M437.2 229.6a0.6 0.6 0 1 0 1.2 0a0.6 0.6 0 1 0 -1.2 0M463.1 229.1a0.6 0.6 0 1 0 1.1 0a0.6 0.6 0 1 0 -1.1 0M471.4 240.1a0.4 0.4 0 1 0 0.9 0a0.4 0.4 0 1 0 -0.9 0M477.1 240.3a0.3 0.3 0 1 0 0.6 0a0.3 0.3 0 1 0 -0.6 0M432.1 274.7a0.4 0.4 0 1 0 0.7 0a0.4 0.4 0 1 0 -0.7 0M498.4 261.3a0.3 0.3 0 1 0 0.7 0a0.3 0.3 0 1 0 -0.7 0M440.0 270.3a0.3 0.3 0 1 0 0.7 0a0.3 0.3 0 1 0 -0.7 0M469.8 288.5a0.4 0.4 0 1 0 0.8 0a0.4 0.4 0 1 0 -0.8 0M466.6 274.9a0.5 0.5 0 1 0 1.1 0a0.5 0.5 0 1 0 -1.1 0M488.1 225.3a0.6 0.6 0 1 0 1.2 0a0.6 0.6 0 1 0 -1.2 0M479.1 274.8a0.4 0.4 0 1 0 0.8 0a0.4 0.4 0 1 0 -0.8 0M488.0 224.3a0.4 0.4 0 1 0 0.8 0a0.4 0.4 0 1 0 -0.8 0M461.1 228.3a0.5 0.5 0 1 0 1.1 0a0.5 0.5 0 1 0 -1.1 0M440.6 259.8a0.5 0.5 0 1 0 0.9 0a0.5 0.5 0 1 0 -0.9 0M490.4 228.8a0.4 0.4 0 1 0 0.8 0a0.4 0.4 0 1 0 -0.8 0M478.5 263.9a0.5 0.5 0 1 0 1.0 0a0.5 0.5 0 1 0 -1.0 0M446.5 253.7a0.4 0.4 0 1 0 0.9 0a0.4 0.4 0 1 0 -0.9 0" fill="#9060ae" opacity="0.5"/>
<path d="M485.5 238.5a0.6 0.6 0 1 0 1.1 0a0.6 0.6 0 1 0 -1.1 0M428.6 281.2a0.5 0.5 0 1 0 1.1 0a0.5 0.5 0 1 0 -1.1 0M457.6 240.9a0.6 0.6 0 1 0 1.2 0a0.6 0.6 0 1 0 -1.2 0M467.3 275.0a0.3 0.3 0 1 0 0.6 0a0.3 0.3 0 1 0 -0.6 0M439.6 257.4a0.5 0.5 0 1 0 0.9 0a0.5 0.5 0 1 0 -0.9 0M460.6 256.9a0.3 0.3 0 1 0 0.7 0a0.3 0.3 0 1 0 -0.7 0M497.6 251.2a0.5 0.5 0 1 0 1.0 0a0.5 0.5 0 1 0 -1.0 0M464.4 254.5a0.6 0.6 0 1 0 1.1 0a0.6 0.6 0 1 0 -1.1 0M462.4 249.4a0.6 0.6 0 1 0 1.1 0a0.6 0.6 0 1 0 -1.1 0M458.1 229.7a0.4 0.4 0 1 0 0.8 0a0.4 0.4 0 1 0 -0.8 0M492.1 293.2a0.3 0.3 0 1 0 0.7 0a0.3 0.3 0 1 0 -0.7 0M463.9 281.9a0.4 0.4 0 1 0 0.8 0a0.4 0.4 0 1 0 -0.8 0M447.0 262.3a0.5 0.5 0 1 0 1.1 0a0.5 0.5 0 1 0 -1.1 0M453.8 282.5a0.6 0.6 0 1 0 1.1 0a0.6 0.6 0 1 0 -1.1 0M437.8 251.7a0.6 0.6 0 1 0 1.2 0a0.6 0.6 0 1 0 -1.2 0M444.4 235.3a0.5 0.5 0 1 0 0.9 0a0.5 0.5 0 1 0 -0.9 0M455.0 293.3a0.6 0.6 0 1 0 1.2 0a0.6 0.6 0 1 0 -1.2 0M464.7 267.4a0.3 0.3 0 1 0 0.6 0a0.3 0.3 0 1 0 -0.6 0M473.6 246.9a0.5 0.5 0 1 0 1.0 0a0.5 0.5 0 1 0 -1.0 0M471.1 296.7a0.4 0.4 0 1 0 0.9 0a0.4 0.4 0 1 0 -0.9 0M449.1 241.0a0.4 0.4 0 1 0 0.8 0a0.4 0.4 0 1 0 -0.8 0M447.4 232.6a0.4 0.4 0 1 0 0.7 0a0.4 0.4 0 1 0 -0.7 0M427.6 253.2a0.3 0.3 0 1 0 0.6 0a0.3 0.3 0 1 0 -0.6 0M470.4 267.3a0.4 0.4 0 1 0 0.7 0a0.4 0.4 0 1 0 -0.7 0M464.1 242.8a0.5 0.5 0 1 0 0.9 0a0.5 0.5 0 1 0 -0.9 0M450.8 289.4a0.6 0.6 0 1 0 1.2 0a0.6 0.6 0 1 0 -1.2 0M459.9 225.8a0.6 0.6 0 1 0 1.2 0a0.6 0.6 0 1 0 -1.2 0M456.9 227.5a0.4 0.4 0 1 0 0.8 0a0.4 0.4 0 1 0 -0.8 0M496.9 238.1a0.6 0.6 0 1 0 1.1 0a0.6 0.6 0 1 0 -1.1 0M440.0 228.3a0.5 0.5 0 1 0 1.1 0a0.5 0.5 0 1 0 -1.1 0M482.0 272.5a0.5 0.5 0 1 0 1.0 0a0.5 0.5 0 1 0 -1.0 0M442.8 228.4a0.6 0.6 0 1 0 1.1 0a0.6 0.6 0 1 0 -1.1 0M473.3 257.4a0.6 0.6 0 1 0 1.2 0a0.6 0.6 0 1 0 -1.2 0M493.0 289.3a0.4 0.4 0 1 0 0.9 0a0.4 0.4 0 1 0 -0.9 0M433.3 242.3a0.5 0.5 0 1 0 0.9 0a0.5 0.5 0 1 0 -0.9 0M430.1 260.2a0.5 0.5 0 1 0 1.0 0a0.5 0.5 0 1 0 -1.0 0M497.6 236.7a0.3 0.3 0 1 0 0.7 0a0.3 0.3 0 1 0 -0.7 0M498.4 230.6a0.6 0.6 0 1 0 1.1 0a0.6 0.6 0 1 0 -1.1 0M456.0 261.0a0.4 0.4 0 1 0 0.8 0a0.4 0.4 0 1 0 -0.8 0M477.1 256.2a0.3 0.3 0 1 0 0.6 0a0.3 0.3 0 1 0 -0.6 0M453.3 294.3a0.4 0.4 0 1 0 0.7 0a0.4 0.4 0 1 0 -0.7 0M459.5 272.6a0.5 0.5 0 1 0 0.9 0a0.5 0.5 0 1 0 -0.9 0M456.4 273.3a0.3 0.3 0 1 0 0.6 0a0.3 0.3 0 1 0 -0.6 0M472.8 296.0a0.4 0.4 0 1 0 0.8 0a0.4 0.4 0 1 0 -0.8 0M481.2 297.1a0.5 0.5 0 1 0 1.0 0a0.5 0.5 0 1 0 -1.0 0M456.9 281.9a0.5 0.5 0 1 0 1.1 0a0.5 0.5 0 1 0 -1.1 0M475.6 256.7a0.4 0.4 0 1 0 0.8 0a0.4 0.4 0 1 0 -0.8 0M466.9 261.8a0.4 0.4 0 1 0 0.7 0a0.4 0.4 0 1 0 -0.7 0M468.9 234.3a0.4 0.4 0 1 0 0.8 0a0.4 0.4 0 1 0 -0.8 0M432.5 296.7a0.4 0.4 0 1 0 0.9 0a0.4 0.4 0 1 0 -0.9 0M453.2 273.6a0.3 0.3 0 1 0 0.6 0a0.3 0.3 0 1 0 -0.6 0M462.9 230.1a0.4 0.4 0 1 0 0.8 0a0.4 0.4 0 1 0 -0.8 0M449.1 264.9a0.6 0.6 0 1 0 1.2 0a0.6 0.6 0 1 0 -1.2 0M496.6 235.5a0.5 0.5 0 1 0 0.9 0a0.5 0.5 0 1 0 -0.9 0M441.5 266.6a0.5 0.5 0 1 0 0.9 0a0.5 0.5 0 1 0 -0.9 0M443.1 270.5a0.5 0.5 0 1 0 1.0 0a0.5 0.5 0 1 0 -1.0 0M435.1 251.2a0.5 0.5 0 1 0 1.0 0a0.5 0.5 0 1 0 -1.0 0M455.4 290.1a0.5 0.5 0 1 0 1.1 0a0.5 0.5 0 1 0 -1.1 0M454.5 275.3a0.4 0.4 0 1 0 0.9 0a0.4 0.4 0 1 0 -0.9 0M478.3 236.0a0.5 0.5 0 1 0 1.1 0a0.5 0.5 0 1 0 -1.1 0M465.4 245.0a0.4 0.4 0 1 0 0.7 0a0.4 0.4 0 1 0 -0.7 0M450.5 239.2a0.6 0.6 0 1 0 1.1 0a0.6 0.6 0 1 0 -1.1 0M474.9 265.2a0.4 0.4 0 1 0 0.8 0a0.4 0.4 0 1 0 -0.8 0M497.6 242.5a0.5 0.5 0 1 0 1.0 0a0.5 0.5 0 1 0 -1.0 0M430.9 291.8a0.3 0.3 0 1 0 0.6 0a0.3 0.3 0 1 0 -0.6 0M446.4 277.3a0.5 0.5 0 1 0 0.9 0a0.5 0.5 0 1 0 -0.9 0M452.7 227.5a0.5 0.5 0 1 0 1.0 0a0.5 0.5 0 1 0 -1.0 0M449.0 254.0a0.4 0.4 0 1 0 0.8 0a0.4 0.4 0 1 0 -0.8 0M460.1 274.3a0.5 0.5 0 1 0 0.9 0a0.5 0.5 0 1 0 -0.9 0M498.4 266.8a0.5 0.5 0 1 0 0.9 0a0.5 0.5 0 1 0 -0.9 0M472.7 239.1a0.4 0.4 0 1 0 0.8 0a0.4 0.4 0 1 0 -0.8 0M432.0 293.7a0.3 0.3 0 1 0 0.7 0a0.3 0.3 0 1 0 -0.7 0M461.2 280.7a0.4 0.4 0 1 0 0.9 0a0.4 0.4 0 1 0 -0.9 0M465.6 243.9a0.3 0.3 0 1 0 0.7 0a0.3 0.3 0 1 0 -0.7 0M436.4 268.8a0.6 0.6 0 1 0 1.1 0a0.6 0.6 0 1 0 -1.1 0M486.9 232.5a0.6 0.6 0 1 0 1.2 0a0.6 0.6 0 1 0 -1.2 0M488.0 280.8a0.5 0.5 0 1 0 1.0 0a0.5 0.5 0 1 0 -1.0 0M474.5 260.5a0.4 0.4 0 1 0 0.8 0a0.4 0.4 0 1 0 -0.8 0M454.4 295.4a0.4 0.4 0 1 0 0.7 0a0.4 0.4 0 1 0 -0.7 0M471.6 248.9a0.5 0.5 0 1 0 1.0 0a0.5 0.5 0 1 0 -1.0 0M498.7 282.8a0.4 0.4 0 1 0 0.8 0a0.4 0.4 0 1 0 -0.8 0M465.0 237.5a0.4 0.4 0 1 0 0.8 0a0.4 0.4 0 1 0 -0.8 0M434.8 297.0a0.6 0.6 0 1 0 1.2 0a0.6 0.6 0 1 0 -1.2 0M468.2 294.6a0.4 0.4 0 1 0 0.8 0a0.4 0.4 0 1 0 -0.8 0M450.3 228.8a0.5 0.5 0 1 0 1.0 0a0.5 0.5 0 1 0 -1.0 0M480.0 274.8a0.4 0.4 0 1 0 0.8 0a0.4 0.4 0 1 0 -0.8 0M461.3 228.3a0.5 0.5 0 1 0 1.1 0a0.5 0.5 0 1 0 -1.1 0M481.5 234.5a0.4 0.4 0 1 0 0.8 0a0.4 0.4 0 1 0 -0.8 0M458.1 296.6a0.3 0.3 0 1 0 0.6 0a0.3 0.3 0 1 0 -0.6 0M465.8 236.3a0.4 0.4 0 1 0 0.8 0a0.4 0.4 0 1 0 -0.8 0M449.6 285.2a0.6 0.6 0 1 0 1.1 0a0.6 0.6 0 1 0 -1.1 0M435.4 283.2a0.6 0.6 0 1 0 1.2 0a0.6 0.6 0 1 0 -1.2 0M481.6 260.8a0.4 0.4 0 1 0 0.8 0a0.4 0.4 0 1 0 -0.8 0M452.3 260.0a0.4 0.4 0 1 0 0.7 0a0.4 0.4 0 1 0 -0.7 0M495.7 254.9a0.5 0.5 0 1 0 1.0 0a0.5 0.5 0 1 0 -1.0 0M477.1 244.4a0.5 0.5 0 1 0 0.9 0a0.5 0.5 0 1 0 -0.9 0M434.7 242.3a0.5 0.5 0 1 0 0.9 0a0.5 0.5 0 1 0 -0.9 0M456.3 260.7a0.6 0.6 0 1 0 1.2 0a0.6 0.6 0 1 0 -1.2 0M431.5 246.1a0.4 0.4 0 1 0 0.8 0a0.4 0.4 0 1 0 -0.8 0M491.9 246.5a0.6 0.6 0 1 0 1.1 0a0.6 0.6 0 1 0 -1.1 0M430.7 257.1a0.5 0.5 0 1 0 1.1 0a0.5 0.5 0 1 0 -1.1 0M486.4 223.9a0.3 0.3 0 1 0 0.6 0a0.3 0.3 0 1 0 -0.6 0M498.0 225.5a0.6 0.6 0 1 0 1.2 0a0.6 0.6 0 1 0 -1.2 0M439.3 226.5a0.4 0.4 0 1 0 0.8 0a0.4 0.4 0 1 0 -0.8 0M465.2 256.7a0.4 0.4 0 1 0 0.9 0a0.4 0.4 0 1 0 -0.9 0M444.5 276.6a0.3 0.3 0 1 0 0.7 0a0.3 0.3 0 1 0 -0.7 0M431.7 274.1a0.3 0.3 0 1 0 0.7 0a0.3 0.3 0 1 0 -0.7 0M437.2 265.3a0.4 0.4 0 1 0 0.9 0a0.4 0.4 0 1 0 -0.9 0M469.2 244.0a0.4 0.4 0 1 0 0.7 0a0.4 0.4 0 1 0 -0.7 0M486.0 268.1a0.6 0.6 0 1 0 1.2 0a0.6 0.6 0 1 0 -1.2 0M487.5 263.3a0.4 0.4 0 1 0 0.8 0a0.4 0.4 0 1 0 -0.8 0M468.0 291.8a0.3 0.3 0 1 0 0.6 0a0.3 0.3 0 1 0 -0.6 0M451.4 244.7a0.4 0.4 0 1 0 0.8 0a0.4 0.4 0 1 0 -0.8 0M430.0 286.5a0.4 0.4 0 1 0 0.7 0a0.4 0.4 0 1 0 -0.7 0M430.8 259.4a0.3 0.3 0 1 0 0.6 0a0.3 0.3 0 1 0 -0.6 0M456.5 289.6a0.3 0.3 0 1 0 0.7 0a0.3 0.3 0 1 0 -0.7 0M431.3 296.8a0.4 0.4 0 1 0 0.8 0a0.4 0.4 0 1 0 -0.8 0M437.7 258.7a0.3 0.3 0 1 0 0.7 0a0.3 0.3 0 1 0 -0.7 0M491.1 293.8a0.5 0.5 0 1 0 0.9 0a0.5 0.5 0 1 0 -0.9 0M430.1 243.9a0.5 0.5 0 1 0 1.0 0a0.5 0.5 0 1 0 -1.0 0M482.4 271.2a0.6 0.6 0 1 0 1.2 0a0.6 0.6 0 1 0 -1.2 0M460.6 283.8a0.5 0.5 0 1 0 1.1 0a0.5 0.5 0 1 0 -1.1 0M461.0 289.3a0.3 0.3 0 1 0 0.7 0a0.3 0.3 0 1 0 -0.7 0M440.6 228.7a0.6 0.6 0 1 0 1.2 0a0.6 0.6 0 1 0 -1.2 0M449.2 292.0a0.4 0.4 0 1 0 0.8 0a0.4 0.4 0 1 0 -0.8 0M488.1 286.8a0.4 0.4 0 1 0 0.9 0a0.4 0.4 0 1 0 -0.9 0M434.3 234.8a0.4 0.4 0 1 0 0.7 0a0.4 0.4 0 1 0 -0.7 0M432.6 279.2a0.3 0.3 0 1 0 0.6 0a0.3 0.3 0 1 0 -0.6 0M496.6 279.3a0.3 0.3 0 1 0 0.6 0a0.3 0.3 0 1 0 -0.6 0M474.2 234.9a0.5 0.5 0 1 0 0.9 0a0.5 0.5 0 1 0 -0.9 0M489.2 261.0a0.5 0.5 0 1 0 1.0 0a0.5 0.5 0 1 0 -1.0 0M451.9 273.1a0.4 0.4 0 1 0 0.8 0a0.4 0.4 0 1 0 -0.8 0M498.8 276.6a0.6 0.6 0 1 0 1.2 0a0.6 0.6 0 1 0 -1.2 0M470.7 263.5a0.3 0.3 0 1 0 0.6 0a0.3 0.3 0 1 0 -0.6 0M470.1 271.2a0.4 0.4 0 1 0 0.9 0a0.4 0.4 0 1 0 -0.9 0M461.9 290.9a0.6 0.6 0 1 0 1.1 0a0.6 0.6 0 1 0 -1.1 0M462.0 264.6a0.3 0.3 0 1 0 0.7 0a0.3 0.3 0 1 0 -0.7 0M430.9 263.0a0.4 0.4 0 1 0 0.7 0a0.4 0.4 0 1 0 -0.7 0M442.2 258.7a0.5 0.5 0 1 0 0.9 0a0.5 0.5 0 1 0 -0.9 0M485.9 289.1a0.4 0.4 0 1 0 0.7 0a0.4 0.4 0 1 0 -0.7 0M449.9 247.7a0.5 0.5 0 1 0 0.9 0a0.5 0.5 0 1 0 -0.9 0M480.6 244.2a0.6 0.6 0 1 0 1.2 0a0.6 0.6 0 1 0 -1.2 0M442.1 270.5a0.4 0.4 0 1 0 0.8 0a0.4 0.4 0 1 0 -0.8 0M427.2 282.6a0.6 0.6 0 1 0 1.2 0a0.6 0.6 0 1 0 -1.2 0M450.0 260.2a0.4 0.4 0 1 0 0.7 0a0.4 0.4 0 1 0 -0.7 0M432.0 228.6a0.4 0.4 0 1 0 0.8 0a0.4 0.4 0 1 0 -0.8 0M438.7 283.1a0.4 0.4 0 1 0 0.8 0a0.4 0.4 0 1 0 -0.8 0M443.1 242.7a0.5 0.5 0 1 0 0.9 0a0.5 0.5 0 1 0 -0.9 0M448.1 225.7a0.6 0.6 0 1 0 1.1 0a0.6 0.6 0 1 0 -1.1 0M429.0 258.8a0.4 0.4 0 1 0 0.8 0a0.4 0.4 0 1 0 -0.8 0M479.1 247.7a0.4 0.4 0 1 0 0.7 0a0.4 0.4 0 1 0 -0.7 0M475.5 257.5a0.3 0.3 0 1 0 0.6 0a0.3 0.3 0 1 0 -0.6 0M480.7 278.8a0.5 0.5 0 1 0 0.9 0a0.5 0.5 0 1 0 -0.9 0M433.7 281.7a0.5 0.5 0 1 0 0.9 0a0.5 0.5 0 1 0 -0.9 0M473.6 257.6a0.5 0.5 0 1 0 0.9 0a0.5 0.5 0 1 0 -0.9 0M479.2 257.6a0.4 0.4 0 1 0 0.8 0a0.4 0.4 0 1 0 -0.8 0M462.5 293.6a0.3 0.3 0 1 0 0.7 0a0.3 0.3 0 1 0 -0.7 0M442.9 256.2a0.4 0.4 0 1 0 0.7 0a0.4 0.4 0 1 0 -0.7 0M462.1 253.2a0.4 0.4 0 1 0 0.8 0a0.4 0.4 0 1 0 -0.8 0M481.8 283.5a0.4 0.4 0 1 0 0.8 0a0.4 0.4 0 1 0 -0.8 0M427.9 245.8a0.5 0.5 0 1 0 0.9 0a0.5 0.5 0 1 0 -0.9 0M477.5 253.5a0.5 0.5 0 1 0 1.1 0a0.5 0.5 0 1 0 -1.1 0M457.8 249.8a0.6 0.6 0 1 0 1.2 0a0.6 0.6 0 1 0 -1.2 0M458.2 266.4a0.4 0.4 0 1 0 0.7 0a0.4 0.4 0 1 0 -0.7 0M450.7 249.5a0.3 0.3 0 1 0 0.6 0a0.3 0.3 0 1 0 -0.6 0M453.5 274.0a0.4 0.4 0 1 0 0.8 0a0.4 0.4 0 1 0 -0.8 0M439.9 257.0a0.5 0.5 0 1 0 0.9 0a0.5 0.5 0 1 0 -0.9 0M467.4 242.0a0.3 0.3 0 1 0 0.6 0a0.3 0.3 0 1 0 -0.6 0M449.1 276.8a0.4 0.4 0 1 0 0.8 0a0.4 0.4 0 1 0 -0.8 0M463.9 290.0a0.4 0.4 0 1 0 0.7 0a0.4 0.4 0 1 0 -0.7 0M478.3 253.7a0.4 0.4 0 1 0 0.9 0a0.4 0.4 0 1 0 -0.9 0M486.5 263.3a0.5 0.5 0 1 0 1.1 0a0.5 0.5 0 1 0 -1.1 0M497.2 284.9a0.4 0.4 0 1 0 0.8 0a0.4 0.4 0 1 0 -0.8 0M478.5 290.8a0.6 0.6 0 1 0 1.2 0a0.6 0.6 0 1 0 -1.2 0M450.2 266.9a0.4 0.4 0 1 0 0.7 0a0.4 0.4 0 1 0 -0.7 0M463.2 237.5a0.3 0.3 0 1 0 0.7 0a0.3 0.3 0 1 0 -0.7 0M498.8 270.6a0.4 0.4 0 1 0 0.8 0a0.4 0.4 0 1 0 -0.8 0M434.8 261.6a0.5 0.5 0 1 0 1.0 0a0.5 0.5 0 1 0 -1.0 0M450.4 233.4a0.4 0.4 0 1 0 0.8 0a0.4 0.4 0 1 0 -0.8 0M464.8 240.5a0.3 0.3 0 1 0 0.6 0a0.3 0.3 0 1 0 -0.6 0M481.8 290.1a0.4 0.4 0 1 0 0.8 0a0.4 0.4 0 1 0 -0.8 0M469.7 252.7a0.4 0.4 0 1 0 0.7 0a0.4 0.4 0 1 0 -0.7 0M494.4 231.6a0.4 0.4 0 1 0 0.9 0a0.4 0.4 0 1 0 -0.9 0M494.8 261.0a0.4 0.4 0 1 0 0.9 0a0.4 0.4 0 1 0 -0.9 0M428.6 255.0a0.4 0.4 0 1 0 0.7 0a0.4 0.4 0 1 0 -0.7 0M460.3 280.4a0.5 0.5 0 1 0 1.1 0a0.5 0.5 0 1 0 -1.1 0M445.9 265.9a0.3 0.3 0 1 0 0.6 0a0.3 0.3 0 1 0 -0.6 0M435.2 253.8a0.5 0.5 0 1 0 1.1 0a0.5 0.5 0 1 0 -1.1 0M466.0 291.4a0.6 0.6 0 1 0 1.2 0a0.6 0.6 0 1 0 -1.2 0M434.6 230.9a0.6 0.6 0 1 0 1.1 0a0.6 0.6 0 1 0 -1.1 0M466.5 233.7a0.4 0.4 0 1 0 0.9 0a0.4 0.4 0 1 0 -0.9 0M433.2 280.9a0.4 0.4 0 1 0 0.7 0a0.4 0.4 0 1 0 -0.7 0M490.2 235.9a0.4 0.4 0 1 0 0.7 0a0.4 0.4 0 1 0 -0.7 0M454.2 271.1a0.4 0.4 0 1 0 0.7 0a0.4 0.4 0 1 0 -0.7 0M458.4 256.2a0.6 0.6 0 1 0 1.2 0a0.6 0.6 0 1 0 -1.2 0M440.1 267.3a0.3 0.3 0 1 0 0.7 0a0.3 0.3 0 1 0 -0.7 0M478.1 258.7a0.3 0.3 0 1 0 0.6 0a0.3 0.3 0 1 0 -0.6 0M467.6 296.6a0.6 0.6 0 1 0 1.2 0a0.6 0.6 0 1 0 -1.2 0M469.5 226.0a0.5 0.5 0 1 0 0.9 0a0.5 0.5 0 1 0 -0.9 0M452.6 229.3a0.5 0.5 0 1 0 1.0 0a0.5 0.5 0 1 0 -1.0 0M451.6 245.5a0.4 0.4 0 1 0 0.8 0a0.4 0.4 0 1 0 -0.8 0M479.2 291.4a0.6 0.6 0 1 0 1.2 0a0.6 0.6 0 1 0 -1.2 0M492.3 276.4a0.5 0.5 0 1 0 1.1 0a0.5 0.5 0 1 0 -1.1 0M497.5 266.5a0.5 0.5 0 1 0 1.0 0a0.5 0.5 0 1 0 -1.0 0M489.1 284.6a0.5 0.5 0 1 0 1.0 0a0.5 0.5 0 1 0 -1.0 0M429.2 257.8a0.6 0.6 0 1 0 1.1 0a0.6 0.6 0 1 0 -1.1 0M430.6 263.1a0.6 0.6 0 1 0 1.2 0a0.6 0.6 0 1 0 -1.2 0M432.5 243.4a0.3 0.3 0 1 0 0.7 0a0.3 0.3 0 1 0 -0.7 0M430.3 232.0a0.6 0.6 0 1 0 1.1 0a0.6 0.6 0 1 0 -1.1 0M456.9 264.4a0.6 0.6 0 1 0 1.1 0a0.6 0.6 0 1 0 -1.1 0M451.6 256.8a0.4 0.4 0 1 0 0.8 0a0.4 0.4 0 1 0 -0.8 0M479.3 249.5a0.3 0.3 0 1 0 0.6 0a0.3 0.3 0 1 0 -0.6 0M494.7 242.9a0.5 0.5 0 1 0 1.1 0a0.5 0.5 0 1 0 -1.1 0M436.9 280.3a0.5 0.5 0 1 0 1.0 0a0.5 0.5 0 1 0 -1.0 0M471.0 232.4a0.3 0.3 0 1 0 0.7 0a0.3 0.3 0 1 0 -0.7 0M481.8 288.0a0.5 0.5 0 1 0 1.0 0a0.5 0.5 0 1 0 -1.0 0M452.3 246.7a0.3 0.3 0 1 0 0.6 0a0.3 0.3 0 1 0 -0.6 0M489.3 252.3a0.6 0.6 0 1 0 1.2 0a0.6 0.6 0 1 0 -1.2 0M456.9 264.0a0.4 0.4 0 1 0 0.7 0a0.4 0.4 0 1 0 -0.7 0M431.1 293.4a0.4 0.4 0 1 0 0.7 0a0.4 0.4 0 1 0 -0.7 0M497.9 251.8a0.4 0.4 0 1 0 0.8 0a0.4 0.4 0 1 0 -0.8 0M492.0 270.2a0.5 0.5 0 1 0 1.1 0a0.5 0.5 0 1 0 -1.1 0M440.6 262.7a0.5 0.5 0 1 0 1.1 0a0.5 0.5 0 1 0 -1.1 0M458.9 231.6a0.5 0.5 0 1 0 1.0 0a0.5 0.5 0 1 0 -1.0 0M489.6 224.3a0.5 0.5 0 1 0 1.0 0a0.5 0.5 0 1 0 -1.0 0M482.3 227.1a0.4 0.4 0 1 0 0.8 0a0.4 0.4 0 1 0 -0.8 0M460.6 243.2a0.3 0.3 0 1 0 0.6 0a0.3 0.3 0 1 0 -0.6 0M449.4 232.5a0.5 0.5 0 1 0 1.0 0a0.5 0.5 0 1 0 -1.0 0M465.7 273.8a0.3 0.3 0 1 0 0.6 0a0.3 0.3 0 1 0 -0.6 0M427.4 292.5a0.4 0.4 0 1 0 0.8 0a0.4 0.4 0 1 0 -0.8 0M480.1 288.6a0.5 0.5 0 1 0 1.0 0a0.5 0.5 0 1 0 -1.0 0M484.4 231.6a0.4 0.4 0 1 0 0.9 0a0.4 0.4 0 1 0 -0.9 0M434.5 288.8a0.3 0.3 0 1 0 0.7 0a0.3 0.3 0 1 0 -0.7 0M464.8 229.2a0.4 0.4 0 1 0 0.8 0a0.4 0.4 0 1 0 -0.8 0M490.5 235.4a0.4 0.4 0 1 0 0.8 0a0.4 0.4 0 1 0 -0.8 0M490.3 260.8a0.6 0.6 0 1 0 1.1 0a0.6 0.6 0 1 0 -1.1 0M479.9 270.7a0.5 0.5 0 1 0 0.9 0a0.5 0.5 0 1 0 -0.9 0M489.7 260.1a0.5 0.5 0 1 0 1.0 0a0.5 0.5 0 1 0 -1.0 0M484.6 266.8a0.4 0.4 0 1 0 0.9 0a0.4 0.4 0 1 0 -0.9 0M442.8 269.3a0.5 0.5 0 1 0 0.9 0a0.5 0.5 0 1 0 -0.9 0M497.6 235.5a0.6 0.6 0 1 0 1.2 0a0.6 0.6 0 1 0 -1.2 0M436.5 296.2a0.4 0.4 0 1 0 0.7 0a0.4 0.4 0 1 0 -0.7 0M438.3 271.5a0.5 0.5 0 1 0 0.9 0a0.5 0.5 0 1 0 -0.9 0M490.8 235.0a0.3 0.3 0 1 0 0.6 0a0.3 0.3 0 1 0 -0.6 0M476.8 261.3a0.5 0.5 0 1 0 0.9 0a0.5 0.5 0 1 0 -0.9 0M445.4 242.8a0.3 0.3 0 1 0 0.7 0a0.3 0.3 0 1 0 -0.7 0M451.5 231.9a0.4 0.4 0 1 0 0.8 0a0.4 0.4 0 1 0 -0.8 0M495.0 253.0a0.5 0.5 0 1 0 1.0 0a0.5 0.5 0 1 0 -1.0 0M475.3 266.4a0.3 0.3 0 1 0 0.7 0a0.3 0.3 0 1 0 -0.7 0M438.7 244.0a0.5 0.5 0 1 0 0.9 0a0.5 0.5 0 1 0 -0.9 0M475.1 292.9a0.4 0.4 0 1 0 0.9 0a0.4 0.4 0 1 0 -0.9 0M461.0 295.2a0.5 0.5 0 1 0 1.0 0a0.5 0.5 0 1 0 -1.0 0M430.4 228.9a0.4 0.4 0 1 0 0.7 0a0.4 0.4 0 1 0 -0.7 0M430.7 273.5a0.4 0.4 0 1 0 0.7 0a0.4 0.4 0 1 0 -0.7 0M434.1 271.7a0.4 0.4 0 1 0 0.9 0a0.4 0.4 0 1 0 -0.9 0M440.1 292.1a0.5 0.5 0 1 0 1.1 0a0.5 0.5 0 1 0 -1.1 0M447.8 265.1a0.6 0.6 0 1 0 1.1 0a0.6 0.6 0 1 0 -1.1 0M493.2 267.5a0.3 0.3 0 1 0 0.6 0a0.3 0.3 0 1 0 -0.6 0M449.6 226.7a0.5 0.5 0 1 0 0.9 0a0.5 0.5 0 1 0 -0.9 0M469.0 242.9a0.4 0.4 0 1 0 0.7 0a0.4 0.4 0 1 0 -0.7 0M442.2 238.3a0.3 0.3 0 1 0 0.7 0a0.3 0.3 0 1 0 -0.7 0M443.4 267.2a0.5 0.5 0 1 0 1.0 0a0.5 0.5 0 1 0 -1.0 0M485.6 276.2a0.4 0.4 0 1 0 0.9 0a0.4 0.4 0 1 0 -0.9 0M479.8 276.9a0.4 0.4 0 1 0 0.8 0a0.4 0.4 0 1 0 -0.8 0M456.0 279.1a0.4 0.4 0 1 0 0.9 0a0.4 0.4 0 1 0 -0.9 0M467.1 289.0a0.4 0.4 0 1 0 0.8 0a0.4 0.4 0 1 0 -0.8 0M433.6 264.2a0.3 0.3 0 1 0 0.7 0a0.3 0.3 0 1 0 -0.7 0M476.3 228.1a0.4 0.4 0 1 0 0.9 0a0.4 0.4 0 1 0 -0.9 0M484.6 265.5a0.6 0.6 0 1 0 1.1 0a0.6 0.6 0 1 0 -1.1 0M453.4 235.5a0.6 0.6 0 1 0 1.2 0a0.6 0.6 0 1 0 -1.2 0M457.5 233.8a0.4 0.4 0 1 0 0.8 0a0.4 0.4 0 1 0 -0.8 0M436.7 239.0a0.4 0.4 0 1 0 0.8 0a0.4 0.4 0 1 0 -0.8 0M467.4 240.0a0.5 0.5 0 1 0 1.0 0a0.5 0.5 0 1 0 -1.0 0M465.6 294.7a0.3 0.3 0 1 0 0.7 0a0.3 0.3 0 1 0 -0.7 0M473.0 271.1a0.4 0.4 0 1 0 0.8 0a0.4 0.4 0 1 0 -0.8 0M463.5 296.3a0.5 0.5 0 1 0 1.1 0a0.5 0.5 0 1 0 -1.1 0M438.9 258.4a0.3 0.3 0 1 0 0.7 0a0.3 0.3 0 1 0 -0.7 0M475.9 296.6a0.4 0.4 0 1 0 0.8 0a0.4 0.4 0 1 0 -0.8 0M435.9 265.5a0.5 0.5 0 1 0 1.1 0a0.5 0.5 0 1 0 -1.1 0M453.3 289.7a0.5 0.5 0 1 0 0.9 0a0.5 0.5 0 1 0 -0.9 0M469.1 281.3a0.3 0.3 0 1 0 0.6 0a0.3 0.3 0 1 0 -0.6 0M472.8 261.1a0.3 0.3 0 1 0 0.7 0a0.3 0.3 0 1 0 -0.7 0M482.3 289.6a0.4 0.4 0 1 0 0.9 0a0.4 0.4 0 1 0 -0.9 0M450.4 268.2a0.4 0.4 0 1 0 0.9 0a0.4 0.4 0 1 0 -0.9 0M474.4 294.8a0.4 0.4 0 1 0 0.9 0a0.4 0.4 0 1 0 -0.9 0M488.0 289.6a0.5 0.5 0 1 0 1.0 0a0.5 0.5 0 1 0 -1.0 0M452.4 288.2a0.4 0.4 0 1 0 0.8 0a0.4 0.4 0 1 0 -0.8 0M486.5 224.5a0.5 0.5 0 1 0 1.1 0a0.5 0.5 0 1 0 -1.1 0M490.5 239.1a0.4 0.4 0 1 0 0.9 0a0.4 0.4 0 1 0 -0.9 0M439.5 228.7a0.4 0.4 0 1 0 0.8 0a0.4 0.4 0 1 0 -0.8 0M453.5 274.6a0.4 0.4 0 1 0 0.8 0a0.4 0.4 0 1 0 -0.8 0M436.5 269.5a0.3 0.3 0 1 0 0.7 0a0.3 0.3 0 1 0 -0.7 0M433.4 229.0a0.5 0.5 0 1 0 0.9 0a0.5 0.5 0 1 0 -0.9 0M455.6 245.3a0.4 0.4 0 1 0 0.8 0a0.4 0.4 0 1 0 -0.8 0M492.4 233.0a0.3 0.3 0 1 0 0.6 0a0.3 0.3 0 1 0 -0.6 0M443.4 283.3a0.3 0.3 0 1 0 0.7 0a0.3 0.3 0 1 0 -0.7 0M458.8 233.5a0.4 0.4 0 1 0 0.9 0a0.4 0.4 0 1 0 -0.9 0M490.3 225.5a0.6 0.6 0 1 0 1.1 0a0.6 0.6 0 1 0 -1.1 0M460.1 254.6a0.5 0.5 0 1 0 0.9 0a0.5 0.5 0 1 0 -0.9 0M495.6 293.8a0.4 0.4 0 1 0 0.8 0a0.4 0.4 0 1 0 -0.8 0M467.2 248.5a0.6 0.6 0 1 0 1.2 0a0.6 0.6 0 1 0 -1.2 0M465.2 253.8a0.3 0.3 0 1 0 0.6 0a0.3 0.3 0 1 0 -0.6 0M427.4 231.5a0.4 0.4 0 1 0 0.8 0a0.4 0.4 0 1 0 -0.8 0M451.2 270.5a0.4 0.4 0 1 0 0.8 0a0.4 0.4 0 1 0 -0.8 0M455.5 231.7a0.5 0.5 0 1 0 1.1 0a0.5 0.5 0 1 0 -1.1 0M430.2 234.0a0.3 0.3 0 1 0 0.6 0a0.3 0.3 0 1 0 -0.6 0M440.9 224.8a0.5 0.5 0 1 0 0.9 0a0.5 0.5 0 1 0 -0.9 0M438.7 288.3a0.4 0.4 0 1 0 0.9 0a0.4 0.4 0 1 0 -0.9 0M479.5 235.6a0.3 0.3 0 1 0 0.7 0a0.3 0.3 0 1 0 -0.7 0" fill="#6e4498" opacity="0.5"/>
<path d="M443.9 277.9a0.6 0.6 0 1 0 1.1 0a0.6 0.6 0 1 0 -1.1 0M496.4 227.9a0.5 0.5 0 1 0 0.9 0a0.5 0.5 0 1 0 -0.9 0M488.6 278.6a0.5 0.5 0 1 0 1.0 0a0.5 0.5 0 1 0 -1.0 0M437.1 265.1a0.5 0.5 0 1 0 1.1 0a0.5 0.5 0 1 0 -1.1 0M491.2 236.3a0.5 0.5 0 1 0 1.0 0a0.5 0.5 0 1 0 -1.0 0M465.9 293.0a0.3 0.3 0 1 0 0.6 0a0.3 0.3 0 1 0 -0.6 0M491.4 263.9a0.5 0.5 0 1 0 0.9 0a0.5 0.5 0 1 0 -0.9 0M473.3 282.3a0.6 0.6 0 1 0 1.1 0a0.6 0.6 0 1 0 -1.1 0M462.6 270.6a0.3 0.3 0 1 0 0.6 0a0.3 0.3 0 1 0 -0.6 0M489.7 247.7a0.6 0.6 0 1 0 1.1 0a0.6 0.6 0 1 0 -1.1 0M463.5 257.9a0.3 0.3 0 1 0 0.6 0a0.3 0.3 0 1 0 -0.6 0M455.0 267.0a0.6 0.6 0 1 0 1.1 0a0.6 0.6 0 1 0 -1.1 0M450.9 278.8a0.4 0.4 0 1 0 0.8 0a0.4 0.4 0 1 0 -0.8 0M430.6 244.3a0.4 0.4 0 1 0 0.8 0a0.4 0.4 0 1 0 -0.8 0M482.7 295.0a0.4 0.4 0 1 0 0.7 0a0.4 0.4 0 1 0 -0.7 0M497.8 236.6a0.3 0.3 0 1 0 0.6 0a0.3 0.3 0 1 0 -0.6 0M430.0 236.6a0.3 0.3 0 1 0 0.7 0a0.3 0.3 0 1 0 -0.7 0M478.4 270.7a0.5 0.5 0 1 0 1.1 0a0.5 0.5 0 1 0 -1.1 0M454.4 279.5a0.6 0.6 0 1 0 1.1 0a0.6 0.6 0 1 0 -1.1 0M472.9 230.8a0.6 0.6 0 1 0 1.2 0a0.6 0.6 0 1 0 -1.2 0M448.9 244.8a0.5 0.5 0 1 0 1.0 0a0.5 0.5 0 1 0 -1.0 0M432.2 259.0a0.5 0.5 0 1 0 1.0 0a0.5 0.5 0 1 0 -1.0 0M477.9 256.0a0.5 0.5 0 1 0 1.0 0a0.5 0.5 0 1 0 -1.0 0M488.1 248.1a0.5 0.5 0 1 0 1.0 0a0.5 0.5 0 1 0 -1.0 0M477.4 273.4a0.4 0.4 0 1 0 0.7 0a0.4 0.4 0 1 0 -0.7 0M470.5 283.2a0.4 0.4 0 1 0 0.8 0a0.4 0.4 0 1 0 -0.8 0M453.7 245.4a0.4 0.4 0 1 0 0.7 0a0.4 0.4 0 1 0 -0.7 0M494.2 265.5a0.4 0.4 0 1 0 0.7 0a0.4 0.4 0 1 0 -0.7 0M498.5 254.3a0.4 0.4 0 1 0 0.8 0a0.4 0.4 0 1 0 -0.8 0M456.4 254.8a0.3 0.3 0 1 0 0.6 0a0.3 0.3 0 1 0 -0.6 0M496.6 297.1a0.5 0.5 0 1 0 1.0 0a0.5 0.5 0 1 0 -1.0 0M460.5 293.2a0.4 0.4 0 1 0 0.8 0a0.4 0.4 0 1 0 -0.8 0M451.5 238.5a0.3 0.3 0 1 0 0.7 0a0.3 0.3 0 1 0 -0.7 0M430.6 281.7a0.5 0.5 0 1 0 1.1 0a0.5 0.5 0 1 0 -1.1 0M466.6 252.8a0.5 0.5 0 1 0 1.0 0a0.5 0.5 0 1 0 -1.0 0M470.3 278.1a0.5 0.5 0 1 0 1.0 0a0.5 0.5 0 1 0 -1.0 0M489.1 229.4a0.4 0.4 0 1 0 0.9 0a0.4 0.4 0 1 0 -0.9 0M469.6 257.5a0.4 0.4 0 1 0 0.9 0a0.4 0.4 0 1 0 -0.9 0M428.0 265.5a0.4 0.4 0 1 0 0.8 0a0.4 0.4 0 1 0 -0.8 0M483.1 264.7a0.5 0.5 0 1 0 1.1 0a0.5 0.5 0 1 0 -1.1 0M437.6 295.8a0.5 0.5 0 1 0 0.9 0a0.5 0.5 0 1 0 -0.9 0M466.6 249.8a0.6 0.6 0 1 0 1.2 0a0.6 0.6 0 1 0 -1.2 0M446.6 292.2a0.4 0.4 0 1 0 0.9 0a0.4 0.4 0 1 0 -0.9 0M458.4 279.2a0.5 0.5 0 1 0 1.1 0a0.5 0.5 0 1 0 -1.1 0M489.7 295.2a0.5 0.5 0 1 0 1.1 0a0.5 0.5 0 1 0 -1.1 0M488.9 253.7a0.5 0.5 0 1 0 1.0 0a0.5 0.5 0 1 0 -1.0 0M472.3 292.3a0.5 0.5 0 1 0 1.0 0a0.5 0.5 0 1 0 -1.0 0M452.4 244.2a0.3 0.3 0 1 0 0.6 0a0.3 0.3 0 1 0 -0.6 0M454.0 239.2a0.4 0.4 0 1 0 0.9 0a0.4 0.4 0 1 0 -0.9 0M495.8 274.9a0.5 0.5 0 1 0 1.1 0a0.5 0.5 0 1 0 -1.1 0M489.2 260.8a0.4 0.4 0 1 0 0.8 0a0.4 0.4 0 1 0 -0.8 0M455.2 276.3a0.4 0.4 0 1 0 0.9 0a0.4 0.4 0 1 0 -0.9 0M498.6 294.5a0.4 0.4 0 1 0 0.7 0a0.4 0.4 0 1 0 -0.7 0M480.6 246.2a0.6 0.6 0 1 0 1.1 0a0.6 0.6 0 1 0 -1.1 0M438.2 280.1a0.5 0.5 0 1 0 1.1 0a0.5 0.5 0 1 0 -1.1 0M493.7 235.6a0.4 0.4 0 1 0 0.8 0a0.4 0.4 0 1 0 -0.8 0M489.1 266.0a0.5 0.5 0 1 0 0.9 0a0.5 0.5 0 1 0 -0.9 0M486.0 249.2a0.5 0.5 0 1 0 1.0 0a0.5 0.5 0 1 0 -1.0 0M489.5 243.5a0.5 0.5 0 1 0 1.1 0a0.5 0.5 0 1 0 -1.1 0M461.0 260.8a0.6 0.6 0 1 0 1.2 0a0.6 0.6 0 1 0 -1.2 0M489.9 246.6a0.5 0.5 0 1 0 0.9 0a0.5 0.5 0 1 0 -0.9 0M475.2 244.8a0.5 0.5 0 1 0 1.1 0a0.5 0.5 0 1 0 -1.1 0M482.9 263.1a0.4 0.4 0 1 0 0.7 0a0.4 0.4 0 1 0 -0.7 0M479.7 228.2a0.3 0.3 0 1 0 0.6 0a0.3 0.3 0 1 0 -0.6 0M493.2 240.2a0.4 0.4 0 1 0 0.7 0a0.4 0.4 0 1 0 -0.7 0M449.8 268.6a0.6 0.6 0 1 0 1.2 0a0.6 0.6 0 1 0 -1.2 0M460.5 269.1a0.3 0.3 0 1 0 0.7 0a0.3 0.3 0 1 0 -0.7 0M484.6 256.0a0.4 0.4 0 1 0 0.8 0a0.4 0.4 0 1 0 -0.8 0M463.0 258.0a0.4 0.4 0 1 0 0.9 0a0.4 0.4 0 1 0 -0.9 0M468.6 279.1a0.6 0.6 0 1 0 1.1 0a0.6 0.6 0 1 0 -1.1 0M469.0 256.7a0.5 0.5 0 1 0 1.1 0a0.5 0.5 0 1 0 -1.1 0M451.4 239.4a0.5 0.5 0 1 0 0.9 0a0.5 0.5 0 1 0 -0.9 0M493.0 252.8a0.4 0.4 0 1 0 0.8 0a0.4 0.4 0 1 0 -0.8 0M452.7 246.4a0.4 0.4 0 1 0 0.8 0a0.4 0.4 0 1 0 -0.8 0M482.3 262.8a0.4 0.4 0 1 0 0.8 0a0.4 0.4 0 1 0 -0.8 0M480.6 242.0a0.4 0.4 0 1 0 0.8 0a0.4 0.4 0 1 0 -0.8 0M453.2 240.7a0.4 0.4 0 1 0 0.7 0a0.4 0.4 0 1 0 -0.7 0M456.3 262.9a0.6 0.6 0 1 0 1.1 0a0.6 0.6 0 1 0 -1.1 0M477.6 252.4a0.4 0.4 0 1 0 0.8 0a0.4 0.4 0 1 0 -0.8 0M472.3 272.7a0.5 0.5 0 1 0 0.9 0a0.5 0.5 0 1 0 -0.9 0M475.1 278.2a0.5 0.5 0 1 0 1.0 0a0.5 0.5 0 1 0 -1.0 0M480.7 274.3a0.5 0.5 0 1 0 1.1 0a0.5 0.5 0 1 0 -1.1 0M490.4 297.1a0.4 0.4 0 1 0 0.9 0a0.4 0.4 0 1 0 -0.9 0M479.3 235.8a0.4 0.4 0 1 0 0.8 0a0.4 0.4 0 1 0 -0.8 0M433.6 283.2a0.3 0.3 0 1 0 0.6 0a0.3 0.3 0 1 0 -0.6 0M481.7 293.4a0.4 0.4 0 1 0 0.7 0a0.4 0.4 0 1 0 -0.7 0M457.8 256.3a0.6 0.6 0 1 0 1.2 0a0.6 0.6 0 1 0 -1.2 0M475.3 279.7a0.5 0.5 0 1 0 1.0 0a0.5 0.5 0 1 0 -1.0 0M493.2 228.9a0.5 0.5 0 1 0 1.1 0a0.5 0.5 0 1 0 -1.1 0M468.9 230.9a0.6 0.6 0 1 0 1.1 0a0.6 0.6 0 1 0 -1.1 0M433.3 241.0a0.4 0.4 0 1 0 0.8 0a0.4 0.4 0 1 0 -0.8 0M464.4 270.6a0.4 0.4 0 1 0 0.9 0a0.4 0.4 0 1 0 -0.9 0M448.8 291.7a0.3 0.3 0 1 0 0.7 0a0.3 0.3 0 1 0 -0.7 0M450.7 289.5a0.4 0.4 0 1 0 0.9 0a0.4 0.4 0 1 0 -0.9 0M454.5 263.8a0.4 0.4 0 1 0 0.9 0a0.4 0.4 0 1 0 -0.9 0M483.2 275.1a0.5 0.5 0 1 0 1.1 0a0.5 0.5 0 1 0 -1.1 0M486.2 263.1a0.4 0.4 0 1 0 0.9 0a0.4 0.4 0 1 0 -0.9 0M496.1 275.7a0.4 0.4 0 1 0 0.7 0a0.4 0.4 0 1 0 -0.7 0M464.7 289.0a0.5 0.5 0 1 0 0.9 0a0.5 0.5 0 1 0 -0.9 0M466.9 225.2a0.6 0.6 0 1 0 1.2 0a0.6 0.6 0 1 0 -1.2 0M434.1 232.1a0.3 0.3 0 1 0 0.6 0a0.3 0.3 0 1 0 -0.6 0M468.2 228.8a0.4 0.4 0 1 0 0.7 0a0.4 0.4 0 1 0 -0.7 0M437.5 248.2a0.6 0.6 0 1 0 1.1 0a0.6 0.6 0 1 0 -1.1 0M497.4 229.8a0.6 0.6 0 1 0 1.2 0a0.6 0.6 0 1 0 -1.2 0M431.9 288.0a0.5 0.5 0 1 0 1.0 0a0.5 0.5 0 1 0 -1.0 0M467.8 259.7a0.5 0.5 0 1 0 0.9 0a0.5 0.5 0 1 0 -0.9 0M456.7 227.5a0.5 0.5 0 1 0 1.1 0a0.5 0.5 0 1 0 -1.1 0M470.5 230.2a0.6 0.6 0 1 0 1.2 0a0.6 0.6 0 1 0 -1.2 0M486.1 265.9a0.3 0.3 0 1 0 0.6 0a0.3 0.3 0 1 0 -0.6 0M468.9 244.2a0.4 0.4 0 1 0 0.7 0a0.4 0.4 0 1 0 -0.7 0M446.5 235.9a0.4 0.4 0 1 0 0.9 0a0.4 0.4 0 1 0 -0.9 0M475.0 224.4a0.5 0.5 0 1 0 0.9 0a0.5 0.5 0 1 0 -0.9 0M434.1 265.5a0.3 0.3 0 1 0 0.7 0a0.3 0.3 0 1 0 -0.7 0M453.4 265.7a0.3 0.3 0 1 0 0.6 0a0.3 0.3 0 1 0 -0.6 0M435.4 263.9a0.5 0.5 0 1 0 1.0 0a0.5 0.5 0 1 0 -1.0 0M485.1 233.0a0.4 0.4 0 1 0 0.7 0a0.4 0.4 0 1 0 -0.7 0M440.1 266.0a0.6 0.6 0 1 0 1.2 0a0.6 0.6 0 1 0 -1.2 0M487.8 271.6a0.5 0.5 0 1 0 0.9 0a0.5 0.5 0 1 0 -0.9 0M430.0 269.8a0.4 0.4 0 1 0 0.8 0a0.4 0.4 0 1 0 -0.8 0M450.1 235.6a0.4 0.4 0 1 0 0.8 0a0.4 0.4 0 1 0 -0.8 0M472.9 232.4a0.3 0.3 0 1 0 0.6 0a0.3 0.3 0 1 0 -0.6 0M489.2 229.8a0.4 0.4 0 1 0 0.8 0a0.4 0.4 0 1 0 -0.8 0M494.7 260.3a0.3 0.3 0 1 0 0.6 0a0.3 0.3 0 1 0 -0.6 0M453.6 267.3a0.3 0.3 0 1 0 0.6 0a0.3 0.3 0 1 0 -0.6 0M456.9 248.9a0.3 0.3 0 1 0 0.6 0a0.3 0.3 0 1 0 -0.6 0M470.4 279.2a0.6 0.6 0 1 0 1.1 0a0.6 0.6 0 1 0 -1.1 0M462.7 252.0a0.5 0.5 0 1 0 0.9 0a0.5 0.5 0 1 0 -0.9 0M451.2 296.8a0.4 0.4 0 1 0 0.9 0a0.4 0.4 0 1 0 -0.9 0M449.0 225.6a0.4 0.4 0 1 0 0.9 0a0.4 0.4 0 1 0 -0.9 0M477.8 254.8a0.3 0.3 0 1 0 0.7 0a0.3 0.3 0 1 0 -0.7 0M427.6 235.7a0.3 0.3 0 1 0 0.7 0a0.3 0.3 0 1 0 -0.7 0M478.5 235.7a0.4 0.4 0 1 0 0.9 0a0.4 0.4 0 1 0 -0.9 0M439.8 267.1a0.4 0.4 0 1 0 0.8 0a0.4 0.4 0 1 0 -0.8 0M431.9 269.8a0.6 0.6 0 1 0 1.1 0a0.6 0.6 0 1 0 -1.1 0M431.3 254.9a0.4 0.4 0 1 0 0.8 0a0.4 0.4 0 1 0 -0.8 0M459.5 227.6a0.5 0.5 0 1 0 1.0 0a0.5 0.5 0 1 0 -1.0 0M446.9 247.4a0.5 0.5 0 1 0 1.0 0a0.5 0.5 0 1 0 -1.0 0M484.6 246.4a0.5 0.5 0 1 0 0.9 0a0.5 0.5 0 1 0 -0.9 0M460.3 268.2a0.4 0.4 0 1 0 0.8 0a0.4 0.4 0 1 0 -0.8 0M454.0 278.5a0.4 0.4 0 1 0 0.7 0a0.4 0.4 0 1 0 -0.7 0M471.2 227.2a0.5 0.5 0 1 0 1.0 0a0.5 0.5 0 1 0 -1.0 0M483.1 261.7a0.6 0.6 0 1 0 1.1 0a0.6 0.6 0 1 0 -1.1 0M439.8 230.9a0.4 0.4 0 1 0 0.7 0a0.4 0.4 0 1 0 -0.7 0M436.4 264.2a0.6 0.6 0 1 0 1.1 0a0.6 0.6 0 1 0 -1.1 0M473.0 270.9a0.4 0.4 0 1 0 0.8 0a0.4 0.4 0 1 0 -0.8 0M497.8 261.1a0.4 0.4 0 1 0 0.8 0a0.4 0.4 0 1 0 -0.8 0M441.3 279.4a0.4 0.4 0 1 0 0.8 0a0.4 0.4 0 1 0 -0.8 0M485.5 261.0a0.4 0.4 0 1 0 0.8 0a0.4 0.4 0 1 0 -0.8 0M445.6 292.0a0.4 0.4 0 1 0 0.8 0a0.4 0.4 0 1 0 -0.8 0M432.6 255.8a0.6 0.6 0 1 0 1.2 0a0.6 0.6 0 1 0 -1.2 0M492.4 288.1a0.5 0.5 0 1 0 1.0 0a0.5 0.5 0 1 0 -1.0 0M489.3 279.4a0.4 0.4 0 1 0 0.7 0a0.4 0.4 0 1 0 -0.7 0M459.9 247.5a0.3 0.3 0 1 0 0.6 0a0.3 0.3 0 1 0 -0.6 0M461.9 237.7a0.3 0.3 0 1 0 0.6 0a0.3 0.3 0 1 0 -0.6 0M435.2 289.8a0.4 0.4 0 1 0 0.8 0a0.4 0.4 0 1 0 -0.8 0M431.3 295.1a0.3 0.3 0 1 0 0.7 0a0.3 0.3 0 1 0 -0.7 0M485.6 274.3a0.5 0.5 0 1 0 0.9 0a0.5 0.5 0 1 0 -0.9 0M478.3 277.7a0.4 0.4 0 1 0 0.8 0a0.4 0.4 0 1 0 -0.8 0M428.0 276.9a0.5 0.5 0 1 0 1.0 0a0.5 0.5 0 1 0 -1.0 0M469.6 245.1a0.3 0.3 0 1 0 0.7 0a0.3 0.3 0 1 0 -0.7 0M442.1 283.9a0.6 0.6 0 1 0 1.1 0a0.6 0.6 0 1 0 -1.1 0M454.6 273.7a0.5 0.5 0 1 0 1.1 0a0.5 0.5 0 1 0 -1.1 0M434.3 266.5a0.6 0.6 0 1 0 1.2 0a0.6 0.6 0 1 0 -1.2 0M466.2 284.7a0.4 0.4 0 1 0 0.9 0a0.4 0.4 0 1 0 -0.9 0M447.1 284.8a0.4 0.4 0 1 0 0.7 0a0.4 0.4 0 1 0 -0.7 0M481.4 292.7a0.5 0.5 0 1 0 1.1 0a0.5 0.5 0 1 0 -1.1 0M473.3 248.7a0.4 0.4 0 1 0 0.7 0a0.4 0.4 0 1 0 -0.7 0M488.8 237.7a0.3 0.3 0 1 0 0.6 0a0.3 0.3 0 1 0 -0.6 0M491.1 234.5a0.3 0.3 0 1 0 0.7 0a0.3 0.3 0 1 0 -0.7 0M481.0 243.4a0.5 0.5 0 1 0 1.1 0a0.5 0.5 0 1 0 -1.1 0M459.2 228.3a0.6 0.6 0 1 0 1.1 0a0.6 0.6 0 1 0 -1.1 0M497.8 259.7a0.4 0.4 0 1 0 0.9 0a0.4 0.4 0 1 0 -0.9 0M434.5 237.0a0.5 0.5 0 1 0 1.1 0a0.5 0.5 0 1 0 -1.1 0M450.9 290.4a0.4 0.4 0 1 0 0.8 0a0.4 0.4 0 1 0 -0.8 0M455.2 292.9a0.4 0.4 0 1 0 0.9 0a0.4 0.4 0 1 0 -0.9 0M479.1 260.7a0.3 0.3 0 1 0 0.6 0a0.3 0.3 0 1 0 -0.6 0M441.0 256.7a0.4 0.4 0 1 0 0.8 0a0.4 0.4 0 1 0 -0.8 0M476.3 234.2a0.6 0.6 0 1 0 1.1 0a0.6 0.6 0 1 0 -1.1 0M462.7 239.4a0.6 0.6 0 1 0 1.1 0a0.6 0.6 0 1 0 -1.1 0M444.3 226.8a0.5 0.5 0 1 0 0.9 0a0.5 0.5 0 1 0 -0.9 0M433.5 254.4a0.3 0.3 0 1 0 0.6 0a0.3 0.3 0 1 0 -0.6 0M485.3 280.8a0.4 0.4 0 1 0 0.8 0a0.4 0.4 0 1 0 -0.8 0M465.6 293.6a0.6 0.6 0 1 0 1.1 0a0.6 0.6 0 1 0 -1.1 0M482.7 279.1a0.3 0.3 0 1 0 0.6 0a0.3 0.3 0 1 0 -0.6 0M463.5 252.7a0.3 0.3 0 1 0 0.6 0a0.3 0.3 0 1 0 -0.6 0M459.7 283.1a0.4 0.4 0 1 0 0.9 0a0.4 0.4 0 1 0 -0.9 0M449.0 275.2a0.4 0.4 0 1 0 0.8 0a0.4 0.4 0 1 0 -0.8 0M450.6 229.8a0.5 0.5 0 1 0 0.9 0a0.5 0.5 0 1 0 -0.9 0M499.1 283.1a0.5 0.5 0 1 0 0.9 0a0.5 0.5 0 1 0 -0.9 0M490.3 238.2a0.3 0.3 0 1 0 0.6 0a0.3 0.3 0 1 0 -0.6 0M453.0 264.5a0.5 0.5 0 1 0 0.9 0a0.5 0.5 0 1 0 -0.9 0M484.6 226.4a0.4 0.4 0 1 0 0.7 0a0.4 0.4 0 1 0 -0.7 0M476.3 238.8a0.5 0.5 0 1 0 1.0 0a0.5 0.5 0 1 0 -1.0 0M456.3 270.2a0.4 0.4 0 1 0 0.7 0a0.4 0.4 0 1 0 -0.7 0M474.6 283.6a0.4 0.4 0 1 0 0.7 0a0.4 0.4 0 1 0 -0.7 0M432.7 250.2a0.4 0.4 0 1 0 0.7 0a0.4 0.4 0 1 0 -0.7 0M467.4 284.8a0.3 0.3 0 1 0 0.7 0a0.3 0.3 0 1 0 -0.7 0M435.1 249.2a0.4 0.4 0 1 0 0.8 0a0.4 0.4 0 1 0 -0.8 0M454.4 273.0a0.4 0.4 0 1 0 0.8 0a0.4 0.4 0 1 0 -0.8 0M468.7 228.5a0.4 0.4 0 1 0 0.7 0a0.4 0.4 0 1 0 -0.7 0M485.1 293.7a0.5 0.5 0 1 0 1.1 0a0.5 0.5 0 1 0 -1.1 0M428.8 265.7a0.4 0.4 0 1 0 0.8 0a0.4 0.4 0 1 0 -0.8 0M459.0 258.4a0.4 0.4 0 1 0 0.8 0a0.4 0.4 0 1 0 -0.8 0M489.8 269.3a0.6 0.6 0 1 0 1.1 0a0.6 0.6 0 1 0 -1.1 0M427.8 246.7a0.5 0.5 0 1 0 0.9 0a0.5 0.5 0 1 0 -0.9 0M483.4 272.3a0.3 0.3 0 1 0 0.7 0a0.3 0.3 0 1 0 -0.7 0M470.3 239.1a0.5 0.5 0 1 0 0.9 0a0.5 0.5 0 1 0 -0.9 0M469.5 252.0a0.4 0.4 0 1 0 0.9 0a0.4 0.4 0 1 0 -0.9 0M432.7 235.7a0.4 0.4 0 1 0 0.8 0a0.4 0.4 0 1 0 -0.8 0M465.1 230.3a0.5 0.5 0 1 0 1.0 0a0.5 0.5 0 1 0 -1.0 0M471.1 247.0a0.6 0.6 0 1 0 1.2 0a0.6 0.6 0 1 0 -1.2 0M486.1 282.7a0.4 0.4 0 1 0 0.9 0a0.4 0.4 0 1 0 -0.9 0M436.0 237.2a0.4 0.4 0 1 0 0.8 0a0.4 0.4 0 1 0 -0.8 0M445.2 272.6a0.4 0.4 0 1 0 0.7 0a0.4 0.4 0 1 0 -0.7 0M456.4 241.9a0.6 0.6 0 1 0 1.1 0a0.6 0.6 0 1 0 -1.1 0M474.4 231.6a0.5 0.5 0 1 0 1.0 0a0.5 0.5 0 1 0 -1.0 0M498.2 254.6a0.4 0.4 0 1 0 0.9 0a0.4 0.4 0 1 0 -0.9 0M447.7 263.6a0.6 0.6 0 1 0 1.2 0a0.6 0.6 0 1 0 -1.2 0M467.5 243.9a0.4 0.4 0 1 0 0.8 0a0.4 0.4 0 1 0 -0.8 0M471.4 267.0a0.4 0.4 0 1 0 0.7 0a0.4 0.4 0 1 0 -0.7 0M479.6 265.1a0.5 0.5 0 1 0 0.9 0a0.5 0.5 0 1 0 -0.9 0M431.1 275.8a0.4 0.4 0 1 0 0.8 0a0.4 0.4 0 1 0 -0.8 0M485.1 242.2a0.4 0.4 0 1 0 0.8 0a0.4 0.4 0 1 0 -0.8 0M474.3 274.1a0.5 0.5 0 1 0 1.0 0a0.5 0.5 0 1 0 -1.0 0M473.8 260.8a0.3 0.3 0 1 0 0.6 0a0.3 0.3 0 1 0 -0.6 0M491.0 271.0a0.4 0.4 0 1 0 0.8 0a0.4 0.4 0 1 0 -0.8 0M476.2 278.5a0.3 0.3 0 1 0 0.7 0a0.3 0.3 0 1 0 -0.7 0M441.2 230.9a0.6 0.6 0 1 0 1.2 0a0.6 0.6 0 1 0 -1.2 0M433.5 284.4a0.3 0.3 0 1 0 0.6 0a0.3 0.3 0 1 0 -0.6 0M488.4 239.7a0.6 0.6 0 1 0 1.1 0a0.6 0.6 0 1 0 -1.1 0M482.9 287.9a0.6 0.6 0 1 0 1.1 0a0.6 0.6 0 1 0 -1.1 0M473.6 292.2a0.6 0.6 0 1 0 1.1 0a0.6 0.6 0 1 0 -1.1 0M481.5 245.1a0.3 0.3 0 1 0 0.7 0a0.3 0.3 0 1 0 -0.7 0M477.4 261.9a0.5 0.5 0 1 0 1.0 0a0.5 0.5 0 1 0 -1.0 0M451.0 245.5a0.4 0.4 0 1 0 0.7 0a0.4 0.4 0 1 0 -0.7 0M457.7 273.4a0.4 0.4 0 1 0 0.7 0a0.4 0.4 0 1 0 -0.7 0M469.7 296.4a0.4 0.4 0 1 0 0.8 0a0.4 0.4 0 1 0 -0.8 0M439.5 291.8a0.5 0.5 0 1 0 1.1 0a0.5 0.5 0 1 0 -1.1 0M437.4 294.4a0.4 0.4 0 1 0 0.9 0a0.4 0.4 0 1 0 -0.9 0M457.9 283.5a0.4 0.4 0 1 0 0.7 0a0.4 0.4 0 1 0 -0.7 0M487.1 266.0a0.4 0.4 0 1 0 0.7 0a0.4 0.4 0 1 0 -0.7 0M468.7 238.1a0.3 0.3 0 1 0 0.6 0a0.3 0.3 0 1 0 -0.6 0M476.4 226.4a0.6 0.6 0 1 0 1.2 0a0.6 0.6 0 1 0 -1.2 0M470.1 258.5a0.5 0.5 0 1 0 0.9 0a0.5 0.5 0 1 0 -0.9 0M488.5 277.2a0.4 0.4 0 1 0 0.7 0a0.4 0.4 0 1 0 -0.7 0M484.7 267.8a0.4 0.4 0 1 0 0.8 0a0.4 0.4 0 1 0 -0.8 0M485.4 244.1a0.3 0.3 0 1 0 0.7 0a0.3 0.3 0 1 0 -0.7 0M444.9 261.7a0.3 0.3 0 1 0 0.6 0a0.3 0.3 0 1 0 -0.6 0M461.1 231.6a0.4 0.4 0 1 0 0.7 0a0.4 0.4 0 1 0 -0.7 0M468.7 260.2a0.5 0.5 0 1 0 1.0 0a0.5 0.5 0 1 0 -1.0 0M435.0 289.5a0.6 0.6 0 1 0 1.2 0a0.6 0.6 0 1 0 -1.2 0M470.0 275.8a0.5 0.5 0 1 0 1.0 0a0.5 0.5 0 1 0 -1.0 0M450.3 247.1a0.5 0.5 0 1 0 0.9 0a0.5 0.5 0 1 0 -0.9 0M457.8 255.9a0.3 0.3 0 1 0 0.7 0a0.3 0.3 0 1 0 -0.7 0M462.7 289.4a0.6 0.6 0 1 0 1.2 0a0.6 0.6 0 1 0 -1.2 0M446.6 271.7a0.5 0.5 0 1 0 1.0 0a0.5 0.5 0 1 0 -1.0 0M486.4 237.0a0.3 0.3 0 1 0 0.6 0a0.3 0.3 0 1 0 -0.6 0M442.0 268.3a0.5 0.5 0 1 0 1.0 0a0.5 0.5 0 1 0 -1.0 0M466.7 243.2a0.4 0.4 0 1 0 0.8 0a0.4 0.4 0 1 0 -0.8 0M488.4 294.1a0.5 0.5 0 1 0 0.9 0a0.5 0.5 0 1 0 -0.9 0M447.9 260.0a0.3 0.3 0 1 0 0.6 0a0.3 0.3 0 1 0 -0.6 0M441.7 227.3a0.4 0.4 0 1 0 0.9 0a0.4 0.4 0 1 0 -0.9 0M439.7 279.4a0.5 0.5 0 1 0 1.0 0a0.5 0.5 0 1 0 -1.0 0M486.0 266.4a0.3 0.3 0 1 0 0.6 0a0.3 0.3 0 1 0 -0.6 0M466.8 228.0a0.4 0.4 0 1 0 0.7 0a0.4 0.4 0 1 0 -0.7 0M437.2 267.6a0.5 0.5 0 1 0 1.1 0a0.5 0.5 0 1 0 -1.1 0M438.3 231.2a0.4 0.4 0 1 0 0.7 0a0.4 0.4 0 1 0 -0.7 0M439.0 287.6a0.4 0.4 0 1 0 0.8 0a0.4 0.4 0 1 0 -0.8 0M433.8 272.1a0.4 0.4 0 1 0 0.8 0a0.4 0.4 0 1 0 -0.8 0M459.3 248.4a0.4 0.4 0 1 0 0.7 0a0.4 0.4 0 1 0 -0.7 0M452.2 292.4a0.6 0.6 0 1 0 1.2 0a0.6 0.6 0 1 0 -1.2 0M462.5 284.5a0.4 0.4 0 1 0 0.7 0a0.4 0.4 0 1 0 -0.7 0M483.6 228.3a0.3 0.3 0 1 0 0.7 0a0.3 0.3 0 1 0 -0.7 0M449.6 240.7a0.5 0.5 0 1 0 0.9 0a0.5 0.5 0 1 0 -0.9 0M468.5 280.6a0.6 0.6 0 1 0 1.2 0a0.6 0.6 0 1 0 -1.2 0M485.0 225.9a0.3 0.3 0 1 0 0.7 0a0.3 0.3 0 1 0 -0.7 0M484.2 272.5a0.6 0.6 0 1 0 1.2 0a0.6 0.6 0 1 0 -1.2 0M434.2 232.2a0.4 0.4 0 1 0 0.9 0a0.4 0.4 0 1 0 -0.9 0M431.2 259.5a0.4 0.4 0 1 0 0.9 0a0.4 0.4 0 1 0 -0.9 0M432.7 256.1a0.5 0.5 0 1 0 1.1 0a0.5 0.5 0 1 0 -1.1 0M473.7 242.1a0.5 0.5 0 1 0 1.0 0a0.5 0.5 0 1 0 -1.0 0M479.2 225.9a0.4 0.4 0 1 0 0.8 0a0.4 0.4 0 1 0 -0.8 0M498.3 281.4a0.4 0.4 0 1 0 0.8 0a0.4 0.4 0 1 0 -0.8 0M483.3 265.7a0.3 0.3 0 1 0 0.7 0a0.3 0.3 0 1 0 -0.7 0M488.7 240.5a0.5 0.5 0 1 0 0.9 0a0.5 0.5 0 1 0 -0.9 0M492.6 270.8a0.4 0.4 0 1 0 0.7 0a0.4 0.4 0 1 0 -0.7 0M474.6 271.8a0.5 0.5 0 1 0 1.1 0a0.5 0.5 0 1 0 -1.1 0M447.0 274.7a0.5 0.5 0 1 0 1.0 0a0.5 0.5 0 1 0 -1.0 0M429.0 250.3a0.6 0.6 0 1 0 1.2 0a0.6 0.6 0 1 0 -1.2 0M467.0 266.0a0.4 0.4 0 1 0 0.8 0a0.4 0.4 0 1 0 -0.8 0M467.5 233.4a0.5 0.5 0 1 0 0.9 0a0.5 0.5 0 1 0 -0.9 0M497.0 225.0a0.4 0.4 0 1 0 0.8 0a0.4 0.4 0 1 0 -0.8 0M493.5 283.9a0.4 0.4 0 1 0 0.9 0a0.4 0.4 0 1 0 -0.9 0M444.1 235.3a0.5 0.5 0 1 0 1.0 0a0.5 0.5 0 1 0 -1.0 0M495.3 236.8a0.5 0.5 0 1 0 1.0 0a0.5 0.5 0 1 0 -1.0 0M452.6 237.2a0.3 0.3 0 1 0 0.7 0a0.3 0.3 0 1 0 -0.7 0M496.1 271.2a0.4 0.4 0 1 0 0.9 0a0.4 0.4 0 1 0 -0.9 0M437.0 294.0a0.5 0.5 0 1 0 1.0 0a0.5 0.5 0 1 0 -1.0 0M497.4 241.9a0.4 0.4 0 1 0 0.8 0a0.4 0.4 0 1 0 -0.8 0M466.5 240.8a0.5 0.5 0 1 0 1.0 0a0.5 0.5 0 1 0 -1.0 0M454.0 276.5a0.4 0.4 0 1 0 0.8 0a0.4 0.4 0 1 0 -0.8 0M497.9 250.3a0.6 0.6 0 1 0 1.1 0a0.6 0.6 0 1 0 -1.1 0M470.6 292.8a0.4 0.4 0 1 0 0.8 0a0.4 0.4 0 1 0 -0.8 0M430.5 279.9a0.3 0.3 0 1 0 0.6 0a0.3 0.3 0 1 0 -0.6 0M448.0 292.0a0.5 0.5 0 1 0 0.9 0a0.5 0.5 0 1 0 -0.9 0M457.6 281.2a0.4 0.4 0 1 0 0.8 0a0.4 0.4 0 1 0 -0.8 0M463.1 230.4a0.5 0.5 0 1 0 1.0 0a0.5 0.5 0 1 0 -1.0 0M446.2 263.7a0.4 0.4 0 1 0 0.8 0a0.4 0.4 0 1 0 -0.8 0M483.2 271.6a0.6 0.6 0 1 0 1.1 0a0.6 0.6 0 1 0 -1.1 0M481.1 226.7a0.4 0.4 0 1 0 0.7 0a0.4 0.4 0 1 0 -0.7 0M445.4 241.9a0.4 0.4 0 1 0 0.8 0a0.4 0.4 0 1 0 -0.8 0M463.7 251.8a0.3 0.3 0 1 0 0.6 0a0.3 0.3 0 1 0 -0.6 0M467.1 225.8a0.4 0.4 0 1 0 0.7 0a0.4 0.4 0 1 0 -0.7 0M476.1 290.0a0.3 0.3 0 1 0 0.6 0a0.3 0.3 0 1 0 -0.6 0M459.3 265.2a0.3 0.3 0 1 0 0.6 0a0.3 0.3 0 1 0 -0.6 0M497.3 280.7a0.3 0.3 0 1 0 0.7 0a0.3 0.3 0 1 0 -0.7 0M481.9 239.9a0.5 0.5 0 1 0 0.9 0a0.5 0.5 0 1 0 -0.9 0M497.3 247.5a0.3 0.3 0 1 0 0.6 0a0.3 0.3 0 1 0 -0.6 0M461.8 252.8a0.6 0.6 0 1 0 1.2 0a0.6 0.6 0 1 0 -1.2 0M435.6 281.3a0.5 0.5 0 1 0 1.0 0a0.5 0.5 0 1 0 -1.0 0M472.1 267.8a0.6 0.6 0 1 0 1.2 0a0.6 0.6 0 1 0 -1.2 0M481.4 270.0a0.5 0.5 0 1 0 0.9 0a0.5 0.5 0 1 0 -0.9 0M436.9 259.2a0.5 0.5 0 1 0 1.0 0a0.5 0.5 0 1 0 -1.0 0M463.2 246.8a0.3 0.3 0 1 0 0.6 0a0.3 0.3 0 1 0 -0.6 0M428.5 268.8a0.6 0.6 0 1 0 1.1 0a0.6 0.6 0 1 0 -1.1 0M434.9 262.2a0.5 0.5 0 1 0 1.0 0a0.5 0.5 0 1 0 -1.0 0M477.1 229.5a0.3 0.3 0 1 0 0.7 0a0.3 0.3 0 1 0 -0.7 0M427.0 236.8a0.5 0.5 0 1 0 0.9 0a0.5 0.5 0 1 0 -0.9 0M464.0 263.0a0.4 0.4 0 1 0 0.7 0a0.4 0.4 0 1 0 -0.7 0M490.2 233.8a0.5 0.5 0 1 0 1.0 0a0.5 0.5 0 1 0 -1.0 0M445.2 276.3a0.5 0.5 0 1 0 1.1 0a0.5 0.5 0 1 0 -1.1 0M468.5 224.5a0.5 0.5 0 1 0 1.1 0a0.5 0.5 0 1 0 -1.1 0M451.5 233.4a0.5 0.5 0 1 0 0.9 0a0.5 0.5 0 1 0 -0.9 0M446.4 293.2a0.6 0.6 0 1 0 1.1 0a0.6 0.6 0 1 0 -1.1 0M487.4 234.1a0.4 0.4 0 1 0 0.7 0a0.4 0.4 0 1 0 -0.7 0M446.8 268.0a0.5 0.5 0 1 0 1.1 0a0.5 0.5 0 1 0 -1.1 0M428.1 242.1a0.3 0.3 0 1 0 0.6 0a0.3 0.3 0 1 0 -0.6 0M433.8 287.0a0.6 0.6 0 1 0 1.2 0a0.6 0.6 0 1 0 -1.2 0M482.3 232.0a0.6 0.6 0 1 0 1.1 0a0.6 0.6 0 1 0 -1.1 0M436.9 288.6a0.3 0.3 0 1 0 0.7 0a0.3 0.3 0 1 0 -0.7 0M436.3 296.6a0.6 0.6 0 1 0 1.2 0a0.6 0.6 0 1 0 -1.2 0M456.2 274.2a0.4 0.4 0 1 0 0.8 0a0.4 0.4 0 1 0 -0.8 0M458.3 225.1a0.5 0.5 0 1 0 1.0 0a0.5 0.5 0 1 0 -1.0 0M458.2 281.0a0.6 0.6 0 1 0 1.2 0a0.6 0.6 0 1 0 -1.2 0M477.8 291.4a0.6 0.6 0 1 0 1.2 0a0.6 0.6 0 1 0 -1.2 0" fill="#d08cc4" opacity="0.5"/>
</g>
<line x1="51.3" y1="351.2" x2="51.3" y2="433.9" stroke="#1a1a1a" stroke-width="1.15" />
<line x1="48.9" y1="433.4" x2="51.3" y2="433.4" stroke="#222" stroke-width="0.8" />
<text x="45.0" y="436.0" font-size="7.4" text-anchor="end" font-weight="normal" fill="#231f20" stroke="#231f20" stroke-width="0.22" >0.00</text>
<line x1="48.9" y1="406.4" x2="51.3" y2="406.4" stroke="#222" stroke-width="0.8" />
<text x="45.0" y="409.0" font-size="7.4" text-anchor="end" font-weight="normal" fill="#231f20" stroke="#231f20" stroke-width="0.22" >0.05</text>
<line x1="48.9" y1="379.4" x2="51.3" y2="379.4" stroke="#222" stroke-width="0.8" />
<text x="45.0" y="382.0" font-size="7.4" text-anchor="end" font-weight="normal" fill="#231f20" stroke="#231f20" stroke-width="0.22" >0.10</text>
<line x1="48.9" y1="352.4" x2="51.3" y2="352.4" stroke="#222" stroke-width="0.8" />
<text x="45.0" y="355.0" font-size="7.4" text-anchor="end" font-weight="normal" fill="#231f20" stroke="#231f20" stroke-width="0.22" >0.15</text>
<line x1="50.8" y1="433.4" x2="172.3" y2="433.4" stroke="#1a1a1a" stroke-width="1.15" />
<line x1="81.7" y1="433.4" x2="81.7" y2="435.4" stroke="#222" stroke-width="0.8" />
<text x="81.7" y="446.2" font-size="7.2" text-anchor="middle" font-weight="normal" fill="#231f20" stroke="#231f20" stroke-width="0.22" >WT</text>
<line x1="142.1" y1="433.4" x2="142.1" y2="435.4" stroke="#222" stroke-width="0.8" />
<text x="142.1" y="446.2" font-size="7.2" text-anchor="middle" font-weight="normal" fill="#231f20" stroke="#231f20" stroke-width="0.22" >KO</text>
<text x="0" y="0" font-size="8.2" text-anchor="middle" fill="#231f20" stroke="#231f20" stroke-width="0.25" textLength="23.5" lengthAdjust="spacingAndGlyphs" transform="translate(24.9,392) rotate(-90)">Mass (g)</text>
<line x1="61.599999999999994" y1="390.5" x2="101.6" y2="390.5" stroke="#333" stroke-width="0.9" />
<line x1="71.6" y1="386.2" x2="91.6" y2="386.2" stroke="#333" stroke-width="0.9" />
<line x1="71.6" y1="395.3" x2="91.6" y2="395.3" stroke="#333" stroke-width="0.9" />
<line x1="81.6" y1="386.2" x2="81.6" y2="395.3" stroke="#333" stroke-width="0.9" />
<rect x="80.25" y="372.95" width="2.9" height="2.9" fill="#b01028" />
<rect x="77.35" y="389.05" width="2.9" height="2.9" fill="#b01028" />
<rect x="82.95" y="389.05" width="2.9" height="2.9" fill="#b01028" />
<rect x="80.25" y="394.55" width="2.9" height="2.9" fill="#b01028" />
<rect x="80.25" y="399.95" width="2.9" height="2.9" fill="#b01028" />
<line x1="122.1" y1="384.3" x2="162.1" y2="384.3" stroke="#333" stroke-width="0.9" />
<line x1="132.1" y1="377.8" x2="152.1" y2="377.8" stroke="#333" stroke-width="0.9" />
<line x1="132.1" y1="390.5" x2="152.1" y2="390.5" stroke="#333" stroke-width="0.9" />
<line x1="142.1" y1="377.8" x2="142.1" y2="390.5" stroke="#333" stroke-width="0.9" />
<rect x="140.65" y="367.45" width="2.9" height="2.9" fill="#b01028" />
<rect x="140.65" y="372.75" width="2.9" height="2.9" fill="#b01028" />
<rect x="138.15" y="383.55" width="2.9" height="2.9" fill="#b01028" />
<rect x="143.15" y="383.55" width="2.9" height="2.9" fill="#b01028" />
<rect x="140.65" y="405.45" width="2.9" height="2.9" fill="#b01028" />
<line x1="227.7" y1="351.8" x2="227.7" y2="434.1" stroke="#1a1a1a" stroke-width="1.15" />
<line x1="225.5" y1="433.6" x2="227.7" y2="433.6" stroke="#222" stroke-width="0.8" />
<text x="221.7" y="436.3" font-size="7.7" text-anchor="end" font-weight="normal" fill="#231f20" stroke="#231f20" stroke-width="0.22" >0.0</text>
<line x1="225.5" y1="417.40000000000003" x2="227.7" y2="417.40000000000003" stroke="#222" stroke-width="0.8" />
<text x="221.7" y="420.1" font-size="7.7" text-anchor="end" font-weight="normal" fill="#231f20" stroke="#231f20" stroke-width="0.22" >0.2</text>
<line x1="225.5" y1="401.20000000000005" x2="227.7" y2="401.20000000000005" stroke="#222" stroke-width="0.8" />
<text x="221.7" y="403.90000000000003" font-size="7.7" text-anchor="end" font-weight="normal" fill="#231f20" stroke="#231f20" stroke-width="0.22" >0.4</text>
<line x1="225.5" y1="385.0" x2="227.7" y2="385.0" stroke="#222" stroke-width="0.8" />
<text x="221.7" y="387.7" font-size="7.7" text-anchor="end" font-weight="normal" fill="#231f20" stroke="#231f20" stroke-width="0.22" >0.6</text>
<line x1="225.5" y1="368.8" x2="227.7" y2="368.8" stroke="#222" stroke-width="0.8" />
<text x="221.7" y="371.5" font-size="7.7" text-anchor="end" font-weight="normal" fill="#231f20" stroke="#231f20" stroke-width="0.22" >0.8</text>
<line x1="225.5" y1="352.6" x2="227.7" y2="352.6" stroke="#222" stroke-width="0.8" />
<text x="221.7" y="355.3" font-size="7.7" text-anchor="end" font-weight="normal" fill="#231f20" stroke="#231f20" stroke-width="0.22" >1.0</text>
<rect x="230.1" y="370.42" width="3.6" height="63.18" fill="#b8102e" />
<line x1="231.9" y1="370.42" x2="231.9" y2="377.71000000000004" stroke="#222" stroke-width="0.9" opacity="0.25"/>
<line x1="231.9" y1="363.13" x2="231.9" y2="370.72" stroke="#222" stroke-width="0.75" />
<line x1="230.70000000000002" y1="363.13" x2="233.1" y2="363.13" stroke="#222" stroke-width="0.85" />
<rect x="237.0" y="376.09000000000003" width="3.6" height="57.51" fill="#2ea4dc" />
<line x1="238.8" y1="376.09000000000003" x2="238.8" y2="383.38000000000005" stroke="#222" stroke-width="0.9" opacity="0.25"/>
<line x1="238.8" y1="368.8" x2="238.8" y2="376.39000000000004" stroke="#222" stroke-width="0.75" />
<line x1="237.60000000000002" y1="368.8" x2="240.0" y2="368.8" stroke="#222" stroke-width="0.85" />
<line x1="235.4" y1="433.6" x2="235.4" y2="435.6" stroke="#222" stroke-width="0.8" />
<rect x="247.75" y="420.64000000000004" width="3.6" height="12.96" fill="#b8102e" />
<line x1="249.55" y1="420.64000000000004" x2="249.55" y2="422.26000000000005" stroke="#222" stroke-width="0.9" opacity="0.25"/>
<line x1="249.55" y1="419.02000000000004" x2="249.55" y2="420.94000000000005" stroke="#222" stroke-width="0.75" />
<line x1="248.35000000000002" y1="419.02000000000004" x2="250.75" y2="419.02000000000004" stroke="#222" stroke-width="0.85" />
<rect x="254.65" y="422.26000000000005" width="3.6" height="11.340000000000002" fill="#2ea4dc" />
<line x1="256.45" y1="422.26000000000005" x2="256.45" y2="424.69" stroke="#222" stroke-width="0.9" opacity="0.25"/>
<line x1="256.45" y1="419.83000000000004" x2="256.45" y2="422.56000000000006" stroke="#222" stroke-width="0.75" />
<line x1="255.25" y1="419.83000000000004" x2="257.65" y2="419.83000000000004" stroke="#222" stroke-width="0.85" />
<line x1="253.05" y1="433.6" x2="253.05" y2="435.6" stroke="#222" stroke-width="0.8" />
<rect x="265.4" y="391.48" width="3.6" height="42.120000000000005" fill="#b8102e" />
<line x1="267.2" y1="391.48" x2="267.2" y2="395.53000000000003" stroke="#222" stroke-width="0.9" opacity="0.25"/>
<line x1="267.2" y1="387.43" x2="267.2" y2="391.78000000000003" stroke="#222" stroke-width="0.75" />
<line x1="266.0" y1="387.43" x2="268.4" y2="387.43" stroke="#222" stroke-width="0.85" />
<rect x="272.3" y="396.34000000000003" width="3.6" height="37.260000000000005" fill="#2ea4dc" />
<line x1="274.1" y1="396.34000000000003" x2="274.1" y2="402.01000000000005" stroke="#222" stroke-width="0.9" opacity="0.25"/>
<line x1="274.1" y1="390.67" x2="274.1" y2="396.64000000000004" stroke="#222" stroke-width="0.75" />
<line x1="272.90000000000003" y1="390.67" x2="275.3" y2="390.67" stroke="#222" stroke-width="0.85" />
<line x1="270.7" y1="433.6" x2="270.7" y2="435.6" stroke="#222" stroke-width="0.8" />
<rect x="283.05" y="424.69" width="3.6" height="8.91" fill="#b8102e" />
<line x1="284.85" y1="424.69" x2="284.85" y2="426.31" stroke="#222" stroke-width="0.9" opacity="0.25"/>
<line x1="284.85" y1="423.07000000000005" x2="284.85" y2="424.99" stroke="#222" stroke-width="0.75" />
<line x1="283.65000000000003" y1="423.07000000000005" x2="286.05" y2="423.07000000000005" stroke="#222" stroke-width="0.85" />
<rect x="289.95000000000005" y="425.5" width="3.6" height="8.1" fill="#2ea4dc" />
<line x1="291.75000000000006" y1="425.5" x2="291.75000000000006" y2="427.12" stroke="#222" stroke-width="0.9" opacity="0.25"/>
<line x1="291.75000000000006" y1="423.88" x2="291.75000000000006" y2="425.8" stroke="#222" stroke-width="0.75" />
<line x1="290.55000000000007" y1="423.88" x2="292.95000000000005" y2="423.88" stroke="#222" stroke-width="0.85" />
<line x1="288.35" y1="433.6" x2="288.35" y2="435.6" stroke="#222" stroke-width="0.8" />
<rect x="300.7" y="431.17" width="3.6" height="2.4299999999999997" fill="#b8102e" />
<line x1="302.5" y1="431.17" x2="302.5" y2="432.38500000000005" stroke="#222" stroke-width="0.9" opacity="0.25"/>
<line x1="302.5" y1="429.95500000000004" x2="302.5" y2="431.47" stroke="#222" stroke-width="0.75" />
<line x1="301.3" y1="429.95500000000004" x2="303.7" y2="429.95500000000004" stroke="#222" stroke-width="0.85" />
<rect x="307.6" y="431.57500000000005" width="3.6" height="2.025" fill="#2ea4dc" />
<line x1="309.40000000000003" y1="431.57500000000005" x2="309.40000000000003" y2="432.62800000000004" stroke="#222" stroke-width="0.9" opacity="0.25"/>
<line x1="309.40000000000003" y1="430.52200000000005" x2="309.40000000000003" y2="431.87500000000006" stroke="#222" stroke-width="0.75" />
<line x1="308.20000000000005" y1="430.52200000000005" x2="310.6" y2="430.52200000000005" stroke="#222" stroke-width="0.85" />
<line x1="306.0" y1="433.6" x2="306.0" y2="435.6" stroke="#222" stroke-width="0.8" />
<rect x="318.34999999999997" y="432.38500000000005" width="3.6" height="1.2149999999999999" fill="#b8102e" />
<line x1="320.15" y1="432.38500000000005" x2="320.15" y2="433.276" stroke="#222" stroke-width="0.9" opacity="0.25"/>
<line x1="320.15" y1="431.494" x2="320.15" y2="432.68500000000006" stroke="#222" stroke-width="0.75" />
<line x1="318.95" y1="431.494" x2="321.34999999999997" y2="431.494" stroke="#222" stroke-width="0.85" />
<rect x="325.25" y="432.38500000000005" width="3.6" height="1.2149999999999999" fill="#2ea4dc" />
<line x1="327.05" y1="432.38500000000005" x2="327.05" y2="433.11400000000003" stroke="#222" stroke-width="0.9" opacity="0.25"/>
<line x1="327.05" y1="431.656" x2="327.05" y2="432.68500000000006" stroke="#222" stroke-width="0.75" />
<line x1="325.85" y1="431.656" x2="328.25" y2="431.656" stroke="#222" stroke-width="0.85" />
<line x1="323.65" y1="433.6" x2="323.65" y2="435.6" stroke="#222" stroke-width="0.8" />
<rect x="336.0" y="431.17" width="3.6" height="2.4299999999999997" fill="#b8102e" />
<line x1="337.8" y1="431.17" x2="337.8" y2="432.38500000000005" stroke="#222" stroke-width="0.9" opacity="0.25"/>
<line x1="337.8" y1="429.95500000000004" x2="337.8" y2="431.47" stroke="#222" stroke-width="0.75" />
<line x1="336.6" y1="429.95500000000004" x2="339.0" y2="429.95500000000004" stroke="#222" stroke-width="0.85" />
<rect x="342.90000000000003" y="431.57500000000005" width="3.6" height="2.025" fill="#2ea4dc" />
<line x1="344.70000000000005" y1="431.57500000000005" x2="344.70000000000005" y2="432.62800000000004" stroke="#222" stroke-width="0.9" opacity="0.25"/>
<line x1="344.70000000000005" y1="430.52200000000005" x2="344.70000000000005" y2="431.87500000000006" stroke="#222" stroke-width="0.75" />
<line x1="343.50000000000006" y1="430.52200000000005" x2="345.90000000000003" y2="430.52200000000005" stroke="#222" stroke-width="0.85" />
<line x1="341.3" y1="433.6" x2="341.3" y2="435.6" stroke="#222" stroke-width="0.8" />
<line x1="227.2" y1="433.6" x2="349" y2="433.6" stroke="#1a1a1a" stroke-width="1.15" />
<text x="0" y="0" font-size="9.2" text-anchor="end" fill="#231f20" stroke="#231f20" stroke-width="0.22" transform="translate(234.8,442.20000000000005) rotate(-45)">LK</text>
<text x="0" y="0" font-size="7.7" text-anchor="end" fill="#231f20" stroke="#231f20" stroke-width="0.22" transform="translate(252.45000000000002,442.20000000000005) rotate(-45)">LSK</text>
<text x="0" y="0" font-size="7.7" text-anchor="end" fill="#231f20" stroke="#231f20" stroke-width="0.22" transform="translate(270.09999999999997,442.20000000000005) rotate(-45)">GMP&amp;CMP</text>
<text x="0" y="0" font-size="7.7" text-anchor="end" fill="#231f20" stroke="#231f20" stroke-width="0.22" transform="translate(287.75,442.20000000000005) rotate(-45)">MEP</text>
<text x="0" y="0" font-size="7.7" text-anchor="end" fill="#231f20" stroke="#231f20" stroke-width="0.22" transform="translate(305.4,442.20000000000005) rotate(-45)">LMPP</text>
<text x="0" y="0" font-size="7.7" text-anchor="end" fill="#231f20" stroke="#231f20" stroke-width="0.22" transform="translate(323.04999999999995,442.20000000000005) rotate(-45)">LT-HSC</text>
<text x="0" y="0" font-size="7.7" text-anchor="end" fill="#231f20" stroke="#231f20" stroke-width="0.22" transform="translate(340.7,442.20000000000005) rotate(-45)">ST-HSC</text>
<text x="288.2" y="345.2" font-size="9.2" text-anchor="middle" font-weight="normal" fill="#231f20" stroke="#231f20" stroke-width="0.22" >Old</text>
<rect x="323.1" y="356.9" width="5.8" height="5.8" fill="#b8102e" />
<text x="331.40000000000003" y="362.3" font-size="7" text-anchor="start" font-weight="normal" fill="#231f20" stroke="#231f20" stroke-width="0.22" >WT</text>
<rect x="323.1" y="367.7" width="5.8" height="5.8" fill="#2ea4dc" />
<text x="331.40000000000003" y="373.1" font-size="7" text-anchor="start" font-weight="normal" fill="#231f20" stroke="#231f20" stroke-width="0.22" >KO</text>
<line x1="392.3" y1="352.59999999999997" x2="392.3" y2="434.3" stroke="#1a1a1a" stroke-width="1.15" />
<line x1="390.1" y1="433.8" x2="392.3" y2="433.8" stroke="#222" stroke-width="0.8" />
<text x="386.3" y="436.5" font-size="7.7" text-anchor="end" font-weight="normal" fill="#231f20" stroke="#231f20" stroke-width="0.22" >0.0</text>
<line x1="390.1" y1="407.0" x2="392.3" y2="407.0" stroke="#222" stroke-width="0.8" />
<text x="386.3" y="409.7" font-size="7.7" text-anchor="end" font-weight="normal" fill="#231f20" stroke="#231f20" stroke-width="0.22" >0.5</text>
<line x1="390.1" y1="380.2" x2="392.3" y2="380.2" stroke="#222" stroke-width="0.8" />
<text x="386.3" y="382.9" font-size="7.7" text-anchor="end" font-weight="normal" fill="#231f20" stroke="#231f20" stroke-width="0.22" >1.0</text>
<line x1="390.1" y1="353.4" x2="392.3" y2="353.4" stroke="#222" stroke-width="0.8" />
<text x="386.3" y="356.09999999999997" font-size="7.7" text-anchor="end" font-weight="normal" fill="#231f20" stroke="#231f20" stroke-width="0.22" >1.5</text>
<rect x="395.2" y="379.128" width="3.5" height="54.672000000000004" fill="#b8102e" />
<line x1="396.95" y1="379.128" x2="396.95" y2="382.344" stroke="#222" stroke-width="0.9" opacity="0.25"/>
<line x1="396.95" y1="375.91200000000003" x2="396.95" y2="379.428" stroke="#222" stroke-width="0.75" />
<line x1="395.75" y1="375.91200000000003" x2="398.15" y2="375.91200000000003" stroke="#222" stroke-width="0.85" />
<rect x="401.5" y="381.272" width="3.5" height="52.528" fill="#2ea4dc" />
<line x1="403.25" y1="381.272" x2="403.25" y2="385.024" stroke="#222" stroke-width="0.9" opacity="0.25"/>
<line x1="403.25" y1="377.52" x2="403.25" y2="381.572" stroke="#222" stroke-width="0.75" />
<line x1="402.05" y1="377.52" x2="404.45" y2="377.52" stroke="#222" stroke-width="0.85" />
<line x1="400.3" y1="433.8" x2="400.3" y2="435.8" stroke="#222" stroke-width="0.8" />
<rect x="412.8" y="422.00800000000004" width="3.5" height="11.792" fill="#b8102e" />
<line x1="414.55" y1="422.00800000000004" x2="414.55" y2="426.832" stroke="#222" stroke-width="0.9" opacity="0.25"/>
<line x1="414.55" y1="417.184" x2="414.55" y2="422.30800000000005" stroke="#222" stroke-width="0.75" />
<line x1="413.35" y1="417.184" x2="415.75" y2="417.184" stroke="#222" stroke-width="0.85" />
<rect x="419.1" y="425.224" width="3.5" height="8.576" fill="#2ea4dc" />
<line x1="420.85" y1="425.224" x2="420.85" y2="426.296" stroke="#222" stroke-width="0.9" opacity="0.25"/>
<line x1="420.85" y1="424.152" x2="420.85" y2="425.524" stroke="#222" stroke-width="0.75" />
<line x1="419.65000000000003" y1="424.152" x2="422.05" y2="424.152" stroke="#222" stroke-width="0.85" />
<line x1="417.90000000000003" y1="433.8" x2="417.90000000000003" y2="435.8" stroke="#222" stroke-width="0.8" />
<rect x="430.4" y="397.35200000000003" width="3.5" height="36.448" fill="#b8102e" />
<line x1="432.15" y1="397.35200000000003" x2="432.15" y2="399.496" stroke="#222" stroke-width="0.9" opacity="0.25"/>
<line x1="432.15" y1="395.208" x2="432.15" y2="397.65200000000004" stroke="#222" stroke-width="0.75" />
<line x1="430.95" y1="395.208" x2="433.34999999999997" y2="395.208" stroke="#222" stroke-width="0.85" />
<rect x="436.7" y="402.176" width="3.5" height="31.624" fill="#2ea4dc" />
<line x1="438.45" y1="402.176" x2="438.45" y2="404.856" stroke="#222" stroke-width="0.9" opacity="0.25"/>
<line x1="438.45" y1="399.496" x2="438.45" y2="402.476" stroke="#222" stroke-width="0.75" />
<line x1="437.25" y1="399.496" x2="439.65" y2="399.496" stroke="#222" stroke-width="0.85" />
<line x1="435.5" y1="433.8" x2="435.5" y2="435.8" stroke="#222" stroke-width="0.8" />
<rect x="448.0" y="425.224" width="3.5" height="8.576" fill="#b8102e" />
<line x1="449.75" y1="425.224" x2="449.75" y2="426.296" stroke="#222" stroke-width="0.9" opacity="0.25"/>
<line x1="449.75" y1="424.152" x2="449.75" y2="425.524" stroke="#222" stroke-width="0.75" />
<line x1="448.55" y1="424.152" x2="450.95" y2="424.152" stroke="#222" stroke-width="0.85" />
<rect x="454.3" y="424.688" width="3.5" height="9.112" fill="#2ea4dc" />
<line x1="456.05" y1="424.688" x2="456.05" y2="426.832" stroke="#222" stroke-width="0.9" opacity="0.25"/>
<line x1="456.05" y1="422.544" x2="456.05" y2="424.988" stroke="#222" stroke-width="0.75" />
<line x1="454.85" y1="422.544" x2="457.25" y2="422.544" stroke="#222" stroke-width="0.85" />
<line x1="453.1" y1="433.8" x2="453.1" y2="435.8" stroke="#222" stroke-width="0.8" />
<rect x="465.6" y="428.44" width="3.5" height="5.36" fill="#b8102e" />
<line x1="467.35" y1="428.44" x2="467.35" y2="429.78000000000003" stroke="#222" stroke-width="0.9" opacity="0.25"/>
<line x1="467.35" y1="427.1" x2="467.35" y2="428.74" stroke="#222" stroke-width="0.75" />
<line x1="466.15000000000003" y1="427.1" x2="468.55" y2="427.1" stroke="#222" stroke-width="0.85" />
<rect x="471.90000000000003" y="431.656" width="3.5" height="2.144" fill="#2ea4dc" />
<line x1="473.65000000000003" y1="431.656" x2="473.65000000000003" y2="432.46000000000004" stroke="#222" stroke-width="0.9" opacity="0.25"/>
<line x1="473.65000000000003" y1="430.85200000000003" x2="473.65000000000003" y2="431.956" stroke="#222" stroke-width="0.75" />
<line x1="472.45000000000005" y1="430.85200000000003" x2="474.85" y2="430.85200000000003" stroke="#222" stroke-width="0.85" />
<line x1="470.70000000000005" y1="433.8" x2="470.70000000000005" y2="435.8" stroke="#222" stroke-width="0.8" />
<rect x="483.2" y="432.728" width="3.5" height="1.072" fill="#b8102e" />
<line x1="484.95" y1="432.728" x2="484.95" y2="433.3712" stroke="#222" stroke-width="0.9" opacity="0.25"/>
<line x1="484.95" y1="432.08480000000003" x2="484.95" y2="433.028" stroke="#222" stroke-width="0.75" />
<line x1="483.75" y1="432.08480000000003" x2="486.15" y2="432.08480000000003" stroke="#222" stroke-width="0.85" />
<rect x="489.5" y="432.99600000000004" width="3.5" height="0.8039999999999999" fill="#2ea4dc" />
<line x1="491.25" y1="432.99600000000004" x2="491.25" y2="433.6392" stroke="#222" stroke-width="0.9" opacity="0.25"/>
<line x1="491.25" y1="432.3528" x2="491.25" y2="433.29600000000005" stroke="#222" stroke-width="0.75" />
<line x1="490.05" y1="432.3528" x2="492.45" y2="432.3528" stroke="#222" stroke-width="0.85" />
<line x1="488.3" y1="433.8" x2="488.3" y2="435.8" stroke="#222" stroke-width="0.8" />
<rect x="500.8" y="431.656" width="3.5" height="2.144" fill="#b8102e" />
<line x1="502.55" y1="431.656" x2="502.55" y2="432.46000000000004" stroke="#222" stroke-width="0.9" opacity="0.25"/>
<line x1="502.55" y1="430.85200000000003" x2="502.55" y2="431.956" stroke="#222" stroke-width="0.75" />
<line x1="501.35" y1="430.85200000000003" x2="503.75" y2="430.85200000000003" stroke="#222" stroke-width="0.85" />
<rect x="507.1" y="432.192" width="3.5" height="1.6079999999999999" fill="#2ea4dc" />
<line x1="508.85" y1="432.192" x2="508.85" y2="432.8352" stroke="#222" stroke-width="0.9" opacity="0.25"/>
<line x1="508.85" y1="431.5488" x2="508.85" y2="432.492" stroke="#222" stroke-width="0.75" />
<line x1="507.65000000000003" y1="431.5488" x2="510.05" y2="431.5488" stroke="#222" stroke-width="0.85" />
<line x1="505.90000000000003" y1="433.8" x2="505.90000000000003" y2="435.8" stroke="#222" stroke-width="0.8" />
<line x1="391.8" y1="433.8" x2="513.3" y2="433.8" stroke="#1a1a1a" stroke-width="1.15" />
<text x="0" y="0" font-size="9.2" text-anchor="end" fill="#231f20" stroke="#231f20" stroke-width="0.22" transform="translate(399.7,442.40000000000003) rotate(-45)">LK</text>
<text x="0" y="0" font-size="7.7" text-anchor="end" fill="#231f20" stroke="#231f20" stroke-width="0.22" transform="translate(417.3,442.40000000000003) rotate(-45)">LSK</text>
<text x="0" y="0" font-size="7.7" text-anchor="end" fill="#231f20" stroke="#231f20" stroke-width="0.22" transform="translate(434.9,442.40000000000003) rotate(-45)">GMP&amp;CMP</text>
<text x="0" y="0" font-size="7.7" text-anchor="end" fill="#231f20" stroke="#231f20" stroke-width="0.22" transform="translate(452.5,442.40000000000003) rotate(-45)">MEP</text>
<text x="0" y="0" font-size="7.7" text-anchor="end" fill="#231f20" stroke="#231f20" stroke-width="0.22" transform="translate(470.1,442.40000000000003) rotate(-45)">LMPP</text>
<text x="0" y="0" font-size="7.7" text-anchor="end" fill="#231f20" stroke="#231f20" stroke-width="0.22" transform="translate(487.7,442.40000000000003) rotate(-45)">LT-HSC</text>
<text x="0" y="0" font-size="7.7" text-anchor="end" fill="#231f20" stroke="#231f20" stroke-width="0.22" transform="translate(505.3,442.40000000000003) rotate(-45)">ST-HSC</text>
<text x="453" y="345.2" font-size="9.2" text-anchor="middle" font-weight="normal" fill="#231f20" stroke="#231f20" stroke-width="0.22" >Young</text>
<rect x="489" y="357.1" width="5.5" height="5.5" fill="#b8102e" />
<text x="497.3" y="362.20000000000005" font-size="7" text-anchor="start" font-weight="normal" fill="#231f20" stroke="#231f20" stroke-width="0.22" >WT</text>
<rect x="489" y="368.0" width="5.5" height="5.5" fill="#2ea4dc" />
<text x="497.3" y="373.1" font-size="7" text-anchor="start" font-weight="normal" fill="#231f20" stroke="#231f20" stroke-width="0.22" >KO</text>
<text x="0" y="0" font-size="7.8" text-anchor="middle" fill="#231f20" stroke="#231f20" stroke-width="0.2" textLength="39" lengthAdjust="spacingAndGlyphs" transform="translate(205.7,392) rotate(-90)">% of live cells</text>
<text x="0" y="0" font-size="7.8" text-anchor="middle" fill="#231f20" stroke="#231f20" stroke-width="0.2" textLength="39" lengthAdjust="spacingAndGlyphs" transform="translate(370.7,392) rotate(-90)">% of live cells</text>
<rect x="0.5" y="0.5" width="519" height="477" fill="none" stroke="#666" stroke-width="1.2"/>
</g>
</svg>
</body></html>
